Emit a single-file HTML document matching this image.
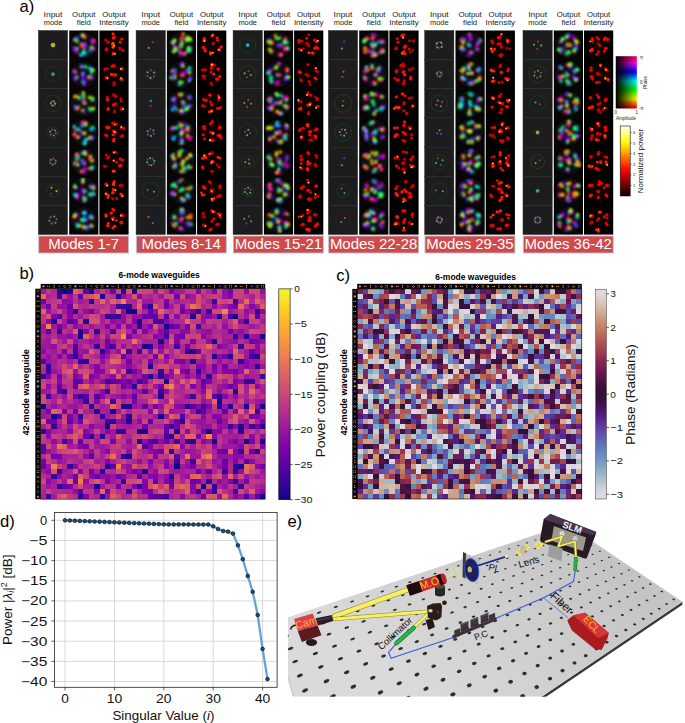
<!DOCTYPE html><html><head><meta charset="utf-8"><style>
html,body{margin:0;padding:0;background:#fff;}
body{width:685px;height:723px;overflow:hidden;position:relative;}
svg{position:absolute;left:0;top:0;}
text{font-family:'Liberation Sans',sans-serif;}
</style></head><body>
<svg width="685" height="723" viewBox="0 0 685 723">
<defs>
<filter id="bl1" x="-50%" y="-50%" width="200%" height="200%"><feGaussianBlur stdDeviation="0.9"/></filter>
<filter id="bl2" x="-50%" y="-50%" width="200%" height="200%"><feGaussianBlur stdDeviation="1.4"/></filter>
<filter id="bl07" x="-50%" y="-50%" width="200%" height="200%"><feGaussianBlur stdDeviation="0.85"/></filter>
<filter id="bl06" x="-50%" y="-50%" width="200%" height="200%"><feGaussianBlur stdDeviation="0.7"/></filter>
<filter id="bl05" x="-50%" y="-50%" width="200%" height="200%"><feGaussianBlur stdDeviation="0.5"/></filter>
</defs>
<rect width="685" height="723" fill="#fff"/>

<text x="19.6" y="11.7" font-size="16.6">a)</text>
<text x="53.0" y="17.4" font-size="7" text-anchor="middle" fill="#222" textLength="18.8" lengthAdjust="spacingAndGlyphs">Input</text>
<text x="53.0" y="25.3" font-size="7" text-anchor="middle" fill="#222" textLength="18.6" lengthAdjust="spacingAndGlyphs">mode</text>
<text x="83.8" y="17.4" font-size="7" text-anchor="middle" fill="#222" textLength="23.4" lengthAdjust="spacingAndGlyphs">Output</text>
<text x="83.8" y="25.3" font-size="7" text-anchor="middle" fill="#222" textLength="14.0" lengthAdjust="spacingAndGlyphs">field</text>
<text x="114.0" y="17.4" font-size="7" text-anchor="middle" fill="#222" textLength="23.4" lengthAdjust="spacingAndGlyphs">Output</text>
<text x="114.0" y="25.3" font-size="7" text-anchor="middle" fill="#222" textLength="29.6" lengthAdjust="spacingAndGlyphs">Intensity</text>
<rect x="69.2" y="30.5" width="29.2" height="204.1" fill="#060606"/>
<rect x="99.4" y="30.5" width="29.2" height="204.1" fill="#000"/>
<rect x="38.4" y="30.5" width="29.2" height="29.1" fill="#1d1d1d" stroke="#262626" stroke-width="0.5"/>
<g filter="url(#bl05)">
<circle cx="53.0" cy="45.1" r="8.5" fill="none" stroke="#2c1638" stroke-width="1"/>
<circle cx="53.0" cy="45.1" r="2.4" fill="#b0b22d"/>
</g>
<circle cx="83.8" cy="45.1" r="13" fill="#0c0a10" filter="url(#bl2)"/>
<g filter="url(#bl07)">
<circle cx="82.8" cy="47.1" r="1.62" fill="#ff2700"/>
<circle cx="81.8" cy="46.7" r="0.89" fill="#c4ff00"/>
<circle cx="85.8" cy="47.0" r="1.91" fill="#000eff"/>
<circle cx="85.0" cy="47.8" r="1.05" fill="#ff00f8"/>
<circle cx="84.8" cy="44.0" r="1.81" fill="#0075ff"/>
<circle cx="85.6" cy="44.8" r="1.00" fill="#9f00ff"/>
<circle cx="81.5" cy="44.8" r="2.16" fill="#ff008b"/>
<circle cx="81.6" cy="43.7" r="1.19" fill="#ff8800"/>
<circle cx="93.9" cy="48.9" r="1.85" fill="#b900d6"/>
<circle cx="93.8" cy="50.0" r="1.02" fill="#d6000c"/>
<circle cx="91.9" cy="48.0" r="1.91" fill="#0033e0"/>
<circle cx="92.9" cy="48.5" r="1.05" fill="#bf00e0"/>
<circle cx="91.4" cy="47.5" r="1.71" fill="#b0da00"/>
<circle cx="92.5" cy="47.4" r="0.94" fill="#00da3b"/>
<circle cx="90.0" cy="51.0" r="1.76" fill="#007ad9"/>
<circle cx="89.1" cy="50.4" r="0.97" fill="#7100d9"/>
<circle cx="81.2" cy="54.6" r="2.14" fill="#00e7ff"/>
<circle cx="80.8" cy="53.6" r="1.18" fill="#2c00ff"/>
<circle cx="83.7" cy="51.7" r="1.85" fill="#00ff8f"/>
<circle cx="84.8" cy="51.7" r="1.02" fill="#005cff"/>
<circle cx="84.6" cy="53.2" r="2.17" fill="#00ff94"/>
<circle cx="85.1" cy="54.2" r="1.19" fill="#0057ff"/>
<circle cx="75.9" cy="51.0" r="1.98" fill="#0d00dc"/>
<circle cx="74.8" cy="51.0" r="1.09" fill="#dc00bd"/>
<circle cx="77.4" cy="48.3" r="1.63" fill="#00d453"/>
<circle cx="77.6" cy="49.4" r="0.90" fill="#0071d4"/>
<circle cx="76.5" cy="51.1" r="1.96" fill="#d300ca"/>
<circle cx="75.5" cy="51.4" r="1.08" fill="#d31a00"/>
<circle cx="74.0" cy="48.8" r="2.18" fill="#0009d6"/>
<circle cx="73.8" cy="47.7" r="1.20" fill="#d600ce"/>
<circle cx="74.8" cy="39.6" r="1.85" fill="#bbd000"/>
<circle cx="75.5" cy="38.8" r="1.02" fill="#00d026"/>
<circle cx="76.4" cy="38.6" r="2.15" fill="#4f00d1"/>
<circle cx="77.5" cy="38.8" r="1.18" fill="#d10071"/>
<circle cx="77.0" cy="38.6" r="1.63" fill="#00bddc"/>
<circle cx="78.0" cy="39.0" r="0.90" fill="#3000dc"/>
<circle cx="77.0" cy="41.2" r="1.71" fill="#66d300"/>
<circle cx="76.8" cy="42.3" r="0.94" fill="#00d37e"/>
<circle cx="82.6" cy="36.1" r="2.01" fill="#006ded"/>
<circle cx="83.0" cy="35.1" r="1.10" fill="#9400ed"/>
<circle cx="84.8" cy="36.7" r="2.09" fill="#f8005c"/>
<circle cx="84.6" cy="37.8" r="1.15" fill="#f8b000"/>
<circle cx="82.3" cy="34.8" r="1.62" fill="#d4f900"/>
<circle cx="83.2" cy="34.2" r="0.89" fill="#00f939"/>
<circle cx="93.8" cy="40.5" r="1.79" fill="#f64b00"/>
<circle cx="94.1" cy="41.5" r="0.98" fill="#98f600"/>
<circle cx="93.0" cy="42.4" r="2.12" fill="#c100f5"/>
<circle cx="92.2" cy="43.2" r="1.16" fill="#f50021"/>
<circle cx="91.7" cy="40.1" r="1.72" fill="#9900ff"/>
<circle cx="92.8" cy="40.4" r="0.95" fill="#ff0051"/>
</g>
<circle cx="114.0" cy="45.1" r="11.5" fill="#0e0000" filter="url(#bl2)"/>
<g filter="url(#bl06)">
<circle cx="112.3" cy="44.2" r="1.26" fill="#ff3a00"/>
<circle cx="113.0" cy="43.5" r="1.68" fill="#ff4700"/>
<circle cx="113.1" cy="46.9" r="1.74" fill="#ff4900"/>
<circle cx="119.5" cy="47.8" r="1.35" fill="#d20000"/>
<circle cx="120.0" cy="49.3" r="1.43" fill="#ca0000"/>
<circle cx="123.0" cy="50.2" r="1.43" fill="#dd0000"/>
<circle cx="113.0" cy="53.4" r="1.40" fill="#ff0a00"/>
<circle cx="113.3" cy="53.9" r="1.55" fill="#ff2200"/>
<circle cx="106.7" cy="49.1" r="1.74" fill="#c50000"/>
<circle cx="106.0" cy="49.7" r="1.57" fill="#d50000"/>
<circle cx="106.7" cy="49.9" r="1.43" fill="#d70000"/>
<circle cx="108.0" cy="42.2" r="1.70" fill="#cf0000"/>
<circle cx="105.8" cy="39.9" r="1.51" fill="#c00000"/>
<circle cx="113.4" cy="38.1" r="1.74" fill="#ff1200"/>
<circle cx="114.2" cy="37.1" r="1.59" fill="#ff1500"/>
<circle cx="113.1" cy="33.9" r="1.71" fill="#ff1a00"/>
<circle cx="120.2" cy="42.2" r="1.66" fill="#ff0200"/>
<circle cx="121.7" cy="39.1" r="1.43" fill="#ff0d00"/>
</g>
<g filter="url(#bl05)">
<circle cx="114.3" cy="45.4" r="0.91" fill="#ff9d00"/>
<circle cx="114.3" cy="45.4" r="0.5" fill="#ffe890"/>
<circle cx="115.0" cy="53.8" r="1.06" fill="#ff7900"/>
<circle cx="115.0" cy="53.8" r="0.5" fill="#ffe890"/>
</g>
<rect x="38.4" y="59.6" width="29.2" height="29.1" fill="#1d1d1d" stroke="#262626" stroke-width="0.5"/>
<g filter="url(#bl05)">
<circle cx="53.0" cy="74.2" r="7.6" fill="none" stroke="#163820" stroke-width="1"/>
<circle cx="53.0" cy="74.2" r="1.9" fill="#2d8cb2"/>
</g>
<circle cx="83.8" cy="74.2" r="13" fill="#0c0a10" filter="url(#bl2)"/>
<g filter="url(#bl07)">
<circle cx="83.3" cy="76.6" r="2.17" fill="#3700ff"/>
<circle cx="82.2" cy="76.4" r="1.19" fill="#ff00b3"/>
<circle cx="82.3" cy="74.9" r="1.80" fill="#2700ff"/>
<circle cx="81.9" cy="73.9" r="0.99" fill="#ff00c4"/>
<circle cx="83.2" cy="73.2" r="1.64" fill="#00b0ff"/>
<circle cx="84.2" cy="72.6" r="0.90" fill="#6400ff"/>
<circle cx="91.2" cy="77.6" r="1.85" fill="#fd003f"/>
<circle cx="92.3" cy="77.4" r="1.01" fill="#fdd200"/>
<circle cx="91.0" cy="76.6" r="1.94" fill="#5d00f1"/>
<circle cx="92.1" cy="76.4" r="1.07" fill="#f10081"/>
<circle cx="88.8" cy="77.4" r="1.98" fill="#fd3c00"/>
<circle cx="89.2" cy="76.4" r="1.09" fill="#acfd00"/>
<circle cx="90.4" cy="78.1" r="1.72" fill="#006cf5"/>
<circle cx="90.8" cy="77.0" r="0.94" fill="#9d00f5"/>
<circle cx="84.5" cy="84.4" r="1.93" fill="#6c00d7"/>
<circle cx="83.5" cy="84.8" r="1.06" fill="#d7005a"/>
<circle cx="84.6" cy="81.2" r="2.01" fill="#003cd9"/>
<circle cx="85.6" cy="81.6" r="1.10" fill="#ae00d9"/>
<circle cx="82.9" cy="81.6" r="2.05" fill="#0089d3"/>
<circle cx="83.8" cy="80.9" r="1.13" fill="#5b00d3"/>
<circle cx="75.0" cy="79.6" r="1.80" fill="#7600dd"/>
<circle cx="74.3" cy="78.8" r="0.99" fill="#dd0056"/>
<circle cx="77.0" cy="77.1" r="1.87" fill="#e200d3"/>
<circle cx="78.0" cy="77.6" r="1.03" fill="#e22200"/>
<circle cx="76.1" cy="77.6" r="1.95" fill="#00e34d"/>
<circle cx="77.2" cy="77.4" r="1.07" fill="#0084e3"/>
<circle cx="74.3" cy="77.7" r="1.85" fill="#0f00df"/>
<circle cx="74.7" cy="76.7" r="1.02" fill="#df00be"/>
<circle cx="75.5" cy="72.2" r="1.81" fill="#00dd81"/>
<circle cx="74.4" cy="72.0" r="1.00" fill="#004add"/>
<circle cx="74.4" cy="71.4" r="2.13" fill="#0070dc"/>
<circle cx="74.0" cy="70.4" r="1.17" fill="#7d00dc"/>
<circle cx="74.9" cy="71.8" r="2.01" fill="#d60094"/>
<circle cx="74.1" cy="71.0" r="1.11" fill="#d65300"/>
<circle cx="85.9" cy="66.8" r="1.72" fill="#1dea00"/>
<circle cx="85.4" cy="67.7" r="0.95" fill="#00eae0"/>
<circle cx="81.5" cy="66.8" r="2.06" fill="#e100e9"/>
<circle cx="81.0" cy="65.8" r="1.13" fill="#e90b00"/>
<circle cx="82.1" cy="66.0" r="1.79" fill="#00a5e3"/>
<circle cx="81.9" cy="65.0" r="0.98" fill="#5100e3"/>
<circle cx="91.0" cy="68.5" r="1.87" fill="#6500ff"/>
<circle cx="92.2" cy="68.7" r="1.03" fill="#ff0085"/>
<circle cx="92.9" cy="70.2" r="1.83" fill="#85ff00"/>
<circle cx="92.5" cy="71.3" r="1.00" fill="#00ff8e"/>
<circle cx="90.1" cy="68.4" r="1.98" fill="#00ffdb"/>
<circle cx="90.9" cy="67.7" r="1.09" fill="#000fff"/>
<circle cx="91.7" cy="72.0" r="1.75" fill="#42fa00"/>
<circle cx="90.7" cy="72.3" r="0.96" fill="#00facc"/>
</g>
<circle cx="114.0" cy="74.2" r="11.5" fill="#0e0000" filter="url(#bl2)"/>
<g filter="url(#bl06)">
<circle cx="115.3" cy="74.8" r="1.63" fill="#ff1f00"/>
<circle cx="114.3" cy="75.0" r="1.66" fill="#ff0a00"/>
<circle cx="111.6" cy="74.4" r="1.57" fill="#ff1a00"/>
<circle cx="121.0" cy="79.2" r="1.49" fill="#ff1200"/>
<circle cx="122.4" cy="79.5" r="1.28" fill="#ff1d00"/>
<circle cx="114.7" cy="82.7" r="1.30" fill="#c00000"/>
<circle cx="113.6" cy="82.9" r="1.30" fill="#c50000"/>
<circle cx="113.9" cy="85.0" r="1.57" fill="#c00000"/>
<circle cx="106.9" cy="77.7" r="1.74" fill="#e20000"/>
<circle cx="106.2" cy="77.9" r="1.56" fill="#da0000"/>
<circle cx="106.7" cy="77.5" r="1.73" fill="#e20000"/>
<circle cx="107.2" cy="68.8" r="1.57" fill="#d20000"/>
<circle cx="105.1" cy="69.2" r="1.77" fill="#ca0000"/>
<circle cx="113.3" cy="65.6" r="1.62" fill="#f40000"/>
<circle cx="111.8" cy="66.7" r="1.40" fill="#f70000"/>
<circle cx="114.5" cy="66.0" r="1.38" fill="#e40000"/>
<circle cx="122.1" cy="69.0" r="1.61" fill="#ff2c00"/>
<circle cx="122.0" cy="68.3" r="1.67" fill="#ff0200"/>
</g>
<g filter="url(#bl05)">
<circle cx="121.1" cy="78.0" r="1.11" fill="#ff6b00"/>
<circle cx="121.1" cy="78.0" r="0.5" fill="#ffe890"/>
<circle cx="107.4" cy="78.3" r="0.98" fill="#ffa500"/>
<circle cx="107.4" cy="78.3" r="0.5" fill="#ffe890"/>
<circle cx="120.8" cy="68.9" r="0.98" fill="#ff9300"/>
<circle cx="120.8" cy="68.9" r="0.5" fill="#ffe890"/>
</g>
<rect x="38.4" y="88.8" width="29.2" height="29.1" fill="#1d1d1d" stroke="#262626" stroke-width="0.5"/>
<g filter="url(#bl05)">
<circle cx="53.0" cy="103.4" r="8.1" fill="none" stroke="#382e16" stroke-width="1"/>
<circle cx="52.6" cy="105.6" r="1.05" fill="#b2952d"/>
<circle cx="51.2" cy="104.7" r="1.05" fill="#2d4ab2"/>
<circle cx="50.8" cy="103.0" r="1.05" fill="#b2952d"/>
<circle cx="51.7" cy="101.5" r="1.05" fill="#2d4ab2"/>
<circle cx="53.4" cy="101.2" r="1.05" fill="#b2952d"/>
<circle cx="54.8" cy="102.0" r="1.05" fill="#2d4ab2"/>
<circle cx="55.2" cy="103.7" r="1.05" fill="#b2952d"/>
<circle cx="54.3" cy="105.2" r="1.05" fill="#2d4ab2"/>
</g>
<circle cx="83.8" cy="103.4" r="13" fill="#0c0a10" filter="url(#bl2)"/>
<g filter="url(#bl07)">
<circle cx="84.5" cy="102.9" r="1.88" fill="#01e300"/>
<circle cx="85.1" cy="103.8" r="1.03" fill="#00d2e3"/>
<circle cx="84.6" cy="102.9" r="1.91" fill="#e3e900"/>
<circle cx="85.2" cy="103.9" r="1.05" fill="#00e919"/>
<circle cx="83.8" cy="101.7" r="2.19" fill="#e6c300"/>
<circle cx="84.8" cy="101.7" r="1.20" fill="#11e600"/>
<circle cx="83.8" cy="102.3" r="2.07" fill="#c300e5"/>
<circle cx="84.9" cy="102.3" r="1.14" fill="#e50010"/>
<circle cx="93.1" cy="108.8" r="2.00" fill="#dad500"/>
<circle cx="93.0" cy="109.9" r="1.10" fill="#00da0c"/>
<circle cx="89.5" cy="108.6" r="1.63" fill="#d8b400"/>
<circle cx="89.5" cy="107.5" r="0.90" fill="#12d800"/>
<circle cx="90.8" cy="109.7" r="1.95" fill="#00d9ab"/>
<circle cx="89.7" cy="109.9" r="1.07" fill="#001cd9"/>
<circle cx="90.4" cy="109.5" r="1.75" fill="#03df00"/>
<circle cx="89.3" cy="109.3" r="0.96" fill="#00d0df"/>
<circle cx="83.1" cy="110.3" r="1.79" fill="#de0097"/>
<circle cx="84.2" cy="110.4" r="0.98" fill="#de5a00"/>
<circle cx="82.9" cy="110.6" r="1.96" fill="#d7b400"/>
<circle cx="84.0" cy="110.5" r="1.08" fill="#12d700"/>
<circle cx="84.0" cy="111.5" r="1.68" fill="#3b00d8"/>
<circle cx="84.5" cy="112.5" r="0.92" fill="#d8008c"/>
<circle cx="78.4" cy="107.1" r="1.66" fill="#ffc500"/>
<circle cx="78.6" cy="108.2" r="0.91" fill="#25ff00"/>
<circle cx="77.5" cy="108.3" r="2.15" fill="#ec0058"/>
<circle cx="76.9" cy="109.2" r="1.18" fill="#eca700"/>
<circle cx="75.5" cy="106.9" r="1.94" fill="#0092f9"/>
<circle cx="76.2" cy="106.0" r="1.07" fill="#7a00f9"/>
<circle cx="75.2" cy="96.4" r="1.85" fill="#f7e800"/>
<circle cx="76.2" cy="95.9" r="1.02" fill="#00f705"/>
<circle cx="77.0" cy="96.4" r="1.87" fill="#e9000b"/>
<circle cx="78.1" cy="96.6" r="1.03" fill="#e2e900"/>
<circle cx="79.0" cy="98.0" r="1.84" fill="#00fa3b"/>
<circle cx="79.4" cy="99.0" r="1.01" fill="#00abfa"/>
<circle cx="82.7" cy="96.4" r="1.83" fill="#00d8b3"/>
<circle cx="81.9" cy="95.7" r="1.01" fill="#0014d8"/>
<circle cx="83.4" cy="95.2" r="1.94" fill="#dd5100"/>
<circle cx="82.9" cy="94.2" r="1.07" fill="#7add00"/>
<circle cx="83.2" cy="92.7" r="1.77" fill="#84d500"/>
<circle cx="84.2" cy="92.2" r="0.97" fill="#00d562"/>
<circle cx="83.6" cy="97.0" r="1.98" fill="#00d735"/>
<circle cx="82.5" cy="96.6" r="1.09" fill="#0091d7"/>
<circle cx="92.8" cy="100.1" r="1.98" fill="#7700dc"/>
<circle cx="92.1" cy="101.0" r="1.09" fill="#dc0054"/>
<circle cx="92.6" cy="99.1" r="1.81" fill="#0075db"/>
<circle cx="92.4" cy="100.2" r="0.99" fill="#7800db"/>
<circle cx="89.5" cy="97.5" r="1.65" fill="#e3d200"/>
<circle cx="90.2" cy="96.7" r="0.91" fill="#00e301"/>
<circle cx="92.2" cy="98.5" r="2.19" fill="#69da00"/>
<circle cx="92.5" cy="99.6" r="1.21" fill="#00da83"/>
</g>
<circle cx="114.0" cy="103.4" r="11.5" fill="#0e0000" filter="url(#bl2)"/>
<g filter="url(#bl06)">
<circle cx="113.6" cy="105.1" r="1.77" fill="#ff0000"/>
<circle cx="115.5" cy="103.8" r="1.62" fill="#f20000"/>
<circle cx="121.4" cy="108.7" r="1.25" fill="#d20000"/>
<circle cx="121.2" cy="109.8" r="1.22" fill="#c80000"/>
<circle cx="122.1" cy="108.0" r="1.63" fill="#ca0000"/>
<circle cx="114.7" cy="110.8" r="1.39" fill="#c50000"/>
<circle cx="114.2" cy="112.1" r="1.28" fill="#c20000"/>
<circle cx="107.8" cy="109.5" r="1.40" fill="#ff0800"/>
<circle cx="108.3" cy="108.6" r="1.53" fill="#ff1500"/>
<circle cx="107.5" cy="99.5" r="1.77" fill="#fc0000"/>
<circle cx="107.4" cy="97.2" r="1.21" fill="#f90000"/>
<circle cx="115.9" cy="96.2" r="1.67" fill="#d50000"/>
<circle cx="113.7" cy="95.0" r="1.71" fill="#c50000"/>
<circle cx="121.3" cy="101.1" r="1.39" fill="#d70000"/>
<circle cx="120.7" cy="98.7" r="1.32" fill="#da0000"/>
</g>
<g filter="url(#bl05)">
<circle cx="123.0" cy="109.3" r="1.05" fill="#ffa000"/>
<circle cx="123.0" cy="109.3" r="0.5" fill="#ffe890"/>
</g>
<rect x="38.4" y="118.0" width="29.2" height="29.1" fill="#1d1d1d" stroke="#262626" stroke-width="0.5"/>
<g filter="url(#bl05)">
<circle cx="53.0" cy="132.5" r="5.6" fill="none" stroke="#213816" stroke-width="1"/>
<circle cx="55.9" cy="133.4" r="1.05" fill="#b22d80"/>
<circle cx="53.7" cy="135.5" r="1.05" fill="#2db25f"/>
<circle cx="50.8" cy="134.6" r="1.05" fill="#b22d80"/>
<circle cx="50.1" cy="131.6" r="1.05" fill="#2db25f"/>
<circle cx="52.3" cy="129.6" r="1.05" fill="#b22d80"/>
<circle cx="55.2" cy="130.5" r="1.05" fill="#2db25f"/>
</g>
<circle cx="83.8" cy="132.5" r="13" fill="#0c0a10" filter="url(#bl2)"/>
<g filter="url(#bl07)">
<circle cx="81.2" cy="132.4" r="1.68" fill="#0900ee"/>
<circle cx="81.3" cy="131.3" r="0.93" fill="#ee00d2"/>
<circle cx="84.7" cy="132.5" r="1.61" fill="#32ff00"/>
<circle cx="84.7" cy="133.6" r="0.88" fill="#00ffe2"/>
<circle cx="84.5" cy="133.6" r="1.96" fill="#f98100"/>
<circle cx="83.5" cy="134.2" r="1.08" fill="#64f900"/>
<circle cx="91.0" cy="137.4" r="1.94" fill="#c700e6"/>
<circle cx="90.0" cy="137.0" r="1.07" fill="#e6000c"/>
<circle cx="92.6" cy="137.9" r="2.12" fill="#0032df"/>
<circle cx="91.8" cy="138.7" r="1.17" fill="#bf00df"/>
<circle cx="90.0" cy="137.7" r="2.06" fill="#e19a00"/>
<circle cx="89.3" cy="136.8" r="1.13" fill="#35e100"/>
<circle cx="85.1" cy="143.8" r="1.85" fill="#5000fa"/>
<circle cx="84.0" cy="143.7" r="1.02" fill="#fa0096"/>
<circle cx="85.5" cy="139.9" r="1.91" fill="#0029ff"/>
<circle cx="86.5" cy="140.1" r="1.05" fill="#ea00ff"/>
<circle cx="86.5" cy="139.8" r="2.15" fill="#00f6c2"/>
<circle cx="87.3" cy="140.5" r="1.18" fill="#0020f6"/>
<circle cx="84.4" cy="143.0" r="2.17" fill="#00ff74"/>
<circle cx="83.4" cy="142.6" r="1.19" fill="#0076ff"/>
<circle cx="78.8" cy="136.8" r="1.90" fill="#0053e1"/>
<circle cx="78.6" cy="137.9" r="1.04" fill="#a000e1"/>
<circle cx="77.9" cy="136.9" r="1.78" fill="#cee800"/>
<circle cx="77.5" cy="137.9" r="0.98" fill="#00e82d"/>
<circle cx="74.1" cy="134.8" r="1.94" fill="#e70058"/>
<circle cx="74.8" cy="133.9" r="1.07" fill="#e7a200"/>
<circle cx="77.6" cy="136.3" r="2.12" fill="#e20035"/>
<circle cx="77.6" cy="137.4" r="1.17" fill="#e2bf00"/>
<circle cx="76.0" cy="130.1" r="1.65" fill="#43fe00"/>
<circle cx="74.9" cy="129.8" r="0.91" fill="#00fecf"/>
<circle cx="78.3" cy="129.4" r="1.91" fill="#00eaa3"/>
<circle cx="77.5" cy="130.2" r="1.05" fill="#0035ea"/>
<circle cx="76.0" cy="129.6" r="1.64" fill="#7500fd"/>
<circle cx="75.0" cy="129.3" r="0.90" fill="#fd0074"/>
<circle cx="74.3" cy="126.3" r="1.66" fill="#00fabe"/>
<circle cx="74.9" cy="125.4" r="0.91" fill="#0028fa"/>
<circle cx="85.3" cy="122.5" r="2.12" fill="#ea009d"/>
<circle cx="86.1" cy="123.3" r="1.17" fill="#ea6000"/>
<circle cx="86.0" cy="124.7" r="1.79" fill="#b7e000"/>
<circle cx="85.6" cy="125.7" r="0.99" fill="#00e03b"/>
<circle cx="82.2" cy="122.8" r="1.72" fill="#da005a"/>
<circle cx="82.8" cy="121.9" r="0.94" fill="#da9200"/>
<circle cx="82.3" cy="125.8" r="2.06" fill="#00a0e4"/>
<circle cx="81.5" cy="125.1" r="1.13" fill="#5700e4"/>
<circle cx="91.0" cy="129.2" r="1.96" fill="#00ebb6"/>
<circle cx="90.0" cy="128.9" r="1.08" fill="#0022eb"/>
<circle cx="92.9" cy="128.8" r="1.95" fill="#00e547"/>
<circle cx="92.5" cy="129.9" r="1.07" fill="#008ce5"/>
<circle cx="92.7" cy="127.8" r="2.13" fill="#00e667"/>
<circle cx="93.0" cy="128.9" r="1.17" fill="#006ce6"/>
</g>
<circle cx="114.0" cy="132.5" r="11.5" fill="#0e0000" filter="url(#bl2)"/>
<g filter="url(#bl06)">
<circle cx="113.6" cy="131.1" r="1.49" fill="#ff1a00"/>
<circle cx="115.1" cy="132.3" r="1.70" fill="#fc0000"/>
<circle cx="113.3" cy="134.7" r="1.51" fill="#ff1200"/>
<circle cx="122.4" cy="135.7" r="1.73" fill="#d20000"/>
<circle cx="120.9" cy="136.6" r="1.35" fill="#dd0000"/>
<circle cx="113.9" cy="139.1" r="1.30" fill="#ff1f00"/>
<circle cx="113.9" cy="141.2" r="1.25" fill="#ff2a00"/>
<circle cx="113.0" cy="140.8" r="1.36" fill="#ff0d00"/>
<circle cx="106.9" cy="136.0" r="1.25" fill="#e70000"/>
<circle cx="106.0" cy="135.2" r="1.74" fill="#ff0000"/>
<circle cx="107.2" cy="135.9" r="1.43" fill="#df0000"/>
<circle cx="106.9" cy="127.2" r="1.75" fill="#ff0800"/>
<circle cx="108.8" cy="127.4" r="1.71" fill="#ff1000"/>
<circle cx="114.0" cy="123.2" r="1.80" fill="#df0000"/>
<circle cx="112.6" cy="123.3" r="1.37" fill="#f20000"/>
<circle cx="116.5" cy="123.9" r="1.40" fill="#df0000"/>
<circle cx="123.8" cy="128.4" r="1.60" fill="#e40000"/>
<circle cx="121.4" cy="127.7" r="1.50" fill="#d70000"/>
</g>
<g filter="url(#bl05)">
<circle cx="114.6" cy="132.0" r="1.10" fill="#ff8b00"/>
<circle cx="114.6" cy="132.0" r="0.5" fill="#ffe890"/>
<circle cx="114.9" cy="124.8" r="0.91" fill="#ff6e00"/>
<circle cx="114.9" cy="124.8" r="0.5" fill="#ffe890"/>
<circle cx="121.4" cy="126.9" r="1.17" fill="#ff6400"/>
<circle cx="121.4" cy="126.9" r="0.5" fill="#ffe890"/>
</g>
<rect x="38.4" y="147.1" width="29.2" height="29.1" fill="#1d1d1d" stroke="#262626" stroke-width="0.5"/>
<g filter="url(#bl05)">
<circle cx="53.0" cy="161.7" r="4.3" fill="none" stroke="#381623" stroke-width="1"/>
<circle cx="52.6" cy="164.5" r="1.05" fill="#2d98b2"/>
<circle cx="50.3" cy="162.7" r="1.05" fill="#b2472d"/>
<circle cx="50.8" cy="159.9" r="1.05" fill="#2d98b2"/>
<circle cx="53.4" cy="158.8" r="1.05" fill="#b2472d"/>
<circle cx="55.7" cy="160.6" r="1.05" fill="#2d98b2"/>
<circle cx="55.2" cy="163.4" r="1.05" fill="#b2472d"/>
</g>
<circle cx="83.8" cy="161.7" r="13" fill="#0c0a10" filter="url(#bl2)"/>
<g filter="url(#bl07)">
<circle cx="82.5" cy="160.6" r="1.90" fill="#0092ea"/>
<circle cx="83.2" cy="159.7" r="1.04" fill="#6b00ea"/>
<circle cx="84.1" cy="163.2" r="2.14" fill="#fc7000"/>
<circle cx="83.0" cy="163.4" r="1.17" fill="#78fc00"/>
<circle cx="83.2" cy="162.5" r="2.13" fill="#0042ed"/>
<circle cx="82.3" cy="161.8" r="1.17" fill="#be00ed"/>
<circle cx="92.1" cy="167.4" r="1.79" fill="#00eae3"/>
<circle cx="91.3" cy="168.2" r="0.99" fill="#0b00ea"/>
<circle cx="90.7" cy="168.6" r="2.07" fill="#f10014"/>
<circle cx="89.6" cy="168.4" r="1.14" fill="#f1f000"/>
<circle cx="92.3" cy="167.9" r="2.09" fill="#00ef8e"/>
<circle cx="91.4" cy="168.6" r="1.15" fill="#004def"/>
<circle cx="83.9" cy="171.3" r="1.97" fill="#ea00ff"/>
<circle cx="83.1" cy="172.0" r="1.08" fill="#ff0001"/>
<circle cx="84.9" cy="168.2" r="1.73" fill="#7100ff"/>
<circle cx="85.7" cy="169.0" r="0.95" fill="#ff007a"/>
<circle cx="81.6" cy="171.7" r="1.84" fill="#fd0070"/>
<circle cx="80.8" cy="171.0" r="1.01" fill="#fda200"/>
<circle cx="78.1" cy="165.5" r="1.74" fill="#00d990"/>
<circle cx="78.0" cy="166.6" r="0.96" fill="#0038d9"/>
<circle cx="74.8" cy="163.4" r="1.84" fill="#00d1a4"/>
<circle cx="75.7" cy="162.8" r="1.01" fill="#001cd1"/>
<circle cx="75.9" cy="164.1" r="1.74" fill="#d57300"/>
<circle cx="77.0" cy="164.0" r="0.96" fill="#51d500"/>
<circle cx="76.7" cy="162.9" r="1.99" fill="#da0047"/>
<circle cx="77.8" cy="163.3" r="1.09" fill="#daa400"/>
<circle cx="77.8" cy="154.7" r="2.10" fill="#6d00e2"/>
<circle cx="78.8" cy="155.2" r="1.15" fill="#e20063"/>
<circle cx="76.2" cy="158.7" r="1.80" fill="#00c5db"/>
<circle cx="75.1" cy="158.4" r="0.99" fill="#2800db"/>
<circle cx="77.8" cy="158.2" r="2.11" fill="#00dd2f"/>
<circle cx="76.9" cy="158.8" r="1.16" fill="#009cdd"/>
<circle cx="75.9" cy="154.7" r="1.90" fill="#d90015"/>
<circle cx="76.9" cy="154.3" r="1.05" fill="#d9d600"/>
<circle cx="86.1" cy="154.0" r="2.05" fill="#f10048"/>
<circle cx="85.5" cy="154.9" r="1.13" fill="#f1bd00"/>
<circle cx="85.9" cy="151.8" r="1.81" fill="#c600fc"/>
<circle cx="86.8" cy="152.5" r="1.00" fill="#fc0022"/>
<circle cx="83.5" cy="153.1" r="2.19" fill="#26f800"/>
<circle cx="83.6" cy="152.0" r="1.21" fill="#00f8e6"/>
<circle cx="91.8" cy="160.4" r="2.11" fill="#f4cb00"/>
<circle cx="90.7" cy="160.6" r="1.16" fill="#16f400"/>
<circle cx="90.5" cy="156.4" r="1.66" fill="#b7e100"/>
<circle cx="91.3" cy="155.8" r="0.91" fill="#00e13b"/>
<circle cx="90.5" cy="159.1" r="2.19" fill="#ea006b"/>
<circle cx="89.6" cy="158.4" r="1.21" fill="#ea9200"/>
</g>
<circle cx="114.0" cy="161.7" r="11.5" fill="#0e0000" filter="url(#bl2)"/>
<g filter="url(#bl06)">
<circle cx="113.8" cy="160.9" r="1.30" fill="#ff0a00"/>
<circle cx="116.4" cy="162.3" r="1.31" fill="#ff0200"/>
<circle cx="121.0" cy="165.3" r="1.49" fill="#ff1000"/>
<circle cx="119.8" cy="166.0" r="1.79" fill="#ff0a00"/>
<circle cx="114.6" cy="170.9" r="1.26" fill="#ff1200"/>
<circle cx="113.5" cy="171.2" r="1.65" fill="#ff3700"/>
<circle cx="105.6" cy="166.4" r="1.38" fill="#c50000"/>
<circle cx="104.3" cy="166.2" r="1.37" fill="#c00000"/>
<circle cx="106.2" cy="155.0" r="1.26" fill="#df0000"/>
<circle cx="107.5" cy="157.7" r="1.65" fill="#d20000"/>
<circle cx="108.9" cy="156.6" r="1.38" fill="#cd0000"/>
<circle cx="113.9" cy="152.4" r="1.58" fill="#ff1000"/>
<circle cx="115.7" cy="152.2" r="1.20" fill="#ff0800"/>
<circle cx="120.2" cy="159.4" r="1.24" fill="#f20000"/>
<circle cx="120.2" cy="158.8" r="1.47" fill="#f40000"/>
<circle cx="122.6" cy="160.1" r="1.63" fill="#ec0000"/>
</g>
<g filter="url(#bl05)">
<circle cx="113.6" cy="160.4" r="0.92" fill="#ff6e00"/>
<circle cx="113.6" cy="160.4" r="0.5" fill="#ffe890"/>
<circle cx="114.2" cy="152.3" r="0.92" fill="#ff6900"/>
<circle cx="114.2" cy="152.3" r="0.5" fill="#ffe890"/>
</g>
<rect x="38.4" y="176.2" width="29.2" height="29.1" fill="#1d1d1d" stroke="#262626" stroke-width="0.5"/>
<g filter="url(#bl05)">
<circle cx="53.0" cy="190.8" r="6.1" fill="none" stroke="#193816" stroke-width="1"/>
<circle cx="56.5" cy="191.1" r="1.05" fill="#98b22d"/>
<circle cx="51.0" cy="193.7" r="1.05" fill="#482db2"/>
<circle cx="51.5" cy="187.7" r="1.05" fill="#98b22d"/>
</g>
<circle cx="83.8" cy="190.8" r="13" fill="#0c0a10" filter="url(#bl2)"/>
<g filter="url(#bl07)">
<circle cx="85.0" cy="191.1" r="1.70" fill="#62fa00"/>
<circle cx="84.7" cy="192.2" r="0.94" fill="#00faac"/>
<circle cx="82.4" cy="190.5" r="2.01" fill="#0011fc"/>
<circle cx="82.6" cy="189.4" r="1.11" fill="#fc00fa"/>
<circle cx="83.8" cy="193.0" r="1.64" fill="#6800ff"/>
<circle cx="82.8" cy="193.1" r="0.90" fill="#ff0083"/>
<circle cx="93.4" cy="193.9" r="1.91" fill="#5dfe00"/>
<circle cx="93.7" cy="195.0" r="1.05" fill="#00feb5"/>
<circle cx="90.2" cy="194.4" r="2.07" fill="#67fc00"/>
<circle cx="90.4" cy="193.3" r="1.14" fill="#00fca9"/>
<circle cx="90.7" cy="194.9" r="1.61" fill="#00f7b0"/>
<circle cx="90.3" cy="193.9" r="0.88" fill="#0033f7"/>
<circle cx="92.9" cy="194.4" r="1.63" fill="#00c3fc"/>
<circle cx="93.1" cy="195.5" r="0.90" fill="#4d00fc"/>
<circle cx="85.3" cy="198.9" r="1.70" fill="#00db6f"/>
<circle cx="85.8" cy="200.0" r="0.94" fill="#005adb"/>
<circle cx="83.0" cy="197.4" r="1.61" fill="#7d00e0"/>
<circle cx="84.0" cy="196.8" r="0.89" fill="#e00051"/>
<circle cx="84.5" cy="201.2" r="1.87" fill="#3000db"/>
<circle cx="83.4" cy="201.4" r="1.03" fill="#db009a"/>
<circle cx="84.7" cy="198.7" r="2.20" fill="#55da00"/>
<circle cx="85.7" cy="199.3" r="1.21" fill="#00da96"/>
<circle cx="76.7" cy="196.4" r="1.69" fill="#00ff7f"/>
<circle cx="75.6" cy="196.5" r="0.93" fill="#006bff"/>
<circle cx="77.2" cy="194.5" r="2.13" fill="#3700f4"/>
<circle cx="78.2" cy="195.1" r="1.17" fill="#f400a9"/>
<circle cx="77.3" cy="197.7" r="1.66" fill="#f700ef"/>
<circle cx="76.2" cy="198.0" r="0.91" fill="#f71c00"/>
<circle cx="75.0" cy="194.6" r="1.88" fill="#00ffdf"/>
<circle cx="75.6" cy="193.6" r="1.03" fill="#000bff"/>
<circle cx="74.6" cy="186.8" r="1.78" fill="#00e363"/>
<circle cx="74.5" cy="185.7" r="0.98" fill="#006ee3"/>
<circle cx="76.2" cy="187.9" r="1.72" fill="#9e00e2"/>
<circle cx="75.1" cy="187.8" r="0.95" fill="#e20032"/>
<circle cx="74.9" cy="186.4" r="1.90" fill="#82e800"/>
<circle cx="75.1" cy="185.3" r="1.05" fill="#00e879"/>
<circle cx="82.7" cy="179.8" r="1.87" fill="#ff00e1"/>
<circle cx="83.6" cy="179.3" r="1.03" fill="#ff3200"/>
<circle cx="82.8" cy="182.9" r="1.72" fill="#f40047"/>
<circle cx="82.2" cy="181.9" r="0.95" fill="#f4c100"/>
<circle cx="82.9" cy="180.5" r="1.85" fill="#54ff00"/>
<circle cx="83.8" cy="180.0" r="1.02" fill="#00ffc0"/>
<circle cx="93.6" cy="188.2" r="2.13" fill="#d78500"/>
<circle cx="93.0" cy="189.1" r="1.17" fill="#41d700"/>
<circle cx="93.9" cy="185.9" r="1.62" fill="#cd00d4"/>
<circle cx="94.2" cy="187.0" r="0.89" fill="#d40a00"/>
<circle cx="90.5" cy="187.1" r="1.80" fill="#d10031"/>
<circle cx="90.2" cy="186.0" r="0.99" fill="#d1b000"/>
<circle cx="91.6" cy="187.6" r="2.14" fill="#00d2d1"/>
<circle cx="90.6" cy="187.9" r="1.18" fill="#1000d2"/>
</g>
<circle cx="114.0" cy="190.8" r="11.5" fill="#0e0000" filter="url(#bl2)"/>
<g filter="url(#bl06)">
<circle cx="113.5" cy="189.6" r="1.68" fill="#ff1f00"/>
<circle cx="113.0" cy="192.8" r="1.57" fill="#ff2500"/>
<circle cx="112.6" cy="192.7" r="1.41" fill="#ff2500"/>
<circle cx="120.7" cy="194.1" r="1.41" fill="#ff2c00"/>
<circle cx="121.9" cy="195.1" r="1.79" fill="#ff1200"/>
<circle cx="122.0" cy="196.0" r="1.20" fill="#ff2f00"/>
<circle cx="116.5" cy="198.4" r="1.56" fill="#cd0000"/>
<circle cx="112.6" cy="198.7" r="1.43" fill="#d20000"/>
<circle cx="107.9" cy="197.6" r="1.42" fill="#ff2a00"/>
<circle cx="106.2" cy="194.1" r="1.41" fill="#ff0d00"/>
<circle cx="108.0" cy="195.2" r="1.77" fill="#ff1a00"/>
<circle cx="106.3" cy="184.4" r="1.79" fill="#fc0000"/>
<circle cx="105.9" cy="184.1" r="1.51" fill="#ea0000"/>
<circle cx="114.2" cy="181.7" r="1.35" fill="#ff3200"/>
<circle cx="113.5" cy="184.4" r="1.64" fill="#ff2f00"/>
<circle cx="113.4" cy="183.5" r="1.41" fill="#ff2c00"/>
<circle cx="121.9" cy="185.3" r="1.43" fill="#d50000"/>
<circle cx="121.6" cy="185.0" r="1.52" fill="#ca0000"/>
<circle cx="120.3" cy="185.8" r="1.79" fill="#c50000"/>
</g>
<g filter="url(#bl05)">
<circle cx="115.5" cy="190.2" r="0.91" fill="#ffa800"/>
<circle cx="115.5" cy="190.2" r="0.5" fill="#ffe890"/>
<circle cx="122.5" cy="196.2" r="1.06" fill="#ff6400"/>
<circle cx="122.5" cy="196.2" r="0.5" fill="#ffe890"/>
<circle cx="105.8" cy="193.6" r="1.15" fill="#ff7e00"/>
<circle cx="105.8" cy="193.6" r="0.5" fill="#ffe890"/>
<circle cx="107.2" cy="185.6" r="1.11" fill="#ff9d00"/>
<circle cx="107.2" cy="185.6" r="0.5" fill="#ffe890"/>
</g>
<rect x="38.4" y="205.4" width="29.2" height="29.1" fill="#1d1d1d" stroke="#262626" stroke-width="0.5"/>
<g filter="url(#bl05)">
<circle cx="53.0" cy="220.0" r="4.2" fill="none" stroke="#361638" stroke-width="1"/>
<circle cx="55.4" cy="222.7" r="1.05" fill="#2d94b2"/>
<circle cx="51.8" cy="223.4" r="1.05" fill="#b24b2d"/>
<circle cx="49.4" cy="220.7" r="1.05" fill="#2d94b2"/>
<circle cx="50.6" cy="217.2" r="1.05" fill="#b24b2d"/>
<circle cx="54.2" cy="216.5" r="1.05" fill="#2d94b2"/>
<circle cx="56.6" cy="219.2" r="1.05" fill="#b24b2d"/>
</g>
<circle cx="83.8" cy="220.0" r="13" fill="#0c0a10" filter="url(#bl2)"/>
<g filter="url(#bl07)">
<circle cx="83.1" cy="220.6" r="1.99" fill="#00f6cb"/>
<circle cx="82.4" cy="219.8" r="1.09" fill="#0018f6"/>
<circle cx="86.3" cy="219.6" r="1.87" fill="#0032fc"/>
<circle cx="86.5" cy="220.7" r="1.03" fill="#de00fc"/>
<circle cx="84.2" cy="218.7" r="1.96" fill="#00d5fe"/>
<circle cx="85.3" cy="219.0" r="1.08" fill="#3d00fe"/>
<circle cx="81.4" cy="219.9" r="1.61" fill="#1ffa00"/>
<circle cx="81.5" cy="218.8" r="0.89" fill="#00faee"/>
<circle cx="91.5" cy="225.0" r="1.61" fill="#74ff00"/>
<circle cx="90.5" cy="225.1" r="0.89" fill="#00ff9f"/>
<circle cx="90.9" cy="225.7" r="1.83" fill="#3800ff"/>
<circle cx="89.8" cy="225.4" r="1.01" fill="#ff00b3"/>
<circle cx="91.9" cy="226.3" r="1.74" fill="#f0b000"/>
<circle cx="90.8" cy="226.6" r="0.96" fill="#2df000"/>
<circle cx="86.8" cy="227.7" r="2.02" fill="#009dff"/>
<circle cx="87.2" cy="228.8" r="1.11" fill="#7600ff"/>
<circle cx="83.7" cy="227.5" r="2.07" fill="#fc8c00"/>
<circle cx="84.5" cy="226.7" r="1.14" fill="#5cfc00"/>
<circle cx="83.2" cy="226.7" r="1.83" fill="#ff4400"/>
<circle cx="84.0" cy="226.0" r="1.01" fill="#a7ff00"/>
<circle cx="86.5" cy="227.6" r="1.98" fill="#00b7ff"/>
<circle cx="87.0" cy="228.6" r="1.09" fill="#5d00ff"/>
<circle cx="76.3" cy="224.0" r="1.65" fill="#005cf7"/>
<circle cx="77.3" cy="223.5" r="0.90" fill="#af00f7"/>
<circle cx="78.0" cy="226.3" r="1.67" fill="#6cff00"/>
<circle cx="77.2" cy="227.0" r="0.92" fill="#00ffa7"/>
<circle cx="79.6" cy="225.2" r="1.73" fill="#1ffc00"/>
<circle cx="79.5" cy="226.3" r="0.95" fill="#00fcf1"/>
<circle cx="74.5" cy="216.8" r="2.19" fill="#ff3c00"/>
<circle cx="73.9" cy="215.9" r="1.21" fill="#afff00"/>
<circle cx="75.1" cy="214.9" r="1.79" fill="#92f500"/>
<circle cx="75.5" cy="213.9" r="0.99" fill="#00f577"/>
<circle cx="77.0" cy="214.8" r="1.61" fill="#b700ff"/>
<circle cx="77.8" cy="215.5" r="0.89" fill="#ff0034"/>
<circle cx="85.2" cy="212.4" r="2.12" fill="#0900f3"/>
<circle cx="84.7" cy="213.4" r="1.16" fill="#f300d6"/>
<circle cx="83.5" cy="213.0" r="1.65" fill="#fdae00"/>
<circle cx="82.5" cy="213.3" r="0.91" fill="#3afd00"/>
<circle cx="84.1" cy="213.5" r="2.04" fill="#00fdfd"/>
<circle cx="83.1" cy="214.0" r="1.12" fill="#1500fd"/>
<circle cx="92.0" cy="217.8" r="1.87" fill="#e5a000"/>
<circle cx="90.9" cy="218.2" r="1.03" fill="#33e500"/>
<circle cx="92.0" cy="216.4" r="1.82" fill="#0015f0"/>
<circle cx="91.3" cy="217.2" r="1.00" fill="#ef00f0"/>
<circle cx="90.3" cy="216.5" r="2.16" fill="#00ceed"/>
<circle cx="89.6" cy="215.6" r="1.19" fill="#3200ed"/>
</g>
<circle cx="114.0" cy="220.0" r="11.5" fill="#0e0000" filter="url(#bl2)"/>
<g filter="url(#bl06)">
<circle cx="116.3" cy="220.6" r="1.41" fill="#ff1000"/>
<circle cx="113.7" cy="217.8" r="1.37" fill="#ff0200"/>
<circle cx="112.3" cy="218.3" r="1.49" fill="#ec0000"/>
<circle cx="121.6" cy="221.9" r="1.52" fill="#ff0200"/>
<circle cx="121.2" cy="222.8" r="1.79" fill="#ff1500"/>
<circle cx="120.6" cy="222.7" r="1.27" fill="#ff0000"/>
<circle cx="114.8" cy="226.3" r="1.55" fill="#ff2a00"/>
<circle cx="112.9" cy="228.1" r="1.50" fill="#ff1d00"/>
<circle cx="107.1" cy="225.5" r="1.31" fill="#fc0000"/>
<circle cx="108.2" cy="223.4" r="1.47" fill="#ff1d00"/>
<circle cx="108.2" cy="225.8" r="1.51" fill="#ff1f00"/>
<circle cx="106.1" cy="216.0" r="1.49" fill="#ff1d00"/>
<circle cx="106.1" cy="216.3" r="1.39" fill="#ff2200"/>
<circle cx="105.8" cy="215.0" r="1.42" fill="#ff2500"/>
<circle cx="112.9" cy="209.4" r="1.70" fill="#ff0200"/>
<circle cx="111.4" cy="213.1" r="1.60" fill="#ff1d00"/>
<circle cx="114.1" cy="210.0" r="1.27" fill="#ff1500"/>
<circle cx="121.7" cy="214.9" r="1.54" fill="#e70000"/>
<circle cx="121.5" cy="214.9" r="1.41" fill="#ff0000"/>
<circle cx="123.5" cy="215.7" r="1.42" fill="#ef0000"/>
</g>
<g filter="url(#bl05)">
<circle cx="112.8" cy="219.7" r="1.13" fill="#ffa200"/>
<circle cx="112.8" cy="219.7" r="0.5" fill="#ffe890"/>
<circle cx="121.0" cy="215.8" r="1.01" fill="#ffa500"/>
<circle cx="121.0" cy="215.8" r="0.5" fill="#ffe890"/>
</g>
<rect x="38.7" y="236.0" width="89.9" height="17" fill="#d04a4c" stroke="#b9bfd6" stroke-width="0.9"/>
<text x="83.7" y="249.0" font-size="14" text-anchor="middle" fill="#fff" textLength="70.7" lengthAdjust="spacingAndGlyphs">Modes 1-7</text>
<text x="150.7" y="17.4" font-size="7" text-anchor="middle" fill="#222" textLength="18.8" lengthAdjust="spacingAndGlyphs">Input</text>
<text x="150.7" y="25.3" font-size="7" text-anchor="middle" fill="#222" textLength="18.6" lengthAdjust="spacingAndGlyphs">mode</text>
<text x="181.5" y="17.4" font-size="7" text-anchor="middle" fill="#222" textLength="23.4" lengthAdjust="spacingAndGlyphs">Output</text>
<text x="181.5" y="25.3" font-size="7" text-anchor="middle" fill="#222" textLength="14.0" lengthAdjust="spacingAndGlyphs">field</text>
<text x="211.7" y="17.4" font-size="7" text-anchor="middle" fill="#222" textLength="23.4" lengthAdjust="spacingAndGlyphs">Output</text>
<text x="211.7" y="25.3" font-size="7" text-anchor="middle" fill="#222" textLength="29.6" lengthAdjust="spacingAndGlyphs">Intensity</text>
<rect x="166.9" y="30.5" width="29.2" height="204.1" fill="#060606"/>
<rect x="197.1" y="30.5" width="29.2" height="204.1" fill="#000"/>
<rect x="136.1" y="30.5" width="29.2" height="29.1" fill="#1d1d1d" stroke="#262626" stroke-width="0.5"/>
<g filter="url(#bl05)">
<circle cx="150.7" cy="45.1" r="8.7" fill="none" stroke="#381627" stroke-width="1"/>
<circle cx="148.6" cy="47.9" r="1.05" fill="#4ab22d"/>
<circle cx="152.8" cy="42.2" r="1.05" fill="#952db2"/>
</g>
<circle cx="181.5" cy="45.1" r="13" fill="#0c0a10" filter="url(#bl2)"/>
<g filter="url(#bl07)">
<circle cx="181.3" cy="44.1" r="1.97" fill="#de7000"/>
<circle cx="182.4" cy="43.9" r="1.08" fill="#5cde00"/>
<circle cx="181.4" cy="45.9" r="2.05" fill="#00a9d4"/>
<circle cx="180.3" cy="45.8" r="1.13" fill="#3b00d4"/>
<circle cx="180.2" cy="47.1" r="1.66" fill="#da7d00"/>
<circle cx="179.3" cy="46.5" r="0.91" fill="#4bda00"/>
<circle cx="181.9" cy="43.2" r="2.01" fill="#85e100"/>
<circle cx="182.9" cy="43.4" r="1.11" fill="#00e16e"/>
<circle cx="187.9" cy="51.0" r="1.78" fill="#00ff47"/>
<circle cx="187.0" cy="50.4" r="0.98" fill="#00a3ff"/>
<circle cx="190.2" cy="48.7" r="1.85" fill="#6600fa"/>
<circle cx="190.3" cy="49.8" r="1.02" fill="#fa0080"/>
<circle cx="188.7" cy="48.1" r="2.04" fill="#a1f400"/>
<circle cx="189.5" cy="47.4" r="1.12" fill="#00f467"/>
<circle cx="189.6" cy="50.6" r="2.16" fill="#07f800"/>
<circle cx="188.5" cy="50.8" r="1.19" fill="#00ebf8"/>
<circle cx="180.7" cy="51.9" r="1.65" fill="#ec00ff"/>
<circle cx="181.6" cy="51.2" r="0.91" fill="#ff0200"/>
<circle cx="180.9" cy="53.9" r="1.98" fill="#ff1f00"/>
<circle cx="180.6" cy="52.8" r="1.09" fill="#cbff00"/>
<circle cx="181.1" cy="54.2" r="1.70" fill="#9100ff"/>
<circle cx="180.5" cy="53.3" r="0.94" fill="#ff005a"/>
<circle cx="184.7" cy="53.4" r="1.92" fill="#ff006f"/>
<circle cx="184.8" cy="54.5" r="1.06" fill="#ffa400"/>
<circle cx="173.6" cy="51.6" r="1.64" fill="#f7e100"/>
<circle cx="172.5" cy="51.3" r="0.90" fill="#03f700"/>
<circle cx="176.4" cy="49.8" r="2.07" fill="#00fa0e"/>
<circle cx="176.3" cy="50.9" r="1.14" fill="#00d8fa"/>
<circle cx="175.2" cy="47.9" r="2.16" fill="#f900e5"/>
<circle cx="176.2" cy="48.5" r="1.19" fill="#f92800"/>
<circle cx="174.9" cy="49.1" r="1.75" fill="#5ff100"/>
<circle cx="175.6" cy="50.0" r="0.96" fill="#00f1a5"/>
<circle cx="174.6" cy="40.2" r="1.73" fill="#e8ff00"/>
<circle cx="175.4" cy="41.0" r="0.95" fill="#00ff2c"/>
<circle cx="173.9" cy="43.5" r="1.68" fill="#9100fd"/>
<circle cx="172.8" cy="43.5" r="0.92" fill="#fd0057"/>
<circle cx="173.7" cy="43.5" r="2.02" fill="#b400f1"/>
<circle cx="172.6" cy="43.4" r="1.11" fill="#f1002a"/>
<circle cx="172.4" cy="42.4" r="1.61" fill="#37f300"/>
<circle cx="171.7" cy="41.6" r="0.89" fill="#00f3cf"/>
<circle cx="181.6" cy="38.9" r="2.05" fill="#d7008d"/>
<circle cx="180.5" cy="38.6" r="1.13" fill="#d75c00"/>
<circle cx="182.8" cy="37.9" r="1.87" fill="#db0085"/>
<circle cx="181.8" cy="38.3" r="1.03" fill="#db6800"/>
<circle cx="182.7" cy="33.9" r="1.99" fill="#d20004"/>
<circle cx="183.8" cy="34.1" r="1.10" fill="#c5d200"/>
<circle cx="186.8" cy="40.4" r="2.06" fill="#4dea00"/>
<circle cx="186.5" cy="39.3" r="1.13" fill="#00eab0"/>
<circle cx="187.6" cy="37.7" r="1.96" fill="#f1dd00"/>
<circle cx="188.7" cy="37.3" r="1.08" fill="#00f100"/>
<circle cx="190.1" cy="39.4" r="2.17" fill="#c7fb00"/>
<circle cx="190.5" cy="40.4" r="1.20" fill="#00fb48"/>
</g>
<circle cx="211.7" cy="45.1" r="11.5" fill="#0e0000" filter="url(#bl2)"/>
<g filter="url(#bl06)">
<circle cx="213.3" cy="43.3" r="1.36" fill="#cd0000"/>
<circle cx="213.2" cy="43.5" r="1.43" fill="#d70000"/>
<circle cx="221.1" cy="47.0" r="1.72" fill="#ff1500"/>
<circle cx="218.4" cy="49.8" r="1.33" fill="#ff1d00"/>
<circle cx="219.3" cy="49.9" r="1.51" fill="#ff1000"/>
<circle cx="210.4" cy="54.3" r="1.45" fill="#ff1700"/>
<circle cx="210.7" cy="53.0" r="1.67" fill="#ff4100"/>
<circle cx="205.2" cy="50.9" r="1.68" fill="#ff0a00"/>
<circle cx="204.7" cy="48.8" r="1.54" fill="#ff1000"/>
<circle cx="203.3" cy="47.6" r="1.75" fill="#ff0000"/>
<circle cx="204.7" cy="39.6" r="1.30" fill="#ff1700"/>
<circle cx="204.4" cy="38.4" r="1.65" fill="#ff0500"/>
<circle cx="204.0" cy="40.3" r="1.49" fill="#ff2a00"/>
<circle cx="211.6" cy="36.4" r="1.44" fill="#ca0000"/>
<circle cx="213.2" cy="34.7" r="1.35" fill="#ca0000"/>
<circle cx="217.2" cy="38.1" r="1.56" fill="#ff1200"/>
<circle cx="217.6" cy="40.6" r="1.33" fill="#ff0a00"/>
</g>
<g filter="url(#bl05)">
<circle cx="219.1" cy="49.6" r="1.05" fill="#ff5c00"/>
<circle cx="219.1" cy="49.6" r="0.5" fill="#ffe890"/>
<circle cx="213.0" cy="52.7" r="1.02" fill="#ff7100"/>
<circle cx="213.0" cy="52.7" r="0.5" fill="#ffe890"/>
<circle cx="204.5" cy="41.1" r="1.09" fill="#ff9b00"/>
<circle cx="204.5" cy="41.1" r="0.5" fill="#ffe890"/>
<circle cx="212.4" cy="35.3" r="1.08" fill="#ff9000"/>
<circle cx="212.4" cy="35.3" r="0.5" fill="#ffe890"/>
</g>
<rect x="136.1" y="59.6" width="29.2" height="29.1" fill="#1d1d1d" stroke="#262626" stroke-width="0.5"/>
<g filter="url(#bl05)">
<circle cx="150.7" cy="74.2" r="5.3" fill="none" stroke="#16381f" stroke-width="1"/>
<circle cx="153.8" cy="76.2" r="1.05" fill="#2d57b2"/>
<circle cx="150.5" cy="77.9" r="1.05" fill="#b2882d"/>
<circle cx="147.4" cy="75.9" r="1.05" fill="#2d57b2"/>
<circle cx="147.6" cy="72.2" r="1.05" fill="#b2882d"/>
<circle cx="150.9" cy="70.5" r="1.05" fill="#2d57b2"/>
<circle cx="154.0" cy="72.5" r="1.05" fill="#b2882d"/>
</g>
<circle cx="181.5" cy="74.2" r="13" fill="#0c0a10" filter="url(#bl2)"/>
<g filter="url(#bl07)">
<circle cx="183.4" cy="73.4" r="2.17" fill="#db00fe"/>
<circle cx="183.8" cy="74.4" r="1.19" fill="#fe000e"/>
<circle cx="182.9" cy="74.9" r="2.17" fill="#f5004a"/>
<circle cx="182.5" cy="75.9" r="1.19" fill="#f5bf00"/>
<circle cx="181.9" cy="75.1" r="1.90" fill="#f40099"/>
<circle cx="180.9" cy="75.5" r="1.05" fill="#f46e00"/>
<circle cx="190.1" cy="78.1" r="1.75" fill="#f6002f"/>
<circle cx="190.5" cy="79.1" r="0.96" fill="#f6db00"/>
<circle cx="189.1" cy="80.4" r="1.63" fill="#00ffcc"/>
<circle cx="188.0" cy="80.5" r="0.90" fill="#001eff"/>
<circle cx="190.0" cy="78.9" r="1.89" fill="#005dff"/>
<circle cx="189.7" cy="79.9" r="1.04" fill="#b600ff"/>
<circle cx="179.8" cy="82.1" r="1.80" fill="#77e300"/>
<circle cx="180.7" cy="81.4" r="0.99" fill="#00e37f"/>
<circle cx="182.0" cy="82.2" r="1.73" fill="#8cd300"/>
<circle cx="182.4" cy="83.2" r="0.95" fill="#00d358"/>
<circle cx="179.6" cy="84.3" r="1.88" fill="#00dc96"/>
<circle cx="178.6" cy="83.8" r="1.04" fill="#0034dc"/>
<circle cx="174.8" cy="77.6" r="2.04" fill="#d60031"/>
<circle cx="174.6" cy="78.7" r="1.12" fill="#d6b600"/>
<circle cx="171.3" cy="77.7" r="1.91" fill="#01dc00"/>
<circle cx="171.1" cy="76.6" r="1.05" fill="#00cbdc"/>
<circle cx="174.7" cy="76.6" r="2.13" fill="#d66e00"/>
<circle cx="175.3" cy="77.5" r="1.17" fill="#57d600"/>
<circle cx="173.1" cy="78.3" r="1.96" fill="#0060e4"/>
<circle cx="172.1" cy="77.9" r="1.08" fill="#9600e4"/>
<circle cx="172.6" cy="71.4" r="1.88" fill="#e71700"/>
<circle cx="171.9" cy="70.5" r="1.03" fill="#bde700"/>
<circle cx="175.4" cy="72.6" r="1.75" fill="#e40014"/>
<circle cx="174.6" cy="73.3" r="0.96" fill="#e4e200"/>
<circle cx="174.3" cy="72.4" r="2.18" fill="#0072e5"/>
<circle cx="173.3" cy="72.8" r="1.20" fill="#8500e5"/>
<circle cx="174.9" cy="69.9" r="1.91" fill="#0069d8"/>
<circle cx="175.5" cy="70.8" r="1.05" fill="#8000d8"/>
<circle cx="183.1" cy="66.1" r="1.79" fill="#f3b100"/>
<circle cx="182.7" cy="67.1" r="0.98" fill="#2ef300"/>
<circle cx="181.9" cy="64.7" r="2.00" fill="#fda900"/>
<circle cx="183.0" cy="64.4" r="1.10" fill="#40fd00"/>
<circle cx="181.7" cy="63.5" r="2.04" fill="#0006fa"/>
<circle cx="182.7" cy="63.2" r="1.12" fill="#fa00eb"/>
<circle cx="189.6" cy="72.4" r="1.76" fill="#c9ee00"/>
<circle cx="188.6" cy="72.7" r="0.97" fill="#00ee38"/>
<circle cx="186.8" cy="71.2" r="1.76" fill="#0009ec"/>
<circle cx="186.4" cy="70.2" r="0.97" fill="#ec00e1"/>
<circle cx="189.8" cy="68.2" r="2.02" fill="#00f69d"/>
<circle cx="190.8" cy="68.6" r="1.11" fill="#0045f6"/>
</g>
<circle cx="211.7" cy="74.2" r="11.5" fill="#0e0000" filter="url(#bl2)"/>
<g filter="url(#bl06)">
<circle cx="213.6" cy="74.0" r="1.53" fill="#ff1700"/>
<circle cx="211.1" cy="72.0" r="1.48" fill="#f40000"/>
<circle cx="219.6" cy="76.6" r="1.42" fill="#ff1f00"/>
<circle cx="216.7" cy="79.0" r="1.70" fill="#ff0800"/>
<circle cx="218.1" cy="79.2" r="1.33" fill="#ff0200"/>
<circle cx="211.7" cy="84.7" r="1.26" fill="#dd0000"/>
<circle cx="211.0" cy="82.9" r="1.24" fill="#dd0000"/>
<circle cx="204.0" cy="78.3" r="1.21" fill="#dd0000"/>
<circle cx="204.8" cy="76.1" r="1.33" fill="#d20000"/>
<circle cx="202.7" cy="75.9" r="1.40" fill="#d20000"/>
<circle cx="205.2" cy="69.8" r="1.58" fill="#e20000"/>
<circle cx="202.5" cy="70.1" r="1.49" fill="#df0000"/>
<circle cx="211.4" cy="67.8" r="1.71" fill="#ff0500"/>
<circle cx="214.0" cy="65.0" r="1.65" fill="#f70000"/>
<circle cx="211.8" cy="64.7" r="1.49" fill="#ff1a00"/>
<circle cx="217.6" cy="68.8" r="1.21" fill="#e70000"/>
<circle cx="218.3" cy="69.2" r="1.69" fill="#f20000"/>
</g>
<g filter="url(#bl05)">
<circle cx="212.0" cy="64.7" r="1.19" fill="#ff9800"/>
<circle cx="212.0" cy="64.7" r="0.5" fill="#ffe890"/>
</g>
<rect x="136.1" y="88.8" width="29.2" height="29.1" fill="#1d1d1d" stroke="#262626" stroke-width="0.5"/>
<g filter="url(#bl05)">
<circle cx="150.7" cy="103.4" r="4.8" fill="none" stroke="#162638" stroke-width="1"/>
<circle cx="150.6" cy="105.7" r="1.05" fill="#b22f2d"/>
<circle cx="150.8" cy="101.0" r="1.05" fill="#2db0b2"/>
</g>
<circle cx="181.5" cy="103.4" r="13" fill="#0c0a10" filter="url(#bl2)"/>
<g filter="url(#bl07)">
<circle cx="182.5" cy="101.8" r="1.83" fill="#ec4900"/>
<circle cx="183.4" cy="102.3" r="1.00" fill="#90ec00"/>
<circle cx="183.7" cy="103.3" r="2.06" fill="#00ea65"/>
<circle cx="183.7" cy="104.4" r="1.13" fill="#0073ea"/>
<circle cx="183.5" cy="104.8" r="2.03" fill="#0600ec"/>
<circle cx="182.9" cy="105.7" r="1.11" fill="#ec00d3"/>
<circle cx="187.9" cy="108.5" r="1.65" fill="#00e573"/>
<circle cx="187.3" cy="107.7" r="0.91" fill="#0060e5"/>
<circle cx="186.6" cy="108.8" r="2.19" fill="#bbf000"/>
<circle cx="186.1" cy="107.8" r="1.20" fill="#00f049"/>
<circle cx="190.0" cy="105.6" r="1.95" fill="#0c00f3"/>
<circle cx="191.0" cy="106.1" r="1.07" fill="#f300d3"/>
<circle cx="187.4" cy="106.9" r="1.64" fill="#00ea26"/>
<circle cx="188.1" cy="106.0" r="0.90" fill="#00b1ea"/>
<circle cx="181.4" cy="110.1" r="1.62" fill="#fffb00"/>
<circle cx="182.4" cy="110.2" r="0.89" fill="#00ff10"/>
<circle cx="183.0" cy="111.1" r="2.10" fill="#00a9ff"/>
<circle cx="183.5" cy="112.1" r="1.15" fill="#6a00ff"/>
<circle cx="181.9" cy="112.0" r="1.84" fill="#00e0ff"/>
<circle cx="181.9" cy="113.1" r="1.01" fill="#3300ff"/>
<circle cx="180.3" cy="111.8" r="1.66" fill="#ff001a"/>
<circle cx="180.5" cy="110.7" r="0.91" fill="#fff900"/>
<circle cx="173.8" cy="105.7" r="2.19" fill="#1a00d5"/>
<circle cx="174.9" cy="105.6" r="1.21" fill="#d500aa"/>
<circle cx="176.0" cy="109.4" r="1.82" fill="#00cfb2"/>
<circle cx="175.3" cy="110.2" r="1.00" fill="#000ccf"/>
<circle cx="172.3" cy="109.5" r="2.03" fill="#00afcd"/>
<circle cx="171.4" cy="108.8" r="1.12" fill="#2e00cd"/>
<circle cx="174.5" cy="98.1" r="1.60" fill="#f700c8"/>
<circle cx="175.5" cy="98.6" r="0.88" fill="#f74300"/>
<circle cx="173.1" cy="99.1" r="2.13" fill="#00bbe4"/>
<circle cx="172.9" cy="98.0" r="1.17" fill="#3a00e4"/>
<circle cx="175.0" cy="100.9" r="1.73" fill="#0012e9"/>
<circle cx="174.0" cy="101.3" r="0.95" fill="#e900e9"/>
<circle cx="181.6" cy="94.4" r="1.95" fill="#70eb00"/>
<circle cx="182.1" cy="95.3" r="1.07" fill="#00eb8e"/>
<circle cx="180.1" cy="95.5" r="2.02" fill="#008df5"/>
<circle cx="179.3" cy="94.8" r="1.11" fill="#7b00f5"/>
<circle cx="179.4" cy="94.9" r="1.98" fill="#f00f00"/>
<circle cx="179.3" cy="93.8" r="1.09" fill="#cef000"/>
<circle cx="189.3" cy="97.6" r="2.14" fill="#d200ed"/>
<circle cx="189.5" cy="98.6" r="1.18" fill="#ed0008"/>
<circle cx="189.2" cy="97.3" r="2.01" fill="#e6006c"/>
<circle cx="189.7" cy="98.3" r="1.10" fill="#e68d00"/>
<circle cx="190.0" cy="97.3" r="1.96" fill="#0070df"/>
<circle cx="190.3" cy="98.3" r="1.08" fill="#8100df"/>
</g>
<circle cx="211.7" cy="103.4" r="11.5" fill="#0e0000" filter="url(#bl2)"/>
<g filter="url(#bl06)">
<circle cx="211.8" cy="104.7" r="1.78" fill="#f20000"/>
<circle cx="210.4" cy="101.8" r="1.38" fill="#ea0000"/>
<circle cx="220.4" cy="107.5" r="1.51" fill="#f70000"/>
<circle cx="217.6" cy="108.4" r="1.62" fill="#f70000"/>
<circle cx="218.9" cy="108.7" r="1.25" fill="#f70000"/>
<circle cx="209.2" cy="112.0" r="1.44" fill="#ff1700"/>
<circle cx="211.6" cy="110.8" r="1.63" fill="#ff4100"/>
<circle cx="203.0" cy="105.3" r="1.53" fill="#c50000"/>
<circle cx="205.0" cy="106.4" r="1.36" fill="#ba0000"/>
<circle cx="202.1" cy="106.1" r="1.37" fill="#c50000"/>
<circle cx="203.5" cy="99.5" r="1.41" fill="#f70000"/>
<circle cx="205.9" cy="100.2" r="1.78" fill="#fc0000"/>
<circle cx="205.9" cy="100.8" r="1.35" fill="#ff0000"/>
<circle cx="210.7" cy="95.5" r="1.30" fill="#ff0500"/>
<circle cx="209.6" cy="94.9" r="1.54" fill="#ff0800"/>
<circle cx="219.5" cy="97.7" r="1.34" fill="#f20000"/>
<circle cx="218.4" cy="95.8" r="1.49" fill="#f70000"/>
<circle cx="218.6" cy="99.7" r="1.39" fill="#f90000"/>
</g>
<g filter="url(#bl05)">
<circle cx="211.3" cy="111.7" r="0.90" fill="#ff5e00"/>
<circle cx="211.3" cy="111.7" r="0.5" fill="#ffe890"/>
<circle cx="218.9" cy="97.5" r="0.93" fill="#ffa200"/>
<circle cx="218.9" cy="97.5" r="0.5" fill="#ffe890"/>
</g>
<rect x="136.1" y="118.0" width="29.2" height="29.1" fill="#1d1d1d" stroke="#262626" stroke-width="0.5"/>
<g filter="url(#bl05)">
<circle cx="150.7" cy="132.5" r="7.5" fill="none" stroke="#1e1638" stroke-width="1"/>
<circle cx="151.1" cy="135.9" r="1.05" fill="#2db255"/>
<circle cx="148.0" cy="134.6" r="1.05" fill="#b22d8a"/>
<circle cx="147.6" cy="131.2" r="1.05" fill="#2db255"/>
<circle cx="150.3" cy="129.2" r="1.05" fill="#b22d8a"/>
<circle cx="153.4" cy="130.5" r="1.05" fill="#2db255"/>
<circle cx="153.8" cy="133.8" r="1.05" fill="#b22d8a"/>
</g>
<circle cx="181.5" cy="132.5" r="13" fill="#0c0a10" filter="url(#bl2)"/>
<g filter="url(#bl07)">
<circle cx="182.1" cy="130.8" r="2.01" fill="#ff00d3"/>
<circle cx="183.1" cy="131.2" r="1.11" fill="#ff4000"/>
<circle cx="181.3" cy="133.8" r="2.08" fill="#a2ff00"/>
<circle cx="180.3" cy="133.7" r="1.14" fill="#00ff72"/>
<circle cx="183.5" cy="131.1" r="2.06" fill="#d200fe"/>
<circle cx="184.1" cy="132.0" r="1.13" fill="#fe0017"/>
<circle cx="190.2" cy="138.2" r="2.13" fill="#ff4100"/>
<circle cx="189.3" cy="138.8" r="1.17" fill="#a9ff00"/>
<circle cx="190.4" cy="138.4" r="1.94" fill="#da00e8"/>
<circle cx="189.4" cy="138.9" r="1.07" fill="#e80500"/>
<circle cx="187.4" cy="137.3" r="1.73" fill="#fa00ab"/>
<circle cx="186.9" cy="136.4" r="0.95" fill="#fa6400"/>
<circle cx="187.4" cy="135.7" r="1.82" fill="#ea1000"/>
<circle cx="187.8" cy="134.7" r="1.00" fill="#c7ea00"/>
<circle cx="181.3" cy="143.3" r="1.99" fill="#e20035"/>
<circle cx="180.2" cy="143.3" r="1.09" fill="#e2c000"/>
<circle cx="181.3" cy="139.0" r="2.12" fill="#000dd9"/>
<circle cx="182.4" cy="139.1" r="1.17" fill="#d900d5"/>
<circle cx="181.8" cy="142.1" r="2.05" fill="#00d7e5"/>
<circle cx="180.8" cy="142.7" r="1.13" fill="#2000e5"/>
<circle cx="173.3" cy="139.4" r="1.89" fill="#0036ea"/>
<circle cx="172.3" cy="139.1" r="1.04" fill="#c700ea"/>
<circle cx="174.8" cy="137.2" r="1.86" fill="#0024e2"/>
<circle cx="174.3" cy="138.2" r="1.03" fill="#d000e2"/>
<circle cx="173.5" cy="137.9" r="2.14" fill="#00debb"/>
<circle cx="172.6" cy="137.4" r="1.17" fill="#0011de"/>
<circle cx="176.6" cy="127.6" r="1.95" fill="#00e746"/>
<circle cx="176.8" cy="128.7" r="1.07" fill="#008fe7"/>
<circle cx="171.8" cy="128.6" r="2.14" fill="#d900dc"/>
<circle cx="171.5" cy="127.5" r="1.18" fill="#dc0e00"/>
<circle cx="174.9" cy="128.2" r="1.85" fill="#00dec8"/>
<circle cx="174.7" cy="129.3" r="1.02" fill="#0004de"/>
<circle cx="179.9" cy="124.2" r="1.81" fill="#e1007c"/>
<circle cx="179.8" cy="123.1" r="0.99" fill="#e17700"/>
<circle cx="181.1" cy="126.0" r="2.03" fill="#b0d900"/>
<circle cx="180.1" cy="125.7" r="1.12" fill="#00d93b"/>
<circle cx="184.0" cy="124.0" r="1.75" fill="#5700d9"/>
<circle cx="183.9" cy="125.1" r="0.96" fill="#d90070"/>
<circle cx="188.1" cy="130.2" r="2.08" fill="#006ae8"/>
<circle cx="187.0" cy="129.9" r="1.15" fill="#9100e8"/>
<circle cx="187.9" cy="127.2" r="2.17" fill="#00ed73"/>
<circle cx="188.6" cy="126.4" r="1.19" fill="#0067ed"/>
<circle cx="188.0" cy="129.4" r="2.10" fill="#eb0021"/>
<circle cx="187.0" cy="128.9" r="1.15" fill="#ebdd00"/>
</g>
<circle cx="211.7" cy="132.5" r="11.5" fill="#0e0000" filter="url(#bl2)"/>
<g filter="url(#bl06)">
<circle cx="212.8" cy="133.3" r="1.73" fill="#ff0a00"/>
<circle cx="210.8" cy="132.2" r="1.45" fill="#ff0500"/>
<circle cx="212.9" cy="133.4" r="1.39" fill="#ff2500"/>
<circle cx="221.1" cy="137.5" r="1.64" fill="#fc0000"/>
<circle cx="219.5" cy="135.6" r="1.77" fill="#ff0d00"/>
<circle cx="217.7" cy="135.6" r="1.30" fill="#f90000"/>
<circle cx="211.8" cy="140.3" r="1.41" fill="#d70000"/>
<circle cx="210.5" cy="140.2" r="1.67" fill="#ef0000"/>
<circle cx="212.9" cy="140.2" r="1.77" fill="#ea0000"/>
<circle cx="204.5" cy="138.9" r="1.59" fill="#dd0000"/>
<circle cx="203.2" cy="134.7" r="1.46" fill="#ec0000"/>
<circle cx="204.6" cy="128.7" r="1.74" fill="#e40000"/>
<circle cx="204.3" cy="126.5" r="1.64" fill="#e20000"/>
<circle cx="203.2" cy="127.5" r="1.42" fill="#ea0000"/>
<circle cx="212.4" cy="121.8" r="1.79" fill="#dd0000"/>
<circle cx="210.5" cy="123.9" r="1.78" fill="#d70000"/>
<circle cx="211.4" cy="123.5" r="1.48" fill="#c80000"/>
<circle cx="219.9" cy="127.0" r="1.51" fill="#f40000"/>
<circle cx="219.4" cy="128.2" r="1.50" fill="#f40000"/>
<circle cx="219.5" cy="127.2" r="1.36" fill="#ff0200"/>
</g>
<g filter="url(#bl05)">
<circle cx="213.1" cy="133.0" r="1.11" fill="#ff6600"/>
<circle cx="213.1" cy="133.0" r="0.5" fill="#ffe890"/>
<circle cx="210.1" cy="140.1" r="1.18" fill="#ffa800"/>
<circle cx="210.1" cy="140.1" r="0.5" fill="#ffe890"/>
</g>
<rect x="136.1" y="147.1" width="29.2" height="29.1" fill="#1d1d1d" stroke="#262626" stroke-width="0.5"/>
<g filter="url(#bl05)">
<circle cx="150.7" cy="161.7" r="4.0" fill="none" stroke="#161b38" stroke-width="1"/>
<circle cx="153.6" cy="163.8" r="1.05" fill="#b22d45"/>
<circle cx="151.2" cy="165.2" r="1.05" fill="#2db29a"/>
<circle cx="148.6" cy="164.6" r="1.05" fill="#b22d45"/>
<circle cx="147.1" cy="162.2" r="1.05" fill="#2db29a"/>
<circle cx="147.8" cy="159.5" r="1.05" fill="#b22d45"/>
<circle cx="150.2" cy="158.1" r="1.05" fill="#2db29a"/>
<circle cx="152.8" cy="158.8" r="1.05" fill="#b22d45"/>
<circle cx="154.3" cy="161.1" r="1.05" fill="#2db29a"/>
</g>
<circle cx="181.5" cy="161.7" r="13" fill="#0c0a10" filter="url(#bl2)"/>
<g filter="url(#bl07)">
<circle cx="183.2" cy="162.9" r="1.68" fill="#8efb00"/>
<circle cx="182.6" cy="163.8" r="0.93" fill="#00fb81"/>
<circle cx="182.5" cy="161.3" r="1.80" fill="#fa0083"/>
<circle cx="182.9" cy="162.3" r="0.99" fill="#fa8b00"/>
<circle cx="182.2" cy="164.4" r="1.78" fill="#ff8e00"/>
<circle cx="181.1" cy="164.6" r="0.98" fill="#5cff00"/>
<circle cx="183.7" cy="161.0" r="1.70" fill="#6aff00"/>
<circle cx="184.0" cy="162.1" r="0.93" fill="#00ffa9"/>
<circle cx="187.4" cy="167.7" r="1.76" fill="#1400e0"/>
<circle cx="186.8" cy="166.8" r="0.97" fill="#e000ba"/>
<circle cx="190.8" cy="167.4" r="1.62" fill="#dba400"/>
<circle cx="190.7" cy="168.5" r="0.89" fill="#25db00"/>
<circle cx="186.9" cy="168.3" r="1.75" fill="#00afdb"/>
<circle cx="186.2" cy="167.5" r="0.96" fill="#3e00db"/>
<circle cx="188.4" cy="165.9" r="1.76" fill="#02de00"/>
<circle cx="189.5" cy="166.1" r="0.97" fill="#00cede"/>
<circle cx="183.5" cy="171.0" r="2.10" fill="#00d771"/>
<circle cx="182.9" cy="171.9" r="1.16" fill="#0055d7"/>
<circle cx="181.2" cy="171.6" r="1.73" fill="#00e0b6"/>
<circle cx="180.4" cy="170.9" r="0.95" fill="#0018e0"/>
<circle cx="183.5" cy="167.9" r="2.07" fill="#56d600"/>
<circle cx="184.5" cy="168.4" r="1.14" fill="#00d690"/>
<circle cx="181.8" cy="171.4" r="2.16" fill="#dc6700"/>
<circle cx="180.7" cy="171.0" r="1.19" fill="#64dc00"/>
<circle cx="175.5" cy="164.7" r="2.00" fill="#00fc9f"/>
<circle cx="176.3" cy="165.5" r="1.10" fill="#0049fc"/>
<circle cx="176.2" cy="165.4" r="1.68" fill="#2c00f5"/>
<circle cx="176.5" cy="166.5" r="0.92" fill="#f500b5"/>
<circle cx="174.1" cy="167.0" r="1.96" fill="#fd0066"/>
<circle cx="173.0" cy="166.9" r="1.08" fill="#fdab00"/>
<circle cx="174.7" cy="166.9" r="1.72" fill="#00eea1"/>
<circle cx="173.8" cy="167.5" r="0.94" fill="#003aee"/>
<circle cx="172.9" cy="155.0" r="1.78" fill="#f45c00"/>
<circle cx="173.8" cy="154.3" r="0.98" fill="#84f400"/>
<circle cx="172.4" cy="156.3" r="1.83" fill="#00ff76"/>
<circle cx="172.7" cy="155.3" r="1.01" fill="#0075ff"/>
<circle cx="173.6" cy="159.1" r="1.70" fill="#ff00f2"/>
<circle cx="172.6" cy="158.7" r="0.94" fill="#ff2200"/>
<circle cx="174.9" cy="158.5" r="1.97" fill="#fd0031"/>
<circle cx="173.9" cy="158.9" r="1.09" fill="#fde000"/>
<circle cx="179.5" cy="155.6" r="2.00" fill="#c2d600"/>
<circle cx="178.5" cy="155.1" r="1.10" fill="#00d626"/>
<circle cx="181.7" cy="150.8" r="2.19" fill="#00d243"/>
<circle cx="182.7" cy="151.2" r="1.20" fill="#007ed2"/>
<circle cx="179.5" cy="152.7" r="2.11" fill="#d9b400"/>
<circle cx="179.8" cy="151.6" r="1.16" fill="#14d900"/>
<circle cx="187.3" cy="158.7" r="2.07" fill="#ff001e"/>
<circle cx="186.6" cy="157.9" r="1.14" fill="#fff500"/>
<circle cx="190.6" cy="155.8" r="2.02" fill="#00fbe7"/>
<circle cx="191.4" cy="156.6" r="1.11" fill="#0000fb"/>
<circle cx="190.2" cy="154.9" r="1.98" fill="#f9e300"/>
<circle cx="191.2" cy="155.5" r="1.09" fill="#02f900"/>
</g>
<circle cx="211.7" cy="161.7" r="11.5" fill="#0e0000" filter="url(#bl2)"/>
<g filter="url(#bl06)">
<circle cx="212.0" cy="161.1" r="1.36" fill="#ff2a00"/>
<circle cx="213.0" cy="161.7" r="1.67" fill="#ff0d00"/>
<circle cx="211.3" cy="163.0" r="1.40" fill="#ff1000"/>
<circle cx="217.1" cy="165.1" r="1.22" fill="#da0000"/>
<circle cx="219.2" cy="167.0" r="1.52" fill="#d50000"/>
<circle cx="211.7" cy="171.4" r="1.47" fill="#d50000"/>
<circle cx="212.2" cy="171.6" r="1.38" fill="#cf0000"/>
<circle cx="202.6" cy="167.1" r="1.59" fill="#ff0800"/>
<circle cx="202.9" cy="168.1" r="1.68" fill="#ec0000"/>
<circle cx="202.8" cy="158.2" r="1.78" fill="#ff1200"/>
<circle cx="205.1" cy="156.4" r="1.66" fill="#ff0d00"/>
<circle cx="206.0" cy="157.7" r="1.34" fill="#ff2200"/>
<circle cx="208.9" cy="154.0" r="1.55" fill="#c80000"/>
<circle cx="211.5" cy="153.5" r="1.41" fill="#cf0000"/>
<circle cx="212.1" cy="152.7" r="1.60" fill="#ca0000"/>
<circle cx="219.9" cy="158.1" r="1.39" fill="#ff1500"/>
<circle cx="218.0" cy="157.6" r="1.49" fill="#ff1d00"/>
</g>
<g filter="url(#bl05)">
<circle cx="211.8" cy="162.3" r="0.91" fill="#ffaa00"/>
<circle cx="211.8" cy="162.3" r="0.5" fill="#ffe890"/>
<circle cx="204.2" cy="155.4" r="1.03" fill="#ffa500"/>
<circle cx="204.2" cy="155.4" r="0.5" fill="#ffe890"/>
<circle cx="209.8" cy="153.8" r="0.90" fill="#ff5e00"/>
<circle cx="209.8" cy="153.8" r="0.5" fill="#ffe890"/>
</g>
<rect x="136.1" y="176.2" width="29.2" height="29.1" fill="#1d1d1d" stroke="#262626" stroke-width="0.5"/>
<g filter="url(#bl05)">
<circle cx="150.7" cy="190.8" r="8.6" fill="none" stroke="#163826" stroke-width="1"/>
<circle cx="153.9" cy="191.7" r="1.05" fill="#b27c2d"/>
<circle cx="147.5" cy="189.9" r="1.05" fill="#2d63b2"/>
</g>
<circle cx="181.5" cy="190.8" r="13" fill="#0c0a10" filter="url(#bl2)"/>
<g filter="url(#bl07)">
<circle cx="180.1" cy="190.8" r="1.81" fill="#00e681"/>
<circle cx="180.1" cy="189.7" r="0.99" fill="#0053e6"/>
<circle cx="182.1" cy="189.7" r="2.07" fill="#9ae400"/>
<circle cx="183.1" cy="190.2" r="1.14" fill="#00e45c"/>
<circle cx="182.6" cy="189.2" r="2.10" fill="#00ea26"/>
<circle cx="183.5" cy="189.9" r="1.15" fill="#00b1ea"/>
<circle cx="188.5" cy="198.1" r="1.69" fill="#3b00e5"/>
<circle cx="187.4" cy="198.1" r="0.93" fill="#e50097"/>
<circle cx="187.4" cy="195.2" r="2.18" fill="#00e830"/>
<circle cx="188.1" cy="194.3" r="1.20" fill="#00a5e8"/>
<circle cx="189.0" cy="196.7" r="1.63" fill="#00b8f0"/>
<circle cx="188.1" cy="197.4" r="0.90" fill="#4b00f0"/>
<circle cx="184.0" cy="199.7" r="1.82" fill="#ffb600"/>
<circle cx="183.8" cy="200.8" r="1.00" fill="#34ff00"/>
<circle cx="181.4" cy="198.3" r="1.76" fill="#f66f00"/>
<circle cx="182.3" cy="197.7" r="0.97" fill="#74f600"/>
<circle cx="182.7" cy="200.4" r="2.10" fill="#00bbff"/>
<circle cx="181.8" cy="201.0" r="1.15" fill="#5800ff"/>
<circle cx="171.6" cy="193.9" r="1.95" fill="#4200ff"/>
<circle cx="171.6" cy="192.8" r="1.07" fill="#ff00a8"/>
<circle cx="175.1" cy="194.2" r="1.64" fill="#ff3100"/>
<circle cx="174.9" cy="195.3" r="0.90" fill="#b9ff00"/>
<circle cx="172.4" cy="193.6" r="2.00" fill="#f500d5"/>
<circle cx="172.7" cy="192.5" r="1.10" fill="#f53400"/>
<circle cx="173.1" cy="192.5" r="1.76" fill="#0070fd"/>
<circle cx="174.1" cy="192.2" r="0.97" fill="#a100fd"/>
<circle cx="176.2" cy="186.7" r="1.65" fill="#eb6500"/>
<circle cx="176.1" cy="187.8" r="0.91" fill="#73eb00"/>
<circle cx="174.7" cy="184.7" r="2.08" fill="#00f5c5"/>
<circle cx="175.7" cy="185.1" r="1.15" fill="#001cf5"/>
<circle cx="172.8" cy="185.2" r="2.19" fill="#1df300"/>
<circle cx="173.5" cy="184.4" r="1.21" fill="#00f3e9"/>
<circle cx="179.3" cy="181.5" r="1.64" fill="#cf008a"/>
<circle cx="179.8" cy="180.5" r="0.90" fill="#cf5500"/>
<circle cx="181.6" cy="179.6" r="1.61" fill="#ce3f00"/>
<circle cx="182.6" cy="179.9" r="0.88" fill="#7fce00"/>
<circle cx="179.9" cy="181.8" r="1.61" fill="#0087d6"/>
<circle cx="180.4" cy="180.8" r="0.89" fill="#6000d6"/>
<circle cx="189.2" cy="189.0" r="1.84" fill="#00e01b"/>
<circle cx="188.1" cy="189.0" r="1.01" fill="#00b2e0"/>
<circle cx="190.9" cy="187.2" r="1.70" fill="#5ce000"/>
<circle cx="190.9" cy="188.3" r="0.93" fill="#00e096"/>
<circle cx="188.2" cy="189.0" r="2.12" fill="#dd0015"/>
<circle cx="187.2" cy="188.5" r="1.17" fill="#ddd900"/>
</g>
<circle cx="211.7" cy="190.8" r="11.5" fill="#0e0000" filter="url(#bl2)"/>
<g filter="url(#bl06)">
<circle cx="211.2" cy="190.3" r="1.73" fill="#da0000"/>
<circle cx="211.8" cy="191.5" r="1.62" fill="#ec0000"/>
<circle cx="212.9" cy="189.9" r="1.39" fill="#e20000"/>
<circle cx="217.7" cy="196.8" r="1.56" fill="#dd0000"/>
<circle cx="219.7" cy="195.8" r="1.74" fill="#ef0000"/>
<circle cx="214.1" cy="198.4" r="1.32" fill="#ff2200"/>
<circle cx="212.2" cy="200.1" r="1.69" fill="#ff2c00"/>
<circle cx="201.4" cy="192.7" r="1.26" fill="#ff2a00"/>
<circle cx="202.4" cy="195.1" r="1.42" fill="#ff3200"/>
<circle cx="204.1" cy="194.8" r="1.29" fill="#ff1200"/>
<circle cx="204.3" cy="188.1" r="1.77" fill="#ff1000"/>
<circle cx="205.2" cy="187.9" r="1.29" fill="#ff0800"/>
<circle cx="203.4" cy="186.3" r="1.39" fill="#f90000"/>
<circle cx="209.4" cy="181.8" r="1.76" fill="#c20000"/>
<circle cx="210.5" cy="183.3" r="1.49" fill="#ca0000"/>
<circle cx="219.9" cy="187.8" r="1.43" fill="#e70000"/>
<circle cx="220.1" cy="186.3" r="1.72" fill="#da0000"/>
</g>
<g filter="url(#bl05)">
<circle cx="211.6" cy="191.4" r="0.93" fill="#ff6b00"/>
<circle cx="211.6" cy="191.4" r="0.5" fill="#ffe890"/>
<circle cx="211.9" cy="198.8" r="1.13" fill="#ff7100"/>
<circle cx="211.9" cy="198.8" r="0.5" fill="#ffe890"/>
</g>
<rect x="136.1" y="205.4" width="29.2" height="29.1" fill="#1d1d1d" stroke="#262626" stroke-width="0.5"/>
<g filter="url(#bl05)">
<circle cx="150.7" cy="220.0" r="8.2" fill="none" stroke="#162238" stroke-width="1"/>
<circle cx="152.9" cy="223.0" r="1.05" fill="#2d86b2"/>
<circle cx="148.5" cy="216.9" r="1.05" fill="#b2592d"/>
</g>
<circle cx="181.5" cy="220.0" r="13" fill="#0c0a10" filter="url(#bl2)"/>
<g filter="url(#bl07)">
<circle cx="181.2" cy="221.1" r="1.78" fill="#ba00ea"/>
<circle cx="180.1" cy="220.8" r="0.98" fill="#ea001d"/>
<circle cx="181.5" cy="218.6" r="1.92" fill="#eb0045"/>
<circle cx="182.6" cy="218.6" r="1.05" fill="#ebb900"/>
<circle cx="179.8" cy="219.6" r="1.93" fill="#9600e8"/>
<circle cx="180.0" cy="218.5" r="1.06" fill="#e8003f"/>
<circle cx="189.2" cy="223.4" r="1.84" fill="#009fdd"/>
<circle cx="190.2" cy="223.7" r="1.01" fill="#4f00dd"/>
<circle cx="186.9" cy="223.8" r="1.99" fill="#3300e5"/>
<circle cx="187.2" cy="222.7" r="1.10" fill="#e500a0"/>
<circle cx="191.1" cy="224.3" r="1.64" fill="#53d800"/>
<circle cx="191.1" cy="225.4" r="0.90" fill="#00d896"/>
<circle cx="188.8" cy="225.3" r="1.97" fill="#1700e1"/>
<circle cx="187.7" cy="225.2" r="1.08" fill="#e100b8"/>
<circle cx="179.8" cy="228.9" r="1.79" fill="#e0006e"/>
<circle cx="179.5" cy="227.8" r="0.99" fill="#e08500"/>
<circle cx="180.0" cy="228.1" r="1.82" fill="#eb00ce"/>
<circle cx="180.5" cy="227.1" r="1.00" fill="#eb3000"/>
<circle cx="182.3" cy="229.1" r="1.63" fill="#006be7"/>
<circle cx="181.9" cy="230.1" r="0.89" fill="#8e00e7"/>
<circle cx="173.1" cy="224.1" r="2.03" fill="#d800c7"/>
<circle cx="173.6" cy="223.1" r="1.12" fill="#d82200"/>
<circle cx="176.2" cy="223.2" r="1.76" fill="#05d600"/>
<circle cx="176.9" cy="224.1" r="0.97" fill="#00cad6"/>
<circle cx="174.7" cy="225.9" r="1.73" fill="#d28c00"/>
<circle cx="173.7" cy="226.2" r="0.95" fill="#35d200"/>
<circle cx="174.1" cy="216.6" r="2.01" fill="#00ce6d"/>
<circle cx="172.9" cy="216.5" r="1.11" fill="#0050ce"/>
<circle cx="174.4" cy="217.6" r="2.12" fill="#c6d100"/>
<circle cx="173.3" cy="217.7" r="1.17" fill="#00d11d"/>
<circle cx="173.4" cy="217.4" r="1.61" fill="#00cd81"/>
<circle cx="172.4" cy="217.1" r="0.89" fill="#003bcd"/>
<circle cx="183.0" cy="210.2" r="2.10" fill="#1b00ea"/>
<circle cx="183.9" cy="210.8" r="1.16" fill="#ea00bc"/>
<circle cx="182.8" cy="213.1" r="1.62" fill="#00acf3"/>
<circle cx="181.7" cy="213.4" r="0.89" fill="#5a00f3"/>
<circle cx="181.0" cy="212.7" r="1.93" fill="#006ae4"/>
<circle cx="180.2" cy="212.0" r="1.06" fill="#8b00e4"/>
<circle cx="181.4" cy="209.3" r="1.78" fill="#99ea00"/>
<circle cx="182.4" cy="208.9" r="0.98" fill="#00ea64"/>
<circle cx="187.3" cy="217.8" r="1.62" fill="#f81400"/>
<circle cx="186.4" cy="217.1" r="0.89" fill="#d1f800"/>
<circle cx="190.1" cy="216.4" r="2.10" fill="#45f600"/>
<circle cx="189.6" cy="217.3" r="1.16" fill="#00f6c5"/>
<circle cx="190.5" cy="215.2" r="2.14" fill="#f11700"/>
<circle cx="190.9" cy="216.2" r="1.18" fill="#c7f100"/>
<circle cx="190.9" cy="217.3" r="1.90" fill="#f30300"/>
<circle cx="190.2" cy="218.2" r="1.04" fill="#ddf300"/>
</g>
<circle cx="211.7" cy="220.0" r="11.5" fill="#0e0000" filter="url(#bl2)"/>
<g filter="url(#bl06)">
<circle cx="213.7" cy="218.7" r="1.50" fill="#ef0000"/>
<circle cx="211.8" cy="221.4" r="1.42" fill="#ef0000"/>
<circle cx="216.8" cy="224.7" r="1.77" fill="#cd0000"/>
<circle cx="218.2" cy="224.3" r="1.48" fill="#e40000"/>
<circle cx="209.6" cy="230.2" r="1.33" fill="#e40000"/>
<circle cx="211.1" cy="229.2" r="1.49" fill="#ff0000"/>
<circle cx="203.5" cy="224.8" r="1.50" fill="#c80000"/>
<circle cx="204.2" cy="225.7" r="1.64" fill="#c50000"/>
<circle cx="204.2" cy="216.4" r="1.42" fill="#c00000"/>
<circle cx="203.3" cy="213.5" r="1.69" fill="#bd0000"/>
<circle cx="203.8" cy="216.9" r="1.74" fill="#ba0000"/>
<circle cx="214.3" cy="211.7" r="1.47" fill="#ea0000"/>
<circle cx="212.0" cy="210.6" r="1.70" fill="#f20000"/>
<circle cx="220.2" cy="217.0" r="1.59" fill="#f40000"/>
<circle cx="220.5" cy="214.2" r="1.49" fill="#ef0000"/>
<circle cx="218.2" cy="213.8" r="1.50" fill="#fc0000"/>
</g>
<g filter="url(#bl05)">
<circle cx="205.5" cy="226.0" r="1.02" fill="#ffa200"/>
<circle cx="205.5" cy="226.0" r="0.5" fill="#ffe890"/>
<circle cx="212.9" cy="211.9" r="0.96" fill="#ffa500"/>
<circle cx="212.9" cy="211.9" r="0.5" fill="#ffe890"/>
<circle cx="219.9" cy="215.5" r="0.97" fill="#ff6100"/>
<circle cx="219.9" cy="215.5" r="0.5" fill="#ffe890"/>
</g>
<rect x="136.4" y="236.0" width="89.9" height="17" fill="#d04a4c" stroke="#b9bfd6" stroke-width="0.9"/>
<text x="181.3" y="249.0" font-size="14" text-anchor="middle" fill="#fff" textLength="79.4" lengthAdjust="spacingAndGlyphs">Modes 8-14</text>
<text x="247.7" y="17.4" font-size="7" text-anchor="middle" fill="#222" textLength="18.8" lengthAdjust="spacingAndGlyphs">Input</text>
<text x="247.7" y="25.3" font-size="7" text-anchor="middle" fill="#222" textLength="18.6" lengthAdjust="spacingAndGlyphs">mode</text>
<text x="278.5" y="17.4" font-size="7" text-anchor="middle" fill="#222" textLength="23.4" lengthAdjust="spacingAndGlyphs">Output</text>
<text x="278.5" y="25.3" font-size="7" text-anchor="middle" fill="#222" textLength="14.0" lengthAdjust="spacingAndGlyphs">field</text>
<text x="308.7" y="17.4" font-size="7" text-anchor="middle" fill="#222" textLength="23.4" lengthAdjust="spacingAndGlyphs">Output</text>
<text x="308.7" y="25.3" font-size="7" text-anchor="middle" fill="#222" textLength="29.6" lengthAdjust="spacingAndGlyphs">Intensity</text>
<rect x="263.9" y="30.5" width="29.2" height="204.1" fill="#060606"/>
<rect x="294.1" y="30.5" width="29.2" height="204.1" fill="#000"/>
<rect x="233.1" y="30.5" width="29.2" height="29.1" fill="#1d1d1d" stroke="#262626" stroke-width="0.5"/>
<g filter="url(#bl05)">
<circle cx="247.7" cy="45.1" r="8.0" fill="none" stroke="#163824" stroke-width="1"/>
<circle cx="247.7" cy="45.1" r="1.9" fill="#2da8b2"/>
</g>
<circle cx="278.5" cy="45.1" r="13" fill="#0c0a10" filter="url(#bl2)"/>
<g filter="url(#bl07)">
<circle cx="279.4" cy="45.2" r="1.99" fill="#d42b00"/>
<circle cx="279.2" cy="46.3" r="1.09" fill="#98d400"/>
<circle cx="280.8" cy="46.3" r="2.01" fill="#ae00d6"/>
<circle cx="280.2" cy="47.3" r="1.11" fill="#d60016"/>
<circle cx="279.5" cy="44.8" r="1.79" fill="#008bd9"/>
<circle cx="279.8" cy="45.8" r="0.98" fill="#5f00d9"/>
<circle cx="278.3" cy="46.0" r="1.85" fill="#0019d5"/>
<circle cx="277.2" cy="45.8" r="1.02" fill="#cd00d5"/>
<circle cx="287.6" cy="48.1" r="1.95" fill="#1aff00"/>
<circle cx="288.1" cy="49.1" r="1.07" fill="#00fff9"/>
<circle cx="285.1" cy="48.2" r="1.93" fill="#0026f9"/>
<circle cx="285.6" cy="47.2" r="1.06" fill="#e600f9"/>
<circle cx="285.5" cy="49.3" r="2.17" fill="#ff00bb"/>
<circle cx="284.8" cy="48.5" r="1.20" fill="#ff5800"/>
<circle cx="280.4" cy="54.5" r="1.71" fill="#2afc00"/>
<circle cx="279.3" cy="54.2" r="0.94" fill="#00fce6"/>
<circle cx="280.5" cy="54.8" r="2.09" fill="#ff00d9"/>
<circle cx="279.4" cy="54.7" r="1.15" fill="#ff3a00"/>
<circle cx="281.7" cy="53.8" r="1.64" fill="#f30045"/>
<circle cx="281.4" cy="54.8" r="0.90" fill="#f3c100"/>
<circle cx="269.9" cy="49.6" r="1.97" fill="#bde300"/>
<circle cx="270.0" cy="48.5" r="1.08" fill="#00e338"/>
<circle cx="272.0" cy="51.5" r="1.64" fill="#00e7a9"/>
<circle cx="270.9" cy="51.9" r="0.90" fill="#002ce7"/>
<circle cx="271.5" cy="51.6" r="2.18" fill="#e72e00"/>
<circle cx="270.4" cy="51.8" r="1.20" fill="#a6e700"/>
<circle cx="270.7" cy="40.7" r="1.60" fill="#e90049"/>
<circle cx="271.8" cy="40.9" r="0.88" fill="#e9b300"/>
<circle cx="272.0" cy="42.7" r="1.98" fill="#fc3a00"/>
<circle cx="271.6" cy="43.7" r="1.09" fill="#aefc00"/>
<circle cx="268.6" cy="41.1" r="2.03" fill="#00f97f"/>
<circle cx="269.1" cy="40.1" r="1.12" fill="#0066f9"/>
<circle cx="269.2" cy="42.6" r="1.81" fill="#ebcc00"/>
<circle cx="268.8" cy="41.6" r="1.00" fill="#0deb00"/>
<circle cx="279.6" cy="37.9" r="1.64" fill="#6cef00"/>
<circle cx="279.0" cy="38.8" r="0.90" fill="#00ef96"/>
<circle cx="275.3" cy="35.9" r="1.70" fill="#fa7800"/>
<circle cx="275.6" cy="34.9" r="0.93" fill="#6efa00"/>
<circle cx="277.1" cy="38.8" r="1.74" fill="#00f805"/>
<circle cx="276.0" cy="38.7" r="0.96" fill="#00dff8"/>
<circle cx="285.3" cy="38.9" r="1.92" fill="#e4009f"/>
<circle cx="286.3" cy="38.5" r="1.06" fill="#e45700"/>
<circle cx="284.4" cy="42.4" r="2.03" fill="#99f000"/>
<circle cx="283.8" cy="41.5" r="1.12" fill="#00f06b"/>
<circle cx="286.9" cy="42.5" r="1.87" fill="#00f204"/>
<circle cx="285.9" cy="43.0" r="1.03" fill="#00dbf2"/>
</g>
<circle cx="308.7" cy="45.1" r="11.5" fill="#0e0000" filter="url(#bl2)"/>
<g filter="url(#bl06)">
<circle cx="306.9" cy="43.4" r="1.77" fill="#cd0000"/>
<circle cx="308.6" cy="45.6" r="1.62" fill="#c50000"/>
<circle cx="314.6" cy="48.4" r="1.55" fill="#ff0a00"/>
<circle cx="316.1" cy="47.5" r="1.71" fill="#ff1200"/>
<circle cx="317.6" cy="48.2" r="1.71" fill="#fc0000"/>
<circle cx="312.9" cy="53.0" r="1.71" fill="#ff1500"/>
<circle cx="308.9" cy="52.8" r="1.55" fill="#ff2f00"/>
<circle cx="312.1" cy="53.0" r="1.58" fill="#ff1700"/>
<circle cx="299.4" cy="49.3" r="1.54" fill="#e70000"/>
<circle cx="303.3" cy="48.6" r="1.21" fill="#e70000"/>
<circle cx="301.6" cy="41.0" r="1.35" fill="#ff0200"/>
<circle cx="299.0" cy="40.3" r="1.42" fill="#ff0800"/>
<circle cx="299.1" cy="42.2" r="1.49" fill="#f40000"/>
<circle cx="306.7" cy="38.4" r="1.42" fill="#ff0800"/>
<circle cx="308.7" cy="34.8" r="1.25" fill="#ff0500"/>
<circle cx="317.4" cy="41.1" r="1.25" fill="#ef0000"/>
<circle cx="314.8" cy="40.1" r="1.71" fill="#f40000"/>
<circle cx="316.2" cy="42.0" r="1.22" fill="#f70000"/>
</g>
<g filter="url(#bl05)">
<circle cx="301.4" cy="50.4" r="1.03" fill="#ff9d00"/>
<circle cx="301.4" cy="50.4" r="0.5" fill="#ffe890"/>
<circle cx="317.7" cy="40.9" r="1.10" fill="#ff9d00"/>
<circle cx="317.7" cy="40.9" r="0.5" fill="#ffe890"/>
</g>
<rect x="233.1" y="59.6" width="29.2" height="29.1" fill="#1d1d1d" stroke="#262626" stroke-width="0.5"/>
<g filter="url(#bl05)">
<circle cx="247.7" cy="74.2" r="8.4" fill="none" stroke="#223816" stroke-width="1"/>
<circle cx="246.9" cy="77.3" r="1.05" fill="#8d2db2"/>
<circle cx="244.6" cy="73.4" r="1.05" fill="#53b22d"/>
<circle cx="248.5" cy="71.1" r="1.05" fill="#8d2db2"/>
<circle cx="250.8" cy="75.0" r="1.05" fill="#53b22d"/>
</g>
<circle cx="278.5" cy="74.2" r="13" fill="#0c0a10" filter="url(#bl2)"/>
<g filter="url(#bl07)">
<circle cx="277.3" cy="75.0" r="1.65" fill="#00cc14"/>
<circle cx="276.7" cy="74.2" r="0.91" fill="#00a8cc"/>
<circle cx="279.9" cy="74.7" r="1.93" fill="#cd0013"/>
<circle cx="279.6" cy="75.7" r="1.06" fill="#cdca00"/>
<circle cx="278.7" cy="75.1" r="1.68" fill="#cd00c9"/>
<circle cx="277.7" cy="75.4" r="0.92" fill="#cd1500"/>
<circle cx="286.6" cy="77.2" r="1.72" fill="#cdfe00"/>
<circle cx="287.6" cy="77.6" r="0.94" fill="#00fe45"/>
<circle cx="286.7" cy="77.1" r="1.80" fill="#0090ed"/>
<circle cx="287.7" cy="77.7" r="0.99" fill="#7100ed"/>
<circle cx="288.4" cy="77.3" r="1.68" fill="#ecf800"/>
<circle cx="288.9" cy="78.3" r="0.93" fill="#00f820"/>
<circle cx="285.8" cy="79.2" r="2.05" fill="#001cf8"/>
<circle cx="284.7" cy="78.9" r="1.13" fill="#f000f8"/>
<circle cx="278.0" cy="83.5" r="2.16" fill="#d80600"/>
<circle cx="277.4" cy="82.7" r="1.19" fill="#c1d800"/>
<circle cx="277.0" cy="83.5" r="2.04" fill="#de006f"/>
<circle cx="276.7" cy="82.4" r="1.12" fill="#de8100"/>
<circle cx="277.9" cy="82.1" r="2.02" fill="#6a00d8"/>
<circle cx="278.5" cy="81.2" r="1.11" fill="#d8005c"/>
<circle cx="271.7" cy="81.5" r="2.13" fill="#e3df00"/>
<circle cx="270.6" cy="81.7" r="1.17" fill="#00e30f"/>
<circle cx="272.7" cy="80.9" r="1.75" fill="#001ee0"/>
<circle cx="271.8" cy="81.5" r="0.96" fill="#d400e0"/>
<circle cx="270.6" cy="80.0" r="2.04" fill="#00e092"/>
<circle cx="269.7" cy="79.4" r="1.12" fill="#003de0"/>
<circle cx="270.8" cy="77.4" r="2.18" fill="#00e204"/>
<circle cx="271.9" cy="77.1" r="1.20" fill="#00cce2"/>
<circle cx="269.2" cy="72.3" r="2.14" fill="#f00024"/>
<circle cx="268.6" cy="71.3" r="1.17" fill="#f0de00"/>
<circle cx="270.5" cy="70.1" r="1.98" fill="#1500fb"/>
<circle cx="271.6" cy="70.2" r="1.09" fill="#fb00d2"/>
<circle cx="268.0" cy="72.7" r="1.95" fill="#00ffbe"/>
<circle cx="267.5" cy="71.8" r="1.07" fill="#002cff"/>
<circle cx="276.0" cy="67.6" r="2.19" fill="#bde400"/>
<circle cx="275.2" cy="66.8" r="1.20" fill="#00e43a"/>
<circle cx="279.1" cy="64.0" r="1.86" fill="#003de4"/>
<circle cx="280.0" cy="64.7" r="1.02" fill="#ba00e4"/>
<circle cx="279.0" cy="63.5" r="1.99" fill="#dc00bb"/>
<circle cx="279.9" cy="64.0" r="1.10" fill="#dc3300"/>
<circle cx="287.2" cy="71.0" r="2.15" fill="#5a00da"/>
<circle cx="286.7" cy="71.9" r="1.18" fill="#da006f"/>
<circle cx="287.3" cy="71.0" r="1.73" fill="#db00d8"/>
<circle cx="286.7" cy="72.0" r="0.95" fill="#db1500"/>
<circle cx="286.5" cy="69.3" r="2.12" fill="#d90023"/>
<circle cx="287.6" cy="69.5" r="1.16" fill="#d9c800"/>
</g>
<circle cx="308.7" cy="74.2" r="11.5" fill="#0e0000" filter="url(#bl2)"/>
<g filter="url(#bl06)">
<circle cx="306.3" cy="74.5" r="1.76" fill="#bd0000"/>
<circle cx="308.2" cy="75.6" r="1.53" fill="#c20000"/>
<circle cx="316.2" cy="78.9" r="1.56" fill="#ff0800"/>
<circle cx="314.8" cy="77.8" r="1.38" fill="#ff1000"/>
<circle cx="310.1" cy="84.5" r="1.29" fill="#d70000"/>
<circle cx="309.3" cy="81.8" r="1.46" fill="#c50000"/>
<circle cx="308.8" cy="81.8" r="1.20" fill="#d70000"/>
<circle cx="300.7" cy="79.7" r="1.33" fill="#cd0000"/>
<circle cx="301.3" cy="80.7" r="1.63" fill="#d50000"/>
<circle cx="300.1" cy="72.2" r="1.74" fill="#ff0a00"/>
<circle cx="299.4" cy="71.9" r="1.73" fill="#ff0a00"/>
<circle cx="308.4" cy="64.7" r="1.24" fill="#dd0000"/>
<circle cx="307.5" cy="64.6" r="1.34" fill="#da0000"/>
<circle cx="315.3" cy="68.3" r="1.30" fill="#d20000"/>
<circle cx="317.8" cy="71.8" r="1.21" fill="#df0000"/>
<circle cx="316.0" cy="71.2" r="1.28" fill="#e20000"/>
</g>
<g filter="url(#bl05)">
<circle cx="316.1" cy="68.3" r="1.02" fill="#ff8300"/>
<circle cx="316.1" cy="68.3" r="0.5" fill="#ffe890"/>
</g>
<rect x="233.1" y="88.8" width="29.2" height="29.1" fill="#1d1d1d" stroke="#262626" stroke-width="0.5"/>
<g filter="url(#bl05)">
<circle cx="247.7" cy="103.4" r="7.8" fill="none" stroke="#382316" stroke-width="1"/>
<circle cx="247.2" cy="106.8" r="1.05" fill="#b22d7e"/>
<circle cx="244.3" cy="102.9" r="1.05" fill="#2db261"/>
<circle cx="248.2" cy="100.0" r="1.05" fill="#b22d7e"/>
<circle cx="251.1" cy="103.8" r="1.05" fill="#2db261"/>
</g>
<circle cx="278.5" cy="103.4" r="13" fill="#0c0a10" filter="url(#bl2)"/>
<g filter="url(#bl07)">
<circle cx="280.2" cy="103.1" r="1.93" fill="#fa00ad"/>
<circle cx="280.4" cy="104.2" r="1.06" fill="#fa6100"/>
<circle cx="280.5" cy="102.0" r="1.84" fill="#e78e00"/>
<circle cx="281.1" cy="102.8" r="1.01" fill="#46e700"/>
<circle cx="276.4" cy="102.9" r="2.08" fill="#0099fa"/>
<circle cx="276.7" cy="101.9" r="1.14" fill="#7400fa"/>
<circle cx="287.2" cy="108.4" r="1.61" fill="#e8009c"/>
<circle cx="286.6" cy="109.2" r="0.89" fill="#e85e00"/>
<circle cx="285.3" cy="106.7" r="1.65" fill="#00e7ec"/>
<circle cx="286.1" cy="106.0" r="0.90" fill="#1800ec"/>
<circle cx="286.8" cy="105.9" r="1.64" fill="#ea001e"/>
<circle cx="287.8" cy="106.4" r="0.90" fill="#eade00"/>
<circle cx="284.5" cy="105.5" r="1.75" fill="#4be700"/>
<circle cx="285.4" cy="104.8" r="0.96" fill="#00e7ae"/>
<circle cx="278.7" cy="113.1" r="1.85" fill="#eb0035"/>
<circle cx="277.7" cy="112.6" r="1.02" fill="#ebc900"/>
<circle cx="277.2" cy="112.1" r="2.12" fill="#f5002c"/>
<circle cx="277.1" cy="111.0" r="1.16" fill="#f5dd00"/>
<circle cx="280.8" cy="113.5" r="1.96" fill="#f3fc00"/>
<circle cx="280.0" cy="114.2" r="1.08" fill="#00fc1d"/>
<circle cx="281.0" cy="113.8" r="1.65" fill="#00cdf2"/>
<circle cx="280.1" cy="114.5" r="0.91" fill="#3800f2"/>
<circle cx="272.1" cy="105.8" r="2.01" fill="#ed00c0"/>
<circle cx="272.8" cy="106.7" r="1.10" fill="#ed3f00"/>
<circle cx="269.3" cy="108.1" r="2.15" fill="#0041ff"/>
<circle cx="268.5" cy="107.4" r="1.18" fill="#d300ff"/>
<circle cx="271.9" cy="109.0" r="1.78" fill="#eba500"/>
<circle cx="270.9" cy="109.6" r="0.98" fill="#33eb00"/>
<circle cx="270.6" cy="98.8" r="2.16" fill="#00e94d"/>
<circle cx="271.7" cy="98.9" r="1.19" fill="#008ae9"/>
<circle cx="269.0" cy="99.0" r="2.20" fill="#e000ba"/>
<circle cx="269.9" cy="98.3" r="1.21" fill="#e03800"/>
<circle cx="270.7" cy="101.5" r="1.80" fill="#d000dd"/>
<circle cx="269.8" cy="102.0" r="0.99" fill="#dd0400"/>
<circle cx="269.3" cy="100.6" r="1.65" fill="#00e17a"/>
<circle cx="269.4" cy="99.5" r="0.91" fill="#0055e1"/>
<circle cx="276.5" cy="93.8" r="1.85" fill="#f6ec00"/>
<circle cx="277.2" cy="92.9" r="1.02" fill="#00f609"/>
<circle cx="280.4" cy="95.2" r="1.77" fill="#00e568"/>
<circle cx="280.2" cy="96.3" r="0.98" fill="#006ae5"/>
<circle cx="277.9" cy="95.7" r="1.73" fill="#03e700"/>
<circle cx="276.8" cy="95.7" r="0.95" fill="#00d8e7"/>
<circle cx="286.5" cy="100.0" r="1.70" fill="#c6d500"/>
<circle cx="285.6" cy="100.6" r="0.93" fill="#00d520"/>
<circle cx="284.0" cy="97.8" r="2.07" fill="#d400d8"/>
<circle cx="284.6" cy="97.0" r="1.14" fill="#d80e00"/>
<circle cx="286.6" cy="97.3" r="2.05" fill="#af00d6"/>
<circle cx="287.7" cy="97.6" r="1.13" fill="#d60016"/>
<circle cx="283.8" cy="99.0" r="2.10" fill="#5b00d2"/>
<circle cx="284.0" cy="97.9" r="1.16" fill="#d20066"/>
</g>
<circle cx="308.7" cy="103.4" r="11.5" fill="#0e0000" filter="url(#bl2)"/>
<g filter="url(#bl06)">
<circle cx="310.1" cy="103.7" r="1.69" fill="#ff0000"/>
<circle cx="310.5" cy="104.0" r="1.22" fill="#f40000"/>
<circle cx="307.8" cy="105.0" r="1.71" fill="#ea0000"/>
<circle cx="318.5" cy="106.3" r="1.32" fill="#ec0000"/>
<circle cx="316.9" cy="106.4" r="1.61" fill="#da0000"/>
<circle cx="308.2" cy="113.7" r="1.26" fill="#fc0000"/>
<circle cx="308.7" cy="112.1" r="1.21" fill="#ec0000"/>
<circle cx="299.5" cy="109.0" r="1.62" fill="#ff1a00"/>
<circle cx="300.9" cy="108.9" r="1.52" fill="#ff1500"/>
<circle cx="300.9" cy="107.8" r="1.37" fill="#ff0800"/>
<circle cx="298.7" cy="101.1" r="1.57" fill="#ef0000"/>
<circle cx="301.2" cy="101.7" r="1.23" fill="#ef0000"/>
<circle cx="307.9" cy="92.8" r="1.24" fill="#f40000"/>
<circle cx="307.7" cy="94.3" r="1.28" fill="#ff0500"/>
<circle cx="310.7" cy="95.2" r="1.55" fill="#ec0000"/>
<circle cx="315.4" cy="97.2" r="1.20" fill="#c80000"/>
<circle cx="316.9" cy="99.5" r="1.52" fill="#d20000"/>
<circle cx="317.7" cy="98.2" r="1.32" fill="#cf0000"/>
</g>
<g filter="url(#bl05)">
<circle cx="309.8" cy="104.7" r="1.19" fill="#ffa800"/>
<circle cx="309.8" cy="104.7" r="0.5" fill="#ffe890"/>
<circle cx="316.2" cy="107.8" r="1.03" fill="#ff9b00"/>
<circle cx="316.2" cy="107.8" r="0.5" fill="#ffe890"/>
<circle cx="298.4" cy="100.1" r="1.12" fill="#ff7100"/>
<circle cx="298.4" cy="100.1" r="0.5" fill="#ffe890"/>
<circle cx="307.0" cy="95.0" r="0.96" fill="#ff9800"/>
<circle cx="307.0" cy="95.0" r="0.5" fill="#ffe890"/>
</g>
<rect x="233.1" y="118.0" width="29.2" height="29.1" fill="#1d1d1d" stroke="#262626" stroke-width="0.5"/>
<g filter="url(#bl05)">
<circle cx="247.7" cy="132.5" r="8.9" fill="none" stroke="#16381b" stroke-width="1"/>
<circle cx="250.3" cy="133.1" r="1.05" fill="#b22d4b"/>
<circle cx="247.1" cy="135.2" r="1.05" fill="#2db295"/>
<circle cx="245.1" cy="131.9" r="1.05" fill="#b22d4b"/>
<circle cx="248.3" cy="129.9" r="1.05" fill="#2db295"/>
</g>
<circle cx="278.5" cy="132.5" r="13" fill="#0c0a10" filter="url(#bl2)"/>
<g filter="url(#bl07)">
<circle cx="276.1" cy="132.4" r="1.64" fill="#00d8fe"/>
<circle cx="276.1" cy="131.3" r="0.90" fill="#3a00fe"/>
<circle cx="279.5" cy="132.5" r="2.18" fill="#00f195"/>
<circle cx="279.5" cy="133.6" r="1.20" fill="#0049f1"/>
<circle cx="279.6" cy="132.5" r="2.10" fill="#f500f4"/>
<circle cx="279.6" cy="133.6" r="1.16" fill="#f51500"/>
<circle cx="276.9" cy="134.2" r="1.80" fill="#f40700"/>
<circle cx="276.1" cy="133.5" r="0.99" fill="#daf400"/>
<circle cx="285.7" cy="138.6" r="1.91" fill="#00f980"/>
<circle cx="284.6" cy="138.6" r="1.05" fill="#0065f9"/>
<circle cx="285.5" cy="134.8" r="1.75" fill="#fe003b"/>
<circle cx="286.6" cy="134.7" r="0.96" fill="#fed800"/>
<circle cx="284.2" cy="136.4" r="1.74" fill="#90f400"/>
<circle cx="284.7" cy="135.5" r="0.96" fill="#00f478"/>
<circle cx="284.8" cy="137.0" r="1.60" fill="#00b7f6"/>
<circle cx="285.1" cy="135.9" r="0.88" fill="#5400f6"/>
<circle cx="281.5" cy="140.7" r="2.02" fill="#da5500"/>
<circle cx="281.7" cy="141.8" r="1.11" fill="#74da00"/>
<circle cx="280.6" cy="142.3" r="2.09" fill="#9cd900"/>
<circle cx="279.8" cy="143.0" r="1.15" fill="#00d94f"/>
<circle cx="279.6" cy="142.1" r="1.64" fill="#dbb600"/>
<circle cx="278.6" cy="142.2" r="0.90" fill="#13db00"/>
<circle cx="277.2" cy="140.7" r="1.61" fill="#8300db"/>
<circle cx="277.4" cy="139.6" r="0.88" fill="#db0046"/>
<circle cx="270.3" cy="138.0" r="1.68" fill="#00d8ed"/>
<circle cx="269.8" cy="137.0" r="0.92" fill="#2900ed"/>
<circle cx="273.9" cy="136.7" r="1.64" fill="#ff9500"/>
<circle cx="274.2" cy="137.8" r="0.90" fill="#55ff00"/>
<circle cx="270.0" cy="139.8" r="2.02" fill="#f60058"/>
<circle cx="269.1" cy="139.2" r="1.11" fill="#f6b200"/>
<circle cx="271.5" cy="127.8" r="1.98" fill="#ace200"/>
<circle cx="272.4" cy="128.4" r="1.09" fill="#00e248"/>
<circle cx="268.2" cy="128.0" r="2.17" fill="#f0d400"/>
<circle cx="268.6" cy="127.0" r="1.19" fill="#09f000"/>
<circle cx="270.7" cy="127.9" r="1.80" fill="#e1cf00"/>
<circle cx="271.8" cy="127.9" r="0.99" fill="#00e100"/>
<circle cx="277.5" cy="122.9" r="2.01" fill="#00f6ab"/>
<circle cx="278.6" cy="123.0" r="1.10" fill="#0038f6"/>
<circle cx="279.4" cy="125.4" r="2.02" fill="#0051fb"/>
<circle cx="278.8" cy="126.3" r="1.11" fill="#be00fb"/>
<circle cx="276.4" cy="125.5" r="1.85" fill="#00a8fe"/>
<circle cx="275.5" cy="124.8" r="1.02" fill="#6b00fe"/>
<circle cx="287.3" cy="125.9" r="1.68" fill="#0090f4"/>
<circle cx="288.2" cy="126.7" r="0.93" fill="#7700f4"/>
<circle cx="286.6" cy="127.7" r="1.83" fill="#f20093"/>
<circle cx="286.7" cy="128.8" r="1.01" fill="#f27300"/>
<circle cx="286.4" cy="125.2" r="1.60" fill="#efeb00"/>
<circle cx="287.4" cy="125.5" r="0.88" fill="#00ef0f"/>
<circle cx="285.2" cy="127.0" r="1.84" fill="#0100e1"/>
<circle cx="286.2" cy="126.5" r="1.01" fill="#e100cd"/>
</g>
<circle cx="308.7" cy="132.5" r="11.5" fill="#0e0000" filter="url(#bl2)"/>
<g filter="url(#bl06)">
<circle cx="309.5" cy="131.7" r="1.48" fill="#ff1700"/>
<circle cx="309.7" cy="134.8" r="1.56" fill="#f40000"/>
<circle cx="311.0" cy="131.7" r="1.33" fill="#ff0500"/>
<circle cx="315.4" cy="138.3" r="1.22" fill="#ff0000"/>
<circle cx="315.9" cy="136.7" r="1.42" fill="#ff1000"/>
<circle cx="314.9" cy="135.8" r="1.67" fill="#ff0a00"/>
<circle cx="311.2" cy="140.0" r="1.72" fill="#d70000"/>
<circle cx="309.5" cy="139.9" r="1.25" fill="#cd0000"/>
<circle cx="301.9" cy="136.9" r="1.59" fill="#f70000"/>
<circle cx="301.6" cy="136.8" r="1.39" fill="#f40000"/>
<circle cx="301.3" cy="138.0" r="1.32" fill="#f70000"/>
<circle cx="299.5" cy="130.4" r="1.56" fill="#f40000"/>
<circle cx="300.0" cy="129.1" r="1.31" fill="#df0000"/>
<circle cx="303.0" cy="128.2" r="1.57" fill="#ef0000"/>
<circle cx="307.8" cy="126.2" r="1.37" fill="#ff2c00"/>
<circle cx="307.5" cy="124.8" r="1.78" fill="#ff2700"/>
<circle cx="316.3" cy="128.5" r="1.30" fill="#ea0000"/>
<circle cx="317.2" cy="129.4" r="1.54" fill="#ec0000"/>
<circle cx="314.9" cy="130.2" r="1.28" fill="#f40000"/>
</g>
<g filter="url(#bl05)">
<circle cx="301.3" cy="137.1" r="0.99" fill="#ff7e00"/>
<circle cx="301.3" cy="137.1" r="0.5" fill="#ffe890"/>
</g>
<rect x="233.1" y="147.1" width="29.2" height="29.1" fill="#1d1d1d" stroke="#262626" stroke-width="0.5"/>
<g filter="url(#bl05)">
<circle cx="247.7" cy="161.7" r="6.4" fill="none" stroke="#1c3816" stroke-width="1"/>
<circle cx="245.3" cy="162.0" r="1.05" fill="#52b22d"/>
<circle cx="248.7" cy="159.4" r="1.05" fill="#8e2db2"/>
<circle cx="249.2" cy="163.6" r="1.05" fill="#52b22d"/>
</g>
<circle cx="278.5" cy="161.7" r="13" fill="#0c0a10" filter="url(#bl2)"/>
<g filter="url(#bl07)">
<circle cx="279.8" cy="163.4" r="2.20" fill="#00fe44"/>
<circle cx="278.9" cy="164.0" r="1.21" fill="#00a6fe"/>
<circle cx="277.9" cy="159.9" r="1.87" fill="#fc0003"/>
<circle cx="279.0" cy="159.6" r="1.03" fill="#ebfc00"/>
<circle cx="280.1" cy="159.5" r="1.84" fill="#4f00f8"/>
<circle cx="281.0" cy="160.1" r="1.01" fill="#f80096"/>
<circle cx="287.4" cy="165.7" r="2.11" fill="#8e00d7"/>
<circle cx="287.4" cy="166.8" r="1.16" fill="#d70038"/>
<circle cx="285.2" cy="163.9" r="2.00" fill="#b400d7"/>
<circle cx="286.2" cy="163.4" r="1.10" fill="#d70012"/>
<circle cx="284.6" cy="165.7" r="2.19" fill="#7b00d1"/>
<circle cx="284.6" cy="164.6" r="1.20" fill="#d10045"/>
<circle cx="278.9" cy="168.8" r="1.88" fill="#00f9ae"/>
<circle cx="279.9" cy="169.3" r="1.03" fill="#0037f9"/>
<circle cx="278.5" cy="172.6" r="2.11" fill="#fc00b4"/>
<circle cx="277.4" cy="172.8" r="1.16" fill="#fc5c00"/>
<circle cx="277.5" cy="172.7" r="2.18" fill="#ff0029"/>
<circle cx="276.4" cy="172.4" r="1.20" fill="#ffea00"/>
<circle cx="270.5" cy="163.4" r="1.68" fill="#00eec7"/>
<circle cx="271.6" cy="163.2" r="0.92" fill="#0013ee"/>
<circle cx="271.4" cy="164.5" r="2.05" fill="#1c00f1"/>
<circle cx="272.3" cy="165.0" r="1.13" fill="#f100c1"/>
<circle cx="272.8" cy="165.0" r="1.89" fill="#ff3c00"/>
<circle cx="273.1" cy="166.1" r="1.04" fill="#afff00"/>
<circle cx="271.6" cy="164.7" r="2.10" fill="#51ff00"/>
<circle cx="272.4" cy="165.5" r="1.16" fill="#00ffc3"/>
<circle cx="268.4" cy="158.2" r="1.65" fill="#ec005f"/>
<circle cx="268.6" cy="157.1" r="0.91" fill="#eca000"/>
<circle cx="271.0" cy="159.1" r="1.83" fill="#df9500"/>
<circle cx="270.1" cy="159.7" r="1.01" fill="#38df00"/>
<circle cx="268.7" cy="156.7" r="2.15" fill="#00e166"/>
<circle cx="269.4" cy="155.9" r="1.18" fill="#0069e1"/>
<circle cx="280.1" cy="151.7" r="1.98" fill="#ea2100"/>
<circle cx="280.6" cy="152.7" r="1.09" fill="#b7ea00"/>
<circle cx="276.6" cy="152.9" r="1.62" fill="#e9006f"/>
<circle cx="276.8" cy="151.8" r="0.89" fill="#e98d00"/>
<circle cx="276.4" cy="155.0" r="1.73" fill="#bbee00"/>
<circle cx="275.5" cy="154.3" r="0.95" fill="#00ee47"/>
<circle cx="276.4" cy="153.7" r="1.80" fill="#f1b800"/>
<circle cx="276.0" cy="152.7" r="0.99" fill="#25f100"/>
<circle cx="286.9" cy="156.3" r="1.74" fill="#d60700"/>
<circle cx="287.6" cy="157.1" r="0.96" fill="#bed600"/>
<circle cx="286.6" cy="156.3" r="1.76" fill="#4400cf"/>
<circle cx="287.4" cy="157.1" r="0.97" fill="#cf007b"/>
<circle cx="286.6" cy="159.5" r="1.65" fill="#0057d8"/>
<circle cx="285.6" cy="159.9" r="0.91" fill="#9100d8"/>
</g>
<circle cx="308.7" cy="161.7" r="11.5" fill="#0e0000" filter="url(#bl2)"/>
<g filter="url(#bl06)">
<circle cx="307.9" cy="163.9" r="1.65" fill="#ff1700"/>
<circle cx="307.8" cy="161.7" r="1.36" fill="#ff2500"/>
<circle cx="309.6" cy="163.3" r="1.66" fill="#ff0000"/>
<circle cx="314.8" cy="165.4" r="1.25" fill="#c20000"/>
<circle cx="316.1" cy="166.0" r="1.42" fill="#c50000"/>
<circle cx="315.2" cy="164.5" r="1.66" fill="#c50000"/>
<circle cx="307.3" cy="168.6" r="1.70" fill="#ff0500"/>
<circle cx="307.6" cy="169.8" r="1.58" fill="#ff1a00"/>
<circle cx="301.2" cy="163.5" r="1.24" fill="#ff1200"/>
<circle cx="301.3" cy="168.1" r="1.58" fill="#ff0a00"/>
<circle cx="300.9" cy="155.9" r="1.39" fill="#ea0000"/>
<circle cx="301.4" cy="159.4" r="1.78" fill="#ea0000"/>
<circle cx="307.8" cy="152.6" r="1.52" fill="#e20000"/>
<circle cx="308.7" cy="153.4" r="1.60" fill="#f40000"/>
<circle cx="308.4" cy="153.7" r="1.48" fill="#f70000"/>
<circle cx="315.6" cy="155.3" r="1.26" fill="#d20000"/>
<circle cx="316.2" cy="155.7" r="1.50" fill="#c20000"/>
<circle cx="316.8" cy="157.2" r="1.62" fill="#c00000"/>
</g>
<g filter="url(#bl05)">
<circle cx="300.3" cy="167.5" r="0.97" fill="#ff7300"/>
<circle cx="300.3" cy="167.5" r="0.5" fill="#ffe890"/>
</g>
<rect x="233.1" y="176.2" width="29.2" height="29.1" fill="#1d1d1d" stroke="#262626" stroke-width="0.5"/>
<g filter="url(#bl05)">
<circle cx="247.7" cy="190.8" r="5.9" fill="none" stroke="#16381a" stroke-width="1"/>
<circle cx="247.3" cy="193.9" r="1.05" fill="#822db2"/>
<circle cx="244.9" cy="192.0" r="1.05" fill="#5db22d"/>
<circle cx="245.2" cy="189.0" r="1.05" fill="#822db2"/>
<circle cx="248.1" cy="187.8" r="1.05" fill="#5db22d"/>
<circle cx="250.5" cy="189.6" r="1.05" fill="#822db2"/>
<circle cx="250.2" cy="192.7" r="1.05" fill="#5db22d"/>
</g>
<circle cx="278.5" cy="190.8" r="13" fill="#0c0a10" filter="url(#bl2)"/>
<g filter="url(#bl07)">
<circle cx="280.6" cy="190.6" r="2.15" fill="#ea9800"/>
<circle cx="280.7" cy="191.7" r="1.18" fill="#3fea00"/>
<circle cx="279.1" cy="191.5" r="1.70" fill="#e04400"/>
<circle cx="278.3" cy="192.2" r="0.93" fill="#8ae000"/>
<circle cx="278.8" cy="188.8" r="1.81" fill="#5c00eb"/>
<circle cx="279.9" cy="189.0" r="1.00" fill="#eb007c"/>
<circle cx="278.8" cy="189.7" r="2.01" fill="#00e825"/>
<circle cx="279.8" cy="190.0" r="1.10" fill="#00b0e8"/>
<circle cx="285.8" cy="193.6" r="1.96" fill="#004cd7"/>
<circle cx="286.9" cy="193.7" r="1.08" fill="#9d00d7"/>
<circle cx="286.6" cy="194.2" r="1.91" fill="#7000db"/>
<circle cx="287.5" cy="194.8" r="1.05" fill="#db005a"/>
<circle cx="284.8" cy="194.9" r="1.92" fill="#97d600"/>
<circle cx="285.5" cy="194.0" r="1.06" fill="#00d64f"/>
<circle cx="284.6" cy="193.6" r="1.69" fill="#a2d800"/>
<circle cx="285.6" cy="193.1" r="0.93" fill="#00d847"/>
<circle cx="277.8" cy="200.1" r="1.89" fill="#a4fc00"/>
<circle cx="277.3" cy="199.1" r="1.04" fill="#00fc6c"/>
<circle cx="280.4" cy="199.3" r="2.15" fill="#aef600"/>
<circle cx="280.5" cy="200.4" r="1.18" fill="#00f65c"/>
<circle cx="280.3" cy="201.6" r="2.17" fill="#0077fb"/>
<circle cx="279.4" cy="202.1" r="1.19" fill="#9800fb"/>
<circle cx="268.8" cy="196.6" r="1.87" fill="#cfe200"/>
<circle cx="268.3" cy="195.6" r="1.03" fill="#00e225"/>
<circle cx="271.3" cy="197.2" r="1.89" fill="#7100dc"/>
<circle cx="270.2" cy="197.2" r="1.04" fill="#dc0059"/>
<circle cx="270.0" cy="195.2" r="1.94" fill="#0021de"/>
<circle cx="270.2" cy="194.1" r="1.07" fill="#cf00de"/>
<circle cx="269.1" cy="194.4" r="1.90" fill="#eb005c"/>
<circle cx="269.6" cy="193.4" r="1.05" fill="#eba200"/>
<circle cx="271.0" cy="189.1" r="2.10" fill="#8700f0"/>
<circle cx="269.9" cy="189.2" r="1.16" fill="#f00056"/>
<circle cx="268.5" cy="185.7" r="2.10" fill="#000dec"/>
<circle cx="269.0" cy="184.7" r="1.16" fill="#ec00e7"/>
<circle cx="269.6" cy="184.8" r="2.05" fill="#e70061"/>
<circle cx="270.5" cy="184.2" r="1.13" fill="#e79800"/>
<circle cx="270.4" cy="188.4" r="2.17" fill="#f400b9"/>
<circle cx="269.3" cy="188.1" r="1.19" fill="#f44e00"/>
<circle cx="278.2" cy="179.7" r="1.75" fill="#e5009e"/>
<circle cx="279.3" cy="179.8" r="0.96" fill="#e55800"/>
<circle cx="280.4" cy="182.5" r="1.95" fill="#8200e7"/>
<circle cx="280.3" cy="183.6" r="1.07" fill="#e70053"/>
<circle cx="276.9" cy="180.4" r="1.73" fill="#00bae5"/>
<circle cx="277.8" cy="179.8" r="0.95" fill="#3e00e5"/>
<circle cx="284.7" cy="185.3" r="1.99" fill="#6bea00"/>
<circle cx="285.5" cy="184.6" r="1.10" fill="#00ea92"/>
<circle cx="287.9" cy="188.3" r="1.81" fill="#e4fb00"/>
<circle cx="287.2" cy="189.1" r="1.00" fill="#00fb2b"/>
<circle cx="287.1" cy="186.0" r="2.06" fill="#f9eb00"/>
<circle cx="287.7" cy="186.9" r="1.14" fill="#00f906"/>
<circle cx="285.0" cy="188.2" r="1.83" fill="#0007ef"/>
<circle cx="284.1" cy="187.5" r="1.01" fill="#ef00e2"/>
</g>
<circle cx="308.7" cy="190.8" r="11.5" fill="#0e0000" filter="url(#bl2)"/>
<g filter="url(#bl06)">
<circle cx="307.7" cy="190.4" r="1.75" fill="#e20000"/>
<circle cx="310.6" cy="192.6" r="1.47" fill="#f90000"/>
<circle cx="309.1" cy="190.3" r="1.41" fill="#ef0000"/>
<circle cx="318.1" cy="196.1" r="1.61" fill="#c80000"/>
<circle cx="315.5" cy="197.1" r="1.68" fill="#dd0000"/>
<circle cx="309.1" cy="198.9" r="1.71" fill="#ff0a00"/>
<circle cx="310.1" cy="199.2" r="1.70" fill="#ef0000"/>
<circle cx="308.2" cy="199.3" r="1.33" fill="#ea0000"/>
<circle cx="299.9" cy="197.3" r="1.51" fill="#e20000"/>
<circle cx="300.3" cy="196.2" r="1.69" fill="#dd0000"/>
<circle cx="301.3" cy="188.2" r="1.58" fill="#fc0000"/>
<circle cx="302.2" cy="187.6" r="1.21" fill="#ec0000"/>
<circle cx="303.5" cy="186.2" r="1.53" fill="#df0000"/>
<circle cx="308.2" cy="182.8" r="1.42" fill="#e40000"/>
<circle cx="307.6" cy="180.1" r="1.41" fill="#e20000"/>
<circle cx="316.4" cy="186.0" r="1.73" fill="#ef0000"/>
<circle cx="315.7" cy="186.3" r="1.23" fill="#ff0a00"/>
</g>
<g filter="url(#bl05)">
<circle cx="315.5" cy="194.3" r="1.07" fill="#ff9300"/>
<circle cx="315.5" cy="194.3" r="0.5" fill="#ffe890"/>
<circle cx="308.6" cy="182.4" r="0.93" fill="#ffa200"/>
<circle cx="308.6" cy="182.4" r="0.5" fill="#ffe890"/>
</g>
<rect x="233.1" y="205.4" width="29.2" height="29.1" fill="#1d1d1d" stroke="#262626" stroke-width="0.5"/>
<g filter="url(#bl05)">
<circle cx="247.7" cy="220.0" r="8.9" fill="none" stroke="#2a1638" stroke-width="1"/>
<circle cx="246.4" cy="223.5" r="1.05" fill="#b22d5d"/>
<circle cx="244.2" cy="218.7" r="1.05" fill="#2db283"/>
<circle cx="249.0" cy="216.4" r="1.05" fill="#b22d5d"/>
<circle cx="251.2" cy="221.3" r="1.05" fill="#2db283"/>
</g>
<circle cx="278.5" cy="220.0" r="13" fill="#0c0a10" filter="url(#bl2)"/>
<g filter="url(#bl07)">
<circle cx="279.8" cy="220.3" r="1.73" fill="#eb00c0"/>
<circle cx="279.5" cy="221.4" r="0.95" fill="#eb3d00"/>
<circle cx="278.2" cy="222.4" r="1.67" fill="#ffb100"/>
<circle cx="277.1" cy="222.3" r="0.92" fill="#39ff00"/>
<circle cx="276.4" cy="219.0" r="1.86" fill="#00a0f7"/>
<circle cx="276.8" cy="218.0" r="1.02" fill="#6b00f7"/>
<circle cx="286.0" cy="226.8" r="1.95" fill="#00f969"/>
<circle cx="284.9" cy="226.8" r="1.07" fill="#007cf9"/>
<circle cx="287.3" cy="223.7" r="1.91" fill="#ffed00"/>
<circle cx="287.6" cy="224.8" r="1.05" fill="#00ff03"/>
<circle cx="284.8" cy="222.4" r="2.02" fill="#b000fe"/>
<circle cx="285.6" cy="221.8" r="1.11" fill="#fe0039"/>
<circle cx="288.6" cy="224.1" r="1.60" fill="#ff4100"/>
<circle cx="288.5" cy="225.2" r="0.88" fill="#a9ff00"/>
<circle cx="278.2" cy="227.9" r="1.67" fill="#8500ff"/>
<circle cx="279.0" cy="227.2" r="0.92" fill="#ff0065"/>
<circle cx="280.1" cy="227.2" r="1.72" fill="#00ffc6"/>
<circle cx="280.9" cy="228.0" r="0.95" fill="#0025ff"/>
<circle cx="279.9" cy="230.9" r="1.73" fill="#fff500"/>
<circle cx="278.9" cy="231.4" r="0.95" fill="#00ff0b"/>
<circle cx="271.5" cy="222.4" r="1.84" fill="#0044e7"/>
<circle cx="272.5" cy="222.8" r="1.01" fill="#b500e7"/>
<circle cx="268.8" cy="223.7" r="2.09" fill="#edc200"/>
<circle cx="268.9" cy="222.6" r="1.15" fill="#18ed00"/>
<circle cx="271.2" cy="225.1" r="1.91" fill="#00ea56"/>
<circle cx="270.1" cy="225.4" r="1.05" fill="#0081ea"/>
<circle cx="269.9" cy="226.1" r="2.05" fill="#c1e900"/>
<circle cx="268.9" cy="225.6" r="1.13" fill="#00e93b"/>
<circle cx="269.0" cy="215.3" r="1.88" fill="#df0026"/>
<circle cx="269.5" cy="214.3" r="1.03" fill="#dfca00"/>
<circle cx="271.8" cy="215.7" r="1.81" fill="#e0008a"/>
<circle cx="272.2" cy="216.8" r="0.99" fill="#e06800"/>
<circle cx="272.4" cy="216.1" r="2.02" fill="#72dd00"/>
<circle cx="272.4" cy="217.2" r="1.11" fill="#00dd7d"/>
<circle cx="277.4" cy="210.4" r="2.10" fill="#00d8d2"/>
<circle cx="278.2" cy="209.7" r="1.16" fill="#0b00d8"/>
<circle cx="277.0" cy="213.0" r="2.17" fill="#d80070"/>
<circle cx="276.1" cy="212.3" r="1.19" fill="#d87900"/>
<circle cx="276.2" cy="211.6" r="2.03" fill="#52df00"/>
<circle cx="276.1" cy="210.5" r="1.12" fill="#00df9f"/>
<circle cx="286.8" cy="213.8" r="1.94" fill="#db1400"/>
<circle cx="287.6" cy="214.6" r="1.07" fill="#b6db00"/>
<circle cx="284.1" cy="213.8" r="1.65" fill="#d33400"/>
<circle cx="284.9" cy="213.0" r="0.91" fill="#8ed300"/>
<circle cx="284.1" cy="213.1" r="1.80" fill="#0008da"/>
<circle cx="285.0" cy="212.5" r="0.99" fill="#da00d0"/>
</g>
<circle cx="308.7" cy="220.0" r="11.5" fill="#0e0000" filter="url(#bl2)"/>
<g filter="url(#bl06)">
<circle cx="310.0" cy="220.2" r="1.38" fill="#f90000"/>
<circle cx="308.8" cy="220.8" r="1.56" fill="#ff1000"/>
<circle cx="309.8" cy="217.7" r="1.76" fill="#fc0000"/>
<circle cx="317.8" cy="223.8" r="1.27" fill="#ef0000"/>
<circle cx="315.5" cy="225.8" r="1.61" fill="#ff0800"/>
<circle cx="317.3" cy="224.2" r="1.59" fill="#ff0500"/>
<circle cx="309.2" cy="229.7" r="1.63" fill="#ff2200"/>
<circle cx="309.0" cy="231.1" r="1.34" fill="#ff0000"/>
<circle cx="306.9" cy="229.4" r="1.61" fill="#ff1a00"/>
<circle cx="301.6" cy="225.1" r="1.28" fill="#e70000"/>
<circle cx="303.0" cy="224.4" r="1.76" fill="#f40000"/>
<circle cx="298.9" cy="216.8" r="1.41" fill="#ef0000"/>
<circle cx="302.9" cy="215.6" r="1.47" fill="#d70000"/>
<circle cx="307.6" cy="213.0" r="1.51" fill="#d70000"/>
<circle cx="307.3" cy="210.4" r="1.48" fill="#d70000"/>
<circle cx="309.1" cy="211.0" r="1.65" fill="#dd0000"/>
<circle cx="314.2" cy="215.1" r="1.49" fill="#cd0000"/>
<circle cx="315.2" cy="214.4" r="1.60" fill="#c00000"/>
<circle cx="316.5" cy="215.1" r="1.43" fill="#cf0000"/>
</g>
<g filter="url(#bl05)">
<circle cx="301.2" cy="216.6" r="0.98" fill="#ff9300"/>
<circle cx="301.2" cy="216.6" r="0.5" fill="#ffe890"/>
<circle cx="307.7" cy="209.8" r="1.03" fill="#ff9b00"/>
<circle cx="307.7" cy="209.8" r="0.5" fill="#ffe890"/>
</g>
<rect x="233.4" y="236.0" width="89.9" height="17" fill="#d04a4c" stroke="#b9bfd6" stroke-width="0.9"/>
<text x="278.4" y="249.0" font-size="14" text-anchor="middle" fill="#fff" textLength="87.4" lengthAdjust="spacingAndGlyphs">Modes 15-21</text>
<text x="343.0" y="17.4" font-size="7" text-anchor="middle" fill="#222" textLength="18.8" lengthAdjust="spacingAndGlyphs">Input</text>
<text x="343.0" y="25.3" font-size="7" text-anchor="middle" fill="#222" textLength="18.6" lengthAdjust="spacingAndGlyphs">mode</text>
<text x="373.8" y="17.4" font-size="7" text-anchor="middle" fill="#222" textLength="23.4" lengthAdjust="spacingAndGlyphs">Output</text>
<text x="373.8" y="25.3" font-size="7" text-anchor="middle" fill="#222" textLength="14.0" lengthAdjust="spacingAndGlyphs">field</text>
<text x="404.0" y="17.4" font-size="7" text-anchor="middle" fill="#222" textLength="23.4" lengthAdjust="spacingAndGlyphs">Output</text>
<text x="404.0" y="25.3" font-size="7" text-anchor="middle" fill="#222" textLength="29.6" lengthAdjust="spacingAndGlyphs">Intensity</text>
<rect x="359.2" y="30.5" width="29.2" height="204.1" fill="#060606"/>
<rect x="389.4" y="30.5" width="29.2" height="204.1" fill="#000"/>
<rect x="328.4" y="30.5" width="29.2" height="29.1" fill="#1d1d1d" stroke="#262626" stroke-width="0.5"/>
<g filter="url(#bl05)">
<circle cx="343.0" cy="45.1" r="5.7" fill="none" stroke="#161f38" stroke-width="1"/>
<circle cx="341.8" cy="48.6" r="1.05" fill="#5ab22d"/>
<circle cx="344.2" cy="41.5" r="1.05" fill="#852db2"/>
</g>
<circle cx="373.8" cy="45.1" r="13" fill="#0c0a10" filter="url(#bl2)"/>
<g filter="url(#bl07)">
<circle cx="372.0" cy="44.5" r="2.11" fill="#00d2fe"/>
<circle cx="372.3" cy="43.4" r="1.16" fill="#4000fe"/>
<circle cx="373.6" cy="47.0" r="2.02" fill="#ed002c"/>
<circle cx="372.5" cy="46.9" r="1.11" fill="#edd300"/>
<circle cx="372.5" cy="43.4" r="1.83" fill="#00a5f9"/>
<circle cx="373.4" cy="42.7" r="1.00" fill="#6800f9"/>
<circle cx="375.6" cy="44.3" r="2.01" fill="#00f607"/>
<circle cx="376.0" cy="45.3" r="1.11" fill="#00dcf6"/>
<circle cx="382.2" cy="49.6" r="1.86" fill="#00c1e0"/>
<circle cx="382.7" cy="50.6" r="1.02" fill="#3000e0"/>
<circle cx="379.9" cy="52.6" r="1.72" fill="#e400be"/>
<circle cx="378.8" cy="52.4" r="0.95" fill="#e43800"/>
<circle cx="382.9" cy="51.2" r="2.17" fill="#35e600"/>
<circle cx="382.6" cy="52.3" r="1.19" fill="#00e6c4"/>
<circle cx="382.1" cy="49.9" r="2.16" fill="#e10075"/>
<circle cx="382.5" cy="51.0" r="1.19" fill="#e17e00"/>
<circle cx="375.7" cy="54.9" r="1.63" fill="#fff600"/>
<circle cx="375.2" cy="55.8" r="0.90" fill="#00ff0b"/>
<circle cx="373.6" cy="52.6" r="2.13" fill="#00c2ff"/>
<circle cx="374.7" cy="52.6" r="1.17" fill="#5200ff"/>
<circle cx="373.2" cy="55.9" r="2.03" fill="#f80059"/>
<circle cx="372.2" cy="55.7" r="1.12" fill="#f8b300"/>
<circle cx="368.8" cy="51.2" r="2.13" fill="#d200b4"/>
<circle cx="368.2" cy="52.2" r="1.17" fill="#d22f00"/>
<circle cx="365.4" cy="50.6" r="1.73" fill="#d5002c"/>
<circle cx="365.0" cy="49.5" r="0.95" fill="#d5ba00"/>
<circle cx="365.5" cy="52.3" r="1.90" fill="#d60014"/>
<circle cx="364.6" cy="51.8" r="1.04" fill="#d6d300"/>
<circle cx="364.7" cy="48.6" r="2.18" fill="#db0c00"/>
<circle cx="365.4" cy="47.7" r="1.20" fill="#bedb00"/>
<circle cx="364.1" cy="41.4" r="2.12" fill="#00f56c"/>
<circle cx="363.7" cy="40.4" r="1.16" fill="#0075f5"/>
<circle cx="364.6" cy="40.7" r="1.82" fill="#47fd00"/>
<circle cx="364.4" cy="39.6" r="1.00" fill="#00fdca"/>
<circle cx="367.0" cy="38.6" r="2.11" fill="#fa0079"/>
<circle cx="368.1" cy="38.8" r="1.16" fill="#fa9500"/>
<circle cx="364.6" cy="41.1" r="2.00" fill="#64fb00"/>
<circle cx="364.2" cy="40.1" r="1.10" fill="#00fbab"/>
<circle cx="372.9" cy="38.4" r="1.89" fill="#f50073"/>
<circle cx="371.9" cy="38.8" r="1.04" fill="#f59600"/>
<circle cx="373.1" cy="35.2" r="1.88" fill="#ff2e00"/>
<circle cx="374.0" cy="35.8" r="1.03" fill="#bdff00"/>
<circle cx="374.1" cy="35.7" r="2.14" fill="#a500fb"/>
<circle cx="374.6" cy="36.7" r="1.18" fill="#fb0042"/>
<circle cx="382.8" cy="41.5" r="2.18" fill="#d8007c"/>
<circle cx="382.2" cy="42.4" r="1.20" fill="#d86d00"/>
<circle cx="380.8" cy="42.3" r="2.07" fill="#00a9d3"/>
<circle cx="379.7" cy="42.2" r="1.14" fill="#3b00d3"/>
<circle cx="379.1" cy="41.2" r="1.66" fill="#9600d9"/>
<circle cx="378.6" cy="40.2" r="0.91" fill="#d90031"/>
</g>
<circle cx="404.0" cy="45.1" r="11.5" fill="#0e0000" filter="url(#bl2)"/>
<g filter="url(#bl06)">
<circle cx="406.1" cy="45.8" r="1.29" fill="#ff0500"/>
<circle cx="405.1" cy="46.2" r="1.76" fill="#f20000"/>
<circle cx="404.4" cy="47.5" r="1.53" fill="#ff0800"/>
<circle cx="410.2" cy="52.1" r="1.23" fill="#d50000"/>
<circle cx="412.7" cy="49.9" r="1.26" fill="#e70000"/>
<circle cx="409.1" cy="49.2" r="1.43" fill="#df0000"/>
<circle cx="405.3" cy="53.8" r="1.47" fill="#ff1a00"/>
<circle cx="402.5" cy="53.2" r="1.73" fill="#ff3a00"/>
<circle cx="403.9" cy="51.5" r="1.36" fill="#ff2700"/>
<circle cx="395.4" cy="49.0" r="1.32" fill="#c20000"/>
<circle cx="395.9" cy="48.0" r="1.52" fill="#c80000"/>
<circle cx="396.5" cy="48.4" r="1.58" fill="#ca0000"/>
<circle cx="397.3" cy="38.8" r="1.32" fill="#ff1200"/>
<circle cx="398.0" cy="42.2" r="1.46" fill="#fc0000"/>
<circle cx="402.0" cy="35.7" r="1.69" fill="#ff1d00"/>
<circle cx="403.4" cy="34.7" r="1.53" fill="#ff1700"/>
<circle cx="413.5" cy="41.1" r="1.63" fill="#c20000"/>
<circle cx="409.5" cy="40.9" r="1.38" fill="#cd0000"/>
</g>
<g filter="url(#bl05)">
<circle cx="403.2" cy="37.7" r="1.13" fill="#ff8800"/>
<circle cx="403.2" cy="37.7" r="0.5" fill="#ffe890"/>
</g>
<rect x="328.4" y="59.6" width="29.2" height="29.1" fill="#1d1d1d" stroke="#262626" stroke-width="0.5"/>
<g filter="url(#bl05)">
<circle cx="343.0" cy="74.2" r="5.9" fill="none" stroke="#38161d" stroke-width="1"/>
<circle cx="342.5" cy="76.8" r="1.05" fill="#2d77b2"/>
<circle cx="343.5" cy="71.7" r="1.05" fill="#b2682d"/>
</g>
<circle cx="373.8" cy="74.2" r="13" fill="#0c0a10" filter="url(#bl2)"/>
<g filter="url(#bl07)">
<circle cx="375.1" cy="74.6" r="2.13" fill="#002af6"/>
<circle cx="374.9" cy="75.6" r="1.17" fill="#e000f6"/>
<circle cx="375.8" cy="74.1" r="1.91" fill="#f74800"/>
<circle cx="375.9" cy="75.2" r="1.05" fill="#9cf700"/>
<circle cx="376.3" cy="73.1" r="1.66" fill="#6b00ff"/>
<circle cx="376.8" cy="74.1" r="0.91" fill="#ff007f"/>
<circle cx="379.3" cy="78.7" r="1.94" fill="#aef800"/>
<circle cx="379.4" cy="77.6" r="1.07" fill="#00f85e"/>
<circle cx="382.0" cy="78.6" r="1.73" fill="#31ed00"/>
<circle cx="382.2" cy="79.7" r="0.95" fill="#00edcf"/>
<circle cx="380.4" cy="80.2" r="1.89" fill="#f1003e"/>
<circle cx="379.4" cy="79.7" r="1.04" fill="#f1c700"/>
<circle cx="374.4" cy="84.0" r="1.77" fill="#007fd8"/>
<circle cx="373.3" cy="84.2" r="0.97" fill="#6b00d8"/>
<circle cx="373.3" cy="82.7" r="1.85" fill="#d400ae"/>
<circle cx="373.5" cy="81.6" r="1.02" fill="#d43700"/>
<circle cx="375.3" cy="82.7" r="1.98" fill="#db3b00"/>
<circle cx="375.4" cy="83.8" r="1.09" fill="#8fdb00"/>
<circle cx="365.8" cy="79.9" r="1.81" fill="#2400f6"/>
<circle cx="365.1" cy="79.1" r="0.99" fill="#f600be"/>
<circle cx="364.9" cy="77.5" r="1.97" fill="#00dbf1"/>
<circle cx="365.6" cy="76.6" r="1.08" fill="#2800f1"/>
<circle cx="365.7" cy="79.1" r="2.05" fill="#ea0088"/>
<circle cx="365.8" cy="78.0" r="1.13" fill="#ea7500"/>
<circle cx="366.7" cy="68.2" r="1.75" fill="#ce00df"/>
<circle cx="367.8" cy="68.4" r="0.96" fill="#df0100"/>
<circle cx="366.6" cy="67.5" r="2.02" fill="#00e3e7"/>
<circle cx="367.7" cy="67.7" r="1.11" fill="#1600e7"/>
<circle cx="367.4" cy="69.5" r="2.17" fill="#e4004d"/>
<circle cx="367.9" cy="70.5" r="1.19" fill="#e4a900"/>
<circle cx="365.2" cy="71.5" r="1.77" fill="#e20090"/>
<circle cx="364.3" cy="70.9" r="0.98" fill="#e26500"/>
<circle cx="372.2" cy="68.3" r="1.76" fill="#0600da"/>
<circle cx="371.2" cy="68.0" r="0.97" fill="#da00c3"/>
<circle cx="371.8" cy="65.3" r="1.65" fill="#00e6b7"/>
<circle cx="372.2" cy="64.2" r="0.91" fill="#001de6"/>
<circle cx="372.8" cy="68.2" r="2.09" fill="#dc3600"/>
<circle cx="371.7" cy="68.2" r="1.15" fill="#94dc00"/>
<circle cx="378.3" cy="69.7" r="2.09" fill="#98cb00"/>
<circle cx="378.1" cy="68.6" r="1.15" fill="#00cb43"/>
<circle cx="379.8" cy="68.1" r="1.79" fill="#006bcc"/>
<circle cx="380.7" cy="67.4" r="0.98" fill="#7100cc"/>
<circle cx="378.5" cy="68.2" r="1.65" fill="#14cb00"/>
<circle cx="379.0" cy="67.2" r="0.91" fill="#00cbc7"/>
<circle cx="380.1" cy="71.1" r="2.12" fill="#3100d2"/>
<circle cx="379.0" cy="70.8" r="1.17" fill="#d20091"/>
</g>
<circle cx="404.0" cy="74.2" r="11.5" fill="#0e0000" filter="url(#bl2)"/>
<g filter="url(#bl06)">
<circle cx="403.2" cy="72.5" r="1.60" fill="#ff1f00"/>
<circle cx="403.7" cy="71.7" r="1.59" fill="#ff0d00"/>
<circle cx="404.7" cy="74.9" r="1.44" fill="#ff2f00"/>
<circle cx="410.7" cy="78.8" r="1.77" fill="#ff0a00"/>
<circle cx="410.6" cy="77.0" r="1.39" fill="#ff0800"/>
<circle cx="403.4" cy="83.6" r="1.78" fill="#d50000"/>
<circle cx="404.2" cy="80.9" r="1.68" fill="#ca0000"/>
<circle cx="394.9" cy="78.3" r="1.26" fill="#ef0000"/>
<circle cx="396.7" cy="80.0" r="1.27" fill="#ff0800"/>
<circle cx="398.3" cy="80.0" r="1.68" fill="#ef0000"/>
<circle cx="395.9" cy="71.7" r="1.37" fill="#e70000"/>
<circle cx="396.7" cy="71.2" r="1.76" fill="#e20000"/>
<circle cx="396.8" cy="70.5" r="1.39" fill="#d50000"/>
<circle cx="403.1" cy="64.3" r="1.77" fill="#df0000"/>
<circle cx="403.6" cy="65.8" r="1.69" fill="#d20000"/>
<circle cx="401.1" cy="65.5" r="1.69" fill="#e40000"/>
<circle cx="410.6" cy="69.9" r="1.32" fill="#bd0000"/>
<circle cx="412.9" cy="68.3" r="1.51" fill="#ba0000"/>
<circle cx="409.2" cy="69.5" r="1.37" fill="#c50000"/>
</g>
<g filter="url(#bl05)">
</g>
<rect x="328.4" y="88.8" width="29.2" height="29.1" fill="#1d1d1d" stroke="#262626" stroke-width="0.5"/>
<g filter="url(#bl05)">
<circle cx="343.0" cy="103.4" r="8.8" fill="none" stroke="#2e3816" stroke-width="1"/>
<circle cx="342.7" cy="105.7" r="1.05" fill="#2dafb2"/>
<circle cx="343.3" cy="101.0" r="1.05" fill="#b2302d"/>
</g>
<circle cx="373.8" cy="103.4" r="13" fill="#0c0a10" filter="url(#bl2)"/>
<g filter="url(#bl07)">
<circle cx="374.1" cy="105.0" r="1.64" fill="#d1003d"/>
<circle cx="373.1" cy="105.2" r="0.90" fill="#d1a500"/>
<circle cx="373.2" cy="102.6" r="1.62" fill="#008bd2"/>
<circle cx="374.1" cy="101.9" r="0.89" fill="#5800d2"/>
<circle cx="372.6" cy="101.4" r="2.19" fill="#18d100"/>
<circle cx="373.5" cy="100.8" r="1.20" fill="#00d1c9"/>
<circle cx="373.8" cy="104.7" r="1.75" fill="#00d229"/>
<circle cx="372.7" cy="104.7" r="0.96" fill="#0098d2"/>
<circle cx="382.5" cy="106.5" r="1.62" fill="#e900e7"/>
<circle cx="383.0" cy="107.5" r="0.89" fill="#e91400"/>
<circle cx="382.8" cy="108.7" r="1.77" fill="#0091e3"/>
<circle cx="381.9" cy="109.3" r="0.98" fill="#6400e3"/>
<circle cx="383.6" cy="106.0" r="1.74" fill="#0007f1"/>
<circle cx="384.1" cy="107.0" r="0.96" fill="#f100e5"/>
<circle cx="380.4" cy="109.2" r="2.09" fill="#00e794"/>
<circle cx="379.4" cy="108.6" r="1.15" fill="#0040e7"/>
<circle cx="376.4" cy="110.4" r="1.74" fill="#00dc95"/>
<circle cx="377.2" cy="111.2" r="0.95" fill="#0035dc"/>
<circle cx="374.6" cy="113.1" r="2.05" fill="#1400e0"/>
<circle cx="373.5" cy="113.1" r="1.13" fill="#e000ba"/>
<circle cx="374.4" cy="114.0" r="1.89" fill="#00de17"/>
<circle cx="373.4" cy="113.9" r="1.04" fill="#00b5de"/>
<circle cx="374.7" cy="113.3" r="1.80" fill="#d76e00"/>
<circle cx="373.6" cy="113.3" r="0.99" fill="#58d700"/>
<circle cx="364.4" cy="108.4" r="1.94" fill="#ff006d"/>
<circle cx="364.1" cy="107.4" r="1.07" fill="#ffa600"/>
<circle cx="365.7" cy="108.8" r="1.63" fill="#0071f9"/>
<circle cx="364.9" cy="108.0" r="0.90" fill="#9c00f9"/>
<circle cx="365.8" cy="107.0" r="1.91" fill="#ff00e8"/>
<circle cx="366.6" cy="106.3" r="1.05" fill="#ff2c00"/>
<circle cx="367.4" cy="107.5" r="2.18" fill="#24ff00"/>
<circle cx="367.9" cy="108.5" r="1.20" fill="#00fff0"/>
<circle cx="365.1" cy="96.2" r="2.01" fill="#fad900"/>
<circle cx="365.8" cy="95.3" r="1.11" fill="#0dfa00"/>
<circle cx="366.1" cy="99.2" r="1.87" fill="#f4005f"/>
<circle cx="365.2" cy="98.5" r="1.03" fill="#f4a900"/>
<circle cx="366.5" cy="97.5" r="2.19" fill="#c700e8"/>
<circle cx="366.9" cy="96.4" r="1.20" fill="#e8000f"/>
<circle cx="375.8" cy="94.3" r="1.78" fill="#ff00a0"/>
<circle cx="376.0" cy="95.4" r="0.98" fill="#ff7300"/>
<circle cx="371.6" cy="93.5" r="1.78" fill="#ffd900"/>
<circle cx="372.3" cy="92.6" r="0.98" fill="#12ff00"/>
<circle cx="372.0" cy="94.7" r="2.06" fill="#4eff00"/>
<circle cx="372.1" cy="93.6" r="1.13" fill="#00ffc5"/>
<circle cx="381.1" cy="95.7" r="1.76" fill="#2f00d4"/>
<circle cx="382.2" cy="95.9" r="0.97" fill="#d40094"/>
<circle cx="380.3" cy="96.9" r="1.79" fill="#d40062"/>
<circle cx="381.3" cy="96.5" r="0.99" fill="#d48300"/>
<circle cx="382.5" cy="96.8" r="1.61" fill="#a4cf00"/>
<circle cx="383.3" cy="97.6" r="0.88" fill="#00cf3b"/>
</g>
<circle cx="404.0" cy="103.4" r="11.5" fill="#0e0000" filter="url(#bl2)"/>
<g filter="url(#bl06)">
<circle cx="404.1" cy="102.7" r="1.64" fill="#c20000"/>
<circle cx="403.6" cy="104.4" r="1.23" fill="#c00000"/>
<circle cx="412.3" cy="106.9" r="1.31" fill="#e40000"/>
<circle cx="413.5" cy="105.8" r="1.23" fill="#df0000"/>
<circle cx="403.8" cy="110.8" r="1.56" fill="#cd0000"/>
<circle cx="406.6" cy="113.3" r="1.61" fill="#d50000"/>
<circle cx="399.1" cy="107.6" r="1.67" fill="#ff3700"/>
<circle cx="394.4" cy="108.5" r="1.46" fill="#ff3400"/>
<circle cx="396.4" cy="107.3" r="1.71" fill="#ff2500"/>
<circle cx="395.9" cy="97.2" r="1.32" fill="#ff1500"/>
<circle cx="396.9" cy="96.5" r="1.23" fill="#f70000"/>
<circle cx="402.4" cy="94.1" r="1.73" fill="#ff1a00"/>
<circle cx="405.0" cy="95.7" r="1.29" fill="#ff1a00"/>
<circle cx="411.6" cy="97.7" r="1.36" fill="#c50000"/>
<circle cx="409.3" cy="98.1" r="1.68" fill="#ba0000"/>
</g>
<g filter="url(#bl05)">
<circle cx="412.6" cy="105.8" r="0.96" fill="#ff6b00"/>
<circle cx="412.6" cy="105.8" r="0.5" fill="#ffe890"/>
</g>
<rect x="328.4" y="118.0" width="29.2" height="29.1" fill="#1d1d1d" stroke="#262626" stroke-width="0.5"/>
<g filter="url(#bl05)">
<circle cx="343.0" cy="132.5" r="8.7" fill="none" stroke="#163832" stroke-width="1"/>
<circle cx="346.3" cy="133.1" r="1.05" fill="#b22d39"/>
<circle cx="344.2" cy="135.7" r="1.05" fill="#2db2a7"/>
<circle cx="340.9" cy="135.1" r="1.05" fill="#b22d39"/>
<circle cx="339.7" cy="132.0" r="1.05" fill="#2db2a7"/>
<circle cx="341.8" cy="129.4" r="1.05" fill="#b22d39"/>
<circle cx="345.1" cy="129.9" r="1.05" fill="#2db2a7"/>
</g>
<circle cx="373.8" cy="132.5" r="13" fill="#0c0a10" filter="url(#bl2)"/>
<g filter="url(#bl07)">
<circle cx="375.5" cy="131.8" r="1.65" fill="#4000f8"/>
<circle cx="375.9" cy="132.8" r="0.91" fill="#f800a4"/>
<circle cx="374.8" cy="133.0" r="2.20" fill="#00f9f4"/>
<circle cx="374.3" cy="134.0" r="1.21" fill="#0f00f9"/>
<circle cx="375.6" cy="131.2" r="2.02" fill="#00f148"/>
<circle cx="376.3" cy="132.1" r="1.11" fill="#0095f1"/>
<circle cx="372.5" cy="134.4" r="2.08" fill="#5700eb"/>
<circle cx="371.6" cy="133.8" r="1.15" fill="#eb0081"/>
<circle cx="382.7" cy="137.2" r="2.11" fill="#de0021"/>
<circle cx="382.1" cy="138.1" r="1.16" fill="#decf00"/>
<circle cx="382.7" cy="135.8" r="1.64" fill="#a900da"/>
<circle cx="383.1" cy="136.8" r="0.90" fill="#da0020"/>
<circle cx="382.3" cy="137.1" r="2.11" fill="#002fde"/>
<circle cx="381.6" cy="137.9" r="1.16" fill="#c100de"/>
<circle cx="374.0" cy="139.8" r="1.84" fill="#1ced00"/>
<circle cx="375.1" cy="139.9" r="1.01" fill="#00ede4"/>
<circle cx="375.3" cy="141.1" r="2.12" fill="#8bf200"/>
<circle cx="375.3" cy="142.2" r="1.17" fill="#00f27a"/>
<circle cx="374.6" cy="142.4" r="1.82" fill="#00d2e0"/>
<circle cx="373.7" cy="143.0" r="1.00" fill="#2000e0"/>
<circle cx="374.2" cy="138.8" r="1.76" fill="#e5cd00"/>
<circle cx="375.3" cy="138.9" r="0.97" fill="#06e500"/>
<circle cx="366.1" cy="136.1" r="1.92" fill="#f30015"/>
<circle cx="367.1" cy="135.7" r="1.05" fill="#f3f200"/>
<circle cx="365.7" cy="134.5" r="1.92" fill="#0050ff"/>
<circle cx="366.8" cy="134.2" r="1.06" fill="#c300ff"/>
<circle cx="366.8" cy="138.7" r="2.07" fill="#005bff"/>
<circle cx="365.7" cy="138.9" r="1.14" fill="#b800ff"/>
<circle cx="364.6" cy="130.2" r="1.80" fill="#00d2ee"/>
<circle cx="363.9" cy="129.4" r="0.99" fill="#2f00ee"/>
<circle cx="364.0" cy="128.0" r="1.90" fill="#00ff90"/>
<circle cx="364.5" cy="127.0" r="1.05" fill="#005aff"/>
<circle cx="365.1" cy="129.9" r="2.04" fill="#c800ff"/>
<circle cx="364.3" cy="129.2" r="1.12" fill="#ff0022"/>
<circle cx="366.4" cy="131.2" r="1.60" fill="#00f7ff"/>
<circle cx="365.3" cy="131.3" r="0.88" fill="#1c00ff"/>
<circle cx="373.2" cy="122.2" r="1.60" fill="#f100d1"/>
<circle cx="374.3" cy="122.4" r="0.88" fill="#f13400"/>
<circle cx="372.3" cy="122.2" r="1.84" fill="#81e500"/>
<circle cx="373.4" cy="121.8" r="1.01" fill="#00e576"/>
<circle cx="371.4" cy="123.3" r="2.01" fill="#e61800"/>
<circle cx="371.8" cy="122.3" r="1.10" fill="#bce600"/>
<circle cx="370.8" cy="123.3" r="2.08" fill="#00e971"/>
<circle cx="371.1" cy="122.3" r="1.14" fill="#0065e9"/>
<circle cx="382.7" cy="128.8" r="2.17" fill="#00e3a0"/>
<circle cx="382.3" cy="129.8" r="1.20" fill="#0030e3"/>
<circle cx="381.4" cy="129.2" r="1.77" fill="#0007e1"/>
<circle cx="380.3" cy="129.4" r="0.97" fill="#e100d6"/>
<circle cx="380.1" cy="128.9" r="1.99" fill="#0011e1"/>
<circle cx="379.5" cy="128.0" r="1.09" fill="#e100e0"/>
<circle cx="382.7" cy="129.5" r="2.17" fill="#ef001e"/>
<circle cx="382.0" cy="130.3" r="1.19" fill="#efe400"/>
</g>
<circle cx="404.0" cy="132.5" r="11.5" fill="#0e0000" filter="url(#bl2)"/>
<g filter="url(#bl06)">
<circle cx="403.2" cy="132.3" r="1.67" fill="#ff0000"/>
<circle cx="405.3" cy="133.9" r="1.75" fill="#fc0000"/>
<circle cx="411.4" cy="138.0" r="1.52" fill="#df0000"/>
<circle cx="411.6" cy="134.8" r="1.55" fill="#ca0000"/>
<circle cx="403.1" cy="140.5" r="1.40" fill="#e70000"/>
<circle cx="404.9" cy="141.3" r="1.51" fill="#e70000"/>
<circle cx="394.7" cy="136.9" r="1.23" fill="#ff1500"/>
<circle cx="395.9" cy="135.3" r="1.71" fill="#ff1f00"/>
<circle cx="397.1" cy="134.9" r="1.80" fill="#ff0200"/>
<circle cx="394.7" cy="128.0" r="1.38" fill="#ff0800"/>
<circle cx="397.4" cy="127.8" r="1.33" fill="#ff2700"/>
<circle cx="394.6" cy="128.1" r="1.58" fill="#fc0000"/>
<circle cx="403.9" cy="125.6" r="1.74" fill="#fc0000"/>
<circle cx="404.6" cy="121.8" r="1.62" fill="#ff0a00"/>
<circle cx="410.8" cy="128.0" r="1.38" fill="#ef0000"/>
<circle cx="409.4" cy="127.7" r="1.73" fill="#df0000"/>
</g>
<g filter="url(#bl05)">
<circle cx="410.3" cy="129.0" r="0.91" fill="#ff8000"/>
<circle cx="410.3" cy="129.0" r="0.5" fill="#ffe890"/>
</g>
<rect x="328.4" y="147.1" width="29.2" height="29.1" fill="#1d1d1d" stroke="#262626" stroke-width="0.5"/>
<g filter="url(#bl05)">
<circle cx="343.0" cy="161.7" r="4.4" fill="none" stroke="#361638" stroke-width="1"/>
<circle cx="341.8" cy="165.2" r="1.05" fill="#66b22d"/>
<circle cx="344.2" cy="158.2" r="1.05" fill="#792db2"/>
</g>
<circle cx="373.8" cy="161.7" r="13" fill="#0c0a10" filter="url(#bl2)"/>
<g filter="url(#bl07)">
<circle cx="375.4" cy="162.4" r="2.19" fill="#cd00d9"/>
<circle cx="375.0" cy="163.4" r="1.20" fill="#d90500"/>
<circle cx="371.4" cy="160.7" r="1.91" fill="#dc2b00"/>
<circle cx="371.8" cy="159.7" r="1.05" fill="#9fdc00"/>
<circle cx="372.2" cy="163.7" r="1.78" fill="#da7800"/>
<circle cx="371.3" cy="163.0" r="0.98" fill="#50da00"/>
<circle cx="376.1" cy="161.1" r="1.61" fill="#a9d400"/>
<circle cx="376.4" cy="162.2" r="0.89" fill="#00d43c"/>
<circle cx="381.8" cy="169.3" r="1.84" fill="#ff00c3"/>
<circle cx="380.8" cy="169.7" r="1.01" fill="#ff5100"/>
<circle cx="378.7" cy="167.1" r="1.71" fill="#cf00f0"/>
<circle cx="378.6" cy="166.0" r="0.94" fill="#f0000e"/>
<circle cx="379.7" cy="166.3" r="2.18" fill="#f2005a"/>
<circle cx="380.3" cy="165.4" r="1.20" fill="#f2ab00"/>
<circle cx="373.7" cy="171.8" r="1.89" fill="#0025d8"/>
<circle cx="372.7" cy="172.2" r="1.04" fill="#c400d8"/>
<circle cx="375.2" cy="168.7" r="1.88" fill="#d10013"/>
<circle cx="375.9" cy="169.6" r="1.04" fill="#d1ce00"/>
<circle cx="374.7" cy="170.5" r="2.10" fill="#00ce19"/>
<circle cx="374.6" cy="171.6" r="1.15" fill="#00a4ce"/>
<circle cx="366.6" cy="167.8" r="2.05" fill="#e19c00"/>
<circle cx="365.6" cy="167.6" r="1.13" fill="#33e100"/>
<circle cx="365.0" cy="166.3" r="1.83" fill="#00f777"/>
<circle cx="365.2" cy="165.3" r="1.00" fill="#006cf7"/>
<circle cx="364.7" cy="167.1" r="2.13" fill="#f40068"/>
<circle cx="364.5" cy="166.0" r="1.17" fill="#f4a000"/>
<circle cx="368.9" cy="156.1" r="2.17" fill="#05e200"/>
<circle cx="369.3" cy="157.1" r="1.19" fill="#00d5e2"/>
<circle cx="366.5" cy="154.7" r="2.07" fill="#e300dc"/>
<circle cx="367.6" cy="154.6" r="1.14" fill="#e31900"/>
<circle cx="367.7" cy="157.5" r="1.64" fill="#dca000"/>
<circle cx="367.2" cy="158.5" r="0.90" fill="#2bdc00"/>
<circle cx="364.1" cy="156.1" r="2.01" fill="#d50018"/>
<circle cx="364.4" cy="155.1" r="1.11" fill="#d5cf00"/>
<circle cx="375.5" cy="155.1" r="1.79" fill="#d02700"/>
<circle cx="374.6" cy="155.7" r="0.99" fill="#98d000"/>
<circle cx="376.1" cy="153.2" r="2.17" fill="#a5d800"/>
<circle cx="376.0" cy="154.2" r="1.19" fill="#00d844"/>
<circle cx="372.2" cy="153.4" r="2.13" fill="#d30004"/>
<circle cx="372.0" cy="152.3" r="1.17" fill="#c6d300"/>
<circle cx="382.5" cy="157.2" r="2.11" fill="#4900e0"/>
<circle cx="382.4" cy="158.3" r="1.16" fill="#e00085"/>
<circle cx="383.1" cy="155.9" r="2.09" fill="#cd00ec"/>
<circle cx="383.7" cy="156.9" r="1.15" fill="#ec000d"/>
<circle cx="379.5" cy="157.5" r="1.79" fill="#3300e9"/>
<circle cx="379.3" cy="156.4" r="0.98" fill="#e900a4"/>
</g>
<circle cx="404.0" cy="161.7" r="11.5" fill="#0e0000" filter="url(#bl2)"/>
<g filter="url(#bl06)">
<circle cx="403.9" cy="163.1" r="1.65" fill="#cd0000"/>
<circle cx="404.5" cy="159.6" r="1.42" fill="#d70000"/>
<circle cx="402.5" cy="163.3" r="1.62" fill="#ca0000"/>
<circle cx="410.2" cy="165.1" r="1.21" fill="#ff0d00"/>
<circle cx="413.1" cy="166.2" r="1.60" fill="#ff1a00"/>
<circle cx="403.1" cy="169.3" r="1.78" fill="#ba0000"/>
<circle cx="403.9" cy="169.5" r="1.69" fill="#c80000"/>
<circle cx="404.3" cy="172.2" r="1.40" fill="#c00000"/>
<circle cx="398.8" cy="168.0" r="1.36" fill="#ec0000"/>
<circle cx="396.5" cy="166.0" r="1.59" fill="#ff0200"/>
<circle cx="396.1" cy="158.1" r="1.35" fill="#cf0000"/>
<circle cx="395.0" cy="158.0" r="1.70" fill="#d50000"/>
<circle cx="397.7" cy="157.7" r="1.75" fill="#ca0000"/>
<circle cx="406.7" cy="152.8" r="1.28" fill="#c20000"/>
<circle cx="403.2" cy="151.8" r="1.57" fill="#ca0000"/>
<circle cx="406.2" cy="152.5" r="1.65" fill="#c20000"/>
<circle cx="412.8" cy="156.9" r="1.75" fill="#df0000"/>
<circle cx="410.9" cy="159.3" r="1.65" fill="#f20000"/>
</g>
<g filter="url(#bl05)">
<circle cx="411.6" cy="167.2" r="1.17" fill="#ff9d00"/>
<circle cx="411.6" cy="167.2" r="0.5" fill="#ffe890"/>
<circle cx="404.6" cy="172.7" r="1.09" fill="#ff7600"/>
<circle cx="404.6" cy="172.7" r="0.5" fill="#ffe890"/>
<circle cx="397.3" cy="156.6" r="1.05" fill="#ff7100"/>
<circle cx="397.3" cy="156.6" r="0.5" fill="#ffe890"/>
</g>
<rect x="328.4" y="176.2" width="29.2" height="29.1" fill="#1d1d1d" stroke="#262626" stroke-width="0.5"/>
<g filter="url(#bl05)">
<circle cx="343.0" cy="190.8" r="6.3" fill="none" stroke="#163829" stroke-width="1"/>
<circle cx="344.5" cy="193.1" r="1.05" fill="#2db22f"/>
<circle cx="341.5" cy="188.6" r="1.05" fill="#b22db0"/>
</g>
<circle cx="373.8" cy="190.8" r="13" fill="#0c0a10" filter="url(#bl2)"/>
<g filter="url(#bl07)">
<circle cx="371.8" cy="189.7" r="2.12" fill="#ffa100"/>
<circle cx="372.4" cy="188.8" r="1.17" fill="#49ff00"/>
<circle cx="376.0" cy="190.8" r="1.68" fill="#005bff"/>
<circle cx="376.1" cy="191.8" r="0.92" fill="#b800ff"/>
<circle cx="374.4" cy="188.7" r="1.65" fill="#5a00fb"/>
<circle cx="375.5" cy="189.0" r="0.91" fill="#fb008d"/>
<circle cx="375.2" cy="192.5" r="1.67" fill="#21ff00"/>
<circle cx="374.3" cy="193.2" r="0.92" fill="#00fff3"/>
<circle cx="381.8" cy="193.8" r="1.81" fill="#39f200"/>
<circle cx="382.8" cy="194.2" r="1.00" fill="#00f2cd"/>
<circle cx="380.2" cy="196.3" r="1.85" fill="#afff00"/>
<circle cx="379.4" cy="195.6" r="1.02" fill="#00ff64"/>
<circle cx="379.5" cy="193.9" r="1.78" fill="#02ff00"/>
<circle cx="380.2" cy="193.1" r="0.98" fill="#00edff"/>
<circle cx="381.4" cy="196.3" r="1.98" fill="#64ed00"/>
<circle cx="380.4" cy="196.7" r="1.09" fill="#00ed9c"/>
<circle cx="375.5" cy="199.8" r="2.17" fill="#5f00ff"/>
<circle cx="375.4" cy="200.8" r="1.19" fill="#ff008c"/>
<circle cx="371.7" cy="199.2" r="1.64" fill="#ad00ff"/>
<circle cx="371.9" cy="198.1" r="0.90" fill="#ff003e"/>
<circle cx="371.6" cy="199.3" r="2.08" fill="#f4008c"/>
<circle cx="371.6" cy="198.2" r="1.15" fill="#f47b00"/>
<circle cx="366.6" cy="196.6" r="1.63" fill="#2700ff"/>
<circle cx="365.6" cy="196.9" r="0.90" fill="#ff00c4"/>
<circle cx="365.0" cy="194.7" r="1.69" fill="#f1b700"/>
<circle cx="364.9" cy="193.6" r="0.93" fill="#27f100"/>
<circle cx="367.8" cy="193.8" r="1.63" fill="#78fa00"/>
<circle cx="368.3" cy="194.9" r="0.90" fill="#00fa97"/>
<circle cx="366.5" cy="196.6" r="2.19" fill="#2b00fe"/>
<circle cx="365.4" cy="196.9" r="1.20" fill="#fe00bf"/>
<circle cx="366.8" cy="185.8" r="2.12" fill="#7700db"/>
<circle cx="367.8" cy="186.3" r="1.17" fill="#db0053"/>
<circle cx="366.1" cy="190.1" r="1.90" fill="#e51300"/>
<circle cx="365.0" cy="190.1" r="1.05" fill="#c0e500"/>
<circle cx="366.7" cy="185.6" r="1.98" fill="#e400e4"/>
<circle cx="367.7" cy="186.1" r="1.09" fill="#e41200"/>
<circle cx="375.4" cy="181.9" r="2.02" fill="#d7005f"/>
<circle cx="375.7" cy="183.0" r="1.11" fill="#d78900"/>
<circle cx="373.6" cy="180.9" r="1.89" fill="#00bade"/>
<circle cx="374.6" cy="180.3" r="1.04" fill="#3500de"/>
<circle cx="375.1" cy="181.8" r="1.84" fill="#0079da"/>
<circle cx="375.6" cy="182.8" r="1.01" fill="#7200da"/>
<circle cx="376.5" cy="183.4" r="1.66" fill="#6e00d5"/>
<circle cx="375.9" cy="184.4" r="0.91" fill="#d50056"/>
<circle cx="381.9" cy="184.5" r="1.97" fill="#c100d3"/>
<circle cx="383.0" cy="184.7" r="1.09" fill="#d30001"/>
<circle cx="379.9" cy="187.3" r="2.20" fill="#00d964"/>
<circle cx="379.7" cy="186.2" r="1.21" fill="#0063d9"/>
<circle cx="380.0" cy="187.2" r="1.84" fill="#0032d8"/>
<circle cx="379.8" cy="186.1" r="1.01" fill="#b700d8"/>
<circle cx="380.2" cy="185.2" r="1.99" fill="#6500d2"/>
<circle cx="381.1" cy="184.6" r="1.10" fill="#d2005c"/>
</g>
<circle cx="404.0" cy="190.8" r="11.5" fill="#0e0000" filter="url(#bl2)"/>
<g filter="url(#bl06)">
<circle cx="402.0" cy="192.0" r="1.69" fill="#ff1f00"/>
<circle cx="404.4" cy="189.9" r="1.66" fill="#ff0500"/>
<circle cx="406.3" cy="191.7" r="1.45" fill="#ff2200"/>
<circle cx="409.7" cy="193.6" r="1.76" fill="#f70000"/>
<circle cx="410.8" cy="196.7" r="1.68" fill="#ff1f00"/>
<circle cx="409.4" cy="197.1" r="1.60" fill="#f70000"/>
<circle cx="403.5" cy="199.0" r="1.49" fill="#ff1200"/>
<circle cx="404.7" cy="200.2" r="1.74" fill="#ff2c00"/>
<circle cx="396.0" cy="193.6" r="1.56" fill="#ff2200"/>
<circle cx="396.8" cy="194.2" r="1.45" fill="#ff1500"/>
<circle cx="397.3" cy="195.5" r="1.55" fill="#ff1a00"/>
<circle cx="395.9" cy="188.8" r="1.75" fill="#da0000"/>
<circle cx="397.2" cy="186.3" r="1.38" fill="#dd0000"/>
<circle cx="405.9" cy="181.9" r="1.38" fill="#c00000"/>
<circle cx="405.7" cy="181.9" r="1.78" fill="#c80000"/>
<circle cx="411.1" cy="187.6" r="1.42" fill="#c80000"/>
<circle cx="413.0" cy="185.9" r="1.79" fill="#d20000"/>
</g>
<g filter="url(#bl05)">
<circle cx="403.1" cy="201.7" r="1.02" fill="#ff7900"/>
<circle cx="403.1" cy="201.7" r="0.5" fill="#ffe890"/>
</g>
<rect x="328.4" y="205.4" width="29.2" height="29.1" fill="#1d1d1d" stroke="#262626" stroke-width="0.5"/>
<g filter="url(#bl05)">
<circle cx="343.0" cy="220.0" r="7.4" fill="none" stroke="#381635" stroke-width="1"/>
<circle cx="341.2" cy="222.0" r="1.05" fill="#2d8cb2"/>
<circle cx="344.8" cy="218.0" r="1.05" fill="#b2532d"/>
</g>
<circle cx="373.8" cy="220.0" r="13" fill="#0c0a10" filter="url(#bl2)"/>
<g filter="url(#bl07)">
<circle cx="373.5" cy="221.0" r="2.18" fill="#0dff00"/>
<circle cx="372.5" cy="220.8" r="1.20" fill="#00f8ff"/>
<circle cx="376.3" cy="220.2" r="1.70" fill="#6000ee"/>
<circle cx="376.2" cy="221.3" r="0.93" fill="#ee007b"/>
<circle cx="374.6" cy="219.1" r="2.19" fill="#fc008b"/>
<circle cx="375.4" cy="219.8" r="1.20" fill="#fc8500"/>
<circle cx="380.2" cy="224.2" r="1.64" fill="#004ed7"/>
<circle cx="380.2" cy="223.1" r="0.90" fill="#9a00d7"/>
<circle cx="382.3" cy="221.9" r="1.95" fill="#da002f"/>
<circle cx="383.3" cy="222.4" r="1.07" fill="#dabc00"/>
<circle cx="382.2" cy="226.8" r="2.02" fill="#5900da"/>
<circle cx="381.1" cy="227.2" r="1.11" fill="#da006f"/>
<circle cx="373.4" cy="229.4" r="1.76" fill="#e7000c"/>
<circle cx="372.5" cy="228.8" r="0.97" fill="#e1e700"/>
<circle cx="373.1" cy="228.6" r="1.98" fill="#23fd00"/>
<circle cx="373.0" cy="227.5" r="1.09" fill="#00fdee"/>
<circle cx="373.2" cy="228.2" r="1.83" fill="#00e983"/>
<circle cx="373.8" cy="227.2" r="1.01" fill="#0053e9"/>
<circle cx="365.0" cy="225.2" r="1.88" fill="#1bff00"/>
<circle cx="364.3" cy="224.4" r="1.03" fill="#00fff9"/>
<circle cx="367.5" cy="223.3" r="2.12" fill="#fcd900"/>
<circle cx="368.1" cy="224.3" r="1.17" fill="#0ffc00"/>
<circle cx="364.8" cy="226.1" r="1.71" fill="#2700f9"/>
<circle cx="363.9" cy="225.4" r="0.94" fill="#f900bd"/>
<circle cx="367.6" cy="225.3" r="2.17" fill="#2a00fa"/>
<circle cx="366.9" cy="226.1" r="1.19" fill="#fa00bc"/>
<circle cx="367.0" cy="214.0" r="2.15" fill="#f70003"/>
<circle cx="368.0" cy="214.2" r="1.18" fill="#e6f700"/>
<circle cx="365.6" cy="215.9" r="1.83" fill="#fb3e00"/>
<circle cx="365.0" cy="215.0" r="1.01" fill="#aafb00"/>
<circle cx="369.2" cy="214.0" r="1.62" fill="#ff7a00"/>
<circle cx="369.7" cy="215.0" r="0.89" fill="#71ff00"/>
<circle cx="368.3" cy="216.3" r="2.14" fill="#00d6ff"/>
<circle cx="367.7" cy="217.2" r="1.18" fill="#3d00ff"/>
<circle cx="374.1" cy="213.2" r="1.94" fill="#d600ff"/>
<circle cx="373.2" cy="213.7" r="1.07" fill="#ff0015"/>
<circle cx="371.1" cy="211.3" r="2.13" fill="#00fb78"/>
<circle cx="371.2" cy="210.2" r="1.17" fill="#006ffb"/>
<circle cx="372.1" cy="212.8" r="1.75" fill="#00ffa0"/>
<circle cx="371.2" cy="212.2" r="0.96" fill="#004aff"/>
<circle cx="381.4" cy="214.3" r="1.66" fill="#e700c9"/>
<circle cx="382.5" cy="214.3" r="0.91" fill="#e73100"/>
<circle cx="380.6" cy="216.7" r="1.80" fill="#00e491"/>
<circle cx="379.8" cy="215.9" r="0.99" fill="#0041e4"/>
<circle cx="382.6" cy="213.6" r="2.14" fill="#7e00ec"/>
<circle cx="383.6" cy="214.1" r="1.17" fill="#ec005b"/>
</g>
<circle cx="404.0" cy="220.0" r="11.5" fill="#0e0000" filter="url(#bl2)"/>
<g filter="url(#bl06)">
<circle cx="404.8" cy="219.6" r="1.30" fill="#ff2200"/>
<circle cx="403.7" cy="222.1" r="1.78" fill="#ff0000"/>
<circle cx="409.9" cy="222.4" r="1.52" fill="#cd0000"/>
<circle cx="410.0" cy="223.4" r="1.61" fill="#cd0000"/>
<circle cx="412.1" cy="224.1" r="1.20" fill="#c80000"/>
<circle cx="403.5" cy="230.2" r="1.79" fill="#f90000"/>
<circle cx="404.6" cy="229.8" r="1.33" fill="#fc0000"/>
<circle cx="397.4" cy="223.4" r="1.57" fill="#ff0200"/>
<circle cx="394.6" cy="224.4" r="1.28" fill="#ff1200"/>
<circle cx="395.6" cy="223.1" r="1.40" fill="#ff2c00"/>
<circle cx="397.0" cy="216.7" r="1.78" fill="#ff1d00"/>
<circle cx="397.6" cy="217.5" r="1.49" fill="#ff1a00"/>
<circle cx="404.8" cy="210.9" r="1.61" fill="#ff0500"/>
<circle cx="403.0" cy="210.9" r="1.77" fill="#f90000"/>
<circle cx="411.9" cy="215.1" r="1.38" fill="#f70000"/>
<circle cx="412.4" cy="216.8" r="1.23" fill="#e40000"/>
<circle cx="412.9" cy="213.9" r="1.53" fill="#df0000"/>
</g>
<g filter="url(#bl05)">
<circle cx="412.4" cy="224.0" r="1.01" fill="#ff8300"/>
<circle cx="412.4" cy="224.0" r="0.5" fill="#ffe890"/>
<circle cx="403.9" cy="227.8" r="0.97" fill="#ff8000"/>
<circle cx="403.9" cy="227.8" r="0.5" fill="#ffe890"/>
<circle cx="395.9" cy="224.3" r="0.99" fill="#ff9d00"/>
<circle cx="395.9" cy="224.3" r="0.5" fill="#ffe890"/>
</g>
<rect x="328.7" y="236.0" width="89.9" height="17" fill="#d04a4c" stroke="#b9bfd6" stroke-width="0.9"/>
<text x="373.6" y="249.0" font-size="14" text-anchor="middle" fill="#fff" textLength="87.4" lengthAdjust="spacingAndGlyphs">Modes 22-28</text>
<text x="439.3" y="17.4" font-size="7" text-anchor="middle" fill="#222" textLength="18.8" lengthAdjust="spacingAndGlyphs">Input</text>
<text x="439.3" y="25.3" font-size="7" text-anchor="middle" fill="#222" textLength="18.6" lengthAdjust="spacingAndGlyphs">mode</text>
<text x="470.1" y="17.4" font-size="7" text-anchor="middle" fill="#222" textLength="23.4" lengthAdjust="spacingAndGlyphs">Output</text>
<text x="470.1" y="25.3" font-size="7" text-anchor="middle" fill="#222" textLength="14.0" lengthAdjust="spacingAndGlyphs">field</text>
<text x="500.3" y="17.4" font-size="7" text-anchor="middle" fill="#222" textLength="23.4" lengthAdjust="spacingAndGlyphs">Output</text>
<text x="500.3" y="25.3" font-size="7" text-anchor="middle" fill="#222" textLength="29.6" lengthAdjust="spacingAndGlyphs">Intensity</text>
<rect x="455.5" y="30.5" width="29.2" height="204.1" fill="#060606"/>
<rect x="485.7" y="30.5" width="29.2" height="204.1" fill="#000"/>
<rect x="424.7" y="30.5" width="29.2" height="29.1" fill="#1d1d1d" stroke="#262626" stroke-width="0.5"/>
<g filter="url(#bl05)">
<circle cx="439.3" cy="45.1" r="4.2" fill="none" stroke="#38162a" stroke-width="1"/>
<circle cx="437.4" cy="47.5" r="1.05" fill="#b2ac2d"/>
<circle cx="436.2" cy="45.5" r="1.05" fill="#2d33b2"/>
<circle cx="436.9" cy="43.2" r="1.05" fill="#b2ac2d"/>
<circle cx="438.9" cy="42.0" r="1.05" fill="#2d33b2"/>
<circle cx="441.2" cy="42.6" r="1.05" fill="#b2ac2d"/>
<circle cx="442.4" cy="44.7" r="1.05" fill="#2d33b2"/>
<circle cx="441.7" cy="47.0" r="1.05" fill="#b2ac2d"/>
<circle cx="439.7" cy="48.1" r="1.05" fill="#2d33b2"/>
</g>
<circle cx="470.1" cy="45.1" r="13" fill="#0c0a10" filter="url(#bl2)"/>
<g filter="url(#bl07)">
<circle cx="469.5" cy="45.6" r="1.76" fill="#00bddb"/>
<circle cx="468.7" cy="44.8" r="0.97" fill="#3000db"/>
<circle cx="469.9" cy="45.9" r="1.98" fill="#5600df"/>
<circle cx="468.8" cy="45.6" r="1.09" fill="#df0078"/>
<circle cx="468.7" cy="44.4" r="2.15" fill="#00dea7"/>
<circle cx="469.1" cy="43.4" r="1.18" fill="#0025de"/>
<circle cx="477.4" cy="49.3" r="1.94" fill="#d36a00"/>
<circle cx="476.5" cy="48.6" r="1.07" fill="#58d300"/>
<circle cx="476.1" cy="47.2" r="1.83" fill="#0009cf"/>
<circle cx="476.6" cy="46.3" r="1.01" fill="#cf00c8"/>
<circle cx="477.3" cy="49.1" r="1.63" fill="#0065d8"/>
<circle cx="476.5" cy="48.4" r="0.89" fill="#8400d8"/>
<circle cx="477.0" cy="48.2" r="1.64" fill="#8c00d5"/>
<circle cx="477.2" cy="47.1" r="0.90" fill="#d50038"/>
<circle cx="469.7" cy="54.9" r="2.16" fill="#0100d8"/>
<circle cx="468.6" cy="54.9" r="1.19" fill="#d800c6"/>
<circle cx="471.8" cy="52.4" r="1.64" fill="#00e067"/>
<circle cx="472.4" cy="53.4" r="0.90" fill="#0066e0"/>
<circle cx="469.9" cy="52.2" r="1.95" fill="#d200aa"/>
<circle cx="471.0" cy="52.3" r="1.07" fill="#d23a00"/>
<circle cx="463.6" cy="49.4" r="2.02" fill="#0095f3"/>
<circle cx="463.1" cy="50.4" r="1.11" fill="#7200f3"/>
<circle cx="461.1" cy="48.7" r="1.62" fill="#00c3fd"/>
<circle cx="461.2" cy="47.6" r="0.89" fill="#4e00fd"/>
<circle cx="461.8" cy="46.7" r="1.82" fill="#ff0089"/>
<circle cx="462.9" cy="46.4" r="1.00" fill="#ff8a00"/>
<circle cx="461.1" cy="47.2" r="1.76" fill="#ff5000"/>
<circle cx="462.0" cy="46.5" r="0.97" fill="#9aff00"/>
<circle cx="461.5" cy="39.3" r="1.66" fill="#49e400"/>
<circle cx="462.2" cy="38.5" r="0.91" fill="#00e4ad"/>
<circle cx="461.8" cy="39.9" r="2.03" fill="#e50067"/>
<circle cx="462.5" cy="39.0" r="1.12" fill="#e59000"/>
<circle cx="464.5" cy="39.0" r="2.15" fill="#0011e2"/>
<circle cx="465.2" cy="39.8" r="1.18" fill="#e200e1"/>
<circle cx="463.2" cy="42.8" r="1.80" fill="#ccdd00"/>
<circle cx="462.2" cy="43.0" r="0.99" fill="#00dd23"/>
<circle cx="469.0" cy="34.9" r="1.64" fill="#fb0093"/>
<circle cx="469.9" cy="34.2" r="0.90" fill="#fb7c00"/>
<circle cx="470.8" cy="37.3" r="2.19" fill="#3f00ee"/>
<circle cx="469.9" cy="37.8" r="1.20" fill="#ee009d"/>
<circle cx="471.0" cy="39.1" r="1.96" fill="#8600f9"/>
<circle cx="469.9" cy="39.4" r="1.08" fill="#f9005f"/>
<circle cx="477.9" cy="43.5" r="2.00" fill="#f800b1"/>
<circle cx="476.8" cy="43.6" r="1.10" fill="#f85b00"/>
<circle cx="477.9" cy="42.8" r="1.63" fill="#0073f0"/>
<circle cx="476.8" cy="42.9" r="0.89" fill="#9000f0"/>
<circle cx="480.0" cy="40.2" r="1.95" fill="#00f62f"/>
<circle cx="480.3" cy="41.3" r="1.08" fill="#00b3f6"/>
<circle cx="479.5" cy="40.5" r="1.66" fill="#5600fd"/>
<circle cx="479.8" cy="41.5" r="0.91" fill="#fd0093"/>
</g>
<circle cx="500.3" cy="45.1" r="11.5" fill="#0e0000" filter="url(#bl2)"/>
<g filter="url(#bl06)">
<circle cx="498.2" cy="43.9" r="1.75" fill="#e20000"/>
<circle cx="501.4" cy="46.9" r="1.73" fill="#d20000"/>
<circle cx="500.6" cy="43.8" r="1.48" fill="#da0000"/>
<circle cx="509.7" cy="49.1" r="1.28" fill="#bd0000"/>
<circle cx="506.8" cy="48.4" r="1.40" fill="#bd0000"/>
<circle cx="499.5" cy="55.1" r="1.22" fill="#c50000"/>
<circle cx="500.1" cy="55.7" r="1.65" fill="#da0000"/>
<circle cx="501.8" cy="54.7" r="1.71" fill="#d70000"/>
<circle cx="491.1" cy="48.9" r="1.52" fill="#ff0000"/>
<circle cx="492.3" cy="51.3" r="1.69" fill="#ff1f00"/>
<circle cx="494.5" cy="49.2" r="1.48" fill="#ff2500"/>
<circle cx="491.9" cy="41.0" r="1.74" fill="#dd0000"/>
<circle cx="492.7" cy="42.9" r="1.61" fill="#cd0000"/>
<circle cx="500.2" cy="37.0" r="1.79" fill="#f20000"/>
<circle cx="498.5" cy="37.7" r="1.74" fill="#ff0000"/>
<circle cx="498.2" cy="37.4" r="1.36" fill="#fc0000"/>
<circle cx="507.3" cy="39.8" r="1.32" fill="#ff1500"/>
<circle cx="508.7" cy="40.6" r="1.40" fill="#f90000"/>
<circle cx="507.8" cy="42.4" r="1.24" fill="#ff1000"/>
</g>
<g filter="url(#bl05)">
<circle cx="491.2" cy="48.5" r="0.94" fill="#ff8300"/>
<circle cx="491.2" cy="48.5" r="0.5" fill="#ffe890"/>
<circle cx="501.5" cy="34.2" r="1.16" fill="#ff7300"/>
<circle cx="501.5" cy="34.2" r="0.5" fill="#ffe890"/>
<circle cx="507.3" cy="41.3" r="0.93" fill="#ff7100"/>
<circle cx="507.3" cy="41.3" r="0.5" fill="#ffe890"/>
</g>
<rect x="424.7" y="59.6" width="29.2" height="29.1" fill="#1d1d1d" stroke="#262626" stroke-width="0.5"/>
<g filter="url(#bl05)">
<circle cx="439.3" cy="74.2" r="4.5" fill="none" stroke="#381632" stroke-width="1"/>
<circle cx="437.4" cy="75.8" r="1.05" fill="#b22d5d"/>
<circle cx="437.0" cy="73.4" r="1.05" fill="#2db282"/>
<circle cx="438.8" cy="71.8" r="1.05" fill="#b22d5d"/>
<circle cx="441.2" cy="72.6" r="1.05" fill="#2db282"/>
<circle cx="441.6" cy="75.0" r="1.05" fill="#b22d5d"/>
<circle cx="439.8" cy="76.6" r="1.05" fill="#2db282"/>
</g>
<circle cx="470.1" cy="74.2" r="13" fill="#0c0a10" filter="url(#bl2)"/>
<g filter="url(#bl07)">
<circle cx="469.9" cy="71.9" r="1.95" fill="#ff8d00"/>
<circle cx="471.0" cy="71.8" r="1.07" fill="#5eff00"/>
<circle cx="468.0" cy="73.7" r="1.67" fill="#d3f200"/>
<circle cx="468.3" cy="72.6" r="0.92" fill="#00f231"/>
<circle cx="471.7" cy="73.3" r="1.95" fill="#ffca00"/>
<circle cx="472.2" cy="74.3" r="1.07" fill="#20ff00"/>
<circle cx="470.2" cy="71.8" r="1.77" fill="#2a00f1"/>
<circle cx="471.3" cy="71.9" r="0.97" fill="#f100b3"/>
<circle cx="479.4" cy="79.3" r="2.13" fill="#f09f00"/>
<circle cx="479.1" cy="80.4" r="1.17" fill="#3ef000"/>
<circle cx="479.5" cy="77.3" r="1.68" fill="#d6ff00"/>
<circle cx="480.1" cy="78.2" r="0.93" fill="#00ff3d"/>
<circle cx="479.5" cy="77.5" r="1.92" fill="#ff002d"/>
<circle cx="480.0" cy="78.5" r="1.05" fill="#ffe700"/>
<circle cx="476.5" cy="81.1" r="1.94" fill="#1cef00"/>
<circle cx="475.4" cy="80.7" r="1.07" fill="#00efe6"/>
<circle cx="469.9" cy="83.1" r="2.15" fill="#00eba9"/>
<circle cx="469.6" cy="82.0" r="1.18" fill="#002feb"/>
<circle cx="473.1" cy="82.2" r="2.14" fill="#6c00e2"/>
<circle cx="473.4" cy="83.3" r="1.18" fill="#e20064"/>
<circle cx="471.6" cy="83.6" r="1.64" fill="#e2a000"/>
<circle cx="470.8" cy="84.4" r="0.90" fill="#2fe200"/>
<circle cx="470.6" cy="81.7" r="2.02" fill="#1f00e5"/>
<circle cx="471.6" cy="81.4" r="1.11" fill="#e500b3"/>
<circle cx="462.4" cy="76.9" r="1.75" fill="#00ffdf"/>
<circle cx="463.4" cy="76.6" r="0.96" fill="#000cff"/>
<circle cx="462.1" cy="79.2" r="1.64" fill="#ff0045"/>
<circle cx="462.1" cy="78.1" r="0.90" fill="#ffce00"/>
<circle cx="464.7" cy="79.3" r="1.80" fill="#00d6ff"/>
<circle cx="464.6" cy="80.4" r="0.99" fill="#3d00ff"/>
<circle cx="461.2" cy="71.0" r="1.65" fill="#ff3100"/>
<circle cx="460.6" cy="70.1" r="0.91" fill="#b9ff00"/>
<circle cx="463.7" cy="68.7" r="2.13" fill="#00ff20"/>
<circle cx="464.5" cy="69.4" r="1.17" fill="#00caff"/>
<circle cx="463.4" cy="71.5" r="1.83" fill="#ff0028"/>
<circle cx="462.4" cy="72.0" r="1.01" fill="#ffeb00"/>
<circle cx="468.6" cy="67.5" r="1.94" fill="#d66c00"/>
<circle cx="467.7" cy="66.8" r="1.07" fill="#59d600"/>
<circle cx="468.4" cy="64.8" r="1.84" fill="#8600e2"/>
<circle cx="468.8" cy="63.8" r="1.01" fill="#e2004a"/>
<circle cx="469.0" cy="67.8" r="2.02" fill="#78e200"/>
<circle cx="468.0" cy="67.3" r="1.11" fill="#00e27c"/>
<circle cx="471.3" cy="63.9" r="1.90" fill="#e08e00"/>
<circle cx="472.2" cy="64.5" r="1.04" fill="#3fe000"/>
<circle cx="478.1" cy="70.0" r="2.11" fill="#e7ae00"/>
<circle cx="477.5" cy="70.9" r="1.16" fill="#27e700"/>
<circle cx="479.7" cy="68.3" r="1.64" fill="#009cf2"/>
<circle cx="480.1" cy="69.4" r="0.90" fill="#6a00f2"/>
<circle cx="478.8" cy="70.8" r="2.05" fill="#008bf2"/>
<circle cx="478.1" cy="71.6" r="1.13" fill="#7a00f2"/>
</g>
<circle cx="500.3" cy="74.2" r="11.5" fill="#0e0000" filter="url(#bl2)"/>
<g filter="url(#bl06)">
<circle cx="501.1" cy="72.4" r="1.53" fill="#ea0000"/>
<circle cx="501.4" cy="72.3" r="1.51" fill="#ff1000"/>
<circle cx="506.0" cy="78.5" r="1.73" fill="#ff1200"/>
<circle cx="508.4" cy="79.0" r="1.67" fill="#fc0000"/>
<circle cx="502.0" cy="81.9" r="1.24" fill="#df0000"/>
<circle cx="499.0" cy="82.5" r="1.51" fill="#e20000"/>
<circle cx="492.3" cy="81.5" r="1.38" fill="#ff2700"/>
<circle cx="493.8" cy="81.1" r="1.56" fill="#ff1d00"/>
<circle cx="491.8" cy="70.6" r="1.78" fill="#ff3a00"/>
<circle cx="493.9" cy="71.2" r="1.37" fill="#ff1d00"/>
<circle cx="490.9" cy="69.9" r="1.38" fill="#ff1a00"/>
<circle cx="500.1" cy="66.4" r="1.76" fill="#d20000"/>
<circle cx="500.8" cy="64.8" r="1.20" fill="#d70000"/>
<circle cx="508.2" cy="68.9" r="1.38" fill="#f40000"/>
<circle cx="508.0" cy="71.0" r="1.20" fill="#f40000"/>
<circle cx="507.6" cy="71.1" r="1.21" fill="#ff0200"/>
</g>
<g filter="url(#bl05)">
<circle cx="507.4" cy="80.2" r="1.09" fill="#ff8e00"/>
<circle cx="507.4" cy="80.2" r="0.5" fill="#ffe890"/>
<circle cx="493.2" cy="77.8" r="1.10" fill="#ff9800"/>
<circle cx="493.2" cy="77.8" r="0.5" fill="#ffe890"/>
</g>
<rect x="424.7" y="88.8" width="29.2" height="29.1" fill="#1d1d1d" stroke="#262626" stroke-width="0.5"/>
<g filter="url(#bl05)">
<circle cx="439.3" cy="103.4" r="8.3" fill="none" stroke="#16382c" stroke-width="1"/>
<circle cx="440.8" cy="106.2" r="1.05" fill="#2db22e"/>
<circle cx="436.4" cy="104.9" r="1.05" fill="#b22db1"/>
<circle cx="437.8" cy="100.5" r="1.05" fill="#2db22e"/>
<circle cx="442.1" cy="101.8" r="1.05" fill="#b22db1"/>
</g>
<circle cx="470.1" cy="103.4" r="13" fill="#0c0a10" filter="url(#bl2)"/>
<g filter="url(#bl07)">
<circle cx="470.8" cy="105.2" r="1.84" fill="#00baef"/>
<circle cx="469.8" cy="105.6" r="1.01" fill="#4800ef"/>
<circle cx="470.1" cy="104.8" r="2.02" fill="#00dff0"/>
<circle cx="469.0" cy="104.8" r="1.11" fill="#2500f0"/>
<circle cx="469.8" cy="101.7" r="1.87" fill="#00ef5b"/>
<circle cx="470.9" cy="101.5" r="1.03" fill="#0081ef"/>
<circle cx="479.2" cy="109.4" r="1.97" fill="#bdef00"/>
<circle cx="478.4" cy="110.2" r="1.08" fill="#00ef46"/>
<circle cx="477.9" cy="107.0" r="1.98" fill="#0014e9"/>
<circle cx="478.9" cy="107.6" r="1.09" fill="#e700e9"/>
<circle cx="476.1" cy="106.6" r="2.17" fill="#00f388"/>
<circle cx="476.7" cy="105.8" r="1.20" fill="#0058f3"/>
<circle cx="476.5" cy="109.2" r="1.63" fill="#efd400"/>
<circle cx="475.6" cy="108.5" r="0.90" fill="#09ef00"/>
<circle cx="469.2" cy="114.2" r="1.96" fill="#dbb200"/>
<circle cx="468.3" cy="113.5" r="1.08" fill="#18db00"/>
<circle cx="469.4" cy="109.9" r="1.62" fill="#dd6300"/>
<circle cx="470.4" cy="109.3" r="0.89" fill="#68dd00"/>
<circle cx="469.9" cy="114.3" r="2.12" fill="#0081df"/>
<circle cx="468.9" cy="114.0" r="1.16" fill="#7000df"/>
<circle cx="469.5" cy="112.6" r="2.03" fill="#a3d200"/>
<circle cx="469.0" cy="111.6" r="1.12" fill="#00d240"/>
<circle cx="462.2" cy="105.0" r="1.98" fill="#00fff2"/>
<circle cx="463.2" cy="105.4" r="1.09" fill="#0800ff"/>
<circle cx="459.5" cy="107.2" r="1.90" fill="#00f282"/>
<circle cx="459.0" cy="106.2" r="1.04" fill="#005df2"/>
<circle cx="460.9" cy="107.1" r="1.96" fill="#00ece8"/>
<circle cx="460.1" cy="106.5" r="1.08" fill="#0f00ec"/>
<circle cx="459.9" cy="104.7" r="2.02" fill="#7feb00"/>
<circle cx="460.5" cy="103.8" r="1.11" fill="#00eb7e"/>
<circle cx="461.2" cy="98.9" r="1.90" fill="#00e815"/>
<circle cx="461.9" cy="98.0" r="1.04" fill="#00c0e8"/>
<circle cx="461.6" cy="98.7" r="2.02" fill="#18ec00"/>
<circle cx="462.4" cy="98.0" r="1.11" fill="#00ece7"/>
<circle cx="461.7" cy="100.4" r="2.20" fill="#00d1ec"/>
<circle cx="460.9" cy="99.6" r="1.21" fill="#2e00ec"/>
<circle cx="461.5" cy="99.3" r="1.82" fill="#001fe3"/>
<circle cx="462.1" cy="98.3" r="1.00" fill="#d600e3"/>
<circle cx="471.4" cy="95.2" r="1.72" fill="#d9e200"/>
<circle cx="471.1" cy="96.3" r="0.94" fill="#00e21a"/>
<circle cx="472.0" cy="94.3" r="1.83" fill="#00c3da"/>
<circle cx="472.2" cy="95.4" r="1.01" fill="#2900da"/>
<circle cx="469.4" cy="93.6" r="1.86" fill="#00d41b"/>
<circle cx="470.5" cy="93.6" r="1.02" fill="#00a8d4"/>
<circle cx="479.3" cy="98.8" r="1.71" fill="#a4f700"/>
<circle cx="479.9" cy="99.8" r="0.94" fill="#00f767"/>
<circle cx="478.6" cy="100.1" r="2.10" fill="#4800f2"/>
<circle cx="478.0" cy="101.0" r="1.16" fill="#f20096"/>
<circle cx="480.4" cy="99.1" r="1.96" fill="#f0ff00"/>
<circle cx="480.6" cy="100.2" r="1.08" fill="#00ff24"/>
<circle cx="479.1" cy="99.2" r="1.71" fill="#005eff"/>
<circle cx="479.5" cy="100.2" r="0.94" fill="#b500ff"/>
</g>
<circle cx="500.3" cy="103.4" r="11.5" fill="#0e0000" filter="url(#bl2)"/>
<g filter="url(#bl06)">
<circle cx="498.7" cy="102.2" r="1.71" fill="#f20000"/>
<circle cx="502.4" cy="103.7" r="1.66" fill="#e20000"/>
<circle cx="506.1" cy="106.3" r="1.37" fill="#ea0000"/>
<circle cx="507.6" cy="106.8" r="1.39" fill="#ff0d00"/>
<circle cx="507.4" cy="107.2" r="1.27" fill="#ff1000"/>
<circle cx="500.0" cy="112.7" r="1.51" fill="#cf0000"/>
<circle cx="501.6" cy="109.5" r="1.63" fill="#d50000"/>
<circle cx="501.2" cy="112.8" r="1.26" fill="#c50000"/>
<circle cx="491.9" cy="107.1" r="1.40" fill="#f90000"/>
<circle cx="492.0" cy="107.2" r="1.22" fill="#f90000"/>
<circle cx="492.4" cy="97.6" r="1.76" fill="#ec0000"/>
<circle cx="493.2" cy="98.5" r="1.68" fill="#ec0000"/>
<circle cx="500.9" cy="94.2" r="1.41" fill="#c80000"/>
<circle cx="499.4" cy="96.5" r="1.79" fill="#d70000"/>
<circle cx="507.6" cy="100.2" r="1.50" fill="#ff2500"/>
<circle cx="508.2" cy="101.2" r="1.69" fill="#ff1500"/>
<circle cx="508.2" cy="101.2" r="1.26" fill="#ff1200"/>
</g>
<g filter="url(#bl05)">
<circle cx="500.3" cy="103.0" r="1.07" fill="#ff9500"/>
<circle cx="500.3" cy="103.0" r="0.5" fill="#ffe890"/>
<circle cx="493.4" cy="98.5" r="1.17" fill="#ff6100"/>
<circle cx="493.4" cy="98.5" r="0.5" fill="#ffe890"/>
<circle cx="509.4" cy="100.1" r="1.19" fill="#ff7b00"/>
<circle cx="509.4" cy="100.1" r="0.5" fill="#ffe890"/>
</g>
<rect x="424.7" y="118.0" width="29.2" height="29.1" fill="#1d1d1d" stroke="#262626" stroke-width="0.5"/>
<g filter="url(#bl05)">
<circle cx="439.3" cy="132.5" r="5.7" fill="none" stroke="#231638" stroke-width="1"/>
<circle cx="437.2" cy="133.4" r="1.05" fill="#882db2"/>
<circle cx="439.6" cy="130.3" r="1.05" fill="#57b22d"/>
<circle cx="441.1" cy="133.9" r="1.05" fill="#882db2"/>
</g>
<circle cx="470.1" cy="132.5" r="13" fill="#0c0a10" filter="url(#bl2)"/>
<g filter="url(#bl07)">
<circle cx="470.8" cy="130.7" r="1.99" fill="#ee00b7"/>
<circle cx="471.9" cy="131.0" r="1.09" fill="#ee4a00"/>
<circle cx="468.2" cy="131.1" r="1.76" fill="#afff00"/>
<circle cx="468.9" cy="130.2" r="0.97" fill="#00ff64"/>
<circle cx="470.1" cy="131.6" r="2.04" fill="#fff100"/>
<circle cx="471.2" cy="131.6" r="1.12" fill="#00ff07"/>
<circle cx="477.4" cy="138.4" r="1.68" fill="#00d580"/>
<circle cx="476.3" cy="138.4" r="0.93" fill="#0043d5"/>
<circle cx="478.7" cy="136.8" r="2.04" fill="#6b00dc"/>
<circle cx="478.9" cy="137.8" r="1.12" fill="#dc005f"/>
<circle cx="477.1" cy="138.2" r="1.83" fill="#0043e0"/>
<circle cx="476.0" cy="137.8" r="1.01" fill="#ae00e0"/>
<circle cx="477.8" cy="138.8" r="2.04" fill="#b8d600"/>
<circle cx="476.7" cy="139.0" r="1.12" fill="#00d62f"/>
<circle cx="468.7" cy="141.8" r="2.18" fill="#dad000"/>
<circle cx="468.3" cy="140.7" r="1.20" fill="#00da08"/>
<circle cx="472.4" cy="139.2" r="1.67" fill="#007fe1"/>
<circle cx="473.2" cy="139.9" r="0.92" fill="#7300e1"/>
<circle cx="470.7" cy="142.1" r="1.70" fill="#00b4df"/>
<circle cx="469.6" cy="142.2" r="0.94" fill="#3d00df"/>
<circle cx="472.2" cy="142.2" r="1.74" fill="#d8b700"/>
<circle cx="471.6" cy="143.1" r="0.95" fill="#10d800"/>
<circle cx="463.1" cy="134.4" r="1.88" fill="#00b8cd"/>
<circle cx="464.2" cy="134.8" r="1.03" fill="#2600cd"/>
<circle cx="463.9" cy="136.5" r="1.95" fill="#00ccb3"/>
<circle cx="463.8" cy="137.6" r="1.07" fill="#0009cc"/>
<circle cx="461.6" cy="136.8" r="2.14" fill="#d0b800"/>
<circle cx="461.2" cy="135.7" r="1.18" fill="#08d000"/>
<circle cx="461.8" cy="127.1" r="1.98" fill="#00f551"/>
<circle cx="462.2" cy="126.1" r="1.09" fill="#0090f5"/>
<circle cx="462.7" cy="129.3" r="1.86" fill="#f3001b"/>
<circle cx="461.6" cy="129.1" r="1.02" fill="#f3ec00"/>
<circle cx="461.3" cy="127.3" r="1.74" fill="#f6de00"/>
<circle cx="461.6" cy="126.2" r="0.96" fill="#04f600"/>
<circle cx="463.2" cy="128.6" r="1.98" fill="#f40055"/>
<circle cx="462.1" cy="128.8" r="1.09" fill="#f4b300"/>
<circle cx="468.8" cy="123.6" r="1.93" fill="#00f136"/>
<circle cx="469.0" cy="122.5" r="1.06" fill="#00a8f1"/>
<circle cx="472.1" cy="122.2" r="2.07" fill="#1100ec"/>
<circle cx="472.9" cy="122.9" r="1.14" fill="#ec00c8"/>
<circle cx="471.6" cy="122.0" r="1.72" fill="#11e300"/>
<circle cx="472.6" cy="122.4" r="0.94" fill="#00e2e3"/>
<circle cx="476.0" cy="127.2" r="2.15" fill="#005be1"/>
<circle cx="475.9" cy="126.1" r="1.18" fill="#9800e1"/>
<circle cx="479.2" cy="126.2" r="2.03" fill="#cedc00"/>
<circle cx="479.6" cy="127.2" r="1.11" fill="#00dc1f"/>
<circle cx="475.9" cy="126.0" r="2.07" fill="#e23200"/>
<circle cx="476.7" cy="125.3" r="1.14" fill="#9de200"/>
</g>
<circle cx="500.3" cy="132.5" r="11.5" fill="#0e0000" filter="url(#bl2)"/>
<g filter="url(#bl06)">
<circle cx="501.2" cy="131.6" r="1.71" fill="#ff0800"/>
<circle cx="499.2" cy="131.0" r="1.26" fill="#fc0000"/>
<circle cx="500.6" cy="130.2" r="1.72" fill="#ff0d00"/>
<circle cx="508.1" cy="138.2" r="1.55" fill="#cd0000"/>
<circle cx="508.1" cy="138.7" r="1.79" fill="#c80000"/>
<circle cx="507.7" cy="137.7" r="1.54" fill="#c80000"/>
<circle cx="500.5" cy="140.5" r="1.53" fill="#da0000"/>
<circle cx="503.2" cy="140.7" r="1.38" fill="#df0000"/>
<circle cx="502.2" cy="142.3" r="1.48" fill="#df0000"/>
<circle cx="492.8" cy="135.3" r="1.75" fill="#ba0000"/>
<circle cx="490.4" cy="135.2" r="1.75" fill="#b80000"/>
<circle cx="494.6" cy="137.2" r="1.27" fill="#c00000"/>
<circle cx="491.6" cy="127.8" r="1.22" fill="#ef0000"/>
<circle cx="494.5" cy="127.6" r="1.76" fill="#f70000"/>
<circle cx="502.1" cy="123.0" r="1.35" fill="#ef0000"/>
<circle cx="502.0" cy="125.3" r="1.45" fill="#f70000"/>
<circle cx="502.8" cy="123.4" r="1.76" fill="#dd0000"/>
<circle cx="507.7" cy="126.9" r="1.23" fill="#cf0000"/>
<circle cx="508.2" cy="127.9" r="1.51" fill="#d50000"/>
</g>
<g filter="url(#bl05)">
<circle cx="499.5" cy="131.8" r="1.18" fill="#ff7600"/>
<circle cx="499.5" cy="131.8" r="0.5" fill="#ffe890"/>
<circle cx="502.1" cy="124.6" r="1.09" fill="#ff8000"/>
<circle cx="502.1" cy="124.6" r="0.5" fill="#ffe890"/>
<circle cx="506.1" cy="128.5" r="1.13" fill="#ff8b00"/>
<circle cx="506.1" cy="128.5" r="0.5" fill="#ffe890"/>
</g>
<rect x="424.7" y="147.1" width="29.2" height="29.1" fill="#1d1d1d" stroke="#262626" stroke-width="0.5"/>
<g filter="url(#bl05)">
<circle cx="439.3" cy="161.7" r="7.2" fill="none" stroke="#163818" stroke-width="1"/>
<circle cx="440.7" cy="164.9" r="1.05" fill="#b22d33"/>
<circle cx="436.0" cy="163.1" r="1.05" fill="#2db2ac"/>
<circle cx="437.9" cy="158.4" r="1.05" fill="#b22d33"/>
<circle cx="442.6" cy="160.2" r="1.05" fill="#2db2ac"/>
</g>
<circle cx="470.1" cy="161.7" r="13" fill="#0c0a10" filter="url(#bl2)"/>
<g filter="url(#bl07)">
<circle cx="469.1" cy="164.0" r="2.07" fill="#0fd800"/>
<circle cx="468.1" cy="163.5" r="1.14" fill="#00d5d8"/>
<circle cx="468.1" cy="163.6" r="1.67" fill="#0089e2"/>
<circle cx="467.3" cy="162.8" r="0.92" fill="#6b00e2"/>
<circle cx="470.9" cy="161.9" r="2.04" fill="#db00a3"/>
<circle cx="470.6" cy="163.0" r="1.12" fill="#db4900"/>
<circle cx="475.2" cy="164.8" r="1.71" fill="#db00ff"/>
<circle cx="475.4" cy="163.7" r="0.94" fill="#ff000f"/>
<circle cx="476.7" cy="166.3" r="2.10" fill="#00ff29"/>
<circle cx="476.0" cy="165.5" r="1.16" fill="#00c2ff"/>
<circle cx="478.5" cy="164.2" r="2.04" fill="#fcff00"/>
<circle cx="479.5" cy="164.7" r="1.12" fill="#00ff17"/>
<circle cx="478.5" cy="162.7" r="1.82" fill="#00f504"/>
<circle cx="479.6" cy="162.9" r="1.00" fill="#00ddf5"/>
<circle cx="471.5" cy="171.7" r="2.12" fill="#00deee"/>
<circle cx="470.8" cy="172.5" r="1.17" fill="#2300ee"/>
<circle cx="467.5" cy="169.1" r="1.97" fill="#d100ec"/>
<circle cx="468.0" cy="168.1" r="1.08" fill="#ec0008"/>
<circle cx="468.3" cy="170.6" r="1.82" fill="#5c00ee"/>
<circle cx="468.1" cy="169.5" r="1.00" fill="#ee007f"/>
<circle cx="468.8" cy="168.7" r="1.90" fill="#f1a100"/>
<circle cx="469.6" cy="168.1" r="1.04" fill="#3df100"/>
<circle cx="464.6" cy="164.0" r="2.02" fill="#f3a600"/>
<circle cx="465.1" cy="165.0" r="1.11" fill="#3af300"/>
<circle cx="463.0" cy="167.5" r="1.81" fill="#0b00ff"/>
<circle cx="461.9" cy="167.8" r="1.00" fill="#ff00e0"/>
<circle cx="461.5" cy="163.3" r="1.81" fill="#1700ff"/>
<circle cx="462.5" cy="162.9" r="1.00" fill="#ff00d4"/>
<circle cx="463.2" cy="156.1" r="2.11" fill="#0098dc"/>
<circle cx="464.2" cy="156.5" r="1.16" fill="#5500dc"/>
<circle cx="462.5" cy="156.4" r="1.77" fill="#d6001a"/>
<circle cx="463.5" cy="156.0" r="0.98" fill="#d6cd00"/>
<circle cx="463.8" cy="157.6" r="1.83" fill="#d73b00"/>
<circle cx="463.3" cy="158.6" r="1.01" fill="#8bd700"/>
<circle cx="469.7" cy="155.4" r="2.08" fill="#fd7900"/>
<circle cx="468.7" cy="155.1" r="1.15" fill="#6ffd00"/>
<circle cx="471.5" cy="151.1" r="1.84" fill="#00d1f4"/>
<circle cx="472.4" cy="151.7" r="1.01" fill="#3700f4"/>
<circle cx="470.1" cy="150.7" r="1.94" fill="#0056ff"/>
<circle cx="471.2" cy="150.6" r="1.07" fill="#bd00ff"/>
<circle cx="478.7" cy="157.1" r="1.78" fill="#ebcd00"/>
<circle cx="479.3" cy="158.0" r="0.98" fill="#0beb00"/>
<circle cx="476.2" cy="158.3" r="1.89" fill="#d800c5"/>
<circle cx="475.8" cy="157.2" r="1.04" fill="#d82500"/>
<circle cx="476.8" cy="158.0" r="1.63" fill="#00e89d"/>
<circle cx="476.5" cy="156.9" r="0.90" fill="#0038e8"/>
</g>
<circle cx="500.3" cy="161.7" r="11.5" fill="#0e0000" filter="url(#bl2)"/>
<g filter="url(#bl06)">
<circle cx="500.3" cy="163.4" r="1.66" fill="#d20000"/>
<circle cx="499.9" cy="162.3" r="1.70" fill="#cf0000"/>
<circle cx="499.1" cy="162.2" r="1.55" fill="#da0000"/>
<circle cx="508.2" cy="164.1" r="1.30" fill="#ff2c00"/>
<circle cx="506.8" cy="163.3" r="1.77" fill="#ff0a00"/>
<circle cx="508.5" cy="165.6" r="1.51" fill="#ff2f00"/>
<circle cx="502.6" cy="170.2" r="1.51" fill="#ff0000"/>
<circle cx="500.9" cy="168.4" r="1.65" fill="#ea0000"/>
<circle cx="493.1" cy="165.5" r="1.70" fill="#ff0d00"/>
<circle cx="492.7" cy="164.4" r="1.38" fill="#ff1000"/>
<circle cx="492.8" cy="166.4" r="1.76" fill="#ff1500"/>
<circle cx="491.7" cy="157.2" r="1.21" fill="#cf0000"/>
<circle cx="494.0" cy="156.8" r="1.70" fill="#cf0000"/>
<circle cx="500.2" cy="152.6" r="1.58" fill="#ff1500"/>
<circle cx="500.3" cy="155.0" r="1.60" fill="#ff1a00"/>
<circle cx="507.0" cy="159.3" r="1.68" fill="#d20000"/>
<circle cx="508.7" cy="155.9" r="1.54" fill="#e40000"/>
<circle cx="507.0" cy="159.7" r="1.55" fill="#d50000"/>
</g>
<g filter="url(#bl05)">
<circle cx="500.3" cy="161.3" r="1.09" fill="#ff6900"/>
<circle cx="500.3" cy="161.3" r="0.5" fill="#ffe890"/>
<circle cx="507.9" cy="165.3" r="1.02" fill="#ff9000"/>
<circle cx="507.9" cy="165.3" r="0.5" fill="#ffe890"/>
<circle cx="492.8" cy="163.2" r="1.03" fill="#ff9500"/>
<circle cx="492.8" cy="163.2" r="0.5" fill="#ffe890"/>
<circle cx="505.8" cy="157.7" r="0.93" fill="#ff7900"/>
<circle cx="505.8" cy="157.7" r="0.5" fill="#ffe890"/>
</g>
<rect x="424.7" y="176.2" width="29.2" height="29.1" fill="#1d1d1d" stroke="#262626" stroke-width="0.5"/>
<g filter="url(#bl05)">
<circle cx="439.3" cy="190.8" r="7.7" fill="none" stroke="#163823" stroke-width="1"/>
<circle cx="442.7" cy="191.2" r="1.05" fill="#b2832d"/>
<circle cx="435.9" cy="190.4" r="1.05" fill="#2d5cb2"/>
</g>
<circle cx="470.1" cy="190.8" r="13" fill="#0c0a10" filter="url(#bl2)"/>
<g filter="url(#bl07)">
<circle cx="470.0" cy="192.2" r="2.00" fill="#fc001b"/>
<circle cx="468.9" cy="192.1" r="1.10" fill="#fcf400"/>
<circle cx="470.7" cy="188.8" r="1.75" fill="#25f300"/>
<circle cx="471.7" cy="189.1" r="0.96" fill="#00f3e2"/>
<circle cx="471.3" cy="191.7" r="1.63" fill="#c600e8"/>
<circle cx="470.7" cy="192.6" r="0.90" fill="#e80010"/>
<circle cx="477.1" cy="198.4" r="2.18" fill="#de009c"/>
<circle cx="476.0" cy="198.6" r="1.20" fill="#de5300"/>
<circle cx="474.7" cy="196.4" r="2.10" fill="#0200e1"/>
<circle cx="474.6" cy="195.3" r="1.16" fill="#e100cd"/>
<circle cx="478.3" cy="195.1" r="2.02" fill="#2eea00"/>
<circle cx="478.9" cy="195.9" r="1.11" fill="#00eacf"/>
<circle cx="476.2" cy="196.9" r="2.09" fill="#00e153"/>
<circle cx="475.3" cy="196.2" r="1.15" fill="#007ce1"/>
<circle cx="467.9" cy="199.2" r="1.64" fill="#007dff"/>
<circle cx="468.0" cy="198.2" r="0.90" fill="#9600ff"/>
<circle cx="472.7" cy="200.6" r="1.67" fill="#6400f4"/>
<circle cx="472.2" cy="201.6" r="0.92" fill="#f4007c"/>
<circle cx="471.8" cy="200.0" r="1.75" fill="#f200a6"/>
<circle cx="471.3" cy="201.0" r="0.96" fill="#f25f00"/>
<circle cx="471.1" cy="198.4" r="2.11" fill="#90ff00"/>
<circle cx="472.0" cy="198.9" r="1.16" fill="#00ff83"/>
<circle cx="463.4" cy="194.7" r="1.80" fill="#05e500"/>
<circle cx="463.8" cy="195.7" r="0.99" fill="#00d8e5"/>
<circle cx="462.5" cy="193.8" r="1.69" fill="#0052dd"/>
<circle cx="463.6" cy="193.7" r="0.93" fill="#9c00dd"/>
<circle cx="463.2" cy="193.0" r="2.00" fill="#0086e1"/>
<circle cx="464.2" cy="193.4" r="1.10" fill="#6d00e1"/>
<circle cx="464.1" cy="194.5" r="2.07" fill="#df3f00"/>
<circle cx="464.4" cy="195.6" r="1.14" fill="#8ddf00"/>
<circle cx="463.1" cy="184.6" r="1.92" fill="#005cda"/>
<circle cx="464.2" cy="184.6" r="1.06" fill="#9000da"/>
<circle cx="461.7" cy="187.2" r="1.86" fill="#6100e0"/>
<circle cx="460.9" cy="186.4" r="1.02" fill="#e0006d"/>
<circle cx="465.5" cy="186.4" r="2.07" fill="#db8c00"/>
<circle cx="465.2" cy="187.4" r="1.14" fill="#3ddb00"/>
<circle cx="471.1" cy="182.0" r="1.63" fill="#ffae00"/>
<circle cx="471.3" cy="183.1" r="0.90" fill="#3cff00"/>
<circle cx="471.1" cy="182.8" r="2.13" fill="#fd007b"/>
<circle cx="470.8" cy="183.9" r="1.17" fill="#fd9600"/>
<circle cx="468.3" cy="181.5" r="1.90" fill="#0049ff"/>
<circle cx="469.2" cy="180.9" r="1.04" fill="#cb00ff"/>
<circle cx="476.3" cy="186.3" r="1.72" fill="#ec00c3"/>
<circle cx="476.1" cy="185.2" r="0.95" fill="#ec3c00"/>
<circle cx="478.3" cy="187.2" r="1.70" fill="#00ec61"/>
<circle cx="477.5" cy="187.9" r="0.93" fill="#0078ec"/>
<circle cx="476.5" cy="186.3" r="1.68" fill="#00eade"/>
<circle cx="476.2" cy="185.3" r="0.92" fill="#0700ea"/>
</g>
<circle cx="500.3" cy="190.8" r="11.5" fill="#0e0000" filter="url(#bl2)"/>
<g filter="url(#bl06)">
<circle cx="502.0" cy="192.4" r="1.79" fill="#ff0a00"/>
<circle cx="500.8" cy="189.4" r="1.55" fill="#f90000"/>
<circle cx="498.5" cy="188.9" r="1.74" fill="#f70000"/>
<circle cx="505.8" cy="194.8" r="1.45" fill="#ec0000"/>
<circle cx="507.2" cy="195.4" r="1.50" fill="#d70000"/>
<circle cx="507.0" cy="195.2" r="1.54" fill="#e70000"/>
<circle cx="501.8" cy="197.1" r="1.34" fill="#ff1a00"/>
<circle cx="501.4" cy="198.9" r="1.60" fill="#ff0a00"/>
<circle cx="500.1" cy="200.4" r="1.74" fill="#ff0d00"/>
<circle cx="491.7" cy="196.4" r="1.77" fill="#e20000"/>
<circle cx="490.6" cy="194.9" r="1.48" fill="#ea0000"/>
<circle cx="492.6" cy="186.0" r="1.27" fill="#ca0000"/>
<circle cx="493.8" cy="186.3" r="1.29" fill="#d20000"/>
<circle cx="501.0" cy="182.4" r="1.77" fill="#ff1500"/>
<circle cx="499.1" cy="183.5" r="1.58" fill="#ff1500"/>
<circle cx="497.3" cy="180.6" r="1.21" fill="#ff2200"/>
<circle cx="508.0" cy="185.9" r="1.66" fill="#fc0000"/>
<circle cx="509.0" cy="186.9" r="1.52" fill="#ff1500"/>
</g>
<g filter="url(#bl05)">
<circle cx="506.8" cy="195.9" r="0.90" fill="#ff9000"/>
<circle cx="506.8" cy="195.9" r="0.5" fill="#ffe890"/>
<circle cx="506.3" cy="185.7" r="0.98" fill="#ff7600"/>
<circle cx="506.3" cy="185.7" r="0.5" fill="#ffe890"/>
</g>
<rect x="424.7" y="205.4" width="29.2" height="29.1" fill="#1d1d1d" stroke="#262626" stroke-width="0.5"/>
<g filter="url(#bl05)">
<circle cx="439.3" cy="220.0" r="7.7" fill="none" stroke="#311638" stroke-width="1"/>
<circle cx="438.2" cy="222.5" r="1.05" fill="#8b2db2"/>
<circle cx="436.7" cy="220.9" r="1.05" fill="#55b22d"/>
<circle cx="436.8" cy="218.8" r="1.05" fill="#8b2db2"/>
<circle cx="438.3" cy="217.4" r="1.05" fill="#55b22d"/>
<circle cx="440.4" cy="217.5" r="1.05" fill="#8b2db2"/>
<circle cx="441.9" cy="219.0" r="1.05" fill="#55b22d"/>
<circle cx="441.8" cy="221.1" r="1.05" fill="#8b2db2"/>
<circle cx="440.3" cy="222.6" r="1.05" fill="#55b22d"/>
</g>
<circle cx="470.1" cy="220.0" r="13" fill="#0c0a10" filter="url(#bl2)"/>
<g filter="url(#bl07)">
<circle cx="469.6" cy="220.6" r="1.87" fill="#5ad400"/>
<circle cx="468.7" cy="220.0" r="1.03" fill="#00d48b"/>
<circle cx="468.6" cy="220.4" r="1.71" fill="#d70075"/>
<circle cx="468.3" cy="219.4" r="0.94" fill="#d77400"/>
<circle cx="472.1" cy="219.3" r="1.96" fill="#d8003f"/>
<circle cx="472.4" cy="220.3" r="1.08" fill="#d8ab00"/>
<circle cx="468.8" cy="222.4" r="1.80" fill="#4de000"/>
<circle cx="467.8" cy="221.8" r="0.99" fill="#00e0a5"/>
<circle cx="477.8" cy="222.2" r="2.20" fill="#9e00ec"/>
<circle cx="478.9" cy="222.3" r="1.21" fill="#ec003c"/>
<circle cx="476.6" cy="224.3" r="1.99" fill="#1600e9"/>
<circle cx="476.6" cy="223.2" r="1.09" fill="#e900c0"/>
<circle cx="477.3" cy="223.1" r="1.99" fill="#eaa300"/>
<circle cx="478.4" cy="222.8" r="1.10" fill="#35ea00"/>
<circle cx="477.5" cy="221.6" r="1.98" fill="#0ce900"/>
<circle cx="478.6" cy="221.6" r="1.09" fill="#00e2e9"/>
<circle cx="469.5" cy="226.8" r="2.11" fill="#61f900"/>
<circle cx="470.6" cy="226.6" r="1.16" fill="#00f9ac"/>
<circle cx="470.1" cy="230.8" r="1.83" fill="#a000ff"/>
<circle cx="469.1" cy="231.0" r="1.00" fill="#ff004b"/>
<circle cx="469.0" cy="229.1" r="1.76" fill="#f9ef00"/>
<circle cx="468.4" cy="228.3" r="0.97" fill="#00f90a"/>
<circle cx="470.9" cy="227.8" r="2.05" fill="#ba00ef"/>
<circle cx="471.5" cy="228.7" r="1.13" fill="#ef0022"/>
<circle cx="461.6" cy="224.8" r="1.67" fill="#b4eb00"/>
<circle cx="461.2" cy="223.8" r="0.92" fill="#00eb4a"/>
<circle cx="464.5" cy="222.4" r="2.13" fill="#b100e4"/>
<circle cx="465.3" cy="223.2" r="1.17" fill="#e40020"/>
<circle cx="463.4" cy="222.0" r="1.78" fill="#0032e9"/>
<circle cx="464.5" cy="222.3" r="0.98" fill="#ca00e9"/>
<circle cx="461.8" cy="225.1" r="1.83" fill="#fc2a00"/>
<circle cx="461.1" cy="224.3" r="1.01" fill="#bdfc00"/>
<circle cx="464.6" cy="217.3" r="1.72" fill="#7c00f4"/>
<circle cx="463.9" cy="218.2" r="0.95" fill="#f40064"/>
<circle cx="462.6" cy="214.8" r="1.69" fill="#f72300"/>
<circle cx="463.7" cy="214.8" r="0.93" fill="#c0f700"/>
<circle cx="462.9" cy="213.4" r="2.07" fill="#0090fd"/>
<circle cx="464.0" cy="213.6" r="1.14" fill="#8100fd"/>
<circle cx="462.0" cy="215.1" r="1.94" fill="#ddff00"/>
<circle cx="462.8" cy="214.3" r="1.07" fill="#00ff36"/>
<circle cx="468.0" cy="212.5" r="1.68" fill="#8aff00"/>
<circle cx="467.4" cy="211.7" r="0.93" fill="#00ff89"/>
<circle cx="471.9" cy="211.2" r="2.01" fill="#00fffb"/>
<circle cx="472.0" cy="212.3" r="1.10" fill="#1000ff"/>
<circle cx="467.6" cy="210.4" r="2.07" fill="#3600ff"/>
<circle cx="468.2" cy="209.4" r="1.14" fill="#ff00b5"/>
<circle cx="469.6" cy="212.3" r="1.95" fill="#ff007a"/>
<circle cx="468.5" cy="212.4" r="1.07" fill="#ff9900"/>
<circle cx="478.5" cy="215.6" r="2.20" fill="#f0df00"/>
<circle cx="478.9" cy="216.7" r="1.21" fill="#00f003"/>
<circle cx="477.0" cy="214.0" r="1.61" fill="#00ec0d"/>
<circle cx="478.0" cy="213.6" r="0.89" fill="#00cbec"/>
<circle cx="478.4" cy="216.8" r="2.19" fill="#00e1f1"/>
<circle cx="477.5" cy="217.5" r="1.20" fill="#2300f1"/>
</g>
<circle cx="500.3" cy="220.0" r="11.5" fill="#0e0000" filter="url(#bl2)"/>
<g filter="url(#bl06)">
<circle cx="501.8" cy="219.2" r="1.39" fill="#c80000"/>
<circle cx="502.2" cy="220.3" r="1.76" fill="#cd0000"/>
<circle cx="506.3" cy="225.4" r="1.69" fill="#fc0000"/>
<circle cx="507.9" cy="225.1" r="1.43" fill="#ef0000"/>
<circle cx="497.7" cy="229.1" r="1.52" fill="#ff0500"/>
<circle cx="499.3" cy="228.6" r="1.31" fill="#ff0500"/>
<circle cx="500.6" cy="228.9" r="1.57" fill="#f20000"/>
<circle cx="490.8" cy="225.7" r="1.38" fill="#f20000"/>
<circle cx="492.9" cy="225.5" r="1.70" fill="#f20000"/>
<circle cx="491.0" cy="217.2" r="1.49" fill="#ff0d00"/>
<circle cx="493.1" cy="215.1" r="1.44" fill="#ff3a00"/>
<circle cx="500.5" cy="210.9" r="1.64" fill="#ff2700"/>
<circle cx="497.3" cy="212.0" r="1.79" fill="#ff1700"/>
<circle cx="506.4" cy="214.6" r="1.47" fill="#f90000"/>
<circle cx="508.3" cy="218.1" r="1.29" fill="#fc0000"/>
<circle cx="508.8" cy="215.1" r="1.47" fill="#ff1700"/>
</g>
<g filter="url(#bl05)">
</g>
<rect x="425.0" y="236.0" width="89.9" height="17" fill="#d04a4c" stroke="#b9bfd6" stroke-width="0.9"/>
<text x="469.9" y="249.0" font-size="14" text-anchor="middle" fill="#fff" textLength="87.4" lengthAdjust="spacingAndGlyphs">Modes 29-35</text>
<text x="537.6" y="17.4" font-size="7" text-anchor="middle" fill="#222" textLength="18.8" lengthAdjust="spacingAndGlyphs">Input</text>
<text x="537.6" y="25.3" font-size="7" text-anchor="middle" fill="#222" textLength="18.6" lengthAdjust="spacingAndGlyphs">mode</text>
<text x="568.4" y="17.4" font-size="7" text-anchor="middle" fill="#222" textLength="23.4" lengthAdjust="spacingAndGlyphs">Output</text>
<text x="568.4" y="25.3" font-size="7" text-anchor="middle" fill="#222" textLength="14.0" lengthAdjust="spacingAndGlyphs">field</text>
<text x="598.6" y="17.4" font-size="7" text-anchor="middle" fill="#222" textLength="23.4" lengthAdjust="spacingAndGlyphs">Output</text>
<text x="598.6" y="25.3" font-size="7" text-anchor="middle" fill="#222" textLength="29.6" lengthAdjust="spacingAndGlyphs">Intensity</text>
<rect x="553.8" y="30.5" width="29.2" height="204.1" fill="#060606"/>
<rect x="584.0" y="30.5" width="29.2" height="204.1" fill="#000"/>
<rect x="523.0" y="30.5" width="29.2" height="29.1" fill="#1d1d1d" stroke="#262626" stroke-width="0.5"/>
<g filter="url(#bl05)">
<circle cx="537.6" cy="45.1" r="6.6" fill="none" stroke="#381622" stroke-width="1"/>
<circle cx="537.2" cy="48.7" r="1.05" fill="#8c2db2"/>
<circle cx="534.0" cy="44.7" r="1.05" fill="#53b22d"/>
<circle cx="538.0" cy="41.5" r="1.05" fill="#8c2db2"/>
<circle cx="541.2" cy="45.4" r="1.05" fill="#53b22d"/>
</g>
<circle cx="568.4" cy="45.1" r="13" fill="#0c0a10" filter="url(#bl2)"/>
<g filter="url(#bl07)">
<circle cx="567.5" cy="45.3" r="1.92" fill="#00bcd5"/>
<circle cx="567.2" cy="44.2" r="1.05" fill="#2900d5"/>
<circle cx="567.5" cy="44.4" r="2.03" fill="#da6300"/>
<circle cx="568.1" cy="43.5" r="1.12" fill="#66da00"/>
<circle cx="570.2" cy="44.9" r="2.18" fill="#d15500"/>
<circle cx="570.3" cy="46.0" r="1.20" fill="#6cd100"/>
<circle cx="575.7" cy="48.3" r="2.07" fill="#00ec7f"/>
<circle cx="576.8" cy="48.2" r="1.14" fill="#005aec"/>
<circle cx="575.5" cy="46.8" r="2.15" fill="#000df1"/>
<circle cx="576.6" cy="46.6" r="1.18" fill="#f100eb"/>
<circle cx="574.1" cy="50.9" r="1.96" fill="#a2ee00"/>
<circle cx="573.4" cy="50.1" r="1.08" fill="#00ee5e"/>
<circle cx="569.1" cy="52.2" r="1.95" fill="#e30061"/>
<circle cx="569.9" cy="53.0" r="1.07" fill="#e39400"/>
<circle cx="566.7" cy="53.6" r="2.01" fill="#00e818"/>
<circle cx="566.8" cy="52.5" r="1.10" fill="#00bee8"/>
<circle cx="568.1" cy="52.0" r="1.85" fill="#b5e600"/>
<circle cx="569.2" cy="52.2" r="1.02" fill="#00e644"/>
<circle cx="568.1" cy="52.7" r="2.16" fill="#00e41a"/>
<circle cx="569.1" cy="52.9" r="1.19" fill="#00b8e4"/>
<circle cx="561.9" cy="52.1" r="1.61" fill="#0c00f2"/>
<circle cx="560.8" cy="52.5" r="0.88" fill="#f200d2"/>
<circle cx="563.0" cy="48.6" r="1.65" fill="#5300f8"/>
<circle cx="563.4" cy="49.6" r="0.91" fill="#f80091"/>
<circle cx="559.0" cy="49.8" r="2.06" fill="#56ff00"/>
<circle cx="558.8" cy="48.7" r="1.14" fill="#00ffbe"/>
<circle cx="560.7" cy="42.5" r="1.71" fill="#7b00ff"/>
<circle cx="559.7" cy="42.2" r="0.94" fill="#ff006f"/>
<circle cx="563.0" cy="38.6" r="1.75" fill="#00ff6d"/>
<circle cx="563.7" cy="39.4" r="0.96" fill="#007eff"/>
<circle cx="562.2" cy="39.5" r="1.85" fill="#64ff00"/>
<circle cx="562.9" cy="40.3" r="1.02" fill="#00ffaf"/>
<circle cx="569.8" cy="34.8" r="1.86" fill="#1300ed"/>
<circle cx="570.5" cy="35.7" r="1.02" fill="#ed00c6"/>
<circle cx="567.2" cy="37.7" r="2.02" fill="#ea1100"/>
<circle cx="566.3" cy="37.2" r="1.11" fill="#c6ea00"/>
<circle cx="566.5" cy="36.1" r="1.65" fill="#0ae800"/>
<circle cx="566.8" cy="35.0" r="0.91" fill="#00e0e8"/>
<circle cx="573.4" cy="38.1" r="1.94" fill="#1e00f4"/>
<circle cx="574.1" cy="37.3" r="1.07" fill="#f400c3"/>
<circle cx="576.0" cy="40.7" r="1.95" fill="#fa5e00"/>
<circle cx="575.1" cy="41.4" r="1.07" fill="#88fa00"/>
<circle cx="576.8" cy="42.2" r="1.99" fill="#f8d200"/>
<circle cx="575.9" cy="42.8" r="1.09" fill="#13f800"/>
</g>
<circle cx="598.6" cy="45.1" r="11.5" fill="#0e0000" filter="url(#bl2)"/>
<g filter="url(#bl06)">
<circle cx="599.6" cy="45.3" r="1.61" fill="#cd0000"/>
<circle cx="597.8" cy="43.4" r="1.23" fill="#c20000"/>
<circle cx="604.5" cy="51.1" r="1.71" fill="#ef0000"/>
<circle cx="605.3" cy="48.3" r="1.51" fill="#f70000"/>
<circle cx="606.4" cy="48.6" r="1.50" fill="#f70000"/>
<circle cx="596.9" cy="54.3" r="1.52" fill="#ea0000"/>
<circle cx="598.5" cy="51.8" r="1.46" fill="#df0000"/>
<circle cx="591.9" cy="50.3" r="1.69" fill="#ff0200"/>
<circle cx="590.6" cy="50.8" r="1.77" fill="#ff1000"/>
<circle cx="592.1" cy="49.5" r="1.47" fill="#ff1f00"/>
<circle cx="592.3" cy="39.8" r="1.74" fill="#f70000"/>
<circle cx="592.3" cy="38.6" r="1.67" fill="#ff0200"/>
<circle cx="592.4" cy="41.2" r="1.44" fill="#fc0000"/>
<circle cx="597.0" cy="37.6" r="1.37" fill="#ec0000"/>
<circle cx="598.5" cy="39.0" r="1.59" fill="#ec0000"/>
<circle cx="607.4" cy="39.2" r="1.75" fill="#fc0000"/>
<circle cx="603.9" cy="39.8" r="1.21" fill="#ff1a00"/>
<circle cx="605.1" cy="37.9" r="1.32" fill="#ff1200"/>
</g>
<g filter="url(#bl05)">
<circle cx="590.2" cy="41.4" r="0.97" fill="#ff7300"/>
<circle cx="590.2" cy="41.4" r="0.5" fill="#ffe890"/>
</g>
<rect x="523.0" y="59.6" width="29.2" height="29.1" fill="#1d1d1d" stroke="#262626" stroke-width="0.5"/>
<g filter="url(#bl05)">
<circle cx="537.6" cy="74.2" r="8.6" fill="none" stroke="#253816" stroke-width="1"/>
<circle cx="537.2" cy="77.8" r="1.05" fill="#b22db1"/>
<circle cx="534.3" cy="75.6" r="1.05" fill="#2db22e"/>
<circle cx="534.8" cy="72.1" r="1.05" fill="#b22db1"/>
<circle cx="538.0" cy="70.7" r="1.05" fill="#2db22e"/>
<circle cx="540.9" cy="72.8" r="1.05" fill="#b22db1"/>
<circle cx="540.5" cy="76.4" r="1.05" fill="#2db22e"/>
</g>
<circle cx="568.4" cy="74.2" r="13" fill="#0c0a10" filter="url(#bl2)"/>
<g filter="url(#bl07)">
<circle cx="567.7" cy="75.1" r="1.91" fill="#87d400"/>
<circle cx="566.8" cy="74.4" r="1.05" fill="#00d45f"/>
<circle cx="566.2" cy="75.7" r="1.96" fill="#00d054"/>
<circle cx="565.6" cy="74.8" r="1.08" fill="#006bd0"/>
<circle cx="566.3" cy="73.1" r="1.89" fill="#0084ce"/>
<circle cx="566.9" cy="72.1" r="1.04" fill="#5a00ce"/>
<circle cx="576.6" cy="79.2" r="2.12" fill="#9e00ff"/>
<circle cx="575.6" cy="79.7" r="1.17" fill="#ff004c"/>
<circle cx="576.2" cy="79.7" r="1.63" fill="#ff00d5"/>
<circle cx="575.1" cy="79.8" r="0.90" fill="#ff3e00"/>
<circle cx="575.7" cy="80.0" r="1.73" fill="#c5ef00"/>
<circle cx="574.7" cy="79.8" r="0.95" fill="#00ef3d"/>
<circle cx="573.9" cy="77.5" r="1.96" fill="#6e00ff"/>
<circle cx="574.2" cy="76.4" r="1.08" fill="#ff007d"/>
<circle cx="568.2" cy="80.8" r="1.67" fill="#1600e4"/>
<circle cx="569.3" cy="81.1" r="0.92" fill="#e400bc"/>
<circle cx="569.5" cy="83.2" r="1.79" fill="#00e59b"/>
<circle cx="569.2" cy="84.3" r="0.98" fill="#0037e5"/>
<circle cx="566.7" cy="80.8" r="1.85" fill="#79d500"/>
<circle cx="567.7" cy="80.3" r="1.02" fill="#00d56d"/>
<circle cx="568.0" cy="83.9" r="1.94" fill="#00d8a5"/>
<circle cx="567.0" cy="84.2" r="1.06" fill="#0022d8"/>
<circle cx="559.6" cy="77.3" r="1.95" fill="#008be3"/>
<circle cx="560.4" cy="76.5" r="1.07" fill="#6a00e3"/>
<circle cx="562.4" cy="76.5" r="2.03" fill="#e69800"/>
<circle cx="563.3" cy="77.2" r="1.12" fill="#3ce600"/>
<circle cx="559.6" cy="77.6" r="1.94" fill="#f300f3"/>
<circle cx="560.2" cy="76.7" r="1.07" fill="#f31300"/>
<circle cx="560.9" cy="81.2" r="1.68" fill="#00e6cb"/>
<circle cx="559.8" cy="81.2" r="0.92" fill="#0009e6"/>
<circle cx="561.4" cy="68.0" r="1.65" fill="#d0e400"/>
<circle cx="562.4" cy="67.6" r="0.90" fill="#00e427"/>
<circle cx="560.8" cy="67.1" r="1.80" fill="#00e0e0"/>
<circle cx="561.8" cy="66.6" r="0.99" fill="#1200e0"/>
<circle cx="559.9" cy="67.0" r="1.97" fill="#007ddd"/>
<circle cx="560.7" cy="66.2" r="1.08" fill="#7200dd"/>
<circle cx="570.1" cy="67.1" r="1.67" fill="#4800f1"/>
<circle cx="569.1" cy="67.5" r="0.92" fill="#f10096"/>
<circle cx="570.7" cy="64.5" r="2.15" fill="#77e600"/>
<circle cx="571.5" cy="65.2" r="1.19" fill="#00e681"/>
<circle cx="569.4" cy="64.3" r="1.69" fill="#d1f800"/>
<circle cx="570.5" cy="64.2" r="0.93" fill="#00f83a"/>
<circle cx="567.5" cy="65.4" r="1.66" fill="#f4005b"/>
<circle cx="567.6" cy="64.3" r="0.92" fill="#f4ad00"/>
<circle cx="577.2" cy="69.7" r="2.10" fill="#e97b00"/>
<circle cx="577.8" cy="70.6" r="1.16" fill="#5be900"/>
<circle cx="577.7" cy="69.7" r="1.71" fill="#27f200"/>
<circle cx="578.1" cy="70.7" r="0.94" fill="#00f2de"/>
<circle cx="574.5" cy="71.0" r="2.18" fill="#00bbea"/>
<circle cx="574.0" cy="70.0" r="1.20" fill="#4200ea"/>
</g>
<circle cx="598.6" cy="74.2" r="11.5" fill="#0e0000" filter="url(#bl2)"/>
<g filter="url(#bl06)">
<circle cx="597.4" cy="73.0" r="1.23" fill="#ca0000"/>
<circle cx="597.5" cy="73.6" r="1.76" fill="#c80000"/>
<circle cx="599.4" cy="74.6" r="1.52" fill="#c20000"/>
<circle cx="605.4" cy="77.8" r="1.46" fill="#ff1500"/>
<circle cx="608.1" cy="79.6" r="1.57" fill="#ff2500"/>
<circle cx="597.5" cy="82.3" r="1.54" fill="#da0000"/>
<circle cx="599.4" cy="82.0" r="1.33" fill="#df0000"/>
<circle cx="596.7" cy="82.4" r="1.77" fill="#e40000"/>
<circle cx="592.6" cy="79.2" r="1.28" fill="#ff0000"/>
<circle cx="590.9" cy="76.9" r="1.45" fill="#ff0000"/>
<circle cx="591.9" cy="76.9" r="1.71" fill="#f70000"/>
<circle cx="590.9" cy="70.2" r="1.69" fill="#dd0000"/>
<circle cx="590.9" cy="67.8" r="1.27" fill="#cd0000"/>
<circle cx="591.1" cy="67.8" r="1.51" fill="#da0000"/>
<circle cx="600.4" cy="64.8" r="1.26" fill="#fc0000"/>
<circle cx="600.6" cy="65.5" r="1.69" fill="#f70000"/>
<circle cx="607.0" cy="70.2" r="1.53" fill="#f70000"/>
<circle cx="605.6" cy="68.8" r="1.49" fill="#f40000"/>
</g>
<g filter="url(#bl05)">
<circle cx="605.4" cy="78.6" r="1.19" fill="#ff7b00"/>
<circle cx="605.4" cy="78.6" r="0.5" fill="#ffe890"/>
<circle cx="600.3" cy="65.4" r="0.92" fill="#ff5c00"/>
<circle cx="600.3" cy="65.4" r="0.5" fill="#ffe890"/>
<circle cx="605.9" cy="70.0" r="1.00" fill="#ff7100"/>
<circle cx="605.9" cy="70.0" r="0.5" fill="#ffe890"/>
</g>
<rect x="523.0" y="88.8" width="29.2" height="29.1" fill="#1d1d1d" stroke="#262626" stroke-width="0.5"/>
<g filter="url(#bl05)">
<circle cx="537.6" cy="103.4" r="7.9" fill="none" stroke="#16381d" stroke-width="1"/>
<circle cx="539.7" cy="104.2" r="1.05" fill="#b22d54"/>
<circle cx="535.5" cy="102.5" r="1.05" fill="#2db28b"/>
</g>
<circle cx="568.4" cy="103.4" r="13" fill="#0c0a10" filter="url(#bl2)"/>
<g filter="url(#bl07)">
<circle cx="566.6" cy="103.1" r="1.63" fill="#1f00e7"/>
<circle cx="566.8" cy="102.0" r="0.90" fill="#e700b6"/>
<circle cx="566.8" cy="101.9" r="2.03" fill="#00dec3"/>
<circle cx="567.5" cy="101.1" r="1.11" fill="#0009de"/>
<circle cx="566.8" cy="103.0" r="1.65" fill="#000fe1"/>
<circle cx="567.1" cy="101.9" r="0.91" fill="#e100de"/>
<circle cx="566.8" cy="105.4" r="1.98" fill="#e0d500"/>
<circle cx="565.9" cy="104.7" r="1.09" fill="#00e008"/>
<circle cx="576.0" cy="109.6" r="1.68" fill="#0dd300"/>
<circle cx="575.2" cy="110.4" r="0.92" fill="#00cfd3"/>
<circle cx="575.3" cy="106.6" r="1.92" fill="#a900cf"/>
<circle cx="576.4" cy="106.8" r="1.06" fill="#cf0015"/>
<circle cx="576.1" cy="107.5" r="2.04" fill="#0079d1"/>
<circle cx="577.0" cy="108.2" r="1.12" fill="#6900d1"/>
<circle cx="568.2" cy="109.2" r="1.75" fill="#8d00d2"/>
<circle cx="569.3" cy="109.2" r="0.96" fill="#d20034"/>
<circle cx="565.5" cy="111.8" r="2.00" fill="#cd0012"/>
<circle cx="565.5" cy="110.7" r="1.10" fill="#cdcb00"/>
<circle cx="569.1" cy="112.1" r="1.99" fill="#00cc2f"/>
<circle cx="569.0" cy="113.2" r="1.09" fill="#008dcc"/>
<circle cx="566.6" cy="112.0" r="1.75" fill="#cf00b9"/>
<circle cx="566.5" cy="110.9" r="0.96" fill="#cf2700"/>
<circle cx="560.6" cy="108.2" r="1.85" fill="#5500ff"/>
<circle cx="559.5" cy="108.0" r="1.02" fill="#ff0095"/>
<circle cx="561.4" cy="106.1" r="1.71" fill="#aef400"/>
<circle cx="562.4" cy="106.5" r="0.94" fill="#00f459"/>
<circle cx="559.4" cy="107.9" r="1.62" fill="#00f5a3"/>
<circle cx="559.1" cy="106.8" r="0.89" fill="#003ef5"/>
<circle cx="560.1" cy="106.0" r="1.82" fill="#b600ff"/>
<circle cx="561.1" cy="105.5" r="1.00" fill="#ff0034"/>
<circle cx="561.0" cy="98.1" r="1.75" fill="#bf00e5"/>
<circle cx="562.1" cy="98.2" r="0.96" fill="#e50014"/>
<circle cx="558.8" cy="99.6" r="1.62" fill="#ef00e8"/>
<circle cx="558.6" cy="98.5" r="0.89" fill="#ef1a00"/>
<circle cx="561.7" cy="100.4" r="1.87" fill="#e75300"/>
<circle cx="560.7" cy="101.0" r="1.03" fill="#81e700"/>
<circle cx="566.6" cy="94.6" r="1.63" fill="#8df800"/>
<circle cx="566.8" cy="93.5" r="0.90" fill="#00f880"/>
<circle cx="570.3" cy="95.3" r="1.75" fill="#caec00"/>
<circle cx="570.0" cy="96.4" r="0.96" fill="#00ec35"/>
<circle cx="566.9" cy="94.2" r="1.84" fill="#0005fa"/>
<circle cx="567.4" cy="93.2" r="1.01" fill="#fa00eb"/>
<circle cx="576.7" cy="99.8" r="2.03" fill="#90e700"/>
<circle cx="577.8" cy="99.8" r="1.11" fill="#00e769"/>
<circle cx="577.2" cy="102.5" r="2.05" fill="#fa8b00"/>
<circle cx="576.2" cy="102.9" r="1.13" fill="#5bfa00"/>
<circle cx="575.5" cy="99.0" r="1.61" fill="#00e928"/>
<circle cx="576.5" cy="98.4" r="0.89" fill="#00aee9"/>
<circle cx="574.4" cy="102.3" r="1.92" fill="#e92600"/>
<circle cx="573.8" cy="101.4" r="1.05" fill="#b0e900"/>
</g>
<circle cx="598.6" cy="103.4" r="11.5" fill="#0e0000" filter="url(#bl2)"/>
<g filter="url(#bl06)">
<circle cx="599.6" cy="103.9" r="1.33" fill="#e20000"/>
<circle cx="598.2" cy="104.4" r="1.68" fill="#d20000"/>
<circle cx="600.2" cy="102.8" r="1.35" fill="#d50000"/>
<circle cx="605.6" cy="108.1" r="1.40" fill="#bd0000"/>
<circle cx="603.3" cy="109.7" r="1.38" fill="#ba0000"/>
<circle cx="598.8" cy="110.9" r="1.73" fill="#c00000"/>
<circle cx="600.5" cy="112.2" r="1.46" fill="#c50000"/>
<circle cx="598.6" cy="109.9" r="1.78" fill="#ba0000"/>
<circle cx="592.6" cy="106.9" r="1.66" fill="#ff2200"/>
<circle cx="591.9" cy="106.9" r="1.70" fill="#ff0d00"/>
<circle cx="589.5" cy="108.0" r="1.73" fill="#ff1f00"/>
<circle cx="590.5" cy="97.2" r="1.54" fill="#da0000"/>
<circle cx="590.5" cy="98.7" r="1.24" fill="#df0000"/>
<circle cx="598.4" cy="97.1" r="1.41" fill="#f40000"/>
<circle cx="598.6" cy="97.3" r="1.71" fill="#f70000"/>
<circle cx="597.2" cy="94.7" r="1.28" fill="#ff0200"/>
<circle cx="606.1" cy="99.7" r="1.66" fill="#ff0800"/>
<circle cx="605.9" cy="99.0" r="1.29" fill="#f70000"/>
<circle cx="605.4" cy="100.6" r="1.62" fill="#ec0000"/>
</g>
<g filter="url(#bl05)">
<circle cx="604.5" cy="108.0" r="1.10" fill="#ff6900"/>
<circle cx="604.5" cy="108.0" r="0.5" fill="#ffe890"/>
</g>
<rect x="523.0" y="118.0" width="29.2" height="29.1" fill="#1d1d1d" stroke="#262626" stroke-width="0.5"/>
<g filter="url(#bl05)">
<circle cx="537.6" cy="132.5" r="4.5" fill="none" stroke="#381629" stroke-width="1"/>
<circle cx="537.6" cy="132.5" r="1.9" fill="#7db22d"/>
</g>
<circle cx="568.4" cy="132.5" r="13" fill="#0c0a10" filter="url(#bl2)"/>
<g filter="url(#bl07)">
<circle cx="568.4" cy="134.5" r="1.79" fill="#8f00d9"/>
<circle cx="567.3" cy="134.5" r="0.99" fill="#d90039"/>
<circle cx="567.0" cy="130.8" r="1.71" fill="#d5b100"/>
<circle cx="567.9" cy="130.1" r="0.94" fill="#13d500"/>
<circle cx="570.4" cy="132.8" r="2.16" fill="#d50001"/>
<circle cx="570.3" cy="133.9" r="1.19" fill="#c5d500"/>
<circle cx="573.7" cy="138.9" r="2.11" fill="#fe9000"/>
<circle cx="573.0" cy="138.0" r="1.16" fill="#5afe00"/>
<circle cx="577.7" cy="135.8" r="2.19" fill="#1800fe"/>
<circle cx="578.3" cy="136.7" r="1.21" fill="#fe00d2"/>
<circle cx="573.5" cy="136.0" r="1.97" fill="#00ff64"/>
<circle cx="574.0" cy="135.1" r="1.09" fill="#0087ff"/>
<circle cx="575.4" cy="136.1" r="1.81" fill="#00f777"/>
<circle cx="576.5" cy="135.8" r="1.00" fill="#006bf7"/>
<circle cx="567.5" cy="141.9" r="1.83" fill="#00ff95"/>
<circle cx="566.5" cy="141.6" r="1.01" fill="#0055ff"/>
<circle cx="568.0" cy="139.5" r="1.65" fill="#00aff9"/>
<circle cx="569.1" cy="139.7" r="0.91" fill="#5e00f9"/>
<circle cx="568.1" cy="139.3" r="2.07" fill="#c300ff"/>
<circle cx="569.2" cy="139.5" r="1.14" fill="#ff0027"/>
<circle cx="559.9" cy="137.6" r="1.96" fill="#8cd800"/>
<circle cx="559.1" cy="136.8" r="1.08" fill="#00d85e"/>
<circle cx="562.7" cy="134.6" r="1.77" fill="#5200da"/>
<circle cx="563.5" cy="135.3" r="0.98" fill="#da0076"/>
<circle cx="559.7" cy="136.0" r="1.85" fill="#d500a6"/>
<circle cx="560.2" cy="135.1" r="1.02" fill="#d54000"/>
<circle cx="561.1" cy="137.9" r="1.79" fill="#7d00d4"/>
<circle cx="560.0" cy="138.1" r="0.99" fill="#d40047"/>
<circle cx="563.1" cy="126.9" r="1.74" fill="#00e73b"/>
<circle cx="563.7" cy="127.8" r="0.96" fill="#009ae7"/>
<circle cx="560.9" cy="130.2" r="2.18" fill="#a1e700"/>
<circle cx="559.8" cy="130.2" r="1.20" fill="#00e758"/>
<circle cx="562.1" cy="129.5" r="2.19" fill="#00e97f"/>
<circle cx="561.4" cy="130.3" r="1.21" fill="#0057e9"/>
<circle cx="563.4" cy="129.3" r="1.86" fill="#001bdf"/>
<circle cx="563.0" cy="130.3" r="1.02" fill="#d600df"/>
<circle cx="568.8" cy="123.1" r="1.84" fill="#00da55"/>
<circle cx="569.6" cy="123.8" r="1.01" fill="#0074da"/>
<circle cx="568.9" cy="121.6" r="2.02" fill="#ddbc00"/>
<circle cx="569.9" cy="121.9" r="1.11" fill="#10dd00"/>
<circle cx="568.5" cy="124.7" r="2.13" fill="#d900ac"/>
<circle cx="567.5" cy="125.2" r="1.17" fill="#d93e00"/>
<circle cx="574.6" cy="128.8" r="1.95" fill="#00f457"/>
<circle cx="573.9" cy="127.9" r="1.07" fill="#008af4"/>
<circle cx="576.9" cy="129.4" r="1.70" fill="#1ff500"/>
<circle cx="576.0" cy="130.1" r="0.93" fill="#00f5e9"/>
<circle cx="574.8" cy="128.0" r="1.97" fill="#64f000"/>
<circle cx="574.8" cy="126.9" r="1.08" fill="#00f09f"/>
<circle cx="576.6" cy="127.4" r="2.02" fill="#00e2b3"/>
<circle cx="577.2" cy="128.3" r="1.11" fill="#001ee2"/>
</g>
<circle cx="598.6" cy="132.5" r="11.5" fill="#0e0000" filter="url(#bl2)"/>
<g filter="url(#bl06)">
<circle cx="600.5" cy="134.0" r="1.52" fill="#cd0000"/>
<circle cx="597.7" cy="133.5" r="1.66" fill="#d50000"/>
<circle cx="596.9" cy="134.0" r="1.25" fill="#ca0000"/>
<circle cx="605.1" cy="137.4" r="1.34" fill="#ff2c00"/>
<circle cx="604.9" cy="135.8" r="1.74" fill="#ff2a00"/>
<circle cx="596.5" cy="139.8" r="1.80" fill="#ff1700"/>
<circle cx="598.3" cy="140.3" r="1.46" fill="#ff0800"/>
<circle cx="591.3" cy="139.3" r="1.53" fill="#d50000"/>
<circle cx="591.4" cy="137.2" r="1.31" fill="#ca0000"/>
<circle cx="592.3" cy="135.6" r="1.57" fill="#cf0000"/>
<circle cx="591.3" cy="130.3" r="1.75" fill="#e20000"/>
<circle cx="590.3" cy="128.3" r="1.21" fill="#e70000"/>
<circle cx="597.4" cy="123.3" r="1.64" fill="#d20000"/>
<circle cx="597.8" cy="123.3" r="1.77" fill="#e70000"/>
<circle cx="599.0" cy="125.6" r="1.57" fill="#dd0000"/>
<circle cx="605.2" cy="127.2" r="1.78" fill="#e70000"/>
<circle cx="605.7" cy="130.4" r="1.53" fill="#fc0000"/>
<circle cx="605.4" cy="127.7" r="1.61" fill="#f90000"/>
</g>
<g filter="url(#bl05)">
<circle cx="592.1" cy="129.2" r="1.14" fill="#ff8000"/>
<circle cx="592.1" cy="129.2" r="0.5" fill="#ffe890"/>
<circle cx="598.0" cy="123.7" r="1.01" fill="#ff9500"/>
<circle cx="598.0" cy="123.7" r="0.5" fill="#ffe890"/>
</g>
<rect x="523.0" y="147.1" width="29.2" height="29.1" fill="#1d1d1d" stroke="#262626" stroke-width="0.5"/>
<g filter="url(#bl05)">
<circle cx="537.6" cy="161.7" r="7.0" fill="none" stroke="#383516" stroke-width="1"/>
<circle cx="535.6" cy="163.1" r="1.05" fill="#2db2ae"/>
<circle cx="539.6" cy="160.2" r="1.05" fill="#b22d31"/>
</g>
<circle cx="568.4" cy="161.7" r="13" fill="#0c0a10" filter="url(#bl2)"/>
<g filter="url(#bl07)">
<circle cx="568.3" cy="160.7" r="2.17" fill="#ffa000"/>
<circle cx="569.4" cy="160.5" r="1.20" fill="#4bff00"/>
<circle cx="569.4" cy="159.8" r="1.88" fill="#00ff60"/>
<circle cx="570.4" cy="160.3" r="1.04" fill="#008aff"/>
<circle cx="569.7" cy="163.2" r="1.90" fill="#ff8e00"/>
<circle cx="568.9" cy="163.9" r="1.05" fill="#5cff00"/>
<circle cx="568.2" cy="159.2" r="2.07" fill="#bb00ff"/>
<circle cx="569.3" cy="159.1" r="1.14" fill="#ff0030"/>
<circle cx="575.9" cy="164.9" r="1.79" fill="#7aff00"/>
<circle cx="575.2" cy="164.1" r="0.98" fill="#00ff9a"/>
<circle cx="578.0" cy="164.2" r="1.87" fill="#3c00f0"/>
<circle cx="578.1" cy="165.3" r="1.03" fill="#f000a1"/>
<circle cx="577.4" cy="161.8" r="2.18" fill="#ff6e00"/>
<circle cx="578.5" cy="162.2" r="1.20" fill="#7cff00"/>
<circle cx="579.0" cy="164.7" r="2.19" fill="#ff4200"/>
<circle cx="578.8" cy="165.8" r="1.21" fill="#a9ff00"/>
<circle cx="567.5" cy="169.2" r="1.93" fill="#0073e8"/>
<circle cx="568.6" cy="169.2" r="1.06" fill="#8700e8"/>
<circle cx="567.6" cy="169.1" r="1.84" fill="#2ee300"/>
<circle cx="568.7" cy="169.1" r="1.01" fill="#00e3c7"/>
<circle cx="568.3" cy="170.7" r="1.62" fill="#6000f0"/>
<circle cx="567.8" cy="171.6" r="0.89" fill="#f0007d"/>
<circle cx="559.9" cy="164.5" r="1.74" fill="#00ff10"/>
<circle cx="560.8" cy="163.9" r="0.96" fill="#00daff"/>
<circle cx="560.3" cy="165.6" r="1.91" fill="#00b5ff"/>
<circle cx="560.9" cy="164.7" r="1.05" fill="#5e00ff"/>
<circle cx="561.2" cy="165.0" r="1.80" fill="#1fff00"/>
<circle cx="562.3" cy="165.1" r="0.99" fill="#00fff4"/>
<circle cx="562.7" cy="159.2" r="1.89" fill="#d10048"/>
<circle cx="561.9" cy="159.9" r="1.04" fill="#d19a00"/>
<circle cx="560.2" cy="158.4" r="2.08" fill="#acd700"/>
<circle cx="559.3" cy="157.8" r="1.14" fill="#00d73c"/>
<circle cx="561.3" cy="159.5" r="2.13" fill="#6a00d8"/>
<circle cx="560.2" cy="159.6" r="1.17" fill="#d8005d"/>
<circle cx="565.7" cy="151.7" r="1.95" fill="#dc003b"/>
<circle cx="566.3" cy="150.8" r="1.07" fill="#dcb300"/>
<circle cx="567.1" cy="155.1" r="1.84" fill="#4700da"/>
<circle cx="566.0" cy="154.8" r="1.01" fill="#da0082"/>
<circle cx="567.6" cy="151.7" r="2.15" fill="#deaa00"/>
<circle cx="568.7" cy="151.7" r="1.18" fill="#22de00"/>
<circle cx="565.9" cy="154.0" r="1.81" fill="#de1500"/>
<circle cx="565.4" cy="153.0" r="1.00" fill="#b7de00"/>
<circle cx="576.2" cy="157.6" r="2.19" fill="#0072ee"/>
<circle cx="575.4" cy="158.4" r="1.20" fill="#8f00ee"/>
<circle cx="574.9" cy="154.9" r="1.82" fill="#0055e5"/>
<circle cx="575.9" cy="154.6" r="1.00" fill="#a200e5"/>
<circle cx="574.8" cy="156.1" r="1.62" fill="#2ae200"/>
<circle cx="575.5" cy="155.3" r="0.89" fill="#00e2ca"/>
</g>
<circle cx="598.6" cy="161.7" r="11.5" fill="#0e0000" filter="url(#bl2)"/>
<g filter="url(#bl06)">
<circle cx="597.4" cy="162.1" r="1.44" fill="#ff1d00"/>
<circle cx="600.7" cy="162.7" r="1.21" fill="#ff0200"/>
<circle cx="600.7" cy="162.0" r="1.77" fill="#ff1200"/>
<circle cx="606.0" cy="162.0" r="1.43" fill="#ff2500"/>
<circle cx="606.5" cy="163.8" r="1.59" fill="#ff1500"/>
<circle cx="597.9" cy="169.6" r="1.77" fill="#f20000"/>
<circle cx="596.1" cy="168.4" r="1.66" fill="#ff0200"/>
<circle cx="589.2" cy="166.1" r="1.72" fill="#ff3400"/>
<circle cx="591.9" cy="166.3" r="1.63" fill="#ff2500"/>
<circle cx="590.2" cy="166.9" r="1.56" fill="#ff0d00"/>
<circle cx="590.5" cy="156.5" r="1.42" fill="#cd0000"/>
<circle cx="590.9" cy="157.6" r="1.20" fill="#cd0000"/>
<circle cx="591.5" cy="156.7" r="1.41" fill="#cf0000"/>
<circle cx="598.2" cy="154.0" r="1.75" fill="#cf0000"/>
<circle cx="598.5" cy="153.9" r="1.61" fill="#d50000"/>
<circle cx="598.9" cy="152.5" r="1.63" fill="#d20000"/>
<circle cx="604.6" cy="157.0" r="1.29" fill="#ea0000"/>
<circle cx="606.8" cy="157.4" r="1.40" fill="#f90000"/>
</g>
<g filter="url(#bl05)">
<circle cx="607.1" cy="165.0" r="1.15" fill="#ff6400"/>
<circle cx="607.1" cy="165.0" r="0.5" fill="#ffe890"/>
</g>
<rect x="523.0" y="176.2" width="29.2" height="29.1" fill="#1d1d1d" stroke="#262626" stroke-width="0.5"/>
<g filter="url(#bl05)">
<circle cx="537.6" cy="190.8" r="5.8" fill="none" stroke="#201638" stroke-width="1"/>
<circle cx="537.6" cy="190.8" r="1.9" fill="#2db24a"/>
</g>
<circle cx="568.4" cy="190.8" r="13" fill="#0c0a10" filter="url(#bl2)"/>
<g filter="url(#bl07)">
<circle cx="567.8" cy="189.6" r="2.10" fill="#db0016"/>
<circle cx="568.8" cy="189.2" r="1.16" fill="#dbd600"/>
<circle cx="567.7" cy="189.2" r="2.08" fill="#00d934"/>
<circle cx="568.7" cy="188.8" r="1.14" fill="#0093d9"/>
<circle cx="568.8" cy="193.3" r="1.77" fill="#db0093"/>
<circle cx="567.7" cy="193.5" r="0.98" fill="#db5900"/>
<circle cx="575.1" cy="193.1" r="2.09" fill="#ff4a00"/>
<circle cx="576.2" cy="192.9" r="1.15" fill="#a0ff00"/>
<circle cx="573.8" cy="193.6" r="2.17" fill="#f00023"/>
<circle cx="574.6" cy="192.8" r="1.19" fill="#f0e000"/>
<circle cx="577.0" cy="193.9" r="2.05" fill="#ffa900"/>
<circle cx="577.8" cy="194.6" r="1.13" fill="#42ff00"/>
<circle cx="574.7" cy="196.4" r="2.09" fill="#f00047"/>
<circle cx="573.9" cy="195.7" r="1.15" fill="#f0bd00"/>
<circle cx="567.6" cy="197.1" r="1.67" fill="#dd8400"/>
<circle cx="568.6" cy="196.8" r="0.92" fill="#47dd00"/>
<circle cx="567.5" cy="200.1" r="1.95" fill="#e70075"/>
<circle cx="566.9" cy="199.2" r="1.07" fill="#e78400"/>
<circle cx="568.9" cy="200.6" r="2.16" fill="#0068e9"/>
<circle cx="567.8" cy="201.0" r="1.19" fill="#9300e9"/>
<circle cx="569.7" cy="198.8" r="1.93" fill="#2a00e2"/>
<circle cx="570.2" cy="199.8" r="1.06" fill="#e200a6"/>
<circle cx="560.7" cy="194.4" r="1.74" fill="#64fd00"/>
<circle cx="561.7" cy="193.9" r="0.96" fill="#00fdad"/>
<circle cx="562.3" cy="194.5" r="2.19" fill="#ff3b00"/>
<circle cx="563.1" cy="195.2" r="1.21" fill="#b0ff00"/>
<circle cx="560.0" cy="195.2" r="1.97" fill="#ff0096"/>
<circle cx="560.3" cy="194.2" r="1.08" fill="#ff7e00"/>
<circle cx="561.3" cy="184.3" r="2.07" fill="#00abed"/>
<circle cx="562.4" cy="184.4" r="1.14" fill="#5500ed"/>
<circle cx="561.9" cy="185.9" r="2.12" fill="#e72400"/>
<circle cx="562.5" cy="186.8" r="1.17" fill="#b0e700"/>
<circle cx="559.9" cy="185.3" r="1.85" fill="#fd0025"/>
<circle cx="560.6" cy="184.5" r="1.02" fill="#fdeb00"/>
<circle cx="567.4" cy="183.6" r="2.13" fill="#006cf2"/>
<circle cx="566.6" cy="182.8" r="1.17" fill="#9a00f2"/>
<circle cx="568.1" cy="184.7" r="1.85" fill="#e46a00"/>
<circle cx="567.0" cy="184.4" r="1.02" fill="#68e400"/>
<circle cx="570.0" cy="182.9" r="2.01" fill="#f12700"/>
<circle cx="569.5" cy="183.9" r="1.10" fill="#b7f100"/>
<circle cx="574.5" cy="186.6" r="1.74" fill="#d500e8"/>
<circle cx="574.6" cy="185.5" r="0.96" fill="#e80001"/>
<circle cx="576.4" cy="184.6" r="1.62" fill="#3200e3"/>
<circle cx="577.5" cy="184.7" r="0.89" fill="#e3009e"/>
<circle cx="578.5" cy="185.7" r="1.88" fill="#b7ed00"/>
<circle cx="579.0" cy="186.7" r="1.03" fill="#00ed49"/>
</g>
<circle cx="598.6" cy="190.8" r="11.5" fill="#0e0000" filter="url(#bl2)"/>
<g filter="url(#bl06)">
<circle cx="598.5" cy="191.5" r="1.78" fill="#d50000"/>
<circle cx="597.7" cy="191.2" r="1.59" fill="#cf0000"/>
<circle cx="605.9" cy="194.8" r="1.58" fill="#f90000"/>
<circle cx="607.1" cy="196.2" r="1.22" fill="#ff0a00"/>
<circle cx="598.5" cy="197.3" r="1.37" fill="#e20000"/>
<circle cx="598.0" cy="197.8" r="1.65" fill="#e20000"/>
<circle cx="590.4" cy="195.9" r="1.78" fill="#ff1a00"/>
<circle cx="591.3" cy="195.0" r="1.60" fill="#ff0d00"/>
<circle cx="589.6" cy="186.0" r="1.29" fill="#ea0000"/>
<circle cx="591.6" cy="185.4" r="1.61" fill="#ff0000"/>
<circle cx="589.5" cy="185.2" r="1.39" fill="#ff0200"/>
<circle cx="601.1" cy="183.3" r="1.79" fill="#f40000"/>
<circle cx="599.2" cy="181.8" r="1.71" fill="#e20000"/>
<circle cx="598.9" cy="184.6" r="1.66" fill="#ff0000"/>
<circle cx="604.0" cy="187.7" r="1.26" fill="#f90000"/>
<circle cx="606.0" cy="185.7" r="1.42" fill="#e70000"/>
<circle cx="607.5" cy="185.2" r="1.69" fill="#ef0000"/>
</g>
<g filter="url(#bl05)">
</g>
<rect x="523.0" y="205.4" width="29.2" height="29.1" fill="#1d1d1d" stroke="#262626" stroke-width="0.5"/>
<g filter="url(#bl05)">
<circle cx="537.6" cy="220.0" r="4.5" fill="none" stroke="#191638" stroke-width="1"/>
<circle cx="539.8" cy="222.0" r="1.05" fill="#2db231"/>
<circle cx="537.7" cy="223.0" r="1.05" fill="#b22dae"/>
<circle cx="535.5" cy="222.2" r="1.05" fill="#2db231"/>
<circle cx="534.6" cy="220.1" r="1.05" fill="#b22dae"/>
<circle cx="535.4" cy="217.9" r="1.05" fill="#2db231"/>
<circle cx="537.5" cy="217.0" r="1.05" fill="#b22dae"/>
<circle cx="539.7" cy="217.8" r="1.05" fill="#2db231"/>
<circle cx="540.6" cy="219.9" r="1.05" fill="#b22dae"/>
</g>
<circle cx="568.4" cy="220.0" r="13" fill="#0c0a10" filter="url(#bl2)"/>
<g filter="url(#bl07)">
<circle cx="567.4" cy="218.1" r="1.86" fill="#8300d9"/>
<circle cx="568.4" cy="217.6" r="1.02" fill="#d90045"/>
<circle cx="568.4" cy="221.8" r="1.93" fill="#00b2d6"/>
<circle cx="567.3" cy="221.7" r="1.06" fill="#3500d6"/>
<circle cx="569.2" cy="221.4" r="2.07" fill="#0bda00"/>
<circle cx="568.2" cy="221.9" r="1.14" fill="#00d4da"/>
<circle cx="570.0" cy="220.3" r="2.04" fill="#d88200"/>
<circle cx="569.8" cy="221.4" r="1.12" fill="#44d800"/>
<circle cx="574.3" cy="222.7" r="1.82" fill="#ce00e9"/>
<circle cx="575.2" cy="221.9" r="1.00" fill="#e90008"/>
<circle cx="576.4" cy="225.7" r="2.03" fill="#0046f1"/>
<circle cx="575.4" cy="226.1" r="1.11" fill="#be00f1"/>
<circle cx="574.9" cy="224.1" r="2.12" fill="#001ff5"/>
<circle cx="575.2" cy="223.1" r="1.17" fill="#e900f5"/>
<circle cx="566.8" cy="229.8" r="1.62" fill="#0041ff"/>
<circle cx="566.0" cy="229.0" r="0.89" fill="#d200ff"/>
<circle cx="569.4" cy="227.6" r="1.84" fill="#ff0034"/>
<circle cx="570.1" cy="228.5" r="1.01" fill="#ffe000"/>
<circle cx="569.7" cy="228.0" r="1.92" fill="#f29d00"/>
<circle cx="570.0" cy="229.1" r="1.06" fill="#41f200"/>
<circle cx="568.1" cy="227.2" r="2.19" fill="#f4005b"/>
<circle cx="569.2" cy="227.2" r="1.20" fill="#f4ac00"/>
<circle cx="559.7" cy="222.6" r="1.81" fill="#00da46"/>
<circle cx="560.6" cy="222.0" r="1.00" fill="#0083da"/>
<circle cx="558.6" cy="224.4" r="1.85" fill="#8700df"/>
<circle cx="558.6" cy="223.3" r="1.02" fill="#df0046"/>
<circle cx="560.5" cy="226.4" r="1.74" fill="#dd003f"/>
<circle cx="559.4" cy="226.1" r="0.96" fill="#ddaf00"/>
<circle cx="562.7" cy="214.2" r="1.94" fill="#5800f8"/>
<circle cx="563.4" cy="215.0" r="1.07" fill="#f8008d"/>
<circle cx="559.2" cy="217.1" r="2.14" fill="#00eb7c"/>
<circle cx="558.5" cy="216.2" r="1.18" fill="#005ceb"/>
<circle cx="561.9" cy="215.2" r="1.80" fill="#cc00f7"/>
<circle cx="562.4" cy="216.1" r="0.99" fill="#f70017"/>
<circle cx="569.5" cy="212.5" r="2.00" fill="#00f5a6"/>
<circle cx="568.5" cy="212.0" r="1.10" fill="#003cf5"/>
<circle cx="571.4" cy="211.1" r="1.67" fill="#73ff00"/>
<circle cx="571.7" cy="212.1" r="0.92" fill="#00ffa1"/>
<circle cx="570.8" cy="212.4" r="2.07" fill="#f800ff"/>
<circle cx="569.9" cy="213.1" r="1.14" fill="#ff0d00"/>
<circle cx="570.7" cy="210.3" r="2.04" fill="#e4f100"/>
<circle cx="571.7" cy="210.9" r="1.12" fill="#00f120"/>
<circle cx="577.5" cy="214.8" r="1.84" fill="#dce000"/>
<circle cx="578.4" cy="215.5" r="1.01" fill="#00e016"/>
<circle cx="577.1" cy="217.2" r="1.85" fill="#3500e4"/>
<circle cx="576.3" cy="218.1" r="1.02" fill="#e4009c"/>
<circle cx="577.2" cy="217.4" r="1.85" fill="#00e592"/>
<circle cx="576.4" cy="218.2" r="1.02" fill="#0041e5"/>
</g>
<circle cx="598.6" cy="220.0" r="11.5" fill="#0e0000" filter="url(#bl2)"/>
<g filter="url(#bl06)">
<circle cx="598.6" cy="218.7" r="1.65" fill="#d20000"/>
<circle cx="597.3" cy="220.7" r="1.27" fill="#c50000"/>
<circle cx="598.3" cy="219.3" r="1.49" fill="#ca0000"/>
<circle cx="606.2" cy="223.1" r="1.44" fill="#e70000"/>
<circle cx="607.0" cy="224.8" r="1.57" fill="#fc0000"/>
<circle cx="597.7" cy="229.8" r="1.35" fill="#ff1a00"/>
<circle cx="598.4" cy="231.1" r="1.73" fill="#ff0800"/>
<circle cx="596.3" cy="229.9" r="1.38" fill="#ff1d00"/>
<circle cx="591.0" cy="223.1" r="1.72" fill="#ca0000"/>
<circle cx="591.9" cy="222.4" r="1.79" fill="#cd0000"/>
<circle cx="590.8" cy="216.4" r="1.62" fill="#ff0d00"/>
<circle cx="591.8" cy="215.4" r="1.73" fill="#ef0000"/>
<circle cx="600.4" cy="212.1" r="1.28" fill="#ff2c00"/>
<circle cx="599.6" cy="212.2" r="1.67" fill="#ff2500"/>
<circle cx="604.4" cy="216.8" r="1.70" fill="#e40000"/>
<circle cx="607.3" cy="217.8" r="1.38" fill="#e20000"/>
<circle cx="606.9" cy="214.7" r="1.65" fill="#e40000"/>
</g>
<g filter="url(#bl05)">
<circle cx="598.4" cy="229.2" r="0.93" fill="#ff6e00"/>
<circle cx="598.4" cy="229.2" r="0.5" fill="#ffe890"/>
<circle cx="590.6" cy="215.7" r="1.05" fill="#ffa800"/>
<circle cx="590.6" cy="215.7" r="0.5" fill="#ffe890"/>
</g>
<rect x="523.3" y="236.0" width="89.9" height="17" fill="#d04a4c" stroke="#b9bfd6" stroke-width="0.9"/>
<text x="568.2" y="249.0" font-size="14" text-anchor="middle" fill="#fff" textLength="87.4" lengthAdjust="spacingAndGlyphs">Modes 36-42</text>
<linearGradient id="g2d0" x1="0" x2="1" y1="0" y2="0"><stop offset="0" stop-color="#000"/><stop offset="1" stop-color="#ff004d"/></linearGradient>
<rect x="615.8" y="56.2" width="21" height="2.71" fill="url(#g2d0)"/>
<linearGradient id="g2d1" x1="0" x2="1" y1="0" y2="0"><stop offset="0" stop-color="#000"/><stop offset="1" stop-color="#ff0087"/></linearGradient>
<rect x="615.8" y="58.2" width="21" height="2.71" fill="url(#g2d1)"/>
<linearGradient id="g2d2" x1="0" x2="1" y1="0" y2="0"><stop offset="0" stop-color="#000"/><stop offset="1" stop-color="#ff00c1"/></linearGradient>
<rect x="615.8" y="60.2" width="21" height="2.71" fill="url(#g2d2)"/>
<linearGradient id="g2d3" x1="0" x2="1" y1="0" y2="0"><stop offset="0" stop-color="#000"/><stop offset="1" stop-color="#ff00fb"/></linearGradient>
<rect x="615.8" y="62.2" width="21" height="2.71" fill="url(#g2d3)"/>
<linearGradient id="g2d4" x1="0" x2="1" y1="0" y2="0"><stop offset="0" stop-color="#000"/><stop offset="1" stop-color="#c900ff"/></linearGradient>
<rect x="615.8" y="64.2" width="21" height="2.71" fill="url(#g2d4)"/>
<linearGradient id="g2d5" x1="0" x2="1" y1="0" y2="0"><stop offset="0" stop-color="#000"/><stop offset="1" stop-color="#8f00ff"/></linearGradient>
<rect x="615.8" y="66.3" width="21" height="2.71" fill="url(#g2d5)"/>
<linearGradient id="g2d6" x1="0" x2="1" y1="0" y2="0"><stop offset="0" stop-color="#000"/><stop offset="1" stop-color="#5500ff"/></linearGradient>
<rect x="615.8" y="68.3" width="21" height="2.71" fill="url(#g2d6)"/>
<linearGradient id="g2d7" x1="0" x2="1" y1="0" y2="0"><stop offset="0" stop-color="#000"/><stop offset="1" stop-color="#1b00ff"/></linearGradient>
<rect x="615.8" y="70.3" width="21" height="2.71" fill="url(#g2d7)"/>
<linearGradient id="g2d8" x1="0" x2="1" y1="0" y2="0"><stop offset="0" stop-color="#000"/><stop offset="1" stop-color="#0020ff"/></linearGradient>
<rect x="615.8" y="72.3" width="21" height="2.71" fill="url(#g2d8)"/>
<linearGradient id="g2d9" x1="0" x2="1" y1="0" y2="0"><stop offset="0" stop-color="#000"/><stop offset="1" stop-color="#005aff"/></linearGradient>
<rect x="615.8" y="74.3" width="21" height="2.71" fill="url(#g2d9)"/>
<linearGradient id="g2d10" x1="0" x2="1" y1="0" y2="0"><stop offset="0" stop-color="#000"/><stop offset="1" stop-color="#0094ff"/></linearGradient>
<rect x="615.8" y="76.3" width="21" height="2.71" fill="url(#g2d10)"/>
<linearGradient id="g2d11" x1="0" x2="1" y1="0" y2="0"><stop offset="0" stop-color="#000"/><stop offset="1" stop-color="#00ceff"/></linearGradient>
<rect x="615.8" y="78.3" width="21" height="2.71" fill="url(#g2d11)"/>
<linearGradient id="g2d12" x1="0" x2="1" y1="0" y2="0"><stop offset="0" stop-color="#000"/><stop offset="1" stop-color="#00fff6"/></linearGradient>
<rect x="615.8" y="80.3" width="21" height="2.71" fill="url(#g2d12)"/>
<linearGradient id="g2d13" x1="0" x2="1" y1="0" y2="0"><stop offset="0" stop-color="#000"/><stop offset="1" stop-color="#00ffbc"/></linearGradient>
<rect x="615.8" y="82.3" width="21" height="2.71" fill="url(#g2d13)"/>
<linearGradient id="g2d14" x1="0" x2="1" y1="0" y2="0"><stop offset="0" stop-color="#000"/><stop offset="1" stop-color="#00ff82"/></linearGradient>
<rect x="615.8" y="84.4" width="21" height="2.71" fill="url(#g2d14)"/>
<linearGradient id="g2d15" x1="0" x2="1" y1="0" y2="0"><stop offset="0" stop-color="#000"/><stop offset="1" stop-color="#00ff47"/></linearGradient>
<rect x="615.8" y="86.4" width="21" height="2.71" fill="url(#g2d15)"/>
<linearGradient id="g2d16" x1="0" x2="1" y1="0" y2="0"><stop offset="0" stop-color="#000"/><stop offset="1" stop-color="#00ff0d"/></linearGradient>
<rect x="615.8" y="88.4" width="21" height="2.71" fill="url(#g2d16)"/>
<linearGradient id="g2d17" x1="0" x2="1" y1="0" y2="0"><stop offset="0" stop-color="#000"/><stop offset="1" stop-color="#2dff00"/></linearGradient>
<rect x="615.8" y="90.4" width="21" height="2.71" fill="url(#g2d17)"/>
<linearGradient id="g2d18" x1="0" x2="1" y1="0" y2="0"><stop offset="0" stop-color="#000"/><stop offset="1" stop-color="#67ff00"/></linearGradient>
<rect x="615.8" y="92.4" width="21" height="2.71" fill="url(#g2d18)"/>
<linearGradient id="g2d19" x1="0" x2="1" y1="0" y2="0"><stop offset="0" stop-color="#000"/><stop offset="1" stop-color="#a1ff00"/></linearGradient>
<rect x="615.8" y="94.4" width="21" height="2.71" fill="url(#g2d19)"/>
<linearGradient id="g2d20" x1="0" x2="1" y1="0" y2="0"><stop offset="0" stop-color="#000"/><stop offset="1" stop-color="#dbff00"/></linearGradient>
<rect x="615.8" y="96.4" width="21" height="2.71" fill="url(#g2d20)"/>
<linearGradient id="g2d21" x1="0" x2="1" y1="0" y2="0"><stop offset="0" stop-color="#000"/><stop offset="1" stop-color="#ffe900"/></linearGradient>
<rect x="615.8" y="98.4" width="21" height="2.71" fill="url(#g2d21)"/>
<linearGradient id="g2d22" x1="0" x2="1" y1="0" y2="0"><stop offset="0" stop-color="#000"/><stop offset="1" stop-color="#ffae00"/></linearGradient>
<rect x="615.8" y="100.5" width="21" height="2.71" fill="url(#g2d22)"/>
<linearGradient id="g2d23" x1="0" x2="1" y1="0" y2="0"><stop offset="0" stop-color="#000"/><stop offset="1" stop-color="#ff7400"/></linearGradient>
<rect x="615.8" y="102.5" width="21" height="2.71" fill="url(#g2d23)"/>
<linearGradient id="g2d24" x1="0" x2="1" y1="0" y2="0"><stop offset="0" stop-color="#000"/><stop offset="1" stop-color="#ff3a00"/></linearGradient>
<rect x="615.8" y="104.5" width="21" height="2.71" fill="url(#g2d24)"/>
<linearGradient id="g2d25" x1="0" x2="1" y1="0" y2="0"><stop offset="0" stop-color="#000"/><stop offset="1" stop-color="#ff0000"/></linearGradient>
<rect x="615.8" y="106.5" width="21" height="2.01" fill="url(#g2d25)"/>
<text x="640" y="58.5" font-size="4.5" fill="#222">π</text>
<text x="640" y="84" font-size="4.5" fill="#222">0</text>
<text x="639" y="110" font-size="4.5" fill="#222">-π</text>
<text transform="translate(647.0,82.4) rotate(-90)" font-size="4.5" text-anchor="middle" fill="#222">Phase</text>
<text x="614.5" y="114" font-size="4.5" fill="#222">0</text><text x="635.5" y="114" font-size="4.5" fill="#222">1</text>
<text x="626" y="119.5" font-size="4.5" text-anchor="middle" fill="#222">Amplitude</text>
<linearGradient id="ghot" x1="0" x2="0" y1="1" y2="0">
<stop offset="0.0" stop-color="#0b0000"/>
<stop offset="0.1" stop-color="#4c0000"/>
<stop offset="0.2" stop-color="#8e0000"/>
<stop offset="0.3" stop-color="#cf0000"/>
<stop offset="0.4" stop-color="#ff1200"/>
<stop offset="0.5" stop-color="#ff5400"/>
<stop offset="0.6" stop-color="#ff9500"/>
<stop offset="0.7" stop-color="#ffd700"/>
<stop offset="0.8" stop-color="#ffff26"/>
<stop offset="0.9" stop-color="#ffff89"/>
<stop offset="1.0" stop-color="#ffffeb"/>
</linearGradient>
<rect x="620.2" y="126" width="10" height="70" fill="url(#ghot)" stroke="#111" stroke-width="0.6"/>
<line x1="630.2" x2="632" y1="185.4" y2="185.4" stroke="#222" stroke-width="0.4"/>
<text x="633" y="186.9" font-size="4.2" fill="#222">1</text>
<line x1="630.2" x2="632" y1="174.8" y2="174.8" stroke="#222" stroke-width="0.4"/>
<text x="633" y="176.3" font-size="4.2" fill="#222">2</text>
<line x1="630.2" x2="632" y1="164.2" y2="164.2" stroke="#222" stroke-width="0.4"/>
<text x="633" y="165.7" font-size="4.2" fill="#222">3</text>
<line x1="630.2" x2="632" y1="153.6" y2="153.6" stroke="#222" stroke-width="0.4"/>
<text x="633" y="155.1" font-size="4.2" fill="#222">4</text>
<line x1="630.2" x2="632" y1="143.0" y2="143.0" stroke="#222" stroke-width="0.4"/>
<text x="633" y="144.5" font-size="4.2" fill="#222">5</text>
<line x1="630.2" x2="632" y1="132.4" y2="132.4" stroke="#222" stroke-width="0.4"/>
<text x="633" y="133.9" font-size="4.2" fill="#222">6</text>
<text transform="translate(643.2,161) rotate(-90)" font-size="8" text-anchor="middle" fill="#111">Normalized power</text>
<text x="19.4" y="278.7" font-size="16.6">b)</text>
<text x="159.2" y="278.4" font-size="8.3" font-weight="bold" text-anchor="middle" textLength="81.3" lengthAdjust="spacingAndGlyphs">6-mode waveguides</text>
<text transform="translate(28.7,392.3) rotate(-90)" font-size="8.3" font-weight="bold" text-anchor="middle" textLength="86.5" lengthAdjust="spacingAndGlyphs">42-mode waveguide</text>
<path d="M40.70 288.7h5.35v5.01h-5.35zM174.33 288.7h5.35v5.01h-5.35zM158.30 293.7h5.35v5.01h-5.35zM78.12 298.7h5.35v5.01h-5.35zM142.26 298.7h5.35v5.01h-5.35zM147.60 298.7h5.35v5.01h-5.35zM227.78 308.8h5.35v5.01h-5.35zM78.12 313.8h5.35v5.01h-5.35zM211.75 313.8h5.35v5.01h-5.35zM243.82 313.8h5.35v5.01h-5.35zM115.53 318.8h5.35v5.01h-5.35zM40.70 323.8h5.35v5.01h-5.35zM51.39 323.8h5.35v5.01h-5.35zM78.12 323.8h5.35v5.01h-5.35zM88.81 323.8h5.35v5.01h-5.35zM142.26 323.8h5.35v5.01h-5.35zM249.16 323.8h5.35v5.01h-5.35zM233.13 328.8h5.35v5.01h-5.35zM62.08 333.8h5.35v5.01h-5.35zM94.15 333.8h5.35v5.01h-5.35zM238.47 333.8h5.35v5.01h-5.35zM249.16 333.8h5.35v5.01h-5.35zM46.05 338.8h5.35v5.01h-5.35zM62.08 338.8h5.35v5.01h-5.35zM94.15 338.8h5.35v5.01h-5.35zM110.19 338.8h5.35v5.01h-5.35zM40.70 343.8h5.35v5.01h-5.35zM46.05 343.8h5.35v5.01h-5.35zM78.12 348.8h5.35v5.01h-5.35zM104.84 353.9h5.35v5.01h-5.35zM126.22 353.9h5.35v5.01h-5.35zM243.82 353.9h5.35v5.01h-5.35zM163.64 358.9h5.35v5.01h-5.35zM185.02 358.9h5.35v5.01h-5.35zM249.16 358.9h5.35v5.01h-5.35zM254.51 358.9h5.35v5.01h-5.35zM179.68 363.9h5.35v5.01h-5.35zM259.85 363.9h5.35v5.01h-5.35zM131.57 373.9h5.35v5.01h-5.35zM152.95 373.9h5.35v5.01h-5.35zM233.13 373.9h5.35v5.01h-5.35zM243.82 373.9h5.35v5.01h-5.35zM152.95 383.9h5.35v5.01h-5.35zM217.09 383.9h5.35v5.01h-5.35zM40.70 388.9h5.35v5.01h-5.35zM131.57 388.9h5.35v5.01h-5.35zM136.91 388.9h5.35v5.01h-5.35zM115.53 393.9h5.35v5.01h-5.35zM126.22 393.9h5.35v5.01h-5.35zM243.82 399.0h5.35v5.01h-5.35zM254.51 399.0h5.35v5.01h-5.35zM67.43 404.0h5.35v5.01h-5.35zM40.70 409.0h5.35v5.01h-5.35zM190.37 409.0h5.35v5.01h-5.35zM206.40 409.0h5.35v5.01h-5.35zM40.70 414.0h5.35v5.01h-5.35zM120.88 414.0h5.35v5.01h-5.35zM152.95 414.0h5.35v5.01h-5.35zM163.64 414.0h5.35v5.01h-5.35zM259.85 414.0h5.35v5.01h-5.35zM195.71 419.0h5.35v5.01h-5.35zM56.74 424.0h5.35v5.01h-5.35zM110.19 429.0h5.35v5.01h-5.35zM168.99 439.1h5.35v5.01h-5.35zM206.40 439.1h5.35v5.01h-5.35zM238.47 439.1h5.35v5.01h-5.35zM99.50 444.1h5.35v5.01h-5.35zM222.44 444.1h5.35v5.01h-5.35zM233.13 444.1h5.35v5.01h-5.35zM99.50 449.1h5.35v5.01h-5.35zM190.37 449.1h5.35v5.01h-5.35zM190.37 454.1h5.35v5.01h-5.35zM195.71 454.1h5.35v5.01h-5.35zM227.78 454.1h5.35v5.01h-5.35zM185.02 459.1h5.35v5.01h-5.35zM46.05 464.1h5.35v5.01h-5.35zM62.08 469.1h5.35v5.01h-5.35zM174.33 469.1h5.35v5.01h-5.35zM201.06 469.1h5.35v5.01h-5.35zM259.85 469.1h5.35v5.01h-5.35zM67.43 474.1h5.35v5.01h-5.35zM254.51 474.1h5.35v5.01h-5.35zM62.08 479.1h5.35v5.01h-5.35zM46.05 484.2h5.35v5.01h-5.35zM99.50 484.2h5.35v5.01h-5.35zM104.84 494.2h5.35v5.01h-5.35zM238.47 494.2h5.35v5.01h-5.35z" fill="#9c179e" shape-rendering="crispEdges"/>
<path d="M46.05 288.7h5.35v5.01h-5.35zM99.50 288.7h5.35v5.01h-5.35zM190.37 288.7h5.35v5.01h-5.35zM62.08 293.7h5.35v5.01h-5.35zM104.84 293.7h5.35v5.01h-5.35zM206.40 293.7h5.35v5.01h-5.35zM217.09 293.7h5.35v5.01h-5.35zM104.84 303.7h5.35v5.01h-5.35zM185.02 303.7h5.35v5.01h-5.35zM238.47 308.8h5.35v5.01h-5.35zM158.30 313.8h5.35v5.01h-5.35zM179.68 313.8h5.35v5.01h-5.35zM222.44 313.8h5.35v5.01h-5.35zM126.22 318.8h5.35v5.01h-5.35zM190.37 318.8h5.35v5.01h-5.35zM195.71 318.8h5.35v5.01h-5.35zM211.75 318.8h5.35v5.01h-5.35zM217.09 318.8h5.35v5.01h-5.35zM227.78 318.8h5.35v5.01h-5.35zM259.85 323.8h5.35v5.01h-5.35zM88.81 328.8h5.35v5.01h-5.35zM115.53 328.8h5.35v5.01h-5.35zM190.37 328.8h5.35v5.01h-5.35zM259.85 328.8h5.35v5.01h-5.35zM147.60 333.8h5.35v5.01h-5.35zM136.91 338.8h5.35v5.01h-5.35zM217.09 338.8h5.35v5.01h-5.35zM249.16 343.8h5.35v5.01h-5.35zM147.60 353.9h5.35v5.01h-5.35zM206.40 353.9h5.35v5.01h-5.35zM83.46 363.9h5.35v5.01h-5.35zM174.33 363.9h5.35v5.01h-5.35zM163.64 368.9h5.35v5.01h-5.35zM62.08 378.9h5.35v5.01h-5.35zM185.02 378.9h5.35v5.01h-5.35zM67.43 388.9h5.35v5.01h-5.35zM88.81 388.9h5.35v5.01h-5.35zM190.37 388.9h5.35v5.01h-5.35zM254.51 388.9h5.35v5.01h-5.35zM195.71 393.9h5.35v5.01h-5.35zM88.81 399.0h5.35v5.01h-5.35zM99.50 399.0h5.35v5.01h-5.35zM195.71 399.0h5.35v5.01h-5.35zM83.46 404.0h5.35v5.01h-5.35zM233.13 404.0h5.35v5.01h-5.35zM136.91 409.0h5.35v5.01h-5.35zM88.81 419.0h5.35v5.01h-5.35zM46.05 424.0h5.35v5.01h-5.35zM147.60 429.0h5.35v5.01h-5.35zM56.74 434.1h5.35v5.01h-5.35zM147.60 434.1h5.35v5.01h-5.35zM88.81 439.1h5.35v5.01h-5.35zM131.57 439.1h5.35v5.01h-5.35zM217.09 439.1h5.35v5.01h-5.35zM110.19 444.1h5.35v5.01h-5.35zM185.02 444.1h5.35v5.01h-5.35zM94.15 449.1h5.35v5.01h-5.35zM110.19 449.1h5.35v5.01h-5.35zM174.33 449.1h5.35v5.01h-5.35zM206.40 449.1h5.35v5.01h-5.35zM158.30 454.1h5.35v5.01h-5.35zM179.68 459.1h5.35v5.01h-5.35zM136.91 464.1h5.35v5.01h-5.35zM120.88 469.1h5.35v5.01h-5.35zM217.09 469.1h5.35v5.01h-5.35zM174.33 474.1h5.35v5.01h-5.35zM249.16 479.1h5.35v5.01h-5.35zM104.84 484.2h5.35v5.01h-5.35zM158.30 484.2h5.35v5.01h-5.35zM179.68 489.2h5.35v5.01h-5.35zM67.43 494.2h5.35v5.01h-5.35z" fill="#c13b82" shape-rendering="crispEdges"/>
<path d="M51.39 288.7h5.35v5.01h-5.35zM201.06 293.7h5.35v5.01h-5.35zM126.22 298.7h5.35v5.01h-5.35zM179.68 298.7h5.35v5.01h-5.35zM249.16 298.7h5.35v5.01h-5.35zM83.46 303.7h5.35v5.01h-5.35zM131.57 303.7h5.35v5.01h-5.35zM201.06 303.7h5.35v5.01h-5.35zM78.12 308.8h5.35v5.01h-5.35zM233.13 308.8h5.35v5.01h-5.35zM62.08 313.8h5.35v5.01h-5.35zM142.26 318.8h5.35v5.01h-5.35zM174.33 318.8h5.35v5.01h-5.35zM94.15 323.8h5.35v5.01h-5.35zM110.19 323.8h5.35v5.01h-5.35zM201.06 323.8h5.35v5.01h-5.35zM243.82 323.8h5.35v5.01h-5.35zM51.39 328.8h5.35v5.01h-5.35zM126.22 328.8h5.35v5.01h-5.35zM211.75 328.8h5.35v5.01h-5.35zM217.09 328.8h5.35v5.01h-5.35zM40.70 333.8h5.35v5.01h-5.35zM99.50 338.8h5.35v5.01h-5.35zM99.50 343.8h5.35v5.01h-5.35zM179.68 343.8h5.35v5.01h-5.35zM168.99 348.8h5.35v5.01h-5.35zM222.44 348.8h5.35v5.01h-5.35zM131.57 353.9h5.35v5.01h-5.35zM62.08 358.9h5.35v5.01h-5.35zM120.88 358.9h5.35v5.01h-5.35zM131.57 358.9h5.35v5.01h-5.35zM222.44 358.9h5.35v5.01h-5.35zM99.50 363.9h5.35v5.01h-5.35zM115.53 363.9h5.35v5.01h-5.35zM206.40 363.9h5.35v5.01h-5.35zM227.78 363.9h5.35v5.01h-5.35zM40.70 368.9h5.35v5.01h-5.35zM190.37 368.9h5.35v5.01h-5.35zM254.51 368.9h5.35v5.01h-5.35zM179.68 373.9h5.35v5.01h-5.35zM211.75 373.9h5.35v5.01h-5.35zM211.75 378.9h5.35v5.01h-5.35zM254.51 378.9h5.35v5.01h-5.35zM142.26 383.9h5.35v5.01h-5.35zM78.12 388.9h5.35v5.01h-5.35zM94.15 388.9h5.35v5.01h-5.35zM174.33 388.9h5.35v5.01h-5.35zM179.68 388.9h5.35v5.01h-5.35zM211.75 388.9h5.35v5.01h-5.35zM254.51 393.9h5.35v5.01h-5.35zM142.26 399.0h5.35v5.01h-5.35zM185.02 399.0h5.35v5.01h-5.35zM249.16 399.0h5.35v5.01h-5.35zM62.08 404.0h5.35v5.01h-5.35zM238.47 404.0h5.35v5.01h-5.35zM110.19 414.0h5.35v5.01h-5.35zM147.60 424.0h5.35v5.01h-5.35zM152.95 424.0h5.35v5.01h-5.35zM56.74 429.0h5.35v5.01h-5.35zM62.08 434.1h5.35v5.01h-5.35zM158.30 434.1h5.35v5.01h-5.35zM56.74 439.1h5.35v5.01h-5.35zM131.57 444.1h5.35v5.01h-5.35zM158.30 444.1h5.35v5.01h-5.35zM83.46 449.1h5.35v5.01h-5.35zM115.53 454.1h5.35v5.01h-5.35zM211.75 454.1h5.35v5.01h-5.35zM249.16 454.1h5.35v5.01h-5.35zM259.85 454.1h5.35v5.01h-5.35zM72.77 459.1h5.35v5.01h-5.35zM152.95 459.1h5.35v5.01h-5.35zM238.47 459.1h5.35v5.01h-5.35zM254.51 459.1h5.35v5.01h-5.35zM62.08 464.1h5.35v5.01h-5.35zM99.50 464.1h5.35v5.01h-5.35zM227.78 464.1h5.35v5.01h-5.35zM110.19 469.1h5.35v5.01h-5.35zM227.78 469.1h5.35v5.01h-5.35zM126.22 474.1h5.35v5.01h-5.35zM249.16 474.1h5.35v5.01h-5.35zM115.53 479.1h5.35v5.01h-5.35zM158.30 479.1h5.35v5.01h-5.35zM211.75 479.1h5.35v5.01h-5.35zM51.39 489.2h5.35v5.01h-5.35zM243.82 489.2h5.35v5.01h-5.35zM94.15 494.2h5.35v5.01h-5.35zM120.88 494.2h5.35v5.01h-5.35zM227.78 494.2h5.35v5.01h-5.35z" fill="#b02991" shape-rendering="crispEdges"/>
<path d="M56.74 288.7h5.35v5.01h-5.35zM120.88 288.7h5.35v5.01h-5.35zM147.60 303.7h5.35v5.01h-5.35zM254.51 308.8h5.35v5.01h-5.35zM104.84 313.8h5.35v5.01h-5.35zM51.39 318.8h5.35v5.01h-5.35zM136.91 323.8h5.35v5.01h-5.35zM56.74 328.8h5.35v5.01h-5.35zM94.15 328.8h5.35v5.01h-5.35zM233.13 333.8h5.35v5.01h-5.35zM147.60 343.8h5.35v5.01h-5.35zM99.50 348.8h5.35v5.01h-5.35zM185.02 348.8h5.35v5.01h-5.35zM190.37 348.8h5.35v5.01h-5.35zM227.78 353.9h5.35v5.01h-5.35zM254.51 353.9h5.35v5.01h-5.35zM238.47 358.9h5.35v5.01h-5.35zM46.05 363.9h5.35v5.01h-5.35zM254.51 363.9h5.35v5.01h-5.35zM195.71 368.9h5.35v5.01h-5.35zM131.57 383.9h5.35v5.01h-5.35zM104.84 388.9h5.35v5.01h-5.35zM158.30 393.9h5.35v5.01h-5.35zM217.09 393.9h5.35v5.01h-5.35zM83.46 399.0h5.35v5.01h-5.35zM88.81 404.0h5.35v5.01h-5.35zM217.09 404.0h5.35v5.01h-5.35zM126.22 414.0h5.35v5.01h-5.35zM126.22 419.0h5.35v5.01h-5.35zM179.68 419.0h5.35v5.01h-5.35zM238.47 424.0h5.35v5.01h-5.35zM259.85 424.0h5.35v5.01h-5.35zM88.81 434.1h5.35v5.01h-5.35zM168.99 434.1h5.35v5.01h-5.35zM190.37 439.1h5.35v5.01h-5.35zM233.13 469.1h5.35v5.01h-5.35zM168.99 474.1h5.35v5.01h-5.35zM206.40 479.1h5.35v5.01h-5.35zM233.13 479.1h5.35v5.01h-5.35zM56.74 484.2h5.35v5.01h-5.35zM211.75 484.2h5.35v5.01h-5.35zM78.12 494.2h5.35v5.01h-5.35z" fill="#2a0593" shape-rendering="crispEdges"/>
<path d="M62.08 288.7h5.35v5.01h-5.35zM126.22 308.8h5.35v5.01h-5.35zM131.57 308.8h5.35v5.01h-5.35zM233.13 313.8h5.35v5.01h-5.35zM40.70 404.0h5.35v5.01h-5.35zM158.30 414.0h5.35v5.01h-5.35zM104.84 424.0h5.35v5.01h-5.35zM206.40 429.0h5.35v5.01h-5.35zM211.75 439.1h5.35v5.01h-5.35zM243.82 439.1h5.35v5.01h-5.35zM174.33 464.1h5.35v5.01h-5.35zM201.06 484.2h5.35v5.01h-5.35z" fill="#0d0887" shape-rendering="crispEdges"/>
<path d="M67.43 288.7h5.35v5.01h-5.35zM99.50 293.7h5.35v5.01h-5.35zM115.53 293.7h5.35v5.01h-5.35zM88.81 298.7h5.35v5.01h-5.35zM72.77 308.8h5.35v5.01h-5.35zM190.37 313.8h5.35v5.01h-5.35zM136.91 318.8h5.35v5.01h-5.35zM243.82 333.8h5.35v5.01h-5.35zM259.85 333.8h5.35v5.01h-5.35zM72.77 353.9h5.35v5.01h-5.35zM211.75 353.9h5.35v5.01h-5.35zM83.46 358.9h5.35v5.01h-5.35zM190.37 358.9h5.35v5.01h-5.35zM147.60 363.9h5.35v5.01h-5.35zM62.08 388.9h5.35v5.01h-5.35zM126.22 404.0h5.35v5.01h-5.35zM227.78 404.0h5.35v5.01h-5.35zM243.82 404.0h5.35v5.01h-5.35zM94.15 409.0h5.35v5.01h-5.35zM40.70 429.0h5.35v5.01h-5.35zM238.47 429.0h5.35v5.01h-5.35zM254.51 449.1h5.35v5.01h-5.35zM126.22 454.1h5.35v5.01h-5.35z" fill="#220690" shape-rendering="crispEdges"/>
<path d="M72.77 288.7h5.35v5.01h-5.35zM110.19 298.7h5.35v5.01h-5.35zM254.51 298.7h5.35v5.01h-5.35zM136.91 303.7h5.35v5.01h-5.35zM40.70 308.8h5.35v5.01h-5.35zM83.46 333.8h5.35v5.01h-5.35zM115.53 358.9h5.35v5.01h-5.35zM67.43 368.9h5.35v5.01h-5.35zM179.68 378.9h5.35v5.01h-5.35zM206.40 388.9h5.35v5.01h-5.35zM104.84 399.0h5.35v5.01h-5.35zM163.64 409.0h5.35v5.01h-5.35zM168.99 414.0h5.35v5.01h-5.35zM40.70 419.0h5.35v5.01h-5.35zM190.37 434.1h5.35v5.01h-5.35zM62.08 444.1h5.35v5.01h-5.35zM78.12 474.1h5.35v5.01h-5.35zM190.37 474.1h5.35v5.01h-5.35zM185.02 489.2h5.35v5.01h-5.35zM62.08 494.2h5.35v5.01h-5.35z" fill="#de6164" shape-rendering="crispEdges"/>
<path d="M78.12 288.7h5.35v5.01h-5.35zM126.22 288.7h5.35v5.01h-5.35zM83.46 293.7h5.35v5.01h-5.35zM179.68 293.7h5.35v5.01h-5.35zM195.71 293.7h5.35v5.01h-5.35zM115.53 298.7h5.35v5.01h-5.35zM195.71 298.7h5.35v5.01h-5.35zM217.09 298.7h5.35v5.01h-5.35zM88.81 313.8h5.35v5.01h-5.35zM195.71 313.8h5.35v5.01h-5.35zM249.16 313.8h5.35v5.01h-5.35zM190.37 323.8h5.35v5.01h-5.35zM233.13 323.8h5.35v5.01h-5.35zM67.43 338.8h5.35v5.01h-5.35zM115.53 353.9h5.35v5.01h-5.35zM195.71 353.9h5.35v5.01h-5.35zM238.47 353.9h5.35v5.01h-5.35zM163.64 363.9h5.35v5.01h-5.35zM83.46 368.9h5.35v5.01h-5.35zM185.02 383.9h5.35v5.01h-5.35zM238.47 383.9h5.35v5.01h-5.35zM249.16 383.9h5.35v5.01h-5.35zM227.78 388.9h5.35v5.01h-5.35zM40.70 393.9h5.35v5.01h-5.35zM40.70 399.0h5.35v5.01h-5.35zM56.74 399.0h5.35v5.01h-5.35zM185.02 409.0h5.35v5.01h-5.35zM115.53 414.0h5.35v5.01h-5.35zM62.08 419.0h5.35v5.01h-5.35zM163.64 419.0h5.35v5.01h-5.35zM185.02 419.0h5.35v5.01h-5.35zM72.77 424.0h5.35v5.01h-5.35zM142.26 434.1h5.35v5.01h-5.35zM72.77 439.1h5.35v5.01h-5.35zM163.64 444.1h5.35v5.01h-5.35zM243.82 444.1h5.35v5.01h-5.35zM67.43 449.1h5.35v5.01h-5.35zM131.57 449.1h5.35v5.01h-5.35zM243.82 449.1h5.35v5.01h-5.35zM206.40 464.1h5.35v5.01h-5.35zM115.53 469.1h5.35v5.01h-5.35zM131.57 479.1h5.35v5.01h-5.35zM78.12 484.2h5.35v5.01h-5.35zM56.74 494.2h5.35v5.01h-5.35z" fill="#d14e72" shape-rendering="crispEdges"/>
<path d="M83.46 288.7h5.35v5.01h-5.35zM67.43 303.7h5.35v5.01h-5.35zM147.60 308.8h5.35v5.01h-5.35zM147.60 313.8h5.35v5.01h-5.35zM152.95 313.8h5.35v5.01h-5.35zM56.74 383.9h5.35v5.01h-5.35zM131.57 393.9h5.35v5.01h-5.35zM142.26 404.0h5.35v5.01h-5.35zM72.77 409.0h5.35v5.01h-5.35zM67.43 419.0h5.35v5.01h-5.35zM163.64 439.1h5.35v5.01h-5.35zM40.70 464.1h5.35v5.01h-5.35zM195.71 469.1h5.35v5.01h-5.35zM190.37 479.1h5.35v5.01h-5.35zM62.08 484.2h5.35v5.01h-5.35zM147.60 494.2h5.35v5.01h-5.35zM254.51 494.2h5.35v5.01h-5.35z" fill="#6600a7" shape-rendering="crispEdges"/>
<path d="M88.81 288.7h5.35v5.01h-5.35zM131.57 288.7h5.35v5.01h-5.35zM217.09 313.8h5.35v5.01h-5.35zM83.46 318.8h5.35v5.01h-5.35zM163.64 323.8h5.35v5.01h-5.35zM78.12 328.8h5.35v5.01h-5.35zM78.12 333.8h5.35v5.01h-5.35zM158.30 338.8h5.35v5.01h-5.35zM211.75 338.8h5.35v5.01h-5.35zM142.26 343.8h5.35v5.01h-5.35zM147.60 373.9h5.35v5.01h-5.35zM163.64 378.9h5.35v5.01h-5.35zM233.13 388.9h5.35v5.01h-5.35zM217.09 399.0h5.35v5.01h-5.35zM120.88 404.0h5.35v5.01h-5.35zM185.02 404.0h5.35v5.01h-5.35zM259.85 404.0h5.35v5.01h-5.35zM110.19 409.0h5.35v5.01h-5.35zM51.39 414.0h5.35v5.01h-5.35zM136.91 429.0h5.35v5.01h-5.35zM142.26 429.0h5.35v5.01h-5.35zM174.33 429.0h5.35v5.01h-5.35zM136.91 439.1h5.35v5.01h-5.35zM259.85 439.1h5.35v5.01h-5.35zM104.84 464.1h5.35v5.01h-5.35zM238.47 464.1h5.35v5.01h-5.35zM142.26 469.1h5.35v5.01h-5.35zM94.15 484.2h5.35v5.01h-5.35zM259.85 494.2h5.35v5.01h-5.35z" fill="#19068c" shape-rendering="crispEdges"/>
<path d="M94.15 288.7h5.35v5.01h-5.35zM104.84 288.7h5.35v5.01h-5.35zM206.40 288.7h5.35v5.01h-5.35zM46.05 293.7h5.35v5.01h-5.35zM126.22 293.7h5.35v5.01h-5.35zM147.60 293.7h5.35v5.01h-5.35zM259.85 293.7h5.35v5.01h-5.35zM83.46 298.7h5.35v5.01h-5.35zM131.57 298.7h5.35v5.01h-5.35zM142.26 308.8h5.35v5.01h-5.35zM99.50 323.8h5.35v5.01h-5.35zM254.51 323.8h5.35v5.01h-5.35zM67.43 328.8h5.35v5.01h-5.35zM104.84 328.8h5.35v5.01h-5.35zM174.33 328.8h5.35v5.01h-5.35zM243.82 328.8h5.35v5.01h-5.35zM227.78 333.8h5.35v5.01h-5.35zM78.12 338.8h5.35v5.01h-5.35zM152.95 338.8h5.35v5.01h-5.35zM243.82 338.8h5.35v5.01h-5.35zM67.43 343.8h5.35v5.01h-5.35zM152.95 343.8h5.35v5.01h-5.35zM163.64 343.8h5.35v5.01h-5.35zM227.78 343.8h5.35v5.01h-5.35zM46.05 348.8h5.35v5.01h-5.35zM110.19 348.8h5.35v5.01h-5.35zM131.57 348.8h5.35v5.01h-5.35zM179.68 348.8h5.35v5.01h-5.35zM211.75 348.8h5.35v5.01h-5.35zM259.85 348.8h5.35v5.01h-5.35zM51.39 353.9h5.35v5.01h-5.35zM62.08 353.9h5.35v5.01h-5.35zM94.15 353.9h5.35v5.01h-5.35zM142.26 353.9h5.35v5.01h-5.35zM168.99 353.9h5.35v5.01h-5.35zM78.12 363.9h5.35v5.01h-5.35zM217.09 363.9h5.35v5.01h-5.35zM233.13 363.9h5.35v5.01h-5.35zM206.40 368.9h5.35v5.01h-5.35zM249.16 368.9h5.35v5.01h-5.35zM201.06 373.9h5.35v5.01h-5.35zM83.46 378.9h5.35v5.01h-5.35zM94.15 378.9h5.35v5.01h-5.35zM174.33 378.9h5.35v5.01h-5.35zM62.08 383.9h5.35v5.01h-5.35zM259.85 383.9h5.35v5.01h-5.35zM72.77 388.9h5.35v5.01h-5.35zM120.88 388.9h5.35v5.01h-5.35zM195.71 388.9h5.35v5.01h-5.35zM152.95 393.9h5.35v5.01h-5.35zM179.68 393.9h5.35v5.01h-5.35zM227.78 393.9h5.35v5.01h-5.35zM243.82 393.9h5.35v5.01h-5.35zM120.88 399.0h5.35v5.01h-5.35zM136.91 399.0h5.35v5.01h-5.35zM179.68 399.0h5.35v5.01h-5.35zM46.05 404.0h5.35v5.01h-5.35zM56.74 404.0h5.35v5.01h-5.35zM104.84 404.0h5.35v5.01h-5.35zM147.60 404.0h5.35v5.01h-5.35zM83.46 409.0h5.35v5.01h-5.35zM99.50 409.0h5.35v5.01h-5.35zM126.22 409.0h5.35v5.01h-5.35zM217.09 409.0h5.35v5.01h-5.35zM56.74 419.0h5.35v5.01h-5.35zM99.50 419.0h5.35v5.01h-5.35zM131.57 419.0h5.35v5.01h-5.35zM206.40 419.0h5.35v5.01h-5.35zM115.53 424.0h5.35v5.01h-5.35zM131.57 424.0h5.35v5.01h-5.35zM158.30 424.0h5.35v5.01h-5.35zM62.08 429.0h5.35v5.01h-5.35zM254.51 429.0h5.35v5.01h-5.35zM126.22 434.1h5.35v5.01h-5.35zM152.95 434.1h5.35v5.01h-5.35zM238.47 434.1h5.35v5.01h-5.35zM222.44 439.1h5.35v5.01h-5.35zM51.39 444.1h5.35v5.01h-5.35zM120.88 444.1h5.35v5.01h-5.35zM195.71 449.1h5.35v5.01h-5.35zM211.75 449.1h5.35v5.01h-5.35zM67.43 454.1h5.35v5.01h-5.35zM72.77 454.1h5.35v5.01h-5.35zM179.68 454.1h5.35v5.01h-5.35zM99.50 459.1h5.35v5.01h-5.35zM131.57 459.1h5.35v5.01h-5.35zM158.30 459.1h5.35v5.01h-5.35zM211.75 464.1h5.35v5.01h-5.35zM67.43 469.1h5.35v5.01h-5.35zM185.02 469.1h5.35v5.01h-5.35zM190.37 469.1h5.35v5.01h-5.35zM211.75 469.1h5.35v5.01h-5.35zM62.08 474.1h5.35v5.01h-5.35zM142.26 474.1h5.35v5.01h-5.35zM259.85 474.1h5.35v5.01h-5.35zM179.68 479.1h5.35v5.01h-5.35zM217.09 484.2h5.35v5.01h-5.35zM254.51 484.2h5.35v5.01h-5.35zM40.70 489.2h5.35v5.01h-5.35zM62.08 489.2h5.35v5.01h-5.35zM67.43 489.2h5.35v5.01h-5.35zM136.91 489.2h5.35v5.01h-5.35zM168.99 489.2h5.35v5.01h-5.35zM168.99 494.2h5.35v5.01h-5.35zM195.71 494.2h5.35v5.01h-5.35z" fill="#ab2494" shape-rendering="crispEdges"/>
<path d="M110.19 288.7h5.35v5.01h-5.35zM174.33 293.7h5.35v5.01h-5.35zM40.70 298.7h5.35v5.01h-5.35zM163.64 298.7h5.35v5.01h-5.35zM46.05 303.7h5.35v5.01h-5.35zM142.26 303.7h5.35v5.01h-5.35zM72.77 318.8h5.35v5.01h-5.35zM185.02 323.8h5.35v5.01h-5.35zM131.57 328.8h5.35v5.01h-5.35zM227.78 328.8h5.35v5.01h-5.35zM249.16 338.8h5.35v5.01h-5.35zM185.02 343.8h5.35v5.01h-5.35zM222.44 353.9h5.35v5.01h-5.35zM211.75 363.9h5.35v5.01h-5.35zM142.26 373.9h5.35v5.01h-5.35zM115.53 378.9h5.35v5.01h-5.35zM126.22 378.9h5.35v5.01h-5.35zM142.26 378.9h5.35v5.01h-5.35zM201.06 383.9h5.35v5.01h-5.35zM72.77 393.9h5.35v5.01h-5.35zM46.05 409.0h5.35v5.01h-5.35zM46.05 419.0h5.35v5.01h-5.35zM78.12 419.0h5.35v5.01h-5.35zM254.51 424.0h5.35v5.01h-5.35zM83.46 444.1h5.35v5.01h-5.35zM158.30 449.1h5.35v5.01h-5.35zM217.09 449.1h5.35v5.01h-5.35zM51.39 454.1h5.35v5.01h-5.35zM222.44 464.1h5.35v5.01h-5.35zM259.85 464.1h5.35v5.01h-5.35zM88.81 469.1h5.35v5.01h-5.35zM131.57 469.1h5.35v5.01h-5.35zM72.77 474.1h5.35v5.01h-5.35zM104.84 479.1h5.35v5.01h-5.35zM115.53 484.2h5.35v5.01h-5.35zM168.99 484.2h5.35v5.01h-5.35z" fill="#7201a8" shape-rendering="crispEdges"/>
<path d="M115.53 288.7h5.35v5.01h-5.35zM142.26 288.7h5.35v5.01h-5.35zM147.60 288.7h5.35v5.01h-5.35zM217.09 288.7h5.35v5.01h-5.35zM238.47 288.7h5.35v5.01h-5.35zM163.64 293.7h5.35v5.01h-5.35zM254.51 293.7h5.35v5.01h-5.35zM222.44 298.7h5.35v5.01h-5.35zM259.85 298.7h5.35v5.01h-5.35zM136.91 308.8h5.35v5.01h-5.35zM174.33 308.8h5.35v5.01h-5.35zM94.15 313.8h5.35v5.01h-5.35zM56.74 318.8h5.35v5.01h-5.35zM120.88 323.8h5.35v5.01h-5.35zM254.51 328.8h5.35v5.01h-5.35zM110.19 333.8h5.35v5.01h-5.35zM168.99 333.8h5.35v5.01h-5.35zM62.08 343.8h5.35v5.01h-5.35zM201.06 343.8h5.35v5.01h-5.35zM233.13 343.8h5.35v5.01h-5.35zM142.26 348.8h5.35v5.01h-5.35zM201.06 348.8h5.35v5.01h-5.35zM142.26 363.9h5.35v5.01h-5.35zM147.60 368.9h5.35v5.01h-5.35zM222.44 373.9h5.35v5.01h-5.35zM40.70 378.9h5.35v5.01h-5.35zM227.78 378.9h5.35v5.01h-5.35zM94.15 383.9h5.35v5.01h-5.35zM147.60 383.9h5.35v5.01h-5.35zM110.19 388.9h5.35v5.01h-5.35zM152.95 388.9h5.35v5.01h-5.35zM168.99 388.9h5.35v5.01h-5.35zM67.43 393.9h5.35v5.01h-5.35zM168.99 393.9h5.35v5.01h-5.35zM249.16 393.9h5.35v5.01h-5.35zM115.53 399.0h5.35v5.01h-5.35zM115.53 404.0h5.35v5.01h-5.35zM168.99 404.0h5.35v5.01h-5.35zM120.88 409.0h5.35v5.01h-5.35zM142.26 419.0h5.35v5.01h-5.35zM110.19 424.0h5.35v5.01h-5.35zM190.37 424.0h5.35v5.01h-5.35zM72.77 429.0h5.35v5.01h-5.35zM94.15 429.0h5.35v5.01h-5.35zM158.30 429.0h5.35v5.01h-5.35zM168.99 429.0h5.35v5.01h-5.35zM179.68 429.0h5.35v5.01h-5.35zM190.37 429.0h5.35v5.01h-5.35zM259.85 429.0h5.35v5.01h-5.35zM104.84 439.1h5.35v5.01h-5.35zM115.53 444.1h5.35v5.01h-5.35zM195.71 444.1h5.35v5.01h-5.35zM206.40 444.1h5.35v5.01h-5.35zM120.88 449.1h5.35v5.01h-5.35zM201.06 449.1h5.35v5.01h-5.35zM259.85 449.1h5.35v5.01h-5.35zM46.05 454.1h5.35v5.01h-5.35zM131.57 454.1h5.35v5.01h-5.35zM147.60 454.1h5.35v5.01h-5.35zM120.88 459.1h5.35v5.01h-5.35zM94.15 464.1h5.35v5.01h-5.35zM142.26 464.1h5.35v5.01h-5.35zM163.64 469.1h5.35v5.01h-5.35zM249.16 469.1h5.35v5.01h-5.35zM88.81 479.1h5.35v5.01h-5.35zM174.33 479.1h5.35v5.01h-5.35zM131.57 489.2h5.35v5.01h-5.35zM163.64 489.2h5.35v5.01h-5.35z" fill="#c9447a" shape-rendering="crispEdges"/>
<path d="M136.91 288.7h5.35v5.01h-5.35zM158.30 288.7h5.35v5.01h-5.35zM249.16 288.7h5.35v5.01h-5.35zM254.51 288.7h5.35v5.01h-5.35zM168.99 293.7h5.35v5.01h-5.35zM56.74 308.8h5.35v5.01h-5.35zM99.50 308.8h5.35v5.01h-5.35zM211.75 308.8h5.35v5.01h-5.35zM217.09 308.8h5.35v5.01h-5.35zM78.12 318.8h5.35v5.01h-5.35zM249.16 328.8h5.35v5.01h-5.35zM185.02 333.8h5.35v5.01h-5.35zM195.71 333.8h5.35v5.01h-5.35zM163.64 348.8h5.35v5.01h-5.35zM174.33 348.8h5.35v5.01h-5.35zM179.68 353.9h5.35v5.01h-5.35zM259.85 353.9h5.35v5.01h-5.35zM168.99 358.9h5.35v5.01h-5.35zM62.08 363.9h5.35v5.01h-5.35zM158.30 363.9h5.35v5.01h-5.35zM78.12 368.9h5.35v5.01h-5.35zM67.43 373.9h5.35v5.01h-5.35zM158.30 378.9h5.35v5.01h-5.35zM168.99 378.9h5.35v5.01h-5.35zM40.70 383.9h5.35v5.01h-5.35zM110.19 383.9h5.35v5.01h-5.35zM136.91 383.9h5.35v5.01h-5.35zM238.47 399.0h5.35v5.01h-5.35zM78.12 409.0h5.35v5.01h-5.35zM62.08 414.0h5.35v5.01h-5.35zM174.33 414.0h5.35v5.01h-5.35zM190.37 414.0h5.35v5.01h-5.35zM243.82 414.0h5.35v5.01h-5.35zM227.78 419.0h5.35v5.01h-5.35zM152.95 429.0h5.35v5.01h-5.35zM67.43 434.1h5.35v5.01h-5.35zM174.33 434.1h5.35v5.01h-5.35zM99.50 439.1h5.35v5.01h-5.35zM46.05 444.1h5.35v5.01h-5.35zM254.51 444.1h5.35v5.01h-5.35zM62.08 449.1h5.35v5.01h-5.35zM88.81 459.1h5.35v5.01h-5.35zM158.30 469.1h5.35v5.01h-5.35zM211.75 474.1h5.35v5.01h-5.35zM238.47 474.1h5.35v5.01h-5.35zM40.70 479.1h5.35v5.01h-5.35zM126.22 479.1h5.35v5.01h-5.35zM147.60 479.1h5.35v5.01h-5.35zM185.02 479.1h5.35v5.01h-5.35zM195.71 484.2h5.35v5.01h-5.35zM206.40 484.2h5.35v5.01h-5.35zM110.19 489.2h5.35v5.01h-5.35zM238.47 489.2h5.35v5.01h-5.35zM115.53 494.2h5.35v5.01h-5.35z" fill="#cd4a76" shape-rendering="crispEdges"/>
<path d="M152.95 288.7h5.35v5.01h-5.35zM259.85 288.7h5.35v5.01h-5.35zM67.43 293.7h5.35v5.01h-5.35zM222.44 293.7h5.35v5.01h-5.35zM56.74 303.7h5.35v5.01h-5.35zM62.08 303.7h5.35v5.01h-5.35zM46.05 308.8h5.35v5.01h-5.35zM131.57 313.8h5.35v5.01h-5.35zM136.91 313.8h5.35v5.01h-5.35zM201.06 318.8h5.35v5.01h-5.35zM62.08 323.8h5.35v5.01h-5.35zM201.06 328.8h5.35v5.01h-5.35zM56.74 333.8h5.35v5.01h-5.35zM104.84 333.8h5.35v5.01h-5.35zM254.51 333.8h5.35v5.01h-5.35zM72.77 338.8h5.35v5.01h-5.35zM88.81 338.8h5.35v5.01h-5.35zM227.78 338.8h5.35v5.01h-5.35zM120.88 343.8h5.35v5.01h-5.35zM222.44 343.8h5.35v5.01h-5.35zM83.46 348.8h5.35v5.01h-5.35zM158.30 348.8h5.35v5.01h-5.35zM227.78 348.8h5.35v5.01h-5.35zM46.05 353.9h5.35v5.01h-5.35zM46.05 358.9h5.35v5.01h-5.35zM201.06 358.9h5.35v5.01h-5.35zM217.09 358.9h5.35v5.01h-5.35zM238.47 363.9h5.35v5.01h-5.35zM249.16 363.9h5.35v5.01h-5.35zM51.39 368.9h5.35v5.01h-5.35zM72.77 368.9h5.35v5.01h-5.35zM136.91 368.9h5.35v5.01h-5.35zM201.06 368.9h5.35v5.01h-5.35zM238.47 368.9h5.35v5.01h-5.35zM78.12 373.9h5.35v5.01h-5.35zM120.88 373.9h5.35v5.01h-5.35zM168.99 373.9h5.35v5.01h-5.35zM131.57 378.9h5.35v5.01h-5.35zM62.08 393.9h5.35v5.01h-5.35zM201.06 399.0h5.35v5.01h-5.35zM259.85 399.0h5.35v5.01h-5.35zM51.39 404.0h5.35v5.01h-5.35zM72.77 404.0h5.35v5.01h-5.35zM131.57 404.0h5.35v5.01h-5.35zM158.30 404.0h5.35v5.01h-5.35zM222.44 404.0h5.35v5.01h-5.35zM168.99 409.0h5.35v5.01h-5.35zM115.53 419.0h5.35v5.01h-5.35zM201.06 419.0h5.35v5.01h-5.35zM222.44 419.0h5.35v5.01h-5.35zM243.82 419.0h5.35v5.01h-5.35zM201.06 424.0h5.35v5.01h-5.35zM206.40 424.0h5.35v5.01h-5.35zM222.44 424.0h5.35v5.01h-5.35zM243.82 424.0h5.35v5.01h-5.35zM227.78 429.0h5.35v5.01h-5.35zM94.15 439.1h5.35v5.01h-5.35zM46.05 449.1h5.35v5.01h-5.35zM185.02 449.1h5.35v5.01h-5.35zM222.44 454.1h5.35v5.01h-5.35zM56.74 459.1h5.35v5.01h-5.35zM211.75 459.1h5.35v5.01h-5.35zM147.60 464.1h5.35v5.01h-5.35zM126.22 469.1h5.35v5.01h-5.35zM110.19 474.1h5.35v5.01h-5.35zM222.44 474.1h5.35v5.01h-5.35zM243.82 474.1h5.35v5.01h-5.35zM222.44 484.2h5.35v5.01h-5.35zM217.09 494.2h5.35v5.01h-5.35z" fill="#9613a1" shape-rendering="crispEdges"/>
<path d="M163.64 288.7h5.35v5.01h-5.35zM51.39 293.7h5.35v5.01h-5.35zM142.26 293.7h5.35v5.01h-5.35zM185.02 298.7h5.35v5.01h-5.35zM238.47 298.7h5.35v5.01h-5.35zM78.12 303.7h5.35v5.01h-5.35zM99.50 303.7h5.35v5.01h-5.35zM217.09 303.7h5.35v5.01h-5.35zM243.82 303.7h5.35v5.01h-5.35zM51.39 308.8h5.35v5.01h-5.35zM168.99 308.8h5.35v5.01h-5.35zM72.77 313.8h5.35v5.01h-5.35zM126.22 313.8h5.35v5.01h-5.35zM185.02 313.8h5.35v5.01h-5.35zM259.85 313.8h5.35v5.01h-5.35zM179.68 318.8h5.35v5.01h-5.35zM83.46 323.8h5.35v5.01h-5.35zM206.40 323.8h5.35v5.01h-5.35zM238.47 323.8h5.35v5.01h-5.35zM99.50 328.8h5.35v5.01h-5.35zM51.39 333.8h5.35v5.01h-5.35zM142.26 333.8h5.35v5.01h-5.35zM211.75 333.8h5.35v5.01h-5.35zM56.74 338.8h5.35v5.01h-5.35zM115.53 338.8h5.35v5.01h-5.35zM120.88 338.8h5.35v5.01h-5.35zM126.22 338.8h5.35v5.01h-5.35zM238.47 338.8h5.35v5.01h-5.35zM190.37 343.8h5.35v5.01h-5.35zM56.74 348.8h5.35v5.01h-5.35zM238.47 348.8h5.35v5.01h-5.35zM136.91 353.9h5.35v5.01h-5.35zM56.74 358.9h5.35v5.01h-5.35zM72.77 358.9h5.35v5.01h-5.35zM158.30 358.9h5.35v5.01h-5.35zM211.75 358.9h5.35v5.01h-5.35zM56.74 363.9h5.35v5.01h-5.35zM67.43 363.9h5.35v5.01h-5.35zM110.19 363.9h5.35v5.01h-5.35zM62.08 373.9h5.35v5.01h-5.35zM99.50 373.9h5.35v5.01h-5.35zM126.22 373.9h5.35v5.01h-5.35zM51.39 383.9h5.35v5.01h-5.35zM211.75 383.9h5.35v5.01h-5.35zM126.22 388.9h5.35v5.01h-5.35zM222.44 388.9h5.35v5.01h-5.35zM56.74 393.9h5.35v5.01h-5.35zM104.84 393.9h5.35v5.01h-5.35zM158.30 399.0h5.35v5.01h-5.35zM227.78 399.0h5.35v5.01h-5.35zM94.15 404.0h5.35v5.01h-5.35zM211.75 409.0h5.35v5.01h-5.35zM94.15 414.0h5.35v5.01h-5.35zM142.26 414.0h5.35v5.01h-5.35zM147.60 414.0h5.35v5.01h-5.35zM185.02 414.0h5.35v5.01h-5.35zM206.40 414.0h5.35v5.01h-5.35zM227.78 414.0h5.35v5.01h-5.35zM94.15 419.0h5.35v5.01h-5.35zM78.12 424.0h5.35v5.01h-5.35zM83.46 424.0h5.35v5.01h-5.35zM136.91 424.0h5.35v5.01h-5.35zM126.22 429.0h5.35v5.01h-5.35zM243.82 429.0h5.35v5.01h-5.35zM120.88 434.1h5.35v5.01h-5.35zM201.06 444.1h5.35v5.01h-5.35zM217.09 444.1h5.35v5.01h-5.35zM115.53 449.1h5.35v5.01h-5.35zM40.70 454.1h5.35v5.01h-5.35zM142.26 454.1h5.35v5.01h-5.35zM243.82 454.1h5.35v5.01h-5.35zM51.39 459.1h5.35v5.01h-5.35zM126.22 459.1h5.35v5.01h-5.35zM142.26 459.1h5.35v5.01h-5.35zM201.06 459.1h5.35v5.01h-5.35zM83.46 464.1h5.35v5.01h-5.35zM152.95 464.1h5.35v5.01h-5.35zM201.06 464.1h5.35v5.01h-5.35zM259.85 479.1h5.35v5.01h-5.35zM40.70 484.2h5.35v5.01h-5.35zM72.77 484.2h5.35v5.01h-5.35zM126.22 484.2h5.35v5.01h-5.35zM56.74 489.2h5.35v5.01h-5.35zM115.53 489.2h5.35v5.01h-5.35zM152.95 489.2h5.35v5.01h-5.35zM201.06 489.2h5.35v5.01h-5.35zM72.77 494.2h5.35v5.01h-5.35zM126.22 494.2h5.35v5.01h-5.35zM142.26 494.2h5.35v5.01h-5.35z" fill="#b42e8d" shape-rendering="crispEdges"/>
<path d="M168.99 288.7h5.35v5.01h-5.35zM227.78 288.7h5.35v5.01h-5.35zM233.13 303.7h5.35v5.01h-5.35zM88.81 308.8h5.35v5.01h-5.35zM190.37 308.8h5.35v5.01h-5.35zM131.57 318.8h5.35v5.01h-5.35zM56.74 323.8h5.35v5.01h-5.35zM115.53 323.8h5.35v5.01h-5.35zM147.60 323.8h5.35v5.01h-5.35zM174.33 323.8h5.35v5.01h-5.35zM62.08 348.8h5.35v5.01h-5.35zM126.22 358.9h5.35v5.01h-5.35zM147.60 358.9h5.35v5.01h-5.35zM179.68 358.9h5.35v5.01h-5.35zM131.57 368.9h5.35v5.01h-5.35zM56.74 373.9h5.35v5.01h-5.35zM195.71 373.9h5.35v5.01h-5.35zM158.30 383.9h5.35v5.01h-5.35zM152.95 404.0h5.35v5.01h-5.35zM62.08 409.0h5.35v5.01h-5.35zM249.16 414.0h5.35v5.01h-5.35zM142.26 424.0h5.35v5.01h-5.35zM174.33 424.0h5.35v5.01h-5.35zM195.71 434.1h5.35v5.01h-5.35zM110.19 439.1h5.35v5.01h-5.35zM233.13 439.1h5.35v5.01h-5.35zM249.16 439.1h5.35v5.01h-5.35zM56.74 454.1h5.35v5.01h-5.35zM40.70 459.1h5.35v5.01h-5.35zM190.37 464.1h5.35v5.01h-5.35zM195.71 479.1h5.35v5.01h-5.35zM243.82 479.1h5.35v5.01h-5.35zM67.43 484.2h5.35v5.01h-5.35zM142.26 484.2h5.35v5.01h-5.35zM104.84 489.2h5.35v5.01h-5.35zM147.60 489.2h5.35v5.01h-5.35z" fill="#7801a8" shape-rendering="crispEdges"/>
<path d="M179.68 288.7h5.35v5.01h-5.35zM190.37 293.7h5.35v5.01h-5.35zM174.33 298.7h5.35v5.01h-5.35zM40.70 303.7h5.35v5.01h-5.35zM168.99 303.7h5.35v5.01h-5.35zM222.44 303.7h5.35v5.01h-5.35zM254.51 303.7h5.35v5.01h-5.35zM62.08 308.8h5.35v5.01h-5.35zM201.06 308.8h5.35v5.01h-5.35zM99.50 313.8h5.35v5.01h-5.35zM62.08 318.8h5.35v5.01h-5.35zM168.99 318.8h5.35v5.01h-5.35zM259.85 318.8h5.35v5.01h-5.35zM131.57 323.8h5.35v5.01h-5.35zM40.70 328.8h5.35v5.01h-5.35zM46.05 333.8h5.35v5.01h-5.35zM206.40 333.8h5.35v5.01h-5.35zM40.70 338.8h5.35v5.01h-5.35zM163.64 338.8h5.35v5.01h-5.35zM222.44 338.8h5.35v5.01h-5.35zM131.57 343.8h5.35v5.01h-5.35zM51.39 348.8h5.35v5.01h-5.35zM243.82 348.8h5.35v5.01h-5.35zM51.39 358.9h5.35v5.01h-5.35zM67.43 358.9h5.35v5.01h-5.35zM136.91 358.9h5.35v5.01h-5.35zM195.71 358.9h5.35v5.01h-5.35zM227.78 358.9h5.35v5.01h-5.35zM88.81 363.9h5.35v5.01h-5.35zM120.88 363.9h5.35v5.01h-5.35zM131.57 363.9h5.35v5.01h-5.35zM104.84 373.9h5.35v5.01h-5.35zM136.91 373.9h5.35v5.01h-5.35zM243.82 383.9h5.35v5.01h-5.35zM46.05 388.9h5.35v5.01h-5.35zM51.39 393.9h5.35v5.01h-5.35zM110.19 393.9h5.35v5.01h-5.35zM72.77 399.0h5.35v5.01h-5.35zM163.64 399.0h5.35v5.01h-5.35zM99.50 404.0h5.35v5.01h-5.35zM136.91 404.0h5.35v5.01h-5.35zM88.81 409.0h5.35v5.01h-5.35zM104.84 409.0h5.35v5.01h-5.35zM115.53 409.0h5.35v5.01h-5.35zM174.33 409.0h5.35v5.01h-5.35zM179.68 409.0h5.35v5.01h-5.35zM72.77 414.0h5.35v5.01h-5.35zM104.84 414.0h5.35v5.01h-5.35zM72.77 419.0h5.35v5.01h-5.35zM168.99 419.0h5.35v5.01h-5.35zM190.37 419.0h5.35v5.01h-5.35zM67.43 424.0h5.35v5.01h-5.35zM94.15 424.0h5.35v5.01h-5.35zM99.50 424.0h5.35v5.01h-5.35zM126.22 424.0h5.35v5.01h-5.35zM195.71 424.0h5.35v5.01h-5.35zM88.81 429.0h5.35v5.01h-5.35zM110.19 434.1h5.35v5.01h-5.35zM179.68 434.1h5.35v5.01h-5.35zM233.13 434.1h5.35v5.01h-5.35zM179.68 439.1h5.35v5.01h-5.35zM67.43 444.1h5.35v5.01h-5.35zM94.15 444.1h5.35v5.01h-5.35zM227.78 444.1h5.35v5.01h-5.35zM62.08 459.1h5.35v5.01h-5.35zM94.15 459.1h5.35v5.01h-5.35zM217.09 459.1h5.35v5.01h-5.35zM120.88 464.1h5.35v5.01h-5.35zM179.68 464.1h5.35v5.01h-5.35zM40.70 469.1h5.35v5.01h-5.35zM168.99 469.1h5.35v5.01h-5.35zM179.68 469.1h5.35v5.01h-5.35zM158.30 474.1h5.35v5.01h-5.35zM179.68 474.1h5.35v5.01h-5.35zM51.39 479.1h5.35v5.01h-5.35zM110.19 479.1h5.35v5.01h-5.35zM222.44 479.1h5.35v5.01h-5.35zM238.47 479.1h5.35v5.01h-5.35zM88.81 484.2h5.35v5.01h-5.35zM259.85 484.2h5.35v5.01h-5.35zM254.51 489.2h5.35v5.01h-5.35zM51.39 494.2h5.35v5.01h-5.35zM249.16 494.2h5.35v5.01h-5.35z" fill="#a11b9b" shape-rendering="crispEdges"/>
<path d="M185.02 288.7h5.35v5.01h-5.35zM72.77 293.7h5.35v5.01h-5.35zM51.39 298.7h5.35v5.01h-5.35zM94.15 298.7h5.35v5.01h-5.35zM158.30 298.7h5.35v5.01h-5.35zM201.06 298.7h5.35v5.01h-5.35zM88.81 303.7h5.35v5.01h-5.35zM158.30 303.7h5.35v5.01h-5.35zM40.70 313.8h5.35v5.01h-5.35zM40.70 318.8h5.35v5.01h-5.35zM104.84 318.8h5.35v5.01h-5.35zM147.60 318.8h5.35v5.01h-5.35zM67.43 323.8h5.35v5.01h-5.35zM88.81 333.8h5.35v5.01h-5.35zM179.68 338.8h5.35v5.01h-5.35zM185.02 338.8h5.35v5.01h-5.35zM195.71 338.8h5.35v5.01h-5.35zM201.06 338.8h5.35v5.01h-5.35zM56.74 343.8h5.35v5.01h-5.35zM83.46 343.8h5.35v5.01h-5.35zM115.53 343.8h5.35v5.01h-5.35zM211.75 343.8h5.35v5.01h-5.35zM259.85 343.8h5.35v5.01h-5.35zM67.43 348.8h5.35v5.01h-5.35zM94.15 348.8h5.35v5.01h-5.35zM206.40 348.8h5.35v5.01h-5.35zM174.33 353.9h5.35v5.01h-5.35zM233.13 358.9h5.35v5.01h-5.35zM104.84 363.9h5.35v5.01h-5.35zM152.95 363.9h5.35v5.01h-5.35zM190.37 363.9h5.35v5.01h-5.35zM88.81 368.9h5.35v5.01h-5.35zM104.84 368.9h5.35v5.01h-5.35zM152.95 368.9h5.35v5.01h-5.35zM51.39 373.9h5.35v5.01h-5.35zM238.47 373.9h5.35v5.01h-5.35zM67.43 378.9h5.35v5.01h-5.35zM217.09 378.9h5.35v5.01h-5.35zM88.81 383.9h5.35v5.01h-5.35zM206.40 383.9h5.35v5.01h-5.35zM185.02 388.9h5.35v5.01h-5.35zM88.81 393.9h5.35v5.01h-5.35zM163.64 393.9h5.35v5.01h-5.35zM259.85 393.9h5.35v5.01h-5.35zM46.05 399.0h5.35v5.01h-5.35zM190.37 399.0h5.35v5.01h-5.35zM67.43 409.0h5.35v5.01h-5.35zM227.78 409.0h5.35v5.01h-5.35zM259.85 409.0h5.35v5.01h-5.35zM83.46 414.0h5.35v5.01h-5.35zM152.95 419.0h5.35v5.01h-5.35zM158.30 419.0h5.35v5.01h-5.35zM62.08 424.0h5.35v5.01h-5.35zM254.51 434.1h5.35v5.01h-5.35zM40.70 439.1h5.35v5.01h-5.35zM83.46 439.1h5.35v5.01h-5.35zM115.53 439.1h5.35v5.01h-5.35zM120.88 439.1h5.35v5.01h-5.35zM195.71 439.1h5.35v5.01h-5.35zM152.95 444.1h5.35v5.01h-5.35zM78.12 454.1h5.35v5.01h-5.35zM163.64 454.1h5.35v5.01h-5.35zM254.51 454.1h5.35v5.01h-5.35zM115.53 459.1h5.35v5.01h-5.35zM78.12 464.1h5.35v5.01h-5.35zM88.81 464.1h5.35v5.01h-5.35zM83.46 469.1h5.35v5.01h-5.35zM254.51 469.1h5.35v5.01h-5.35zM56.74 479.1h5.35v5.01h-5.35zM99.50 479.1h5.35v5.01h-5.35zM254.51 479.1h5.35v5.01h-5.35zM227.78 484.2h5.35v5.01h-5.35zM83.46 489.2h5.35v5.01h-5.35zM88.81 489.2h5.35v5.01h-5.35zM185.02 494.2h5.35v5.01h-5.35zM190.37 494.2h5.35v5.01h-5.35z" fill="#bd3786" shape-rendering="crispEdges"/>
<path d="M195.71 288.7h5.35v5.01h-5.35zM211.75 288.7h5.35v5.01h-5.35zM179.68 303.7h5.35v5.01h-5.35zM67.43 308.8h5.35v5.01h-5.35zM51.39 313.8h5.35v5.01h-5.35zM104.84 323.8h5.35v5.01h-5.35zM142.26 328.8h5.35v5.01h-5.35zM126.22 333.8h5.35v5.01h-5.35zM174.33 333.8h5.35v5.01h-5.35zM174.33 338.8h5.35v5.01h-5.35zM190.37 338.8h5.35v5.01h-5.35zM254.51 338.8h5.35v5.01h-5.35zM158.30 343.8h5.35v5.01h-5.35zM56.74 353.9h5.35v5.01h-5.35zM99.50 353.9h5.35v5.01h-5.35zM163.64 353.9h5.35v5.01h-5.35zM174.33 358.9h5.35v5.01h-5.35zM195.71 363.9h5.35v5.01h-5.35zM179.68 368.9h5.35v5.01h-5.35zM72.77 373.9h5.35v5.01h-5.35zM88.81 373.9h5.35v5.01h-5.35zM163.64 373.9h5.35v5.01h-5.35zM206.40 378.9h5.35v5.01h-5.35zM233.13 378.9h5.35v5.01h-5.35zM190.37 383.9h5.35v5.01h-5.35zM94.15 399.0h5.35v5.01h-5.35zM131.57 399.0h5.35v5.01h-5.35zM67.43 414.0h5.35v5.01h-5.35zM211.75 414.0h5.35v5.01h-5.35zM254.51 414.0h5.35v5.01h-5.35zM259.85 419.0h5.35v5.01h-5.35zM201.06 429.0h5.35v5.01h-5.35zM147.60 444.1h5.35v5.01h-5.35zM152.95 449.1h5.35v5.01h-5.35zM152.95 454.1h5.35v5.01h-5.35zM104.84 459.1h5.35v5.01h-5.35zM147.60 459.1h5.35v5.01h-5.35zM233.13 459.1h5.35v5.01h-5.35zM163.64 464.1h5.35v5.01h-5.35zM152.95 474.1h5.35v5.01h-5.35zM163.64 479.1h5.35v5.01h-5.35zM227.78 479.1h5.35v5.01h-5.35zM131.57 484.2h5.35v5.01h-5.35zM142.26 489.2h5.35v5.01h-5.35z" fill="#8004a8" shape-rendering="crispEdges"/>
<path d="M201.06 288.7h5.35v5.01h-5.35zM233.13 288.7h5.35v5.01h-5.35zM211.75 293.7h5.35v5.01h-5.35zM233.13 293.7h5.35v5.01h-5.35zM238.47 293.7h5.35v5.01h-5.35zM56.74 298.7h5.35v5.01h-5.35zM51.39 303.7h5.35v5.01h-5.35zM174.33 303.7h5.35v5.01h-5.35zM104.84 308.8h5.35v5.01h-5.35zM163.64 308.8h5.35v5.01h-5.35zM168.99 313.8h5.35v5.01h-5.35zM206.40 318.8h5.35v5.01h-5.35zM249.16 318.8h5.35v5.01h-5.35zM254.51 318.8h5.35v5.01h-5.35zM217.09 323.8h5.35v5.01h-5.35zM136.91 328.8h5.35v5.01h-5.35zM99.50 333.8h5.35v5.01h-5.35zM115.53 333.8h5.35v5.01h-5.35zM190.37 333.8h5.35v5.01h-5.35zM195.71 343.8h5.35v5.01h-5.35zM243.82 343.8h5.35v5.01h-5.35zM83.46 353.9h5.35v5.01h-5.35zM110.19 353.9h5.35v5.01h-5.35zM185.02 353.9h5.35v5.01h-5.35zM190.37 353.9h5.35v5.01h-5.35zM88.81 358.9h5.35v5.01h-5.35zM94.15 358.9h5.35v5.01h-5.35zM142.26 358.9h5.35v5.01h-5.35zM206.40 358.9h5.35v5.01h-5.35zM227.78 373.9h5.35v5.01h-5.35zM51.39 378.9h5.35v5.01h-5.35zM51.39 388.9h5.35v5.01h-5.35zM142.26 393.9h5.35v5.01h-5.35zM147.60 393.9h5.35v5.01h-5.35zM211.75 404.0h5.35v5.01h-5.35zM131.57 409.0h5.35v5.01h-5.35zM142.26 409.0h5.35v5.01h-5.35zM88.81 414.0h5.35v5.01h-5.35zM131.57 414.0h5.35v5.01h-5.35zM195.71 414.0h5.35v5.01h-5.35zM249.16 429.0h5.35v5.01h-5.35zM40.70 434.1h5.35v5.01h-5.35zM51.39 434.1h5.35v5.01h-5.35zM78.12 434.1h5.35v5.01h-5.35zM131.57 434.1h5.35v5.01h-5.35zM136.91 434.1h5.35v5.01h-5.35zM243.82 434.1h5.35v5.01h-5.35zM88.81 444.1h5.35v5.01h-5.35zM56.74 449.1h5.35v5.01h-5.35zM78.12 449.1h5.35v5.01h-5.35zM104.84 454.1h5.35v5.01h-5.35zM46.05 459.1h5.35v5.01h-5.35zM83.46 459.1h5.35v5.01h-5.35zM206.40 459.1h5.35v5.01h-5.35zM56.74 464.1h5.35v5.01h-5.35zM158.30 464.1h5.35v5.01h-5.35zM83.46 474.1h5.35v5.01h-5.35zM243.82 484.2h5.35v5.01h-5.35zM46.05 489.2h5.35v5.01h-5.35z" fill="#c5407e" shape-rendering="crispEdges"/>
<path d="M222.44 288.7h5.35v5.01h-5.35zM243.82 288.7h5.35v5.01h-5.35zM120.88 293.7h5.35v5.01h-5.35zM185.02 293.7h5.35v5.01h-5.35zM67.43 298.7h5.35v5.01h-5.35zM83.46 308.8h5.35v5.01h-5.35zM120.88 308.8h5.35v5.01h-5.35zM152.95 308.8h5.35v5.01h-5.35zM185.02 308.8h5.35v5.01h-5.35zM243.82 308.8h5.35v5.01h-5.35zM120.88 313.8h5.35v5.01h-5.35zM201.06 313.8h5.35v5.01h-5.35zM120.88 318.8h5.35v5.01h-5.35zM72.77 323.8h5.35v5.01h-5.35zM222.44 323.8h5.35v5.01h-5.35zM206.40 328.8h5.35v5.01h-5.35zM238.47 328.8h5.35v5.01h-5.35zM158.30 333.8h5.35v5.01h-5.35zM206.40 338.8h5.35v5.01h-5.35zM233.13 338.8h5.35v5.01h-5.35zM259.85 338.8h5.35v5.01h-5.35zM51.39 343.8h5.35v5.01h-5.35zM115.53 348.8h5.35v5.01h-5.35zM254.51 348.8h5.35v5.01h-5.35zM78.12 353.9h5.35v5.01h-5.35zM99.50 358.9h5.35v5.01h-5.35zM168.99 368.9h5.35v5.01h-5.35zM94.15 373.9h5.35v5.01h-5.35zM185.02 373.9h5.35v5.01h-5.35zM88.81 378.9h5.35v5.01h-5.35zM99.50 378.9h5.35v5.01h-5.35zM238.47 378.9h5.35v5.01h-5.35zM222.44 383.9h5.35v5.01h-5.35zM217.09 388.9h5.35v5.01h-5.35zM185.02 393.9h5.35v5.01h-5.35zM78.12 399.0h5.35v5.01h-5.35zM254.51 404.0h5.35v5.01h-5.35zM217.09 424.0h5.35v5.01h-5.35zM259.85 434.1h5.35v5.01h-5.35zM51.39 439.1h5.35v5.01h-5.35zM126.22 439.1h5.35v5.01h-5.35zM142.26 439.1h5.35v5.01h-5.35zM158.30 439.1h5.35v5.01h-5.35zM227.78 439.1h5.35v5.01h-5.35zM211.75 444.1h5.35v5.01h-5.35zM88.81 449.1h5.35v5.01h-5.35zM126.22 449.1h5.35v5.01h-5.35zM147.60 449.1h5.35v5.01h-5.35zM83.46 454.1h5.35v5.01h-5.35zM217.09 454.1h5.35v5.01h-5.35zM136.91 459.1h5.35v5.01h-5.35zM126.22 464.1h5.35v5.01h-5.35zM185.02 464.1h5.35v5.01h-5.35zM217.09 464.1h5.35v5.01h-5.35zM152.95 469.1h5.35v5.01h-5.35zM238.47 469.1h5.35v5.01h-5.35zM99.50 474.1h5.35v5.01h-5.35zM163.64 474.1h5.35v5.01h-5.35zM185.02 474.1h5.35v5.01h-5.35zM83.46 479.1h5.35v5.01h-5.35zM217.09 479.1h5.35v5.01h-5.35zM72.77 489.2h5.35v5.01h-5.35z" fill="#910ea3" shape-rendering="crispEdges"/>
<path d="M40.70 293.7h5.35v5.01h-5.35zM94.15 293.7h5.35v5.01h-5.35zM238.47 303.7h5.35v5.01h-5.35zM115.53 308.8h5.35v5.01h-5.35zM185.02 318.8h5.35v5.01h-5.35zM206.40 343.8h5.35v5.01h-5.35zM110.19 358.9h5.35v5.01h-5.35zM83.46 383.9h5.35v5.01h-5.35zM163.64 383.9h5.35v5.01h-5.35zM249.16 388.9h5.35v5.01h-5.35zM206.40 393.9h5.35v5.01h-5.35zM174.33 444.1h5.35v5.01h-5.35zM243.82 469.1h5.35v5.01h-5.35zM67.43 479.1h5.35v5.01h-5.35zM179.68 484.2h5.35v5.01h-5.35zM99.50 489.2h5.35v5.01h-5.35zM222.44 494.2h5.35v5.01h-5.35z" fill="#e56a5d" shape-rendering="crispEdges"/>
<path d="M56.74 293.7h5.35v5.01h-5.35zM115.53 303.7h5.35v5.01h-5.35zM206.40 308.8h5.35v5.01h-5.35zM110.19 313.8h5.35v5.01h-5.35zM227.78 313.8h5.35v5.01h-5.35zM158.30 318.8h5.35v5.01h-5.35zM195.71 323.8h5.35v5.01h-5.35zM110.19 343.8h5.35v5.01h-5.35zM174.33 343.8h5.35v5.01h-5.35zM136.91 348.8h5.35v5.01h-5.35zM249.16 353.9h5.35v5.01h-5.35zM136.91 378.9h5.35v5.01h-5.35zM110.19 399.0h5.35v5.01h-5.35zM201.06 404.0h5.35v5.01h-5.35zM168.99 424.0h5.35v5.01h-5.35zM227.78 424.0h5.35v5.01h-5.35zM249.16 424.0h5.35v5.01h-5.35zM152.95 439.1h5.35v5.01h-5.35zM233.13 489.2h5.35v5.01h-5.35zM46.05 494.2h5.35v5.01h-5.35z" fill="#3f049c" shape-rendering="crispEdges"/>
<path d="M78.12 293.7h5.35v5.01h-5.35zM168.99 323.8h5.35v5.01h-5.35zM46.05 328.8h5.35v5.01h-5.35zM163.64 328.8h5.35v5.01h-5.35zM185.02 368.9h5.35v5.01h-5.35zM78.12 378.9h5.35v5.01h-5.35zM72.77 383.9h5.35v5.01h-5.35zM190.37 404.0h5.35v5.01h-5.35zM222.44 409.0h5.35v5.01h-5.35zM78.12 439.1h5.35v5.01h-5.35zM222.44 449.1h5.35v5.01h-5.35zM174.33 454.1h5.35v5.01h-5.35zM110.19 464.1h5.35v5.01h-5.35zM152.95 479.1h5.35v5.01h-5.35zM168.99 479.1h5.35v5.01h-5.35zM152.95 494.2h5.35v5.01h-5.35z" fill="#6001a6" shape-rendering="crispEdges"/>
<path d="M88.81 293.7h5.35v5.01h-5.35zM131.57 293.7h5.35v5.01h-5.35zM195.71 303.7h5.35v5.01h-5.35zM152.95 323.8h5.35v5.01h-5.35zM168.99 338.8h5.35v5.01h-5.35zM88.81 348.8h5.35v5.01h-5.35zM152.95 348.8h5.35v5.01h-5.35zM158.30 353.9h5.35v5.01h-5.35zM120.88 368.9h5.35v5.01h-5.35zM142.26 368.9h5.35v5.01h-5.35zM78.12 383.9h5.35v5.01h-5.35zM99.50 383.9h5.35v5.01h-5.35zM163.64 404.0h5.35v5.01h-5.35zM56.74 409.0h5.35v5.01h-5.35zM83.46 419.0h5.35v5.01h-5.35zM233.13 419.0h5.35v5.01h-5.35zM78.12 429.0h5.35v5.01h-5.35zM163.64 449.1h5.35v5.01h-5.35zM131.57 464.1h5.35v5.01h-5.35zM51.39 469.1h5.35v5.01h-5.35zM217.09 474.1h5.35v5.01h-5.35zM136.91 479.1h5.35v5.01h-5.35zM174.33 484.2h5.35v5.01h-5.35zM206.40 494.2h5.35v5.01h-5.35zM211.75 494.2h5.35v5.01h-5.35z" fill="#d8576b" shape-rendering="crispEdges"/>
<path d="M110.19 293.7h5.35v5.01h-5.35zM152.95 293.7h5.35v5.01h-5.35zM243.82 293.7h5.35v5.01h-5.35zM46.05 298.7h5.35v5.01h-5.35zM72.77 298.7h5.35v5.01h-5.35zM104.84 298.7h5.35v5.01h-5.35zM152.95 298.7h5.35v5.01h-5.35zM168.99 298.7h5.35v5.01h-5.35zM94.15 303.7h5.35v5.01h-5.35zM206.40 303.7h5.35v5.01h-5.35zM83.46 313.8h5.35v5.01h-5.35zM238.47 313.8h5.35v5.01h-5.35zM227.78 323.8h5.35v5.01h-5.35zM62.08 328.8h5.35v5.01h-5.35zM152.95 328.8h5.35v5.01h-5.35zM217.09 333.8h5.35v5.01h-5.35zM126.22 343.8h5.35v5.01h-5.35zM168.99 343.8h5.35v5.01h-5.35zM217.09 348.8h5.35v5.01h-5.35zM88.81 353.9h5.35v5.01h-5.35zM104.84 358.9h5.35v5.01h-5.35zM259.85 358.9h5.35v5.01h-5.35zM40.70 363.9h5.35v5.01h-5.35zM136.91 363.9h5.35v5.01h-5.35zM168.99 363.9h5.35v5.01h-5.35zM174.33 373.9h5.35v5.01h-5.35zM46.05 378.9h5.35v5.01h-5.35zM147.60 378.9h5.35v5.01h-5.35zM67.43 383.9h5.35v5.01h-5.35zM115.53 383.9h5.35v5.01h-5.35zM174.33 383.9h5.35v5.01h-5.35zM115.53 388.9h5.35v5.01h-5.35zM136.91 393.9h5.35v5.01h-5.35zM174.33 393.9h5.35v5.01h-5.35zM238.47 393.9h5.35v5.01h-5.35zM67.43 399.0h5.35v5.01h-5.35zM126.22 399.0h5.35v5.01h-5.35zM222.44 399.0h5.35v5.01h-5.35zM238.47 414.0h5.35v5.01h-5.35zM179.68 424.0h5.35v5.01h-5.35zM211.75 424.0h5.35v5.01h-5.35zM131.57 429.0h5.35v5.01h-5.35zM195.71 429.0h5.35v5.01h-5.35zM222.44 429.0h5.35v5.01h-5.35zM233.13 429.0h5.35v5.01h-5.35zM104.84 434.1h5.35v5.01h-5.35zM201.06 434.1h5.35v5.01h-5.35zM217.09 434.1h5.35v5.01h-5.35zM46.05 439.1h5.35v5.01h-5.35zM254.51 439.1h5.35v5.01h-5.35zM249.16 444.1h5.35v5.01h-5.35zM136.91 449.1h5.35v5.01h-5.35zM94.15 454.1h5.35v5.01h-5.35zM136.91 454.1h5.35v5.01h-5.35zM67.43 459.1h5.35v5.01h-5.35zM168.99 459.1h5.35v5.01h-5.35zM259.85 459.1h5.35v5.01h-5.35zM195.71 464.1h5.35v5.01h-5.35zM104.84 469.1h5.35v5.01h-5.35zM40.70 474.1h5.35v5.01h-5.35zM131.57 474.1h5.35v5.01h-5.35zM201.06 474.1h5.35v5.01h-5.35zM110.19 484.2h5.35v5.01h-5.35zM120.88 484.2h5.35v5.01h-5.35zM249.16 484.2h5.35v5.01h-5.35zM120.88 489.2h5.35v5.01h-5.35zM174.33 489.2h5.35v5.01h-5.35zM222.44 489.2h5.35v5.01h-5.35zM88.81 494.2h5.35v5.01h-5.35zM136.91 494.2h5.35v5.01h-5.35zM174.33 494.2h5.35v5.01h-5.35z" fill="#b83289" shape-rendering="crispEdges"/>
<path d="M136.91 293.7h5.35v5.01h-5.35zM62.08 298.7h5.35v5.01h-5.35zM211.75 303.7h5.35v5.01h-5.35zM259.85 308.8h5.35v5.01h-5.35zM174.33 313.8h5.35v5.01h-5.35zM46.05 318.8h5.35v5.01h-5.35zM110.19 318.8h5.35v5.01h-5.35zM163.64 318.8h5.35v5.01h-5.35zM238.47 318.8h5.35v5.01h-5.35zM158.30 328.8h5.35v5.01h-5.35zM179.68 328.8h5.35v5.01h-5.35zM185.02 328.8h5.35v5.01h-5.35zM67.43 333.8h5.35v5.01h-5.35zM254.51 343.8h5.35v5.01h-5.35zM40.70 348.8h5.35v5.01h-5.35zM147.60 348.8h5.35v5.01h-5.35zM217.09 353.9h5.35v5.01h-5.35zM243.82 358.9h5.35v5.01h-5.35zM126.22 363.9h5.35v5.01h-5.35zM201.06 363.9h5.35v5.01h-5.35zM110.19 373.9h5.35v5.01h-5.35zM46.05 383.9h5.35v5.01h-5.35zM126.22 383.9h5.35v5.01h-5.35zM233.13 383.9h5.35v5.01h-5.35zM254.51 383.9h5.35v5.01h-5.35zM99.50 388.9h5.35v5.01h-5.35zM163.64 388.9h5.35v5.01h-5.35zM201.06 388.9h5.35v5.01h-5.35zM233.13 393.9h5.35v5.01h-5.35zM174.33 404.0h5.35v5.01h-5.35zM201.06 414.0h5.35v5.01h-5.35zM120.88 419.0h5.35v5.01h-5.35zM136.91 419.0h5.35v5.01h-5.35zM233.13 424.0h5.35v5.01h-5.35zM67.43 429.0h5.35v5.01h-5.35zM185.02 429.0h5.35v5.01h-5.35zM211.75 429.0h5.35v5.01h-5.35zM46.05 434.1h5.35v5.01h-5.35zM211.75 434.1h5.35v5.01h-5.35zM249.16 434.1h5.35v5.01h-5.35zM67.43 439.1h5.35v5.01h-5.35zM201.06 439.1h5.35v5.01h-5.35zM179.68 444.1h5.35v5.01h-5.35zM104.84 449.1h5.35v5.01h-5.35zM233.13 454.1h5.35v5.01h-5.35zM238.47 454.1h5.35v5.01h-5.35zM163.64 459.1h5.35v5.01h-5.35zM249.16 459.1h5.35v5.01h-5.35zM254.51 464.1h5.35v5.01h-5.35zM46.05 469.1h5.35v5.01h-5.35zM136.91 469.1h5.35v5.01h-5.35zM56.74 474.1h5.35v5.01h-5.35zM88.81 474.1h5.35v5.01h-5.35zM104.84 474.1h5.35v5.01h-5.35zM120.88 474.1h5.35v5.01h-5.35zM190.37 489.2h5.35v5.01h-5.35zM206.40 489.2h5.35v5.01h-5.35zM259.85 489.2h5.35v5.01h-5.35zM179.68 494.2h5.35v5.01h-5.35zM233.13 494.2h5.35v5.01h-5.35z" fill="#8b0aa5" shape-rendering="crispEdges"/>
<path d="M227.78 293.7h5.35v5.01h-5.35zM227.78 303.7h5.35v5.01h-5.35zM249.16 303.7h5.35v5.01h-5.35zM67.43 313.8h5.35v5.01h-5.35zM206.40 313.8h5.35v5.01h-5.35zM126.22 323.8h5.35v5.01h-5.35zM83.46 328.8h5.35v5.01h-5.35zM152.95 333.8h5.35v5.01h-5.35zM201.06 333.8h5.35v5.01h-5.35zM217.09 343.8h5.35v5.01h-5.35zM104.84 348.8h5.35v5.01h-5.35zM94.15 363.9h5.35v5.01h-5.35zM243.82 363.9h5.35v5.01h-5.35zM94.15 368.9h5.35v5.01h-5.35zM99.50 368.9h5.35v5.01h-5.35zM211.75 368.9h5.35v5.01h-5.35zM222.44 368.9h5.35v5.01h-5.35zM227.78 368.9h5.35v5.01h-5.35zM46.05 373.9h5.35v5.01h-5.35zM56.74 378.9h5.35v5.01h-5.35zM120.88 378.9h5.35v5.01h-5.35zM99.50 393.9h5.35v5.01h-5.35zM120.88 393.9h5.35v5.01h-5.35zM222.44 393.9h5.35v5.01h-5.35zM179.68 404.0h5.35v5.01h-5.35zM195.71 404.0h5.35v5.01h-5.35zM206.40 404.0h5.35v5.01h-5.35zM147.60 409.0h5.35v5.01h-5.35zM233.13 409.0h5.35v5.01h-5.35zM217.09 414.0h5.35v5.01h-5.35zM88.81 424.0h5.35v5.01h-5.35zM46.05 429.0h5.35v5.01h-5.35zM83.46 429.0h5.35v5.01h-5.35zM104.84 429.0h5.35v5.01h-5.35zM217.09 429.0h5.35v5.01h-5.35zM78.12 444.1h5.35v5.01h-5.35zM238.47 444.1h5.35v5.01h-5.35zM259.85 444.1h5.35v5.01h-5.35zM233.13 449.1h5.35v5.01h-5.35zM72.77 464.1h5.35v5.01h-5.35zM78.12 469.1h5.35v5.01h-5.35zM147.60 474.1h5.35v5.01h-5.35zM46.05 479.1h5.35v5.01h-5.35zM142.26 479.1h5.35v5.01h-5.35zM190.37 484.2h5.35v5.01h-5.35zM94.15 489.2h5.35v5.01h-5.35zM83.46 494.2h5.35v5.01h-5.35z" fill="#8606a6" shape-rendering="crispEdges"/>
<path d="M249.16 293.7h5.35v5.01h-5.35zM190.37 298.7h5.35v5.01h-5.35zM206.40 298.7h5.35v5.01h-5.35zM110.19 303.7h5.35v5.01h-5.35zM94.15 308.8h5.35v5.01h-5.35zM110.19 308.8h5.35v5.01h-5.35zM249.16 308.8h5.35v5.01h-5.35zM99.50 318.8h5.35v5.01h-5.35zM222.44 318.8h5.35v5.01h-5.35zM158.30 323.8h5.35v5.01h-5.35zM179.68 323.8h5.35v5.01h-5.35zM211.75 323.8h5.35v5.01h-5.35zM147.60 328.8h5.35v5.01h-5.35zM168.99 328.8h5.35v5.01h-5.35zM195.71 328.8h5.35v5.01h-5.35zM222.44 328.8h5.35v5.01h-5.35zM72.77 333.8h5.35v5.01h-5.35zM131.57 333.8h5.35v5.01h-5.35zM136.91 333.8h5.35v5.01h-5.35zM222.44 333.8h5.35v5.01h-5.35zM83.46 338.8h5.35v5.01h-5.35zM142.26 338.8h5.35v5.01h-5.35zM147.60 338.8h5.35v5.01h-5.35zM78.12 343.8h5.35v5.01h-5.35zM88.81 343.8h5.35v5.01h-5.35zM136.91 343.8h5.35v5.01h-5.35zM40.70 353.9h5.35v5.01h-5.35zM201.06 353.9h5.35v5.01h-5.35zM152.95 358.9h5.35v5.01h-5.35zM51.39 363.9h5.35v5.01h-5.35zM185.02 363.9h5.35v5.01h-5.35zM56.74 368.9h5.35v5.01h-5.35zM115.53 368.9h5.35v5.01h-5.35zM217.09 368.9h5.35v5.01h-5.35zM190.37 373.9h5.35v5.01h-5.35zM249.16 373.9h5.35v5.01h-5.35zM254.51 373.9h5.35v5.01h-5.35zM195.71 378.9h5.35v5.01h-5.35zM222.44 378.9h5.35v5.01h-5.35zM104.84 383.9h5.35v5.01h-5.35zM179.68 383.9h5.35v5.01h-5.35zM195.71 383.9h5.35v5.01h-5.35zM83.46 388.9h5.35v5.01h-5.35zM147.60 388.9h5.35v5.01h-5.35zM243.82 388.9h5.35v5.01h-5.35zM259.85 388.9h5.35v5.01h-5.35zM201.06 393.9h5.35v5.01h-5.35zM51.39 399.0h5.35v5.01h-5.35zM62.08 399.0h5.35v5.01h-5.35zM174.33 399.0h5.35v5.01h-5.35zM206.40 399.0h5.35v5.01h-5.35zM233.13 399.0h5.35v5.01h-5.35zM78.12 404.0h5.35v5.01h-5.35zM158.30 409.0h5.35v5.01h-5.35zM243.82 409.0h5.35v5.01h-5.35zM46.05 414.0h5.35v5.01h-5.35zM136.91 414.0h5.35v5.01h-5.35zM222.44 414.0h5.35v5.01h-5.35zM211.75 419.0h5.35v5.01h-5.35zM238.47 419.0h5.35v5.01h-5.35zM254.51 419.0h5.35v5.01h-5.35zM40.70 424.0h5.35v5.01h-5.35zM120.88 424.0h5.35v5.01h-5.35zM51.39 429.0h5.35v5.01h-5.35zM99.50 429.0h5.35v5.01h-5.35zM94.15 434.1h5.35v5.01h-5.35zM222.44 434.1h5.35v5.01h-5.35zM227.78 434.1h5.35v5.01h-5.35zM72.77 444.1h5.35v5.01h-5.35zM104.84 444.1h5.35v5.01h-5.35zM126.22 444.1h5.35v5.01h-5.35zM190.37 444.1h5.35v5.01h-5.35zM51.39 449.1h5.35v5.01h-5.35zM142.26 449.1h5.35v5.01h-5.35zM179.68 449.1h5.35v5.01h-5.35zM62.08 454.1h5.35v5.01h-5.35zM99.50 454.1h5.35v5.01h-5.35zM78.12 459.1h5.35v5.01h-5.35zM110.19 459.1h5.35v5.01h-5.35zM227.78 459.1h5.35v5.01h-5.35zM168.99 464.1h5.35v5.01h-5.35zM94.15 469.1h5.35v5.01h-5.35zM147.60 469.1h5.35v5.01h-5.35zM46.05 474.1h5.35v5.01h-5.35zM206.40 474.1h5.35v5.01h-5.35zM233.13 474.1h5.35v5.01h-5.35zM201.06 479.1h5.35v5.01h-5.35zM51.39 484.2h5.35v5.01h-5.35zM83.46 484.2h5.35v5.01h-5.35zM233.13 484.2h5.35v5.01h-5.35zM227.78 489.2h5.35v5.01h-5.35zM40.70 494.2h5.35v5.01h-5.35z" fill="#a62098" shape-rendering="crispEdges"/>
<path d="M99.50 298.7h5.35v5.01h-5.35zM158.30 308.8h5.35v5.01h-5.35zM233.13 348.8h5.35v5.01h-5.35zM72.77 363.9h5.35v5.01h-5.35zM243.82 368.9h5.35v5.01h-5.35zM190.37 378.9h5.35v5.01h-5.35zM211.75 399.0h5.35v5.01h-5.35zM110.19 404.0h5.35v5.01h-5.35zM51.39 409.0h5.35v5.01h-5.35zM152.95 409.0h5.35v5.01h-5.35zM238.47 409.0h5.35v5.01h-5.35zM185.02 434.1h5.35v5.01h-5.35zM227.78 449.1h5.35v5.01h-5.35zM201.06 454.1h5.35v5.01h-5.35zM195.71 474.1h5.35v5.01h-5.35zM227.78 474.1h5.35v5.01h-5.35z" fill="#e26561" shape-rendering="crispEdges"/>
<path d="M120.88 298.7h5.35v5.01h-5.35zM168.99 383.9h5.35v5.01h-5.35z" fill="#f1834c" shape-rendering="crispEdges"/>
<path d="M136.91 298.7h5.35v5.01h-5.35zM227.78 298.7h5.35v5.01h-5.35zM72.77 303.7h5.35v5.01h-5.35zM46.05 313.8h5.35v5.01h-5.35zM88.81 318.8h5.35v5.01h-5.35zM94.15 318.8h5.35v5.01h-5.35zM120.88 328.8h5.35v5.01h-5.35zM51.39 338.8h5.35v5.01h-5.35zM233.13 353.9h5.35v5.01h-5.35zM62.08 368.9h5.35v5.01h-5.35zM217.09 373.9h5.35v5.01h-5.35zM152.95 378.9h5.35v5.01h-5.35zM259.85 378.9h5.35v5.01h-5.35zM238.47 388.9h5.35v5.01h-5.35zM147.60 399.0h5.35v5.01h-5.35zM249.16 404.0h5.35v5.01h-5.35zM249.16 419.0h5.35v5.01h-5.35zM185.02 424.0h5.35v5.01h-5.35zM168.99 444.1h5.35v5.01h-5.35zM72.77 469.1h5.35v5.01h-5.35zM147.60 484.2h5.35v5.01h-5.35zM217.09 489.2h5.35v5.01h-5.35zM131.57 494.2h5.35v5.01h-5.35z" fill="#d5536f" shape-rendering="crispEdges"/>
<path d="M211.75 298.7h5.35v5.01h-5.35zM233.13 298.7h5.35v5.01h-5.35zM120.88 303.7h5.35v5.01h-5.35zM126.22 303.7h5.35v5.01h-5.35zM115.53 313.8h5.35v5.01h-5.35zM163.64 333.8h5.35v5.01h-5.35zM238.47 343.8h5.35v5.01h-5.35zM78.12 358.9h5.35v5.01h-5.35zM46.05 368.9h5.35v5.01h-5.35zM158.30 368.9h5.35v5.01h-5.35zM40.70 373.9h5.35v5.01h-5.35zM206.40 373.9h5.35v5.01h-5.35zM259.85 373.9h5.35v5.01h-5.35zM104.84 378.9h5.35v5.01h-5.35zM249.16 378.9h5.35v5.01h-5.35zM158.30 388.9h5.35v5.01h-5.35zM46.05 393.9h5.35v5.01h-5.35zM78.12 393.9h5.35v5.01h-5.35zM190.37 393.9h5.35v5.01h-5.35zM195.71 409.0h5.35v5.01h-5.35zM99.50 414.0h5.35v5.01h-5.35zM104.84 419.0h5.35v5.01h-5.35zM51.39 424.0h5.35v5.01h-5.35zM120.88 429.0h5.35v5.01h-5.35zM62.08 439.1h5.35v5.01h-5.35zM185.02 439.1h5.35v5.01h-5.35zM174.33 459.1h5.35v5.01h-5.35zM190.37 459.1h5.35v5.01h-5.35zM222.44 469.1h5.35v5.01h-5.35zM238.47 484.2h5.35v5.01h-5.35zM126.22 489.2h5.35v5.01h-5.35zM195.71 489.2h5.35v5.01h-5.35zM211.75 489.2h5.35v5.01h-5.35z" fill="#38049a" shape-rendering="crispEdges"/>
<path d="M243.82 298.7h5.35v5.01h-5.35zM120.88 348.8h5.35v5.01h-5.35zM259.85 368.9h5.35v5.01h-5.35zM152.95 399.0h5.35v5.01h-5.35zM168.99 399.0h5.35v5.01h-5.35zM136.91 444.1h5.35v5.01h-5.35zM110.19 454.1h5.35v5.01h-5.35zM152.95 484.2h5.35v5.01h-5.35z" fill="#e76f5a" shape-rendering="crispEdges"/>
<path d="M152.95 303.7h5.35v5.01h-5.35zM259.85 303.7h5.35v5.01h-5.35zM233.13 318.8h5.35v5.01h-5.35zM72.77 328.8h5.35v5.01h-5.35zM83.46 373.9h5.35v5.01h-5.35zM115.53 373.9h5.35v5.01h-5.35zM233.13 414.0h5.35v5.01h-5.35zM72.77 434.1h5.35v5.01h-5.35zM115.53 434.1h5.35v5.01h-5.35zM72.77 449.1h5.35v5.01h-5.35zM168.99 454.1h5.35v5.01h-5.35zM195.71 459.1h5.35v5.01h-5.35zM249.16 464.1h5.35v5.01h-5.35zM94.15 479.1h5.35v5.01h-5.35zM163.64 484.2h5.35v5.01h-5.35zM185.02 484.2h5.35v5.01h-5.35zM158.30 489.2h5.35v5.01h-5.35zM249.16 489.2h5.35v5.01h-5.35zM110.19 494.2h5.35v5.01h-5.35z" fill="#db5c68" shape-rendering="crispEdges"/>
<path d="M163.64 303.7h5.35v5.01h-5.35zM179.68 308.8h5.35v5.01h-5.35zM142.26 313.8h5.35v5.01h-5.35zM179.68 333.8h5.35v5.01h-5.35zM104.84 338.8h5.35v5.01h-5.35zM104.84 343.8h5.35v5.01h-5.35zM195.71 348.8h5.35v5.01h-5.35zM249.16 348.8h5.35v5.01h-5.35zM67.43 353.9h5.35v5.01h-5.35zM120.88 353.9h5.35v5.01h-5.35zM152.95 353.9h5.35v5.01h-5.35zM222.44 363.9h5.35v5.01h-5.35zM233.13 368.9h5.35v5.01h-5.35zM120.88 383.9h5.35v5.01h-5.35zM227.78 383.9h5.35v5.01h-5.35zM201.06 409.0h5.35v5.01h-5.35zM51.39 419.0h5.35v5.01h-5.35zM174.33 419.0h5.35v5.01h-5.35zM217.09 419.0h5.35v5.01h-5.35zM163.64 424.0h5.35v5.01h-5.35zM163.64 429.0h5.35v5.01h-5.35zM83.46 434.1h5.35v5.01h-5.35zM249.16 449.1h5.35v5.01h-5.35zM94.15 474.1h5.35v5.01h-5.35zM115.53 474.1h5.35v5.01h-5.35zM72.77 479.1h5.35v5.01h-5.35zM201.06 494.2h5.35v5.01h-5.35z" fill="#6c00a8" shape-rendering="crispEdges"/>
<path d="M190.37 303.7h5.35v5.01h-5.35zM131.57 338.8h5.35v5.01h-5.35zM110.19 368.9h5.35v5.01h-5.35zM249.16 409.0h5.35v5.01h-5.35zM56.74 444.1h5.35v5.01h-5.35zM185.02 454.1h5.35v5.01h-5.35zM243.82 464.1h5.35v5.01h-5.35z" fill="#ea7457" shape-rendering="crispEdges"/>
<path d="M195.71 308.8h5.35v5.01h-5.35zM243.82 318.8h5.35v5.01h-5.35zM94.15 343.8h5.35v5.01h-5.35zM126.22 348.8h5.35v5.01h-5.35zM126.22 368.9h5.35v5.01h-5.35zM158.30 373.9h5.35v5.01h-5.35zM243.82 378.9h5.35v5.01h-5.35zM254.51 409.0h5.35v5.01h-5.35zM78.12 414.0h5.35v5.01h-5.35zM110.19 419.0h5.35v5.01h-5.35zM115.53 429.0h5.35v5.01h-5.35zM99.50 434.1h5.35v5.01h-5.35zM168.99 449.1h5.35v5.01h-5.35zM238.47 449.1h5.35v5.01h-5.35zM120.88 454.1h5.35v5.01h-5.35zM67.43 464.1h5.35v5.01h-5.35zM233.13 464.1h5.35v5.01h-5.35zM56.74 469.1h5.35v5.01h-5.35zM99.50 469.1h5.35v5.01h-5.35zM51.39 474.1h5.35v5.01h-5.35zM120.88 479.1h5.35v5.01h-5.35zM136.91 484.2h5.35v5.01h-5.35zM99.50 494.2h5.35v5.01h-5.35z" fill="#310597" shape-rendering="crispEdges"/>
<path d="M222.44 308.8h5.35v5.01h-5.35zM46.05 323.8h5.35v5.01h-5.35zM120.88 333.8h5.35v5.01h-5.35zM206.40 434.1h5.35v5.01h-5.35z" fill="#f48849" shape-rendering="crispEdges"/>
<path d="M56.74 313.8h5.35v5.01h-5.35zM152.95 318.8h5.35v5.01h-5.35zM72.77 343.8h5.35v5.01h-5.35zM72.77 348.8h5.35v5.01h-5.35zM72.77 378.9h5.35v5.01h-5.35zM94.15 393.9h5.35v5.01h-5.35zM163.64 434.1h5.35v5.01h-5.35z" fill="#4c02a1" shape-rendering="crispEdges"/>
<path d="M163.64 313.8h5.35v5.01h-5.35zM254.51 313.8h5.35v5.01h-5.35zM67.43 318.8h5.35v5.01h-5.35zM40.70 358.9h5.35v5.01h-5.35zM110.19 378.9h5.35v5.01h-5.35zM142.26 388.9h5.35v5.01h-5.35zM211.75 393.9h5.35v5.01h-5.35zM56.74 414.0h5.35v5.01h-5.35zM147.60 439.1h5.35v5.01h-5.35zM40.70 444.1h5.35v5.01h-5.35zM40.70 449.1h5.35v5.01h-5.35zM222.44 459.1h5.35v5.01h-5.35zM206.40 469.1h5.35v5.01h-5.35zM136.91 474.1h5.35v5.01h-5.35zM78.12 489.2h5.35v5.01h-5.35zM158.30 494.2h5.35v5.01h-5.35zM243.82 494.2h5.35v5.01h-5.35z" fill="#5901a5" shape-rendering="crispEdges"/>
<path d="M110.19 328.8h5.35v5.01h-5.35zM201.06 378.9h5.35v5.01h-5.35zM56.74 388.9h5.35v5.01h-5.35zM83.46 393.9h5.35v5.01h-5.35zM179.68 414.0h5.35v5.01h-5.35zM147.60 419.0h5.35v5.01h-5.35zM142.26 444.1h5.35v5.01h-5.35zM88.81 454.1h5.35v5.01h-5.35zM243.82 459.1h5.35v5.01h-5.35z" fill="#5302a3" shape-rendering="crispEdges"/>
<path d="M174.33 368.9h5.35v5.01h-5.35z" fill="#ed7953" shape-rendering="crispEdges"/>
<path d="M174.33 439.1h5.35v5.01h-5.35zM163.64 494.2h5.35v5.01h-5.35z" fill="#46039f" shape-rendering="crispEdges"/>
<path d="M206.40 454.1h5.35v5.01h-5.35zM51.39 464.1h5.35v5.01h-5.35zM115.53 464.1h5.35v5.01h-5.35zM78.12 479.1h5.35v5.01h-5.35z" fill="#ef7e50" shape-rendering="crispEdges"/>
<rect x="40.7" y="283.9" width="224.5" height="4.80" fill="#000"/>
<g><circle cx="43.4" cy="286.3" r="1.3" fill="#5a3aa8"/><circle cx="43.4" cy="286.3" r="0.8" fill="#f2a24a"/><circle cx="47.8" cy="286.3" r="0.6" fill="#f2a24a"/><circle cx="49.6" cy="286.3" r="0.6" fill="#f2a24a"/><circle cx="54.1" cy="285.4" r="0.6" fill="#f2a24a"/><circle cx="54.1" cy="287.2" r="0.6" fill="#f2a24a"/><circle cx="59.4" cy="286.3" r="1.1" fill="#5a3aa8"/><circle cx="63.6" cy="286.3" r="0.5" fill="#f2a24a"/><circle cx="65.8" cy="286.3" r="0.5" fill="#f2a24a"/><circle cx="64.8" cy="285.2" r="0.5" fill="#f2a24a"/><circle cx="64.8" cy="287.4" r="0.5" fill="#f2a24a"/><circle cx="69.3" cy="285.5" r="0.5" fill="#f2a24a"/><circle cx="70.9" cy="285.5" r="0.5" fill="#f2a24a"/><circle cx="69.3" cy="287.1" r="0.5" fill="#f2a24a"/><circle cx="70.9" cy="287.1" r="0.5" fill="#f2a24a"/><circle cx="75.4" cy="286.3" r="1.3" fill="#5a3aa8"/><circle cx="75.4" cy="286.3" r="0.8" fill="#f2a24a"/><circle cx="79.9" cy="286.3" r="0.6" fill="#f2a24a"/><circle cx="81.7" cy="286.3" r="0.6" fill="#f2a24a"/><circle cx="86.1" cy="285.4" r="0.6" fill="#f2a24a"/><circle cx="86.1" cy="287.2" r="0.6" fill="#f2a24a"/><circle cx="91.5" cy="286.3" r="1.1" fill="#5a3aa8"/><circle cx="95.7" cy="286.3" r="0.5" fill="#f2a24a"/><circle cx="97.9" cy="286.3" r="0.5" fill="#f2a24a"/><circle cx="96.8" cy="285.2" r="0.5" fill="#f2a24a"/><circle cx="96.8" cy="287.4" r="0.5" fill="#f2a24a"/><circle cx="101.4" cy="285.5" r="0.5" fill="#f2a24a"/><circle cx="103.0" cy="285.5" r="0.5" fill="#f2a24a"/><circle cx="101.4" cy="287.1" r="0.5" fill="#f2a24a"/><circle cx="103.0" cy="287.1" r="0.5" fill="#f2a24a"/><circle cx="107.5" cy="286.3" r="1.3" fill="#5a3aa8"/><circle cx="107.5" cy="286.3" r="0.8" fill="#f2a24a"/><circle cx="112.0" cy="286.3" r="0.6" fill="#f2a24a"/><circle cx="113.8" cy="286.3" r="0.6" fill="#f2a24a"/><circle cx="118.2" cy="285.4" r="0.6" fill="#f2a24a"/><circle cx="118.2" cy="287.2" r="0.6" fill="#f2a24a"/><circle cx="123.5" cy="286.3" r="1.1" fill="#5a3aa8"/><circle cx="127.8" cy="286.3" r="0.5" fill="#f2a24a"/><circle cx="130.0" cy="286.3" r="0.5" fill="#f2a24a"/><circle cx="128.9" cy="285.2" r="0.5" fill="#f2a24a"/><circle cx="128.9" cy="287.4" r="0.5" fill="#f2a24a"/><circle cx="133.4" cy="285.5" r="0.5" fill="#f2a24a"/><circle cx="135.0" cy="285.5" r="0.5" fill="#f2a24a"/><circle cx="133.4" cy="287.1" r="0.5" fill="#f2a24a"/><circle cx="135.0" cy="287.1" r="0.5" fill="#f2a24a"/><circle cx="139.6" cy="286.3" r="1.3" fill="#5a3aa8"/><circle cx="139.6" cy="286.3" r="0.8" fill="#f2a24a"/><circle cx="144.0" cy="286.3" r="0.6" fill="#f2a24a"/><circle cx="145.8" cy="286.3" r="0.6" fill="#f2a24a"/><circle cx="150.3" cy="285.4" r="0.6" fill="#f2a24a"/><circle cx="150.3" cy="287.2" r="0.6" fill="#f2a24a"/><circle cx="155.6" cy="286.3" r="1.1" fill="#5a3aa8"/><circle cx="159.9" cy="286.3" r="0.5" fill="#f2a24a"/><circle cx="162.1" cy="286.3" r="0.5" fill="#f2a24a"/><circle cx="161.0" cy="285.2" r="0.5" fill="#f2a24a"/><circle cx="161.0" cy="287.4" r="0.5" fill="#f2a24a"/><circle cx="165.5" cy="285.5" r="0.5" fill="#f2a24a"/><circle cx="167.1" cy="285.5" r="0.5" fill="#f2a24a"/><circle cx="165.5" cy="287.1" r="0.5" fill="#f2a24a"/><circle cx="167.1" cy="287.1" r="0.5" fill="#f2a24a"/><circle cx="171.7" cy="286.3" r="1.3" fill="#5a3aa8"/><circle cx="171.7" cy="286.3" r="0.8" fill="#f2a24a"/><circle cx="176.1" cy="286.3" r="0.6" fill="#f2a24a"/><circle cx="177.9" cy="286.3" r="0.6" fill="#f2a24a"/><circle cx="182.3" cy="285.4" r="0.6" fill="#f2a24a"/><circle cx="182.3" cy="287.2" r="0.6" fill="#f2a24a"/><circle cx="187.7" cy="286.3" r="1.1" fill="#5a3aa8"/><circle cx="191.9" cy="286.3" r="0.5" fill="#f2a24a"/><circle cx="194.1" cy="286.3" r="0.5" fill="#f2a24a"/><circle cx="193.0" cy="285.2" r="0.5" fill="#f2a24a"/><circle cx="193.0" cy="287.4" r="0.5" fill="#f2a24a"/><circle cx="197.6" cy="285.5" r="0.5" fill="#f2a24a"/><circle cx="199.2" cy="285.5" r="0.5" fill="#f2a24a"/><circle cx="197.6" cy="287.1" r="0.5" fill="#f2a24a"/><circle cx="199.2" cy="287.1" r="0.5" fill="#f2a24a"/><circle cx="203.7" cy="286.3" r="1.3" fill="#5a3aa8"/><circle cx="203.7" cy="286.3" r="0.8" fill="#f2a24a"/><circle cx="208.2" cy="286.3" r="0.6" fill="#f2a24a"/><circle cx="210.0" cy="286.3" r="0.6" fill="#f2a24a"/><circle cx="214.4" cy="285.4" r="0.6" fill="#f2a24a"/><circle cx="214.4" cy="287.2" r="0.6" fill="#f2a24a"/><circle cx="219.8" cy="286.3" r="1.1" fill="#5a3aa8"/><circle cx="224.0" cy="286.3" r="0.5" fill="#f2a24a"/><circle cx="226.2" cy="286.3" r="0.5" fill="#f2a24a"/><circle cx="225.1" cy="285.2" r="0.5" fill="#f2a24a"/><circle cx="225.1" cy="287.4" r="0.5" fill="#f2a24a"/><circle cx="229.7" cy="285.5" r="0.5" fill="#f2a24a"/><circle cx="231.3" cy="285.5" r="0.5" fill="#f2a24a"/><circle cx="229.7" cy="287.1" r="0.5" fill="#f2a24a"/><circle cx="231.3" cy="287.1" r="0.5" fill="#f2a24a"/><circle cx="235.8" cy="286.3" r="1.3" fill="#5a3aa8"/><circle cx="235.8" cy="286.3" r="0.8" fill="#f2a24a"/><circle cx="240.2" cy="286.3" r="0.6" fill="#f2a24a"/><circle cx="242.1" cy="286.3" r="0.6" fill="#f2a24a"/><circle cx="246.5" cy="285.4" r="0.6" fill="#f2a24a"/><circle cx="246.5" cy="287.2" r="0.6" fill="#f2a24a"/><circle cx="251.8" cy="286.3" r="1.1" fill="#5a3aa8"/><circle cx="256.1" cy="286.3" r="0.5" fill="#f2a24a"/><circle cx="258.3" cy="286.3" r="0.5" fill="#f2a24a"/><circle cx="257.2" cy="285.2" r="0.5" fill="#f2a24a"/><circle cx="257.2" cy="287.4" r="0.5" fill="#f2a24a"/><circle cx="261.7" cy="285.5" r="0.5" fill="#f2a24a"/><circle cx="263.3" cy="285.5" r="0.5" fill="#f2a24a"/><circle cx="261.7" cy="287.1" r="0.5" fill="#f2a24a"/><circle cx="263.3" cy="287.1" r="0.5" fill="#f2a24a"/></g>
<rect x="35.3" y="288.7" width="5.40" height="210.5" fill="#000"/>
<g><circle cx="38.0" cy="291.2" r="1.1" fill="none" stroke="#c07060" stroke-width="0.5"/><circle cx="38.0" cy="296.2" r="1.3" fill="#5a3aa8"/><circle cx="38.0" cy="296.2" r="0.8" fill="#f2a24a"/><circle cx="37.1" cy="301.2" r="0.6" fill="#f2a24a"/><circle cx="38.9" cy="301.2" r="0.6" fill="#f2a24a"/><circle cx="37.1" cy="306.2" r="0.6" fill="#f2a24a"/><circle cx="38.9" cy="306.2" r="0.6" fill="#f2a24a"/><circle cx="37.1" cy="311.2" r="0.6" fill="#f2a24a"/><circle cx="38.9" cy="311.2" r="0.6" fill="#f2a24a"/><circle cx="38.0" cy="316.3" r="1.1" fill="none" stroke="#c07060" stroke-width="0.5"/><circle cx="38.0" cy="321.3" r="1.1" fill="none" stroke="#c07060" stroke-width="0.5"/><circle cx="36.9" cy="326.3" r="0.5" fill="#f2a24a"/><circle cx="39.1" cy="326.3" r="0.5" fill="#f2a24a"/><circle cx="38.0" cy="325.2" r="0.5" fill="#f2a24a"/><circle cx="38.0" cy="327.4" r="0.5" fill="#f2a24a"/><circle cx="38.0" cy="331.3" r="1.3" fill="#5a3aa8"/><circle cx="38.0" cy="331.3" r="0.8" fill="#f2a24a"/><circle cx="38.0" cy="336.3" r="1.3" fill="#5a3aa8"/><circle cx="38.0" cy="336.3" r="0.8" fill="#f2a24a"/><circle cx="38.0" cy="340.4" r="0.6" fill="#f2a24a"/><circle cx="38.0" cy="342.2" r="0.6" fill="#f2a24a"/><circle cx="38.0" cy="346.3" r="1.1" fill="#5a3aa8"/><circle cx="36.9" cy="351.4" r="0.5" fill="#f2a24a"/><circle cx="39.1" cy="351.4" r="0.5" fill="#f2a24a"/><circle cx="38.0" cy="350.2" r="0.5" fill="#f2a24a"/><circle cx="38.0" cy="352.4" r="0.5" fill="#f2a24a"/><circle cx="38.0" cy="356.4" r="1.1" fill="#5a3aa8"/><circle cx="38.0" cy="360.5" r="0.6" fill="#f2a24a"/><circle cx="38.0" cy="362.3" r="0.6" fill="#f2a24a"/><circle cx="37.1" cy="366.4" r="0.6" fill="#f2a24a"/><circle cx="38.9" cy="366.4" r="0.6" fill="#f2a24a"/><circle cx="37.2" cy="370.6" r="0.5" fill="#f2a24a"/><circle cx="38.8" cy="370.6" r="0.5" fill="#f2a24a"/><circle cx="37.2" cy="372.2" r="0.5" fill="#f2a24a"/><circle cx="38.8" cy="372.2" r="0.5" fill="#f2a24a"/><circle cx="37.2" cy="375.6" r="0.5" fill="#f2a24a"/><circle cx="38.8" cy="375.6" r="0.5" fill="#f2a24a"/><circle cx="37.2" cy="377.2" r="0.5" fill="#f2a24a"/><circle cx="38.8" cy="377.2" r="0.5" fill="#f2a24a"/><circle cx="38.0" cy="381.4" r="1.3" fill="#5a3aa8"/><circle cx="38.0" cy="381.4" r="0.8" fill="#f2a24a"/><circle cx="38.0" cy="386.4" r="1.3" fill="#5a3aa8"/><circle cx="38.0" cy="386.4" r="0.8" fill="#f2a24a"/><circle cx="38.0" cy="391.4" r="1.1" fill="#5a3aa8"/><circle cx="38.0" cy="396.5" r="1.1" fill="#5a3aa8"/><circle cx="38.0" cy="401.5" r="1.1" fill="none" stroke="#5a3aa8" stroke-width="0.6"/><circle cx="38.0" cy="401.5" r="0.4" fill="#f2a24a"/><circle cx="36.9" cy="406.5" r="0.5" fill="#f2a24a"/><circle cx="39.1" cy="406.5" r="0.5" fill="#f2a24a"/><circle cx="38.0" cy="405.4" r="0.5" fill="#f2a24a"/><circle cx="38.0" cy="407.6" r="0.5" fill="#f2a24a"/><circle cx="38.0" cy="411.5" r="1.1" fill="#5a3aa8"/><circle cx="38.0" cy="416.5" r="1.1" fill="#5a3aa8"/><circle cx="37.2" cy="420.7" r="0.5" fill="#f2a24a"/><circle cx="38.8" cy="420.7" r="0.5" fill="#f2a24a"/><circle cx="37.2" cy="422.3" r="0.5" fill="#f2a24a"/><circle cx="38.8" cy="422.3" r="0.5" fill="#f2a24a"/><circle cx="36.9" cy="426.5" r="0.5" fill="#f2a24a"/><circle cx="39.1" cy="426.5" r="0.5" fill="#f2a24a"/><circle cx="38.0" cy="425.4" r="0.5" fill="#f2a24a"/><circle cx="38.0" cy="427.6" r="0.5" fill="#f2a24a"/><circle cx="37.1" cy="431.5" r="0.6" fill="#f2a24a"/><circle cx="38.9" cy="431.5" r="0.6" fill="#f2a24a"/><circle cx="37.2" cy="435.8" r="0.5" fill="#f2a24a"/><circle cx="38.8" cy="435.8" r="0.5" fill="#f2a24a"/><circle cx="37.2" cy="437.4" r="0.5" fill="#f2a24a"/><circle cx="38.8" cy="437.4" r="0.5" fill="#f2a24a"/><circle cx="38.0" cy="441.6" r="1.1" fill="none" stroke="#c07060" stroke-width="0.5"/><circle cx="38.0" cy="446.6" r="1.1" fill="none" stroke="#5a3aa8" stroke-width="0.6"/><circle cx="38.0" cy="446.6" r="0.4" fill="#f2a24a"/><circle cx="38.0" cy="451.6" r="1.1" fill="none" stroke="#c07060" stroke-width="0.5"/><circle cx="38.0" cy="455.7" r="0.6" fill="#f2a24a"/><circle cx="38.0" cy="457.5" r="0.6" fill="#f2a24a"/><circle cx="38.0" cy="460.7" r="0.6" fill="#f2a24a"/><circle cx="38.0" cy="462.5" r="0.6" fill="#f2a24a"/><circle cx="37.2" cy="465.8" r="0.5" fill="#f2a24a"/><circle cx="38.8" cy="465.8" r="0.5" fill="#f2a24a"/><circle cx="37.2" cy="467.4" r="0.5" fill="#f2a24a"/><circle cx="38.8" cy="467.4" r="0.5" fill="#f2a24a"/><circle cx="37.2" cy="470.8" r="0.5" fill="#f2a24a"/><circle cx="38.8" cy="470.8" r="0.5" fill="#f2a24a"/><circle cx="37.2" cy="472.4" r="0.5" fill="#f2a24a"/><circle cx="38.8" cy="472.4" r="0.5" fill="#f2a24a"/><circle cx="37.2" cy="475.9" r="0.5" fill="#f2a24a"/><circle cx="38.8" cy="475.9" r="0.5" fill="#f2a24a"/><circle cx="37.2" cy="477.4" r="0.5" fill="#f2a24a"/><circle cx="38.8" cy="477.4" r="0.5" fill="#f2a24a"/><circle cx="38.0" cy="481.7" r="1.1" fill="none" stroke="#c07060" stroke-width="0.5"/><circle cx="38.0" cy="485.8" r="0.6" fill="#f2a24a"/><circle cx="38.0" cy="487.6" r="0.6" fill="#f2a24a"/><circle cx="38.0" cy="491.7" r="1.1" fill="none" stroke="#5a3aa8" stroke-width="0.6"/><circle cx="38.0" cy="491.7" r="0.4" fill="#f2a24a"/><circle cx="38.0" cy="496.7" r="1.3" fill="#5a3aa8"/><circle cx="38.0" cy="496.7" r="0.8" fill="#f2a24a"/></g>
<rect x="40.7" y="288.7" width="224.5" height="210.5" fill="none" stroke="#000" stroke-width="0.6"/>
<linearGradient id="gpl" x1="0" x2="0" y1="1" y2="0">
<stop offset="0.0" stop-color="#0d0887"/>
<stop offset="0.05" stop-color="#2a0593"/>
<stop offset="0.1" stop-color="#41049d"/>
<stop offset="0.15" stop-color="#5601a4"/>
<stop offset="0.2" stop-color="#6a00a8"/>
<stop offset="0.25" stop-color="#7e03a8"/>
<stop offset="0.3" stop-color="#8f0da4"/>
<stop offset="0.35" stop-color="#a11b9b"/>
<stop offset="0.4" stop-color="#b12a90"/>
<stop offset="0.45" stop-color="#bf3984"/>
<stop offset="0.5" stop-color="#cc4778"/>
<stop offset="0.55" stop-color="#d6556d"/>
<stop offset="0.6" stop-color="#e16462"/>
<stop offset="0.65" stop-color="#ea7457"/>
<stop offset="0.7" stop-color="#f2844b"/>
<stop offset="0.75" stop-color="#f89540"/>
<stop offset="0.8" stop-color="#fca636"/>
<stop offset="0.85" stop-color="#feba2c"/>
<stop offset="0.9" stop-color="#fcce25"/>
<stop offset="0.95" stop-color="#f7e425"/>
<stop offset="1.0" stop-color="#f0f921"/>
</linearGradient>
<rect x="278.8" y="288.9" width="11.3" height="210.8" fill="url(#gpl)" stroke="#000" stroke-width="0.6"/>
<line x1="290.1" x2="292.8" y1="288.9" y2="288.9" stroke="#000" stroke-width="0.6"/>
<text x="294.2" y="292.3" font-size="9.4" fill="#111" textLength="5.6" lengthAdjust="spacingAndGlyphs">0</text>
<line x1="290.1" x2="292.8" y1="324.0" y2="324.0" stroke="#000" stroke-width="0.6"/>
<text x="294.2" y="327.4" font-size="9.4" fill="#111" textLength="12.8" lengthAdjust="spacingAndGlyphs">−5</text>
<line x1="290.1" x2="292.8" y1="359.2" y2="359.2" stroke="#000" stroke-width="0.6"/>
<text x="294.2" y="362.6" font-size="9.4" fill="#111" textLength="18.3" lengthAdjust="spacingAndGlyphs">−10</text>
<line x1="290.1" x2="292.8" y1="394.3" y2="394.3" stroke="#000" stroke-width="0.6"/>
<text x="294.2" y="397.7" font-size="9.4" fill="#111" textLength="18.3" lengthAdjust="spacingAndGlyphs">−15</text>
<line x1="290.1" x2="292.8" y1="429.4" y2="429.4" stroke="#000" stroke-width="0.6"/>
<text x="294.2" y="432.8" font-size="9.4" fill="#111" textLength="18.3" lengthAdjust="spacingAndGlyphs">−20</text>
<line x1="290.1" x2="292.8" y1="464.6" y2="464.6" stroke="#000" stroke-width="0.6"/>
<text x="294.2" y="468.0" font-size="9.4" fill="#111" textLength="18.3" lengthAdjust="spacingAndGlyphs">−25</text>
<line x1="290.1" x2="292.8" y1="499.7" y2="499.7" stroke="#000" stroke-width="0.6"/>
<text x="294.2" y="503.1" font-size="9.4" fill="#111" textLength="18.3" lengthAdjust="spacingAndGlyphs">−30</text>
<text transform="translate(324.8,394.8) rotate(-90)" font-size="13.2" text-anchor="middle" textLength="125.5" lengthAdjust="spacingAndGlyphs" fill="#111">Power coupling (dB)</text>
<text x="336.3" y="281.2" font-size="16.6">c)</text>
<text x="475.6" y="279.6" font-size="8.3" font-weight="bold" text-anchor="middle" textLength="80.6" lengthAdjust="spacingAndGlyphs">6-mode waveguides</text>
<text transform="translate(347.4,392.3) rotate(-90)" font-size="8.3" font-weight="bold" text-anchor="middle" textLength="86.5" lengthAdjust="spacingAndGlyphs">42-mode waveguide</text>
<path d="M357.20 288.9h5.35v5.00h-5.35zM378.59 298.9h5.35v5.00h-5.35zM442.76 343.9h5.35v5.00h-5.35zM405.33 348.9h5.35v5.00h-5.35zM469.50 348.9h5.35v5.00h-5.35zM480.20 348.9h5.35v5.00h-5.35zM474.85 363.9h5.35v5.00h-5.35zM394.63 368.9h5.35v5.00h-5.35zM560.41 378.9h5.35v5.00h-5.35zM448.11 383.9h5.35v5.00h-5.35zM426.72 393.9h5.35v5.00h-5.35zM576.45 393.9h5.35v5.00h-5.35zM474.85 398.9h5.35v5.00h-5.35zM517.63 414.0h5.35v5.00h-5.35zM485.54 419.0h5.35v5.00h-5.35zM555.06 424.0h5.35v5.00h-5.35zM448.11 429.0h5.35v5.00h-5.35zM555.06 459.0h5.35v5.00h-5.35zM373.24 479.0h5.35v5.00h-5.35z" fill="#7a2050" shape-rendering="crispEdges"/>
<path d="M362.55 288.9h5.35v5.00h-5.35zM357.20 298.9h5.35v5.00h-5.35zM474.85 298.9h5.35v5.00h-5.35zM565.76 308.9h5.35v5.00h-5.35zM501.59 313.9h5.35v5.00h-5.35zM394.63 318.9h5.35v5.00h-5.35zM437.41 318.9h5.35v5.00h-5.35zM490.89 318.9h5.35v5.00h-5.35zM576.45 318.9h5.35v5.00h-5.35zM416.02 348.9h5.35v5.00h-5.35zM522.98 348.9h5.35v5.00h-5.35zM506.93 363.9h5.35v5.00h-5.35zM571.10 363.9h5.35v5.00h-5.35zM405.33 373.9h5.35v5.00h-5.35zM367.90 378.9h5.35v5.00h-5.35zM485.54 378.9h5.35v5.00h-5.35zM517.63 388.9h5.35v5.00h-5.35zM544.37 393.9h5.35v5.00h-5.35zM485.54 414.0h5.35v5.00h-5.35zM496.24 414.0h5.35v5.00h-5.35zM576.45 434.0h5.35v5.00h-5.35zM357.20 444.0h5.35v5.00h-5.35zM410.68 454.0h5.35v5.00h-5.35zM522.98 454.0h5.35v5.00h-5.35zM373.24 464.0h5.35v5.00h-5.35zM405.33 469.0h5.35v5.00h-5.35zM485.54 474.0h5.35v5.00h-5.35z" fill="#5e43a5" shape-rendering="crispEdges"/>
<path d="M367.90 288.9h5.35v5.00h-5.35zM458.80 288.9h5.35v5.00h-5.35zM437.41 293.9h5.35v5.00h-5.35zM490.89 293.9h5.35v5.00h-5.35zM539.02 298.9h5.35v5.00h-5.35zM373.24 308.9h5.35v5.00h-5.35zM399.98 318.9h5.35v5.00h-5.35zM506.93 323.9h5.35v5.00h-5.35zM576.45 323.9h5.35v5.00h-5.35zM512.28 333.9h5.35v5.00h-5.35zM533.67 333.9h5.35v5.00h-5.35zM453.46 348.9h5.35v5.00h-5.35zM389.29 353.9h5.35v5.00h-5.35zM421.37 353.9h5.35v5.00h-5.35zM383.94 358.9h5.35v5.00h-5.35zM362.55 363.9h5.35v5.00h-5.35zM410.68 388.9h5.35v5.00h-5.35zM437.41 398.9h5.35v5.00h-5.35zM458.80 409.0h5.35v5.00h-5.35zM528.32 409.0h5.35v5.00h-5.35zM544.37 409.0h5.35v5.00h-5.35zM362.55 419.0h5.35v5.00h-5.35zM432.07 419.0h5.35v5.00h-5.35zM448.11 419.0h5.35v5.00h-5.35zM528.32 419.0h5.35v5.00h-5.35zM383.94 424.0h5.35v5.00h-5.35zM501.59 424.0h5.35v5.00h-5.35zM549.71 429.0h5.35v5.00h-5.35zM565.76 429.0h5.35v5.00h-5.35zM362.55 439.0h5.35v5.00h-5.35zM367.90 439.0h5.35v5.00h-5.35zM389.29 439.0h5.35v5.00h-5.35zM544.37 444.0h5.35v5.00h-5.35zM555.06 449.0h5.35v5.00h-5.35zM539.02 454.0h5.35v5.00h-5.35zM410.68 464.0h5.35v5.00h-5.35zM501.59 469.0h5.35v5.00h-5.35zM469.50 484.0h5.35v5.00h-5.35zM378.59 489.0h5.35v5.00h-5.35zM426.72 489.0h5.35v5.00h-5.35zM453.46 489.0h5.35v5.00h-5.35zM528.32 489.0h5.35v5.00h-5.35zM448.11 494.0h5.35v5.00h-5.35zM453.46 494.0h5.35v5.00h-5.35zM517.63 494.0h5.35v5.00h-5.35z" fill="#cca287" shape-rendering="crispEdges"/>
<path d="M373.24 288.9h5.35v5.00h-5.35zM506.93 288.9h5.35v5.00h-5.35zM485.54 298.9h5.35v5.00h-5.35zM490.89 308.9h5.35v5.00h-5.35zM378.59 318.9h5.35v5.00h-5.35zM442.76 318.9h5.35v5.00h-5.35zM533.67 323.9h5.35v5.00h-5.35zM517.63 333.9h5.35v5.00h-5.35zM539.02 343.9h5.35v5.00h-5.35zM389.29 348.9h5.35v5.00h-5.35zM571.10 348.9h5.35v5.00h-5.35zM533.67 358.9h5.35v5.00h-5.35zM389.29 363.9h5.35v5.00h-5.35zM357.20 368.9h5.35v5.00h-5.35zM490.89 368.9h5.35v5.00h-5.35zM357.20 403.9h5.35v5.00h-5.35zM496.24 424.0h5.35v5.00h-5.35zM458.80 429.0h5.35v5.00h-5.35zM469.50 434.0h5.35v5.00h-5.35zM453.46 444.0h5.35v5.00h-5.35zM480.20 444.0h5.35v5.00h-5.35zM512.28 454.0h5.35v5.00h-5.35zM512.28 464.0h5.35v5.00h-5.35zM496.24 469.0h5.35v5.00h-5.35zM555.06 469.0h5.35v5.00h-5.35zM512.28 479.0h5.35v5.00h-5.35zM544.37 484.0h5.35v5.00h-5.35z" fill="#93b4c6" shape-rendering="crispEdges"/>
<path d="M378.59 288.9h5.35v5.00h-5.35zM448.11 288.9h5.35v5.00h-5.35zM571.10 298.9h5.35v5.00h-5.35zM367.90 303.9h5.35v5.00h-5.35zM357.20 318.9h5.35v5.00h-5.35zM539.02 318.9h5.35v5.00h-5.35zM560.41 318.9h5.35v5.00h-5.35zM528.32 343.9h5.35v5.00h-5.35zM410.68 348.9h5.35v5.00h-5.35zM432.07 348.9h5.35v5.00h-5.35zM357.20 363.9h5.35v5.00h-5.35zM367.90 368.9h5.35v5.00h-5.35zM555.06 368.9h5.35v5.00h-5.35zM528.32 373.9h5.35v5.00h-5.35zM480.20 383.9h5.35v5.00h-5.35zM506.93 383.9h5.35v5.00h-5.35zM367.90 388.9h5.35v5.00h-5.35zM394.63 388.9h5.35v5.00h-5.35zM378.59 398.9h5.35v5.00h-5.35zM389.29 398.9h5.35v5.00h-5.35zM442.76 398.9h5.35v5.00h-5.35zM522.98 414.0h5.35v5.00h-5.35zM373.24 424.0h5.35v5.00h-5.35zM394.63 424.0h5.35v5.00h-5.35zM464.15 424.0h5.35v5.00h-5.35zM373.24 439.0h5.35v5.00h-5.35zM469.50 444.0h5.35v5.00h-5.35zM362.55 449.0h5.35v5.00h-5.35zM432.07 454.0h5.35v5.00h-5.35zM357.20 474.0h5.35v5.00h-5.35zM410.68 474.0h5.35v5.00h-5.35zM501.59 474.0h5.35v5.00h-5.35zM571.10 474.0h5.35v5.00h-5.35zM367.90 484.0h5.35v5.00h-5.35z" fill="#80a5c3" shape-rendering="crispEdges"/>
<path d="M383.94 288.9h5.35v5.00h-5.35zM437.41 288.9h5.35v5.00h-5.35zM565.76 288.9h5.35v5.00h-5.35zM426.72 293.9h5.35v5.00h-5.35zM565.76 293.9h5.35v5.00h-5.35zM426.72 298.9h5.35v5.00h-5.35zM517.63 303.9h5.35v5.00h-5.35zM378.59 308.9h5.35v5.00h-5.35zM394.63 313.9h5.35v5.00h-5.35zM410.68 313.9h5.35v5.00h-5.35zM378.59 323.9h5.35v5.00h-5.35zM362.55 328.9h5.35v5.00h-5.35zM480.20 328.9h5.35v5.00h-5.35zM528.32 333.9h5.35v5.00h-5.35zM474.85 338.9h5.35v5.00h-5.35zM496.24 348.9h5.35v5.00h-5.35zM357.20 358.9h5.35v5.00h-5.35zM560.41 358.9h5.35v5.00h-5.35zM442.76 363.9h5.35v5.00h-5.35zM496.24 363.9h5.35v5.00h-5.35zM399.98 368.9h5.35v5.00h-5.35zM362.55 373.9h5.35v5.00h-5.35zM421.37 378.9h5.35v5.00h-5.35zM539.02 378.9h5.35v5.00h-5.35zM405.33 383.9h5.35v5.00h-5.35zM357.20 409.0h5.35v5.00h-5.35zM389.29 409.0h5.35v5.00h-5.35zM490.89 424.0h5.35v5.00h-5.35zM539.02 434.0h5.35v5.00h-5.35zM442.76 469.0h5.35v5.00h-5.35zM469.50 469.0h5.35v5.00h-5.35zM399.98 479.0h5.35v5.00h-5.35zM555.06 494.0h5.35v5.00h-5.35zM565.76 494.0h5.35v5.00h-5.35z" fill="#842550" shape-rendering="crispEdges"/>
<path d="M389.29 288.9h5.35v5.00h-5.35zM480.20 298.9h5.35v5.00h-5.35zM512.28 303.9h5.35v5.00h-5.35zM506.93 308.9h5.35v5.00h-5.35zM539.02 308.9h5.35v5.00h-5.35zM432.07 313.9h5.35v5.00h-5.35zM458.80 338.9h5.35v5.00h-5.35zM512.28 348.9h5.35v5.00h-5.35zM469.50 368.9h5.35v5.00h-5.35zM474.85 368.9h5.35v5.00h-5.35zM453.46 383.9h5.35v5.00h-5.35zM453.46 388.9h5.35v5.00h-5.35zM549.71 393.9h5.35v5.00h-5.35zM565.76 393.9h5.35v5.00h-5.35zM373.24 398.9h5.35v5.00h-5.35zM544.37 398.9h5.35v5.00h-5.35zM480.20 403.9h5.35v5.00h-5.35zM496.24 419.0h5.35v5.00h-5.35zM555.06 419.0h5.35v5.00h-5.35zM378.59 454.0h5.35v5.00h-5.35zM485.54 459.0h5.35v5.00h-5.35zM485.54 469.0h5.35v5.00h-5.35zM458.80 479.0h5.35v5.00h-5.35zM399.98 489.0h5.35v5.00h-5.35zM464.15 489.0h5.35v5.00h-5.35zM490.89 494.0h5.35v5.00h-5.35z" fill="#471340" shape-rendering="crispEdges"/>
<path d="M394.63 288.9h5.35v5.00h-5.35zM485.54 288.9h5.35v5.00h-5.35zM362.55 303.9h5.35v5.00h-5.35zM533.67 303.9h5.35v5.00h-5.35zM394.63 308.9h5.35v5.00h-5.35zM571.10 308.9h5.35v5.00h-5.35zM373.24 313.9h5.35v5.00h-5.35zM421.37 328.9h5.35v5.00h-5.35zM522.98 328.9h5.35v5.00h-5.35zM528.32 338.9h5.35v5.00h-5.35zM410.68 343.9h5.35v5.00h-5.35zM416.02 343.9h5.35v5.00h-5.35zM485.54 348.9h5.35v5.00h-5.35zM405.33 358.9h5.35v5.00h-5.35zM458.80 368.9h5.35v5.00h-5.35zM480.20 368.9h5.35v5.00h-5.35zM464.15 373.9h5.35v5.00h-5.35zM357.20 388.9h5.35v5.00h-5.35zM416.02 393.9h5.35v5.00h-5.35zM362.55 398.9h5.35v5.00h-5.35zM555.06 403.9h5.35v5.00h-5.35zM416.02 414.0h5.35v5.00h-5.35zM560.41 414.0h5.35v5.00h-5.35zM453.46 419.0h5.35v5.00h-5.35zM416.02 444.0h5.35v5.00h-5.35zM560.41 444.0h5.35v5.00h-5.35zM458.80 449.0h5.35v5.00h-5.35zM474.85 449.0h5.35v5.00h-5.35zM453.46 454.0h5.35v5.00h-5.35zM469.50 459.0h5.35v5.00h-5.35zM549.71 459.0h5.35v5.00h-5.35zM405.33 464.0h5.35v5.00h-5.35zM357.20 469.0h5.35v5.00h-5.35zM576.45 479.0h5.35v5.00h-5.35zM549.71 484.0h5.35v5.00h-5.35zM416.02 489.0h5.35v5.00h-5.35z" fill="#701c4e" shape-rendering="crispEdges"/>
<path d="M399.98 288.9h5.35v5.00h-5.35zM362.55 293.9h5.35v5.00h-5.35zM576.45 313.9h5.35v5.00h-5.35zM421.37 318.9h5.35v5.00h-5.35zM544.37 348.9h5.35v5.00h-5.35zM399.98 353.9h5.35v5.00h-5.35zM421.37 358.9h5.35v5.00h-5.35zM474.85 358.9h5.35v5.00h-5.35zM565.76 358.9h5.35v5.00h-5.35zM528.32 368.9h5.35v5.00h-5.35zM517.63 373.9h5.35v5.00h-5.35zM367.90 383.9h5.35v5.00h-5.35zM560.41 398.9h5.35v5.00h-5.35zM565.76 398.9h5.35v5.00h-5.35zM416.02 403.9h5.35v5.00h-5.35zM528.32 403.9h5.35v5.00h-5.35zM383.94 414.0h5.35v5.00h-5.35zM565.76 414.0h5.35v5.00h-5.35zM571.10 424.0h5.35v5.00h-5.35zM378.59 439.0h5.35v5.00h-5.35zM405.33 459.0h5.35v5.00h-5.35zM517.63 464.0h5.35v5.00h-5.35zM490.89 474.0h5.35v5.00h-5.35zM528.32 479.0h5.35v5.00h-5.35zM421.37 484.0h5.35v5.00h-5.35z" fill="#5b1648" shape-rendering="crispEdges"/>
<path d="M405.33 288.9h5.35v5.00h-5.35zM533.67 293.9h5.35v5.00h-5.35zM576.45 303.9h5.35v5.00h-5.35zM458.80 308.9h5.35v5.00h-5.35zM501.59 308.9h5.35v5.00h-5.35zM512.28 308.9h5.35v5.00h-5.35zM576.45 338.9h5.35v5.00h-5.35zM549.71 353.9h5.35v5.00h-5.35zM442.76 358.9h5.35v5.00h-5.35zM517.63 358.9h5.35v5.00h-5.35zM490.89 383.9h5.35v5.00h-5.35zM560.41 388.9h5.35v5.00h-5.35zM405.33 403.9h5.35v5.00h-5.35zM480.20 409.0h5.35v5.00h-5.35zM442.76 444.0h5.35v5.00h-5.35zM565.76 444.0h5.35v5.00h-5.35zM506.93 449.0h5.35v5.00h-5.35zM528.32 449.0h5.35v5.00h-5.35zM490.89 454.0h5.35v5.00h-5.35zM544.37 454.0h5.35v5.00h-5.35zM501.59 459.0h5.35v5.00h-5.35zM533.67 459.0h5.35v5.00h-5.35zM528.32 494.0h5.35v5.00h-5.35z" fill="#cdd3d8" shape-rendering="crispEdges"/>
<path d="M410.68 288.9h5.35v5.00h-5.35zM565.76 298.9h5.35v5.00h-5.35zM458.80 323.9h5.35v5.00h-5.35zM555.06 323.9h5.35v5.00h-5.35zM399.98 328.9h5.35v5.00h-5.35zM394.63 338.9h5.35v5.00h-5.35zM501.59 343.9h5.35v5.00h-5.35zM378.59 348.9h5.35v5.00h-5.35zM437.41 353.9h5.35v5.00h-5.35zM437.41 363.9h5.35v5.00h-5.35zM501.59 373.9h5.35v5.00h-5.35zM517.63 398.9h5.35v5.00h-5.35zM555.06 414.0h5.35v5.00h-5.35zM378.59 419.0h5.35v5.00h-5.35zM421.37 424.0h5.35v5.00h-5.35zM378.59 429.0h5.35v5.00h-5.35zM448.11 439.0h5.35v5.00h-5.35zM373.24 444.0h5.35v5.00h-5.35zM426.72 444.0h5.35v5.00h-5.35zM506.93 444.0h5.35v5.00h-5.35zM496.24 449.0h5.35v5.00h-5.35zM448.11 459.0h5.35v5.00h-5.35zM490.89 459.0h5.35v5.00h-5.35zM437.41 469.0h5.35v5.00h-5.35zM533.67 494.0h5.35v5.00h-5.35zM571.10 494.0h5.35v5.00h-5.35z" fill="#65194c" shape-rendering="crispEdges"/>
<path d="M416.02 288.9h5.35v5.00h-5.35zM490.89 288.9h5.35v5.00h-5.35zM367.90 293.9h5.35v5.00h-5.35zM394.63 298.9h5.35v5.00h-5.35zM490.89 298.9h5.35v5.00h-5.35zM405.33 318.9h5.35v5.00h-5.35zM464.15 348.9h5.35v5.00h-5.35zM432.07 358.9h5.35v5.00h-5.35zM458.80 358.9h5.35v5.00h-5.35zM528.32 358.9h5.35v5.00h-5.35zM378.59 363.9h5.35v5.00h-5.35zM357.20 378.9h5.35v5.00h-5.35zM490.89 393.9h5.35v5.00h-5.35zM389.29 403.9h5.35v5.00h-5.35zM367.90 414.0h5.35v5.00h-5.35zM399.98 419.0h5.35v5.00h-5.35zM367.90 429.0h5.35v5.00h-5.35zM480.20 434.0h5.35v5.00h-5.35zM442.76 439.0h5.35v5.00h-5.35zM405.33 444.0h5.35v5.00h-5.35zM539.02 444.0h5.35v5.00h-5.35zM426.72 449.0h5.35v5.00h-5.35zM480.20 449.0h5.35v5.00h-5.35zM496.24 459.0h5.35v5.00h-5.35zM464.15 464.0h5.35v5.00h-5.35zM426.72 469.0h5.35v5.00h-5.35zM490.89 469.0h5.35v5.00h-5.35zM560.41 469.0h5.35v5.00h-5.35zM357.20 479.0h5.35v5.00h-5.35z" fill="#421257" shape-rendering="crispEdges"/>
<path d="M421.37 288.9h5.35v5.00h-5.35zM501.59 288.9h5.35v5.00h-5.35zM517.63 288.9h5.35v5.00h-5.35zM533.67 298.9h5.35v5.00h-5.35zM485.54 308.9h5.35v5.00h-5.35zM539.02 313.9h5.35v5.00h-5.35zM517.63 318.9h5.35v5.00h-5.35zM474.85 323.9h5.35v5.00h-5.35zM426.72 328.9h5.35v5.00h-5.35zM421.37 343.9h5.35v5.00h-5.35zM448.11 353.9h5.35v5.00h-5.35zM544.37 368.9h5.35v5.00h-5.35zM469.50 373.9h5.35v5.00h-5.35zM394.63 378.9h5.35v5.00h-5.35zM528.32 378.9h5.35v5.00h-5.35zM496.24 383.9h5.35v5.00h-5.35zM490.89 388.9h5.35v5.00h-5.35zM405.33 414.0h5.35v5.00h-5.35zM533.67 424.0h5.35v5.00h-5.35zM421.37 434.0h5.35v5.00h-5.35zM458.80 444.0h5.35v5.00h-5.35zM539.02 449.0h5.35v5.00h-5.35zM565.76 454.0h5.35v5.00h-5.35zM512.28 469.0h5.35v5.00h-5.35zM517.63 474.0h5.35v5.00h-5.35zM522.98 489.0h5.35v5.00h-5.35zM367.90 494.0h5.35v5.00h-5.35zM560.41 494.0h5.35v5.00h-5.35z" fill="#7195c0" shape-rendering="crispEdges"/>
<path d="M426.72 288.9h5.35v5.00h-5.35zM496.24 288.9h5.35v5.00h-5.35zM421.37 293.9h5.35v5.00h-5.35zM399.98 308.9h5.35v5.00h-5.35zM426.72 313.9h5.35v5.00h-5.35zM453.46 318.9h5.35v5.00h-5.35zM506.93 318.9h5.35v5.00h-5.35zM539.02 323.9h5.35v5.00h-5.35zM576.45 328.9h5.35v5.00h-5.35zM539.02 333.9h5.35v5.00h-5.35zM448.11 338.9h5.35v5.00h-5.35zM448.11 348.9h5.35v5.00h-5.35zM458.80 348.9h5.35v5.00h-5.35zM432.07 353.9h5.35v5.00h-5.35zM442.76 368.9h5.35v5.00h-5.35zM539.02 368.9h5.35v5.00h-5.35zM571.10 373.9h5.35v5.00h-5.35zM469.50 378.9h5.35v5.00h-5.35zM394.63 383.9h5.35v5.00h-5.35zM421.37 388.9h5.35v5.00h-5.35zM469.50 393.9h5.35v5.00h-5.35zM539.02 398.9h5.35v5.00h-5.35zM474.85 403.9h5.35v5.00h-5.35zM490.89 409.0h5.35v5.00h-5.35zM539.02 409.0h5.35v5.00h-5.35zM464.15 439.0h5.35v5.00h-5.35zM501.59 439.0h5.35v5.00h-5.35zM533.67 449.0h5.35v5.00h-5.35zM373.24 459.0h5.35v5.00h-5.35zM544.37 464.0h5.35v5.00h-5.35zM458.80 469.0h5.35v5.00h-5.35zM506.93 494.0h5.35v5.00h-5.35z" fill="#c58468" shape-rendering="crispEdges"/>
<path d="M432.07 288.9h5.35v5.00h-5.35zM383.94 293.9h5.35v5.00h-5.35zM496.24 308.9h5.35v5.00h-5.35zM362.55 313.9h5.35v5.00h-5.35zM480.20 353.9h5.35v5.00h-5.35zM565.76 368.9h5.35v5.00h-5.35zM485.54 373.9h5.35v5.00h-5.35zM490.89 378.9h5.35v5.00h-5.35zM576.45 398.9h5.35v5.00h-5.35zM383.94 409.0h5.35v5.00h-5.35zM501.59 414.0h5.35v5.00h-5.35zM490.89 419.0h5.35v5.00h-5.35zM560.41 424.0h5.35v5.00h-5.35zM485.54 444.0h5.35v5.00h-5.35zM362.55 454.0h5.35v5.00h-5.35zM442.76 479.0h5.35v5.00h-5.35zM490.89 484.0h5.35v5.00h-5.35zM544.37 494.0h5.35v5.00h-5.35z" fill="#ab4b50" shape-rendering="crispEdges"/>
<path d="M442.76 288.9h5.35v5.00h-5.35zM480.20 288.9h5.35v5.00h-5.35zM517.63 293.9h5.35v5.00h-5.35zM469.50 298.9h5.35v5.00h-5.35zM410.68 308.9h5.35v5.00h-5.35zM437.41 308.9h5.35v5.00h-5.35zM389.29 318.9h5.35v5.00h-5.35zM474.85 318.9h5.35v5.00h-5.35zM522.98 318.9h5.35v5.00h-5.35zM362.55 333.9h5.35v5.00h-5.35zM373.24 333.9h5.35v5.00h-5.35zM544.37 333.9h5.35v5.00h-5.35zM565.76 333.9h5.35v5.00h-5.35zM490.89 338.9h5.35v5.00h-5.35zM357.20 353.9h5.35v5.00h-5.35zM480.20 363.9h5.35v5.00h-5.35zM549.71 363.9h5.35v5.00h-5.35zM378.59 383.9h5.35v5.00h-5.35zM474.85 383.9h5.35v5.00h-5.35zM485.54 383.9h5.35v5.00h-5.35zM426.72 388.9h5.35v5.00h-5.35zM383.94 398.9h5.35v5.00h-5.35zM357.20 414.0h5.35v5.00h-5.35zM480.20 414.0h5.35v5.00h-5.35zM426.72 434.0h5.35v5.00h-5.35zM453.46 434.0h5.35v5.00h-5.35zM496.24 434.0h5.35v5.00h-5.35zM571.10 434.0h5.35v5.00h-5.35zM474.85 439.0h5.35v5.00h-5.35zM528.32 439.0h5.35v5.00h-5.35zM394.63 454.0h5.35v5.00h-5.35zM474.85 454.0h5.35v5.00h-5.35zM367.90 469.0h5.35v5.00h-5.35zM453.46 474.0h5.35v5.00h-5.35zM533.67 474.0h5.35v5.00h-5.35zM544.37 479.0h5.35v5.00h-5.35zM469.50 494.0h5.35v5.00h-5.35z" fill="#4f1972" shape-rendering="crispEdges"/>
<path d="M453.46 288.9h5.35v5.00h-5.35zM496.24 323.9h5.35v5.00h-5.35zM453.46 328.9h5.35v5.00h-5.35zM362.55 343.9h5.35v5.00h-5.35zM549.71 343.9h5.35v5.00h-5.35zM458.80 363.9h5.35v5.00h-5.35zM506.93 368.9h5.35v5.00h-5.35zM533.67 368.9h5.35v5.00h-5.35zM533.67 373.9h5.35v5.00h-5.35zM512.28 378.9h5.35v5.00h-5.35zM383.94 383.9h5.35v5.00h-5.35zM362.55 388.9h5.35v5.00h-5.35zM448.11 398.9h5.35v5.00h-5.35zM442.76 409.0h5.35v5.00h-5.35zM469.50 409.0h5.35v5.00h-5.35zM442.76 419.0h5.35v5.00h-5.35zM490.89 434.0h5.35v5.00h-5.35zM437.41 439.0h5.35v5.00h-5.35zM533.67 444.0h5.35v5.00h-5.35zM405.33 454.0h5.35v5.00h-5.35zM416.02 464.0h5.35v5.00h-5.35zM576.45 464.0h5.35v5.00h-5.35zM416.02 469.0h5.35v5.00h-5.35zM367.90 474.0h5.35v5.00h-5.35zM549.71 474.0h5.35v5.00h-5.35zM442.76 489.0h5.35v5.00h-5.35z" fill="#e2d9e2" shape-rendering="crispEdges"/>
<path d="M464.15 288.9h5.35v5.00h-5.35zM528.32 293.9h5.35v5.00h-5.35zM464.15 303.9h5.35v5.00h-5.35zM528.32 318.9h5.35v5.00h-5.35zM405.33 328.9h5.35v5.00h-5.35zM480.20 338.9h5.35v5.00h-5.35zM517.63 343.9h5.35v5.00h-5.35zM367.90 348.9h5.35v5.00h-5.35zM576.45 348.9h5.35v5.00h-5.35zM464.15 353.9h5.35v5.00h-5.35zM474.85 353.9h5.35v5.00h-5.35zM389.29 358.9h5.35v5.00h-5.35zM571.10 378.9h5.35v5.00h-5.35zM506.93 388.9h5.35v5.00h-5.35zM549.71 388.9h5.35v5.00h-5.35zM426.72 409.0h5.35v5.00h-5.35zM432.07 409.0h5.35v5.00h-5.35zM437.41 409.0h5.35v5.00h-5.35zM378.59 434.0h5.35v5.00h-5.35zM458.80 439.0h5.35v5.00h-5.35zM362.55 444.0h5.35v5.00h-5.35zM448.11 444.0h5.35v5.00h-5.35zM512.28 449.0h5.35v5.00h-5.35zM533.67 454.0h5.35v5.00h-5.35zM416.02 459.0h5.35v5.00h-5.35zM528.32 469.0h5.35v5.00h-5.35zM394.63 474.0h5.35v5.00h-5.35zM469.50 489.0h5.35v5.00h-5.35zM544.37 489.0h5.35v5.00h-5.35zM555.06 489.0h5.35v5.00h-5.35zM576.45 489.0h5.35v5.00h-5.35zM496.24 494.0h5.35v5.00h-5.35z" fill="#361142" shape-rendering="crispEdges"/>
<path d="M469.50 288.9h5.35v5.00h-5.35zM485.54 293.9h5.35v5.00h-5.35zM528.32 313.9h5.35v5.00h-5.35zM544.37 318.9h5.35v5.00h-5.35zM442.76 323.9h5.35v5.00h-5.35zM442.76 338.9h5.35v5.00h-5.35zM539.02 338.9h5.35v5.00h-5.35zM560.41 338.9h5.35v5.00h-5.35zM528.32 353.9h5.35v5.00h-5.35zM437.41 358.9h5.35v5.00h-5.35zM496.24 358.9h5.35v5.00h-5.35zM367.90 363.9h5.35v5.00h-5.35zM549.71 368.9h5.35v5.00h-5.35zM539.02 373.9h5.35v5.00h-5.35zM410.68 429.0h5.35v5.00h-5.35zM517.63 429.0h5.35v5.00h-5.35zM565.76 449.0h5.35v5.00h-5.35zM571.10 459.0h5.35v5.00h-5.35zM576.45 474.0h5.35v5.00h-5.35zM394.63 479.0h5.35v5.00h-5.35zM373.24 484.0h5.35v5.00h-5.35z" fill="#32123a" shape-rendering="crispEdges"/>
<path d="M474.85 288.9h5.35v5.00h-5.35zM522.98 288.9h5.35v5.00h-5.35zM432.07 293.9h5.35v5.00h-5.35zM362.55 298.9h5.35v5.00h-5.35zM389.29 298.9h5.35v5.00h-5.35zM480.20 303.9h5.35v5.00h-5.35zM506.93 328.9h5.35v5.00h-5.35zM555.06 338.9h5.35v5.00h-5.35zM399.98 348.9h5.35v5.00h-5.35zM522.98 353.9h5.35v5.00h-5.35zM464.15 363.9h5.35v5.00h-5.35zM469.50 363.9h5.35v5.00h-5.35zM522.98 363.9h5.35v5.00h-5.35zM421.37 373.9h5.35v5.00h-5.35zM389.29 383.9h5.35v5.00h-5.35zM373.24 388.9h5.35v5.00h-5.35zM501.59 388.9h5.35v5.00h-5.35zM410.68 398.9h5.35v5.00h-5.35zM512.28 398.9h5.35v5.00h-5.35zM357.20 419.0h5.35v5.00h-5.35zM485.54 429.0h5.35v5.00h-5.35zM383.94 449.0h5.35v5.00h-5.35zM442.76 449.0h5.35v5.00h-5.35zM442.76 454.0h5.35v5.00h-5.35zM469.50 454.0h5.35v5.00h-5.35zM383.94 469.0h5.35v5.00h-5.35zM437.41 479.0h5.35v5.00h-5.35zM496.24 489.0h5.35v5.00h-5.35z" fill="#5f58b0" shape-rendering="crispEdges"/>
<path d="M512.28 288.9h5.35v5.00h-5.35zM512.28 293.9h5.35v5.00h-5.35zM544.37 293.9h5.35v5.00h-5.35zM405.33 298.9h5.35v5.00h-5.35zM474.85 303.9h5.35v5.00h-5.35zM490.89 328.9h5.35v5.00h-5.35zM485.54 333.9h5.35v5.00h-5.35zM571.10 333.9h5.35v5.00h-5.35zM410.68 338.9h5.35v5.00h-5.35zM394.63 353.9h5.35v5.00h-5.35zM571.10 353.9h5.35v5.00h-5.35zM490.89 363.9h5.35v5.00h-5.35zM512.28 363.9h5.35v5.00h-5.35zM565.76 363.9h5.35v5.00h-5.35zM464.15 368.9h5.35v5.00h-5.35zM571.10 368.9h5.35v5.00h-5.35zM399.98 373.9h5.35v5.00h-5.35zM458.80 373.9h5.35v5.00h-5.35zM555.06 373.9h5.35v5.00h-5.35zM405.33 378.9h5.35v5.00h-5.35zM383.94 393.9h5.35v5.00h-5.35zM448.11 393.9h5.35v5.00h-5.35zM565.76 403.9h5.35v5.00h-5.35zM533.67 414.0h5.35v5.00h-5.35zM522.98 424.0h5.35v5.00h-5.35zM464.15 434.0h5.35v5.00h-5.35zM421.37 439.0h5.35v5.00h-5.35zM555.06 444.0h5.35v5.00h-5.35zM394.63 449.0h5.35v5.00h-5.35zM571.10 449.0h5.35v5.00h-5.35zM373.24 454.0h5.35v5.00h-5.35zM453.46 469.0h5.35v5.00h-5.35zM533.67 469.0h5.35v5.00h-5.35zM560.41 474.0h5.35v5.00h-5.35zM410.68 479.0h5.35v5.00h-5.35zM501.59 479.0h5.35v5.00h-5.35z" fill="#ca997c" shape-rendering="crispEdges"/>
<path d="M528.32 288.9h5.35v5.00h-5.35zM410.68 293.9h5.35v5.00h-5.35zM549.71 298.9h5.35v5.00h-5.35zM544.37 308.9h5.35v5.00h-5.35zM453.46 313.9h5.35v5.00h-5.35zM533.67 318.9h5.35v5.00h-5.35zM517.63 323.9h5.35v5.00h-5.35zM506.93 343.9h5.35v5.00h-5.35zM533.67 343.9h5.35v5.00h-5.35zM565.76 343.9h5.35v5.00h-5.35zM506.93 348.9h5.35v5.00h-5.35zM378.59 373.9h5.35v5.00h-5.35zM565.76 373.9h5.35v5.00h-5.35zM571.10 383.9h5.35v5.00h-5.35zM405.33 388.9h5.35v5.00h-5.35zM458.80 403.9h5.35v5.00h-5.35zM399.98 409.0h5.35v5.00h-5.35zM405.33 409.0h5.35v5.00h-5.35zM421.37 414.0h5.35v5.00h-5.35zM442.76 429.0h5.35v5.00h-5.35zM506.93 429.0h5.35v5.00h-5.35zM512.28 429.0h5.35v5.00h-5.35zM506.93 434.0h5.35v5.00h-5.35zM357.20 439.0h5.35v5.00h-5.35zM399.98 459.0h5.35v5.00h-5.35zM464.15 474.0h5.35v5.00h-5.35zM416.02 484.0h5.35v5.00h-5.35zM437.41 489.0h5.35v5.00h-5.35zM357.20 494.0h5.35v5.00h-5.35z" fill="#b15452" shape-rendering="crispEdges"/>
<path d="M533.67 288.9h5.35v5.00h-5.35zM357.20 293.9h5.35v5.00h-5.35zM544.37 303.9h5.35v5.00h-5.35zM576.45 308.9h5.35v5.00h-5.35zM448.11 318.9h5.35v5.00h-5.35zM389.29 328.9h5.35v5.00h-5.35zM549.71 328.9h5.35v5.00h-5.35zM421.37 338.9h5.35v5.00h-5.35zM432.07 338.9h5.35v5.00h-5.35zM571.10 343.9h5.35v5.00h-5.35zM501.59 348.9h5.35v5.00h-5.35zM560.41 348.9h5.35v5.00h-5.35zM378.59 358.9h5.35v5.00h-5.35zM383.94 363.9h5.35v5.00h-5.35zM399.98 363.9h5.35v5.00h-5.35zM448.11 363.9h5.35v5.00h-5.35zM448.11 373.9h5.35v5.00h-5.35zM367.90 393.9h5.35v5.00h-5.35zM522.98 403.9h5.35v5.00h-5.35zM496.24 409.0h5.35v5.00h-5.35zM458.80 419.0h5.35v5.00h-5.35zM560.41 439.0h5.35v5.00h-5.35zM389.29 459.0h5.35v5.00h-5.35zM533.67 464.0h5.35v5.00h-5.35zM549.71 464.0h5.35v5.00h-5.35zM571.10 464.0h5.35v5.00h-5.35zM539.02 479.0h5.35v5.00h-5.35zM474.85 484.0h5.35v5.00h-5.35zM512.28 484.0h5.35v5.00h-5.35z" fill="#d6d7dd" shape-rendering="crispEdges"/>
<path d="M539.02 288.9h5.35v5.00h-5.35zM555.06 288.9h5.35v5.00h-5.35zM432.07 303.9h5.35v5.00h-5.35zM458.80 303.9h5.35v5.00h-5.35zM367.90 308.9h5.35v5.00h-5.35zM469.50 308.9h5.35v5.00h-5.35zM373.24 328.9h5.35v5.00h-5.35zM512.28 328.9h5.35v5.00h-5.35zM426.72 343.9h5.35v5.00h-5.35zM437.41 343.9h5.35v5.00h-5.35zM458.80 343.9h5.35v5.00h-5.35zM416.02 353.9h5.35v5.00h-5.35zM490.89 358.9h5.35v5.00h-5.35zM485.54 363.9h5.35v5.00h-5.35zM474.85 378.9h5.35v5.00h-5.35zM373.24 383.9h5.35v5.00h-5.35zM576.45 383.9h5.35v5.00h-5.35zM549.71 403.9h5.35v5.00h-5.35zM474.85 419.0h5.35v5.00h-5.35zM480.20 424.0h5.35v5.00h-5.35zM549.71 444.0h5.35v5.00h-5.35zM501.59 449.0h5.35v5.00h-5.35zM464.15 469.0h5.35v5.00h-5.35zM544.37 474.0h5.35v5.00h-5.35zM405.33 484.0h5.35v5.00h-5.35z" fill="#371139" shape-rendering="crispEdges"/>
<path d="M544.37 288.9h5.35v5.00h-5.35zM432.07 298.9h5.35v5.00h-5.35zM496.24 298.9h5.35v5.00h-5.35zM399.98 303.9h5.35v5.00h-5.35zM410.68 303.9h5.35v5.00h-5.35zM474.85 308.9h5.35v5.00h-5.35zM378.59 313.9h5.35v5.00h-5.35zM565.76 313.9h5.35v5.00h-5.35zM367.90 323.9h5.35v5.00h-5.35zM565.76 338.9h5.35v5.00h-5.35zM539.02 358.9h5.35v5.00h-5.35zM389.29 378.9h5.35v5.00h-5.35zM421.37 383.9h5.35v5.00h-5.35zM458.80 383.9h5.35v5.00h-5.35zM458.80 388.9h5.35v5.00h-5.35zM410.68 403.9h5.35v5.00h-5.35zM490.89 403.9h5.35v5.00h-5.35zM549.71 434.0h5.35v5.00h-5.35zM485.54 439.0h5.35v5.00h-5.35zM496.24 439.0h5.35v5.00h-5.35zM528.32 444.0h5.35v5.00h-5.35zM432.07 449.0h5.35v5.00h-5.35zM501.59 454.0h5.35v5.00h-5.35zM378.59 469.0h5.35v5.00h-5.35zM394.63 469.0h5.35v5.00h-5.35zM571.10 469.0h5.35v5.00h-5.35zM501.59 484.0h5.35v5.00h-5.35zM362.55 494.0h5.35v5.00h-5.35zM539.02 494.0h5.35v5.00h-5.35z" fill="#5e4eab" shape-rendering="crispEdges"/>
<path d="M549.71 288.9h5.35v5.00h-5.35zM437.41 298.9h5.35v5.00h-5.35zM522.98 298.9h5.35v5.00h-5.35zM485.54 303.9h5.35v5.00h-5.35zM517.63 308.9h5.35v5.00h-5.35zM533.67 308.9h5.35v5.00h-5.35zM453.46 323.9h5.35v5.00h-5.35zM512.28 323.9h5.35v5.00h-5.35zM480.20 333.9h5.35v5.00h-5.35zM506.93 333.9h5.35v5.00h-5.35zM485.54 338.9h5.35v5.00h-5.35zM533.67 338.9h5.35v5.00h-5.35zM469.50 353.9h5.35v5.00h-5.35zM517.63 363.9h5.35v5.00h-5.35zM432.07 368.9h5.35v5.00h-5.35zM442.76 373.9h5.35v5.00h-5.35zM437.41 378.9h5.35v5.00h-5.35zM549.71 383.9h5.35v5.00h-5.35zM357.20 398.9h5.35v5.00h-5.35zM512.28 403.9h5.35v5.00h-5.35zM367.90 419.0h5.35v5.00h-5.35zM426.72 419.0h5.35v5.00h-5.35zM474.85 424.0h5.35v5.00h-5.35zM378.59 444.0h5.35v5.00h-5.35zM416.02 449.0h5.35v5.00h-5.35zM357.20 459.0h5.35v5.00h-5.35zM539.02 464.0h5.35v5.00h-5.35zM517.63 469.0h5.35v5.00h-5.35zM378.59 474.0h5.35v5.00h-5.35zM474.85 489.0h5.35v5.00h-5.35zM571.10 489.0h5.35v5.00h-5.35zM421.37 494.0h5.35v5.00h-5.35z" fill="#d8c6bd" shape-rendering="crispEdges"/>
<path d="M560.41 288.9h5.35v5.00h-5.35zM383.94 298.9h5.35v5.00h-5.35zM458.80 298.9h5.35v5.00h-5.35zM539.02 303.9h5.35v5.00h-5.35zM432.07 318.9h5.35v5.00h-5.35zM378.59 328.9h5.35v5.00h-5.35zM496.24 328.9h5.35v5.00h-5.35zM544.37 343.9h5.35v5.00h-5.35zM533.67 348.9h5.35v5.00h-5.35zM383.94 353.9h5.35v5.00h-5.35zM405.33 353.9h5.35v5.00h-5.35zM512.28 358.9h5.35v5.00h-5.35zM448.11 368.9h5.35v5.00h-5.35zM544.37 373.9h5.35v5.00h-5.35zM555.06 383.9h5.35v5.00h-5.35zM437.41 393.9h5.35v5.00h-5.35zM464.15 398.9h5.35v5.00h-5.35zM399.98 403.9h5.35v5.00h-5.35zM432.07 403.9h5.35v5.00h-5.35zM464.15 414.0h5.35v5.00h-5.35zM405.33 419.0h5.35v5.00h-5.35zM480.20 419.0h5.35v5.00h-5.35zM539.02 419.0h5.35v5.00h-5.35zM528.32 424.0h5.35v5.00h-5.35zM522.98 429.0h5.35v5.00h-5.35zM394.63 439.0h5.35v5.00h-5.35zM512.28 439.0h5.35v5.00h-5.35zM367.90 444.0h5.35v5.00h-5.35zM362.55 459.0h5.35v5.00h-5.35zM512.28 459.0h5.35v5.00h-5.35zM565.76 459.0h5.35v5.00h-5.35zM373.24 474.0h5.35v5.00h-5.35zM528.32 474.0h5.35v5.00h-5.35zM555.06 474.0h5.35v5.00h-5.35zM571.10 479.0h5.35v5.00h-5.35zM448.11 484.0h5.35v5.00h-5.35zM383.94 494.0h5.35v5.00h-5.35zM405.33 494.0h5.35v5.00h-5.35zM522.98 494.0h5.35v5.00h-5.35z" fill="#321237" shape-rendering="crispEdges"/>
<path d="M571.10 288.9h5.35v5.00h-5.35zM416.02 298.9h5.35v5.00h-5.35zM426.72 323.9h5.35v5.00h-5.35zM528.32 328.9h5.35v5.00h-5.35zM421.37 348.9h5.35v5.00h-5.35zM517.63 348.9h5.35v5.00h-5.35zM565.76 348.9h5.35v5.00h-5.35zM367.90 353.9h5.35v5.00h-5.35zM549.71 358.9h5.35v5.00h-5.35zM416.02 383.9h5.35v5.00h-5.35zM416.02 388.9h5.35v5.00h-5.35zM421.37 403.9h5.35v5.00h-5.35zM576.45 414.0h5.35v5.00h-5.35zM533.67 419.0h5.35v5.00h-5.35zM501.59 429.0h5.35v5.00h-5.35zM458.80 434.0h5.35v5.00h-5.35zM469.50 439.0h5.35v5.00h-5.35zM490.89 439.0h5.35v5.00h-5.35zM549.71 454.0h5.35v5.00h-5.35zM394.63 464.0h5.35v5.00h-5.35zM389.29 469.0h5.35v5.00h-5.35zM571.10 484.0h5.35v5.00h-5.35zM367.90 489.0h5.35v5.00h-5.35zM410.68 494.0h5.35v5.00h-5.35z" fill="#be705b" shape-rendering="crispEdges"/>
<path d="M576.45 288.9h5.35v5.00h-5.35zM389.29 308.9h5.35v5.00h-5.35zM571.10 313.9h5.35v5.00h-5.35zM410.68 318.9h5.35v5.00h-5.35zM464.15 318.9h5.35v5.00h-5.35zM485.54 318.9h5.35v5.00h-5.35zM383.94 323.9h5.35v5.00h-5.35zM410.68 328.9h5.35v5.00h-5.35zM448.11 328.9h5.35v5.00h-5.35zM367.90 333.9h5.35v5.00h-5.35zM426.72 333.9h5.35v5.00h-5.35zM576.45 333.9h5.35v5.00h-5.35zM437.41 348.9h5.35v5.00h-5.35zM555.06 358.9h5.35v5.00h-5.35zM405.33 368.9h5.35v5.00h-5.35zM383.94 373.9h5.35v5.00h-5.35zM410.68 378.9h5.35v5.00h-5.35zM426.72 378.9h5.35v5.00h-5.35zM432.07 378.9h5.35v5.00h-5.35zM389.29 393.9h5.35v5.00h-5.35zM399.98 393.9h5.35v5.00h-5.35zM469.50 398.9h5.35v5.00h-5.35zM453.46 403.9h5.35v5.00h-5.35zM464.15 403.9h5.35v5.00h-5.35zM571.10 419.0h5.35v5.00h-5.35zM357.20 434.0h5.35v5.00h-5.35zM517.63 434.0h5.35v5.00h-5.35zM517.63 449.0h5.35v5.00h-5.35zM522.98 449.0h5.35v5.00h-5.35zM426.72 454.0h5.35v5.00h-5.35zM383.94 464.0h5.35v5.00h-5.35zM389.29 464.0h5.35v5.00h-5.35zM555.06 464.0h5.35v5.00h-5.35zM453.46 479.0h5.35v5.00h-5.35zM565.76 479.0h5.35v5.00h-5.35zM480.20 489.0h5.35v5.00h-5.35zM549.71 494.0h5.35v5.00h-5.35z" fill="#5f61b4" shape-rendering="crispEdges"/>
<path d="M373.24 293.9h5.35v5.00h-5.35zM437.41 303.9h5.35v5.00h-5.35zM416.02 308.9h5.35v5.00h-5.35zM485.54 313.9h5.35v5.00h-5.35zM490.89 313.9h5.35v5.00h-5.35zM421.37 333.9h5.35v5.00h-5.35zM437.41 338.9h5.35v5.00h-5.35zM501.59 338.9h5.35v5.00h-5.35zM378.59 343.9h5.35v5.00h-5.35zM496.24 343.9h5.35v5.00h-5.35zM442.76 348.9h5.35v5.00h-5.35zM528.32 348.9h5.35v5.00h-5.35zM448.11 358.9h5.35v5.00h-5.35zM399.98 378.9h5.35v5.00h-5.35zM480.20 378.9h5.35v5.00h-5.35zM437.41 383.9h5.35v5.00h-5.35zM362.55 393.9h5.35v5.00h-5.35zM501.59 398.9h5.35v5.00h-5.35zM367.90 409.0h5.35v5.00h-5.35zM555.06 409.0h5.35v5.00h-5.35zM448.11 414.0h5.35v5.00h-5.35zM474.85 414.0h5.35v5.00h-5.35zM416.02 434.0h5.35v5.00h-5.35zM421.37 444.0h5.35v5.00h-5.35zM442.76 459.0h5.35v5.00h-5.35zM485.54 464.0h5.35v5.00h-5.35zM442.76 474.0h5.35v5.00h-5.35zM539.02 474.0h5.35v5.00h-5.35zM383.94 489.0h5.35v5.00h-5.35zM539.02 489.0h5.35v5.00h-5.35zM378.59 494.0h5.35v5.00h-5.35z" fill="#6b8dbf" shape-rendering="crispEdges"/>
<path d="M378.59 293.9h5.35v5.00h-5.35zM560.41 303.9h5.35v5.00h-5.35zM357.20 308.9h5.35v5.00h-5.35zM367.90 328.9h5.35v5.00h-5.35zM490.89 343.9h5.35v5.00h-5.35zM394.63 348.9h5.35v5.00h-5.35zM426.72 353.9h5.35v5.00h-5.35zM373.24 363.9h5.35v5.00h-5.35zM405.33 363.9h5.35v5.00h-5.35zM496.24 368.9h5.35v5.00h-5.35zM501.59 368.9h5.35v5.00h-5.35zM389.29 373.9h5.35v5.00h-5.35zM442.76 383.9h5.35v5.00h-5.35zM421.37 398.9h5.35v5.00h-5.35zM506.93 398.9h5.35v5.00h-5.35zM544.37 429.0h5.35v5.00h-5.35zM555.06 454.0h5.35v5.00h-5.35zM560.41 459.0h5.35v5.00h-5.35zM474.85 464.0h5.35v5.00h-5.35zM506.93 469.0h5.35v5.00h-5.35zM405.33 474.0h5.35v5.00h-5.35zM416.02 474.0h5.35v5.00h-5.35z" fill="#a54350" shape-rendering="crispEdges"/>
<path d="M389.29 293.9h5.35v5.00h-5.35zM496.24 293.9h5.35v5.00h-5.35zM522.98 323.9h5.35v5.00h-5.35zM501.59 333.9h5.35v5.00h-5.35zM544.37 338.9h5.35v5.00h-5.35zM522.98 343.9h5.35v5.00h-5.35zM362.55 353.9h5.35v5.00h-5.35zM506.93 353.9h5.35v5.00h-5.35zM399.98 358.9h5.35v5.00h-5.35zM480.20 358.9h5.35v5.00h-5.35zM496.24 373.9h5.35v5.00h-5.35zM512.28 373.9h5.35v5.00h-5.35zM442.76 378.9h5.35v5.00h-5.35zM533.67 378.9h5.35v5.00h-5.35zM410.68 383.9h5.35v5.00h-5.35zM485.54 388.9h5.35v5.00h-5.35zM453.46 393.9h5.35v5.00h-5.35zM485.54 403.9h5.35v5.00h-5.35zM571.10 409.0h5.35v5.00h-5.35zM399.98 424.0h5.35v5.00h-5.35zM506.93 424.0h5.35v5.00h-5.35zM442.76 434.0h5.35v5.00h-5.35zM383.94 454.0h5.35v5.00h-5.35zM560.41 454.0h5.35v5.00h-5.35zM469.50 464.0h5.35v5.00h-5.35zM565.76 464.0h5.35v5.00h-5.35zM549.71 469.0h5.35v5.00h-5.35zM565.76 469.0h5.35v5.00h-5.35zM480.20 484.0h5.35v5.00h-5.35z" fill="#e1d7dc" shape-rendering="crispEdges"/>
<path d="M394.63 293.9h5.35v5.00h-5.35zM469.50 293.9h5.35v5.00h-5.35zM453.46 303.9h5.35v5.00h-5.35zM469.50 303.9h5.35v5.00h-5.35zM458.80 313.9h5.35v5.00h-5.35zM533.67 313.9h5.35v5.00h-5.35zM410.68 323.9h5.35v5.00h-5.35zM410.68 363.9h5.35v5.00h-5.35zM426.72 368.9h5.35v5.00h-5.35zM453.46 368.9h5.35v5.00h-5.35zM560.41 368.9h5.35v5.00h-5.35zM506.93 373.9h5.35v5.00h-5.35zM362.55 383.9h5.35v5.00h-5.35zM544.37 383.9h5.35v5.00h-5.35zM357.20 393.9h5.35v5.00h-5.35zM416.02 409.0h5.35v5.00h-5.35zM464.15 419.0h5.35v5.00h-5.35zM565.76 419.0h5.35v5.00h-5.35zM383.94 444.0h5.35v5.00h-5.35zM357.20 449.0h5.35v5.00h-5.35zM405.33 449.0h5.35v5.00h-5.35zM453.46 449.0h5.35v5.00h-5.35zM464.15 449.0h5.35v5.00h-5.35zM528.32 454.0h5.35v5.00h-5.35zM426.72 459.0h5.35v5.00h-5.35zM367.90 464.0h5.35v5.00h-5.35zM522.98 479.0h5.35v5.00h-5.35z" fill="#dccdca" shape-rendering="crispEdges"/>
<path d="M399.98 293.9h5.35v5.00h-5.35zM448.11 293.9h5.35v5.00h-5.35zM464.15 298.9h5.35v5.00h-5.35zM576.45 298.9h5.35v5.00h-5.35zM383.94 308.9h5.35v5.00h-5.35zM426.72 318.9h5.35v5.00h-5.35zM474.85 328.9h5.35v5.00h-5.35zM490.89 333.9h5.35v5.00h-5.35zM405.33 338.9h5.35v5.00h-5.35zM517.63 353.9h5.35v5.00h-5.35zM426.72 383.9h5.35v5.00h-5.35zM501.59 383.9h5.35v5.00h-5.35zM426.72 398.9h5.35v5.00h-5.35zM539.02 403.9h5.35v5.00h-5.35zM373.24 414.0h5.35v5.00h-5.35zM512.28 424.0h5.35v5.00h-5.35zM517.63 424.0h5.35v5.00h-5.35zM480.20 429.0h5.35v5.00h-5.35zM512.28 434.0h5.35v5.00h-5.35zM421.37 459.0h5.35v5.00h-5.35zM432.07 474.0h5.35v5.00h-5.35zM480.20 479.0h5.35v5.00h-5.35zM560.41 489.0h5.35v5.00h-5.35z" fill="#647cbc" shape-rendering="crispEdges"/>
<path d="M405.33 293.9h5.35v5.00h-5.35zM544.37 298.9h5.35v5.00h-5.35zM506.93 303.9h5.35v5.00h-5.35zM555.06 303.9h5.35v5.00h-5.35zM389.29 313.9h5.35v5.00h-5.35zM405.33 323.9h5.35v5.00h-5.35zM442.76 328.9h5.35v5.00h-5.35zM469.50 328.9h5.35v5.00h-5.35zM571.10 328.9h5.35v5.00h-5.35zM416.02 333.9h5.35v5.00h-5.35zM458.80 378.9h5.35v5.00h-5.35zM496.24 378.9h5.35v5.00h-5.35zM432.07 388.9h5.35v5.00h-5.35zM565.76 388.9h5.35v5.00h-5.35zM522.98 419.0h5.35v5.00h-5.35zM357.20 424.0h5.35v5.00h-5.35zM576.45 424.0h5.35v5.00h-5.35zM496.24 429.0h5.35v5.00h-5.35zM539.02 429.0h5.35v5.00h-5.35zM560.41 434.0h5.35v5.00h-5.35zM544.37 439.0h5.35v5.00h-5.35zM560.41 464.0h5.35v5.00h-5.35zM448.11 474.0h5.35v5.00h-5.35zM357.20 489.0h5.35v5.00h-5.35zM512.28 489.0h5.35v5.00h-5.35zM565.76 489.0h5.35v5.00h-5.35z" fill="#58278b" shape-rendering="crispEdges"/>
<path d="M416.02 293.9h5.35v5.00h-5.35zM448.11 303.9h5.35v5.00h-5.35zM448.11 308.9h5.35v5.00h-5.35zM464.15 308.9h5.35v5.00h-5.35zM490.89 353.9h5.35v5.00h-5.35zM565.76 353.9h5.35v5.00h-5.35zM464.15 358.9h5.35v5.00h-5.35zM522.98 358.9h5.35v5.00h-5.35zM389.29 368.9h5.35v5.00h-5.35zM565.76 383.9h5.35v5.00h-5.35zM496.24 388.9h5.35v5.00h-5.35zM496.24 403.9h5.35v5.00h-5.35zM362.55 409.0h5.35v5.00h-5.35zM410.68 409.0h5.35v5.00h-5.35zM399.98 439.0h5.35v5.00h-5.35zM399.98 444.0h5.35v5.00h-5.35zM474.85 444.0h5.35v5.00h-5.35zM490.89 449.0h5.35v5.00h-5.35zM432.07 464.0h5.35v5.00h-5.35zM522.98 484.0h5.35v5.00h-5.35zM576.45 484.0h5.35v5.00h-5.35z" fill="#ddd9e0" shape-rendering="crispEdges"/>
<path d="M442.76 293.9h5.35v5.00h-5.35zM506.93 293.9h5.35v5.00h-5.35zM571.10 293.9h5.35v5.00h-5.35zM555.06 308.9h5.35v5.00h-5.35zM560.41 308.9h5.35v5.00h-5.35zM394.63 333.9h5.35v5.00h-5.35zM453.46 333.9h5.35v5.00h-5.35zM453.46 338.9h5.35v5.00h-5.35zM437.41 368.9h5.35v5.00h-5.35zM362.55 424.0h5.35v5.00h-5.35zM565.76 434.0h5.35v5.00h-5.35zM383.94 459.0h5.35v5.00h-5.35zM453.46 459.0h5.35v5.00h-5.35zM464.15 459.0h5.35v5.00h-5.35zM464.15 479.0h5.35v5.00h-5.35zM533.67 489.0h5.35v5.00h-5.35z" fill="#3c114b" shape-rendering="crispEdges"/>
<path d="M453.46 293.9h5.35v5.00h-5.35zM555.06 293.9h5.35v5.00h-5.35zM389.29 303.9h5.35v5.00h-5.35zM373.24 318.9h5.35v5.00h-5.35zM383.94 318.9h5.35v5.00h-5.35zM555.06 318.9h5.35v5.00h-5.35zM485.54 323.9h5.35v5.00h-5.35zM544.37 323.9h5.35v5.00h-5.35zM571.10 338.9h5.35v5.00h-5.35zM512.28 353.9h5.35v5.00h-5.35zM373.24 378.9h5.35v5.00h-5.35zM501.59 378.9h5.35v5.00h-5.35zM555.06 378.9h5.35v5.00h-5.35zM571.10 388.9h5.35v5.00h-5.35zM432.07 393.9h5.35v5.00h-5.35zM506.93 403.9h5.35v5.00h-5.35zM453.46 409.0h5.35v5.00h-5.35zM453.46 424.0h5.35v5.00h-5.35zM389.29 434.0h5.35v5.00h-5.35zM405.33 439.0h5.35v5.00h-5.35zM421.37 454.0h5.35v5.00h-5.35zM362.55 464.0h5.35v5.00h-5.35zM490.89 464.0h5.35v5.00h-5.35zM399.98 469.0h5.35v5.00h-5.35zM421.37 474.0h5.35v5.00h-5.35zM458.80 474.0h5.35v5.00h-5.35zM474.85 474.0h5.35v5.00h-5.35zM362.55 479.0h5.35v5.00h-5.35zM474.85 479.0h5.35v5.00h-5.35zM555.06 484.0h5.35v5.00h-5.35z" fill="#c27a61" shape-rendering="crispEdges"/>
<path d="M458.80 293.9h5.35v5.00h-5.35zM367.90 298.9h5.35v5.00h-5.35zM405.33 303.9h5.35v5.00h-5.35zM416.02 323.9h5.35v5.00h-5.35zM501.59 323.9h5.35v5.00h-5.35zM560.41 328.9h5.35v5.00h-5.35zM496.24 338.9h5.35v5.00h-5.35zM490.89 348.9h5.35v5.00h-5.35zM373.24 353.9h5.35v5.00h-5.35zM432.07 383.9h5.35v5.00h-5.35zM389.29 388.9h5.35v5.00h-5.35zM522.98 388.9h5.35v5.00h-5.35zM442.76 393.9h5.35v5.00h-5.35zM394.63 398.9h5.35v5.00h-5.35zM560.41 403.9h5.35v5.00h-5.35zM373.24 409.0h5.35v5.00h-5.35zM426.72 429.0h5.35v5.00h-5.35zM367.90 449.0h5.35v5.00h-5.35zM506.93 454.0h5.35v5.00h-5.35zM576.45 469.0h5.35v5.00h-5.35zM389.29 484.0h5.35v5.00h-5.35zM373.24 489.0h5.35v5.00h-5.35zM389.29 489.0h5.35v5.00h-5.35z" fill="#d4beaf" shape-rendering="crispEdges"/>
<path d="M464.15 293.9h5.35v5.00h-5.35zM560.41 298.9h5.35v5.00h-5.35zM448.11 313.9h5.35v5.00h-5.35zM464.15 323.9h5.35v5.00h-5.35zM565.76 323.9h5.35v5.00h-5.35zM378.59 333.9h5.35v5.00h-5.35zM389.29 333.9h5.35v5.00h-5.35zM448.11 333.9h5.35v5.00h-5.35zM394.63 358.9h5.35v5.00h-5.35zM544.37 358.9h5.35v5.00h-5.35zM394.63 363.9h5.35v5.00h-5.35zM517.63 378.9h5.35v5.00h-5.35zM549.71 378.9h5.35v5.00h-5.35zM517.63 383.9h5.35v5.00h-5.35zM464.15 388.9h5.35v5.00h-5.35zM464.15 409.0h5.35v5.00h-5.35zM512.28 409.0h5.35v5.00h-5.35zM426.72 424.0h5.35v5.00h-5.35zM432.07 429.0h5.35v5.00h-5.35zM539.02 439.0h5.35v5.00h-5.35zM378.59 449.0h5.35v5.00h-5.35zM448.11 449.0h5.35v5.00h-5.35zM469.50 449.0h5.35v5.00h-5.35zM549.71 449.0h5.35v5.00h-5.35zM357.20 454.0h5.35v5.00h-5.35zM480.20 454.0h5.35v5.00h-5.35zM432.07 489.0h5.35v5.00h-5.35zM517.63 489.0h5.35v5.00h-5.35z" fill="#89adc5" shape-rendering="crispEdges"/>
<path d="M474.85 293.9h5.35v5.00h-5.35zM522.98 293.9h5.35v5.00h-5.35zM539.02 293.9h5.35v5.00h-5.35zM496.24 303.9h5.35v5.00h-5.35zM405.33 308.9h5.35v5.00h-5.35zM416.02 313.9h5.35v5.00h-5.35zM399.98 323.9h5.35v5.00h-5.35zM437.41 323.9h5.35v5.00h-5.35zM357.20 328.9h5.35v5.00h-5.35zM522.98 338.9h5.35v5.00h-5.35zM394.63 343.9h5.35v5.00h-5.35zM383.94 388.9h5.35v5.00h-5.35zM442.76 388.9h5.35v5.00h-5.35zM373.24 393.9h5.35v5.00h-5.35zM517.63 403.9h5.35v5.00h-5.35zM571.10 403.9h5.35v5.00h-5.35zM448.11 409.0h5.35v5.00h-5.35zM512.28 414.0h5.35v5.00h-5.35zM432.07 424.0h5.35v5.00h-5.35zM528.32 429.0h5.35v5.00h-5.35zM383.94 439.0h5.35v5.00h-5.35zM517.63 439.0h5.35v5.00h-5.35zM437.41 444.0h5.35v5.00h-5.35zM448.11 469.0h5.35v5.00h-5.35zM469.50 474.0h5.35v5.00h-5.35zM416.02 479.0h5.35v5.00h-5.35zM549.71 479.0h5.35v5.00h-5.35zM437.41 484.0h5.35v5.00h-5.35z" fill="#779dc2" shape-rendering="crispEdges"/>
<path d="M480.20 293.9h5.35v5.00h-5.35zM373.24 298.9h5.35v5.00h-5.35zM501.59 298.9h5.35v5.00h-5.35zM480.20 308.9h5.35v5.00h-5.35zM357.20 313.9h5.35v5.00h-5.35zM383.94 313.9h5.35v5.00h-5.35zM383.94 328.9h5.35v5.00h-5.35zM501.59 328.9h5.35v5.00h-5.35zM565.76 328.9h5.35v5.00h-5.35zM378.59 338.9h5.35v5.00h-5.35zM506.93 338.9h5.35v5.00h-5.35zM357.20 343.9h5.35v5.00h-5.35zM560.41 363.9h5.35v5.00h-5.35zM517.63 368.9h5.35v5.00h-5.35zM549.71 373.9h5.35v5.00h-5.35zM378.59 388.9h5.35v5.00h-5.35zM480.20 393.9h5.35v5.00h-5.35zM533.67 393.9h5.35v5.00h-5.35zM501.59 403.9h5.35v5.00h-5.35zM458.80 414.0h5.35v5.00h-5.35zM389.29 444.0h5.35v5.00h-5.35zM399.98 449.0h5.35v5.00h-5.35zM394.63 459.0h5.35v5.00h-5.35zM528.32 459.0h5.35v5.00h-5.35zM539.02 459.0h5.35v5.00h-5.35zM410.68 469.0h5.35v5.00h-5.35zM389.29 474.0h5.35v5.00h-5.35zM426.72 474.0h5.35v5.00h-5.35zM533.67 479.0h5.35v5.00h-5.35zM442.76 484.0h5.35v5.00h-5.35zM464.15 484.0h5.35v5.00h-5.35zM426.72 494.0h5.35v5.00h-5.35zM501.59 494.0h5.35v5.00h-5.35z" fill="#963350" shape-rendering="crispEdges"/>
<path d="M501.59 293.9h5.35v5.00h-5.35zM410.68 298.9h5.35v5.00h-5.35zM528.32 298.9h5.35v5.00h-5.35zM522.98 313.9h5.35v5.00h-5.35zM560.41 313.9h5.35v5.00h-5.35zM560.41 323.9h5.35v5.00h-5.35zM442.76 353.9h5.35v5.00h-5.35zM416.02 358.9h5.35v5.00h-5.35zM469.50 358.9h5.35v5.00h-5.35zM421.37 368.9h5.35v5.00h-5.35zM410.68 373.9h5.35v5.00h-5.35zM522.98 383.9h5.35v5.00h-5.35zM469.50 388.9h5.35v5.00h-5.35zM367.90 403.9h5.35v5.00h-5.35zM421.37 409.0h5.35v5.00h-5.35zM421.37 419.0h5.35v5.00h-5.35zM517.63 419.0h5.35v5.00h-5.35zM571.10 429.0h5.35v5.00h-5.35zM399.98 434.0h5.35v5.00h-5.35zM501.59 464.0h5.35v5.00h-5.35zM544.37 469.0h5.35v5.00h-5.35z" fill="#aac2cc" shape-rendering="crispEdges"/>
<path d="M549.71 293.9h5.35v5.00h-5.35zM448.11 298.9h5.35v5.00h-5.35zM442.76 308.9h5.35v5.00h-5.35zM549.71 308.9h5.35v5.00h-5.35zM421.37 313.9h5.35v5.00h-5.35zM421.37 323.9h5.35v5.00h-5.35zM496.24 333.9h5.35v5.00h-5.35zM357.20 338.9h5.35v5.00h-5.35zM432.07 343.9h5.35v5.00h-5.35zM362.55 348.9h5.35v5.00h-5.35zM373.24 348.9h5.35v5.00h-5.35zM485.54 368.9h5.35v5.00h-5.35zM416.02 373.9h5.35v5.00h-5.35zM576.45 378.9h5.35v5.00h-5.35zM576.45 388.9h5.35v5.00h-5.35zM394.63 393.9h5.35v5.00h-5.35zM458.80 393.9h5.35v5.00h-5.35zM480.20 398.9h5.35v5.00h-5.35zM373.24 403.9h5.35v5.00h-5.35zM490.89 414.0h5.35v5.00h-5.35zM544.37 424.0h5.35v5.00h-5.35zM357.20 429.0h5.35v5.00h-5.35zM405.33 434.0h5.35v5.00h-5.35zM533.67 434.0h5.35v5.00h-5.35zM480.20 439.0h5.35v5.00h-5.35zM517.63 444.0h5.35v5.00h-5.35zM389.29 449.0h5.35v5.00h-5.35zM399.98 464.0h5.35v5.00h-5.35zM565.76 474.0h5.35v5.00h-5.35zM469.50 479.0h5.35v5.00h-5.35zM490.89 479.0h5.35v5.00h-5.35zM496.24 479.0h5.35v5.00h-5.35zM539.02 484.0h5.35v5.00h-5.35zM362.55 489.0h5.35v5.00h-5.35z" fill="#c78f72" shape-rendering="crispEdges"/>
<path d="M560.41 293.9h5.35v5.00h-5.35zM373.24 303.9h5.35v5.00h-5.35zM528.32 308.9h5.35v5.00h-5.35zM362.55 338.9h5.35v5.00h-5.35zM367.90 343.9h5.35v5.00h-5.35zM555.06 343.9h5.35v5.00h-5.35zM576.45 353.9h5.35v5.00h-5.35zM373.24 373.9h5.35v5.00h-5.35zM528.32 383.9h5.35v5.00h-5.35zM378.59 393.9h5.35v5.00h-5.35zM490.89 398.9h5.35v5.00h-5.35zM555.06 398.9h5.35v5.00h-5.35zM426.72 403.9h5.35v5.00h-5.35zM576.45 403.9h5.35v5.00h-5.35zM485.54 409.0h5.35v5.00h-5.35zM426.72 414.0h5.35v5.00h-5.35zM469.50 424.0h5.35v5.00h-5.35zM373.24 429.0h5.35v5.00h-5.35zM383.94 429.0h5.35v5.00h-5.35zM426.72 439.0h5.35v5.00h-5.35zM522.98 439.0h5.35v5.00h-5.35zM544.37 459.0h5.35v5.00h-5.35zM453.46 464.0h5.35v5.00h-5.35zM432.07 484.0h5.35v5.00h-5.35zM485.54 484.0h5.35v5.00h-5.35zM432.07 494.0h5.35v5.00h-5.35z" fill="#c2ced4" shape-rendering="crispEdges"/>
<path d="M576.45 293.9h5.35v5.00h-5.35zM421.37 298.9h5.35v5.00h-5.35zM383.94 303.9h5.35v5.00h-5.35zM426.72 303.9h5.35v5.00h-5.35zM528.32 303.9h5.35v5.00h-5.35zM357.20 323.9h5.35v5.00h-5.35zM410.68 333.9h5.35v5.00h-5.35zM437.41 333.9h5.35v5.00h-5.35zM576.45 363.9h5.35v5.00h-5.35zM560.41 393.9h5.35v5.00h-5.35zM544.37 403.9h5.35v5.00h-5.35zM437.41 424.0h5.35v5.00h-5.35zM442.76 424.0h5.35v5.00h-5.35zM410.68 439.0h5.35v5.00h-5.35zM496.24 444.0h5.35v5.00h-5.35zM576.45 444.0h5.35v5.00h-5.35zM373.24 469.0h5.35v5.00h-5.35zM405.33 479.0h5.35v5.00h-5.35zM410.68 489.0h5.35v5.00h-5.35zM389.29 494.0h5.35v5.00h-5.35zM474.85 494.0h5.35v5.00h-5.35zM480.20 494.0h5.35v5.00h-5.35z" fill="#8e2c50" shape-rendering="crispEdges"/>
<path d="M399.98 298.9h5.35v5.00h-5.35zM522.98 308.9h5.35v5.00h-5.35zM464.15 328.9h5.35v5.00h-5.35zM405.33 333.9h5.35v5.00h-5.35zM480.20 343.9h5.35v5.00h-5.35zM458.80 353.9h5.35v5.00h-5.35zM410.68 358.9h5.35v5.00h-5.35zM453.46 363.9h5.35v5.00h-5.35zM362.55 378.9h5.35v5.00h-5.35zM378.59 378.9h5.35v5.00h-5.35zM533.67 383.9h5.35v5.00h-5.35zM560.41 383.9h5.35v5.00h-5.35zM474.85 393.9h5.35v5.00h-5.35zM512.28 393.9h5.35v5.00h-5.35zM539.02 414.0h5.35v5.00h-5.35zM560.41 419.0h5.35v5.00h-5.35zM533.67 429.0h5.35v5.00h-5.35zM373.24 434.0h5.35v5.00h-5.35zM528.32 434.0h5.35v5.00h-5.35zM432.07 439.0h5.35v5.00h-5.35zM522.98 464.0h5.35v5.00h-5.35zM362.55 474.0h5.35v5.00h-5.35zM378.59 479.0h5.35v5.00h-5.35zM394.63 484.0h5.35v5.00h-5.35zM448.11 489.0h5.35v5.00h-5.35z" fill="#ceac94" shape-rendering="crispEdges"/>
<path d="M442.76 298.9h5.35v5.00h-5.35zM394.63 303.9h5.35v5.00h-5.35zM442.76 303.9h5.35v5.00h-5.35zM512.28 313.9h5.35v5.00h-5.35zM367.90 318.9h5.35v5.00h-5.35zM517.63 328.9h5.35v5.00h-5.35zM383.94 333.9h5.35v5.00h-5.35zM474.85 333.9h5.35v5.00h-5.35zM383.94 343.9h5.35v5.00h-5.35zM474.85 348.9h5.35v5.00h-5.35zM501.59 353.9h5.35v5.00h-5.35zM544.37 353.9h5.35v5.00h-5.35zM512.28 388.9h5.35v5.00h-5.35zM539.02 393.9h5.35v5.00h-5.35zM405.33 398.9h5.35v5.00h-5.35zM549.71 398.9h5.35v5.00h-5.35zM389.29 424.0h5.35v5.00h-5.35zM485.54 424.0h5.35v5.00h-5.35zM555.06 429.0h5.35v5.00h-5.35zM512.28 444.0h5.35v5.00h-5.35zM367.90 454.0h5.35v5.00h-5.35zM437.41 454.0h5.35v5.00h-5.35zM378.59 459.0h5.35v5.00h-5.35zM458.80 459.0h5.35v5.00h-5.35zM496.24 464.0h5.35v5.00h-5.35zM522.98 469.0h5.35v5.00h-5.35zM399.98 484.0h5.35v5.00h-5.35zM405.33 489.0h5.35v5.00h-5.35z" fill="#501444" shape-rendering="crispEdges"/>
<path d="M453.46 298.9h5.35v5.00h-5.35zM555.06 298.9h5.35v5.00h-5.35zM469.50 313.9h5.35v5.00h-5.35zM555.06 313.9h5.35v5.00h-5.35zM373.24 323.9h5.35v5.00h-5.35zM389.29 323.9h5.35v5.00h-5.35zM437.41 328.9h5.35v5.00h-5.35zM367.90 338.9h5.35v5.00h-5.35zM399.98 338.9h5.35v5.00h-5.35zM474.85 343.9h5.35v5.00h-5.35zM576.45 343.9h5.35v5.00h-5.35zM426.72 348.9h5.35v5.00h-5.35zM560.41 353.9h5.35v5.00h-5.35zM367.90 358.9h5.35v5.00h-5.35zM373.24 358.9h5.35v5.00h-5.35zM528.32 363.9h5.35v5.00h-5.35zM555.06 363.9h5.35v5.00h-5.35zM367.90 373.9h5.35v5.00h-5.35zM539.02 383.9h5.35v5.00h-5.35zM485.54 393.9h5.35v5.00h-5.35zM367.90 398.9h5.35v5.00h-5.35zM458.80 398.9h5.35v5.00h-5.35zM506.93 409.0h5.35v5.00h-5.35zM506.93 419.0h5.35v5.00h-5.35zM410.68 434.0h5.35v5.00h-5.35zM437.41 434.0h5.35v5.00h-5.35zM485.54 434.0h5.35v5.00h-5.35zM533.67 439.0h5.35v5.00h-5.35zM522.98 444.0h5.35v5.00h-5.35zM571.10 444.0h5.35v5.00h-5.35zM517.63 454.0h5.35v5.00h-5.35zM432.07 459.0h5.35v5.00h-5.35zM555.06 479.0h5.35v5.00h-5.35zM485.54 489.0h5.35v5.00h-5.35z" fill="#b6c8cf" shape-rendering="crispEdges"/>
<path d="M506.93 298.9h5.35v5.00h-5.35zM517.63 298.9h5.35v5.00h-5.35zM571.10 303.9h5.35v5.00h-5.35zM399.98 313.9h5.35v5.00h-5.35zM437.41 313.9h5.35v5.00h-5.35zM426.72 338.9h5.35v5.00h-5.35zM410.68 353.9h5.35v5.00h-5.35zM453.46 358.9h5.35v5.00h-5.35zM485.54 358.9h5.35v5.00h-5.35zM437.41 373.9h5.35v5.00h-5.35zM539.02 388.9h5.35v5.00h-5.35zM474.85 409.0h5.35v5.00h-5.35zM549.71 409.0h5.35v5.00h-5.35zM421.37 429.0h5.35v5.00h-5.35zM576.45 439.0h5.35v5.00h-5.35zM576.45 449.0h5.35v5.00h-5.35zM416.02 454.0h5.35v5.00h-5.35zM357.20 464.0h5.35v5.00h-5.35zM442.76 464.0h5.35v5.00h-5.35zM480.20 464.0h5.35v5.00h-5.35zM394.63 489.0h5.35v5.00h-5.35zM458.80 489.0h5.35v5.00h-5.35z" fill="#6173ba" shape-rendering="crispEdges"/>
<path d="M512.28 298.9h5.35v5.00h-5.35zM442.76 313.9h5.35v5.00h-5.35zM480.20 318.9h5.35v5.00h-5.35zM496.24 318.9h5.35v5.00h-5.35zM469.50 323.9h5.35v5.00h-5.35zM549.71 333.9h5.35v5.00h-5.35zM469.50 338.9h5.35v5.00h-5.35zM464.15 343.9h5.35v5.00h-5.35zM485.54 343.9h5.35v5.00h-5.35zM432.07 363.9h5.35v5.00h-5.35zM512.28 368.9h5.35v5.00h-5.35zM464.15 378.9h5.35v5.00h-5.35zM555.06 388.9h5.35v5.00h-5.35zM555.06 393.9h5.35v5.00h-5.35zM448.11 403.9h5.35v5.00h-5.35zM389.29 414.0h5.35v5.00h-5.35zM544.37 414.0h5.35v5.00h-5.35zM410.68 419.0h5.35v5.00h-5.35zM501.59 419.0h5.35v5.00h-5.35zM389.29 429.0h5.35v5.00h-5.35zM405.33 429.0h5.35v5.00h-5.35zM469.50 429.0h5.35v5.00h-5.35zM394.63 434.0h5.35v5.00h-5.35zM544.37 434.0h5.35v5.00h-5.35zM555.06 434.0h5.35v5.00h-5.35zM522.98 459.0h5.35v5.00h-5.35zM426.72 479.0h5.35v5.00h-5.35zM506.93 484.0h5.35v5.00h-5.35zM373.24 494.0h5.35v5.00h-5.35zM437.41 494.0h5.35v5.00h-5.35z" fill="#5d3a9e" shape-rendering="crispEdges"/>
<path d="M357.20 303.9h5.35v5.00h-5.35zM565.76 303.9h5.35v5.00h-5.35zM362.55 308.9h5.35v5.00h-5.35zM565.76 318.9h5.35v5.00h-5.35zM555.06 328.9h5.35v5.00h-5.35zM373.24 338.9h5.35v5.00h-5.35zM453.46 343.9h5.35v5.00h-5.35zM533.67 353.9h5.35v5.00h-5.35zM539.02 353.9h5.35v5.00h-5.35zM362.55 368.9h5.35v5.00h-5.35zM383.94 368.9h5.35v5.00h-5.35zM522.98 368.9h5.35v5.00h-5.35zM383.94 378.9h5.35v5.00h-5.35zM399.98 383.9h5.35v5.00h-5.35zM474.85 388.9h5.35v5.00h-5.35zM517.63 393.9h5.35v5.00h-5.35zM496.24 398.9h5.35v5.00h-5.35zM560.41 409.0h5.35v5.00h-5.35zM362.55 414.0h5.35v5.00h-5.35zM549.71 414.0h5.35v5.00h-5.35zM549.71 424.0h5.35v5.00h-5.35zM565.76 424.0h5.35v5.00h-5.35zM464.15 429.0h5.35v5.00h-5.35zM560.41 429.0h5.35v5.00h-5.35zM555.06 439.0h5.35v5.00h-5.35zM394.63 444.0h5.35v5.00h-5.35zM480.20 459.0h5.35v5.00h-5.35zM528.32 464.0h5.35v5.00h-5.35zM506.93 479.0h5.35v5.00h-5.35zM362.55 484.0h5.35v5.00h-5.35z" fill="#5b3095" shape-rendering="crispEdges"/>
<path d="M378.59 303.9h5.35v5.00h-5.35zM522.98 303.9h5.35v5.00h-5.35zM432.07 308.9h5.35v5.00h-5.35zM496.24 313.9h5.35v5.00h-5.35zM416.02 318.9h5.35v5.00h-5.35zM490.89 323.9h5.35v5.00h-5.35zM399.98 343.9h5.35v5.00h-5.35zM416.02 363.9h5.35v5.00h-5.35zM426.72 373.9h5.35v5.00h-5.35zM576.45 373.9h5.35v5.00h-5.35zM399.98 388.9h5.35v5.00h-5.35zM506.93 393.9h5.35v5.00h-5.35zM522.98 393.9h5.35v5.00h-5.35zM378.59 403.9h5.35v5.00h-5.35zM533.67 403.9h5.35v5.00h-5.35zM378.59 409.0h5.35v5.00h-5.35zM410.68 414.0h5.35v5.00h-5.35zM453.46 414.0h5.35v5.00h-5.35zM416.02 419.0h5.35v5.00h-5.35zM512.28 419.0h5.35v5.00h-5.35zM367.90 424.0h5.35v5.00h-5.35zM448.11 424.0h5.35v5.00h-5.35zM522.98 434.0h5.35v5.00h-5.35zM453.46 439.0h5.35v5.00h-5.35zM421.37 449.0h5.35v5.00h-5.35zM458.80 454.0h5.35v5.00h-5.35zM362.55 469.0h5.35v5.00h-5.35zM437.41 474.0h5.35v5.00h-5.35zM426.72 484.0h5.35v5.00h-5.35zM560.41 484.0h5.35v5.00h-5.35zM490.89 489.0h5.35v5.00h-5.35zM442.76 494.0h5.35v5.00h-5.35z" fill="#551f7f" shape-rendering="crispEdges"/>
<path d="M416.02 303.9h5.35v5.00h-5.35zM421.37 303.9h5.35v5.00h-5.35zM469.50 318.9h5.35v5.00h-5.35zM549.71 318.9h5.35v5.00h-5.35zM480.20 323.9h5.35v5.00h-5.35zM399.98 333.9h5.35v5.00h-5.35zM442.76 333.9h5.35v5.00h-5.35zM458.80 333.9h5.35v5.00h-5.35zM512.28 338.9h5.35v5.00h-5.35zM383.94 348.9h5.35v5.00h-5.35zM426.72 358.9h5.35v5.00h-5.35zM576.45 368.9h5.35v5.00h-5.35zM453.46 373.9h5.35v5.00h-5.35zM448.11 378.9h5.35v5.00h-5.35zM533.67 398.9h5.35v5.00h-5.35zM442.76 414.0h5.35v5.00h-5.35zM437.41 419.0h5.35v5.00h-5.35zM576.45 419.0h5.35v5.00h-5.35zM410.68 424.0h5.35v5.00h-5.35zM394.63 429.0h5.35v5.00h-5.35zM576.45 429.0h5.35v5.00h-5.35zM549.71 439.0h5.35v5.00h-5.35zM399.98 454.0h5.35v5.00h-5.35zM410.68 459.0h5.35v5.00h-5.35zM517.63 484.0h5.35v5.00h-5.35zM416.02 494.0h5.35v5.00h-5.35z" fill="#b65d54" shape-rendering="crispEdges"/>
<path d="M490.89 303.9h5.35v5.00h-5.35zM362.55 318.9h5.35v5.00h-5.35zM458.80 318.9h5.35v5.00h-5.35zM432.07 323.9h5.35v5.00h-5.35zM549.71 338.9h5.35v5.00h-5.35zM389.29 343.9h5.35v5.00h-5.35zM560.41 343.9h5.35v5.00h-5.35zM357.20 373.9h5.35v5.00h-5.35zM432.07 398.9h5.35v5.00h-5.35zM469.50 403.9h5.35v5.00h-5.35zM522.98 409.0h5.35v5.00h-5.35zM485.54 449.0h5.35v5.00h-5.35zM544.37 449.0h5.35v5.00h-5.35zM367.90 459.0h5.35v5.00h-5.35zM421.37 464.0h5.35v5.00h-5.35zM458.80 464.0h5.35v5.00h-5.35zM378.59 484.0h5.35v5.00h-5.35zM383.94 484.0h5.35v5.00h-5.35zM464.15 494.0h5.35v5.00h-5.35z" fill="#d1b5a1" shape-rendering="crispEdges"/>
<path d="M501.59 303.9h5.35v5.00h-5.35zM474.85 313.9h5.35v5.00h-5.35zM512.28 318.9h5.35v5.00h-5.35zM533.67 328.9h5.35v5.00h-5.35zM539.02 328.9h5.35v5.00h-5.35zM544.37 328.9h5.35v5.00h-5.35zM522.98 333.9h5.35v5.00h-5.35zM453.46 353.9h5.35v5.00h-5.35zM496.24 353.9h5.35v5.00h-5.35zM555.06 353.9h5.35v5.00h-5.35zM410.68 368.9h5.35v5.00h-5.35zM394.63 373.9h5.35v5.00h-5.35zM544.37 378.9h5.35v5.00h-5.35zM506.93 414.0h5.35v5.00h-5.35zM549.71 419.0h5.35v5.00h-5.35zM565.76 439.0h5.35v5.00h-5.35zM571.10 439.0h5.35v5.00h-5.35zM490.89 444.0h5.35v5.00h-5.35zM389.29 454.0h5.35v5.00h-5.35zM496.24 454.0h5.35v5.00h-5.35zM565.76 484.0h5.35v5.00h-5.35zM485.54 494.0h5.35v5.00h-5.35z" fill="#491564" shape-rendering="crispEdges"/>
<path d="M549.71 303.9h5.35v5.00h-5.35zM405.33 313.9h5.35v5.00h-5.35zM506.93 313.9h5.35v5.00h-5.35zM362.55 323.9h5.35v5.00h-5.35zM394.63 323.9h5.35v5.00h-5.35zM528.32 323.9h5.35v5.00h-5.35zM549.71 323.9h5.35v5.00h-5.35zM416.02 328.9h5.35v5.00h-5.35zM357.20 333.9h5.35v5.00h-5.35zM432.07 333.9h5.35v5.00h-5.35zM560.41 333.9h5.35v5.00h-5.35zM469.50 343.9h5.35v5.00h-5.35zM378.59 353.9h5.35v5.00h-5.35zM576.45 358.9h5.35v5.00h-5.35zM378.59 368.9h5.35v5.00h-5.35zM416.02 368.9h5.35v5.00h-5.35zM560.41 373.9h5.35v5.00h-5.35zM416.02 378.9h5.35v5.00h-5.35zM565.76 378.9h5.35v5.00h-5.35zM533.67 388.9h5.35v5.00h-5.35zM410.68 393.9h5.35v5.00h-5.35zM485.54 398.9h5.35v5.00h-5.35zM528.32 398.9h5.35v5.00h-5.35zM501.59 409.0h5.35v5.00h-5.35zM571.10 414.0h5.35v5.00h-5.35zM373.24 419.0h5.35v5.00h-5.35zM448.11 434.0h5.35v5.00h-5.35zM506.93 439.0h5.35v5.00h-5.35zM410.68 444.0h5.35v5.00h-5.35zM432.07 444.0h5.35v5.00h-5.35zM464.15 444.0h5.35v5.00h-5.35zM437.41 459.0h5.35v5.00h-5.35zM506.93 464.0h5.35v5.00h-5.35zM474.85 469.0h5.35v5.00h-5.35zM480.20 469.0h5.35v5.00h-5.35zM506.93 474.0h5.35v5.00h-5.35zM522.98 474.0h5.35v5.00h-5.35zM501.59 489.0h5.35v5.00h-5.35zM394.63 494.0h5.35v5.00h-5.35z" fill="#606ab7" shape-rendering="crispEdges"/>
<path d="M421.37 308.9h5.35v5.00h-5.35zM464.15 313.9h5.35v5.00h-5.35zM517.63 313.9h5.35v5.00h-5.35zM501.59 318.9h5.35v5.00h-5.35zM485.54 328.9h5.35v5.00h-5.35zM469.50 333.9h5.35v5.00h-5.35zM416.02 338.9h5.35v5.00h-5.35zM464.15 338.9h5.35v5.00h-5.35zM357.20 348.9h5.35v5.00h-5.35zM426.72 363.9h5.35v5.00h-5.35zM501.59 363.9h5.35v5.00h-5.35zM373.24 368.9h5.35v5.00h-5.35zM474.85 373.9h5.35v5.00h-5.35zM522.98 378.9h5.35v5.00h-5.35zM405.33 393.9h5.35v5.00h-5.35zM571.10 393.9h5.35v5.00h-5.35zM416.02 398.9h5.35v5.00h-5.35zM522.98 398.9h5.35v5.00h-5.35zM394.63 409.0h5.35v5.00h-5.35zM533.67 409.0h5.35v5.00h-5.35zM432.07 414.0h5.35v5.00h-5.35zM528.32 414.0h5.35v5.00h-5.35zM416.02 429.0h5.35v5.00h-5.35zM383.94 434.0h5.35v5.00h-5.35zM416.02 439.0h5.35v5.00h-5.35zM448.11 454.0h5.35v5.00h-5.35zM464.15 454.0h5.35v5.00h-5.35zM571.10 454.0h5.35v5.00h-5.35zM474.85 459.0h5.35v5.00h-5.35zM576.45 459.0h5.35v5.00h-5.35zM426.72 464.0h5.35v5.00h-5.35zM437.41 464.0h5.35v5.00h-5.35zM539.02 469.0h5.35v5.00h-5.35zM496.24 474.0h5.35v5.00h-5.35zM383.94 479.0h5.35v5.00h-5.35zM389.29 479.0h5.35v5.00h-5.35zM421.37 479.0h5.35v5.00h-5.35zM458.80 484.0h5.35v5.00h-5.35zM549.71 489.0h5.35v5.00h-5.35z" fill="#9ebbc9" shape-rendering="crispEdges"/>
<path d="M426.72 308.9h5.35v5.00h-5.35zM367.90 313.9h5.35v5.00h-5.35zM571.10 318.9h5.35v5.00h-5.35zM432.07 328.9h5.35v5.00h-5.35zM458.80 328.9h5.35v5.00h-5.35zM464.15 333.9h5.35v5.00h-5.35zM555.06 333.9h5.35v5.00h-5.35zM448.11 343.9h5.35v5.00h-5.35zM512.28 343.9h5.35v5.00h-5.35zM555.06 348.9h5.35v5.00h-5.35zM485.54 353.9h5.35v5.00h-5.35zM571.10 358.9h5.35v5.00h-5.35zM464.15 393.9h5.35v5.00h-5.35zM501.59 393.9h5.35v5.00h-5.35zM378.59 414.0h5.35v5.00h-5.35zM394.63 414.0h5.35v5.00h-5.35zM383.94 419.0h5.35v5.00h-5.35zM544.37 419.0h5.35v5.00h-5.35zM362.55 434.0h5.35v5.00h-5.35zM474.85 434.0h5.35v5.00h-5.35zM501.59 434.0h5.35v5.00h-5.35zM501.59 444.0h5.35v5.00h-5.35zM373.24 449.0h5.35v5.00h-5.35zM485.54 454.0h5.35v5.00h-5.35zM506.93 459.0h5.35v5.00h-5.35zM480.20 474.0h5.35v5.00h-5.35zM367.90 479.0h5.35v5.00h-5.35zM432.07 479.0h5.35v5.00h-5.35zM399.98 494.0h5.35v5.00h-5.35zM576.45 494.0h5.35v5.00h-5.35z" fill="#9e3b50" shape-rendering="crispEdges"/>
<path d="M453.46 308.9h5.35v5.00h-5.35zM544.37 313.9h5.35v5.00h-5.35zM549.71 313.9h5.35v5.00h-5.35zM383.94 338.9h5.35v5.00h-5.35zM539.02 348.9h5.35v5.00h-5.35zM539.02 363.9h5.35v5.00h-5.35zM544.37 363.9h5.35v5.00h-5.35zM506.93 378.9h5.35v5.00h-5.35zM528.32 388.9h5.35v5.00h-5.35zM571.10 398.9h5.35v5.00h-5.35zM442.76 403.9h5.35v5.00h-5.35zM389.29 419.0h5.35v5.00h-5.35zM378.59 424.0h5.35v5.00h-5.35zM458.80 424.0h5.35v5.00h-5.35zM362.55 429.0h5.35v5.00h-5.35zM474.85 429.0h5.35v5.00h-5.35zM367.90 434.0h5.35v5.00h-5.35zM437.41 449.0h5.35v5.00h-5.35zM485.54 479.0h5.35v5.00h-5.35zM560.41 479.0h5.35v5.00h-5.35zM410.68 484.0h5.35v5.00h-5.35zM421.37 489.0h5.35v5.00h-5.35zM458.80 494.0h5.35v5.00h-5.35z" fill="#6785be" shape-rendering="crispEdges"/>
<path d="M480.20 313.9h5.35v5.00h-5.35zM571.10 323.9h5.35v5.00h-5.35zM394.63 328.9h5.35v5.00h-5.35zM389.29 338.9h5.35v5.00h-5.35zM517.63 338.9h5.35v5.00h-5.35zM421.37 363.9h5.35v5.00h-5.35zM357.20 383.9h5.35v5.00h-5.35zM464.15 383.9h5.35v5.00h-5.35zM544.37 388.9h5.35v5.00h-5.35zM421.37 393.9h5.35v5.00h-5.35zM496.24 393.9h5.35v5.00h-5.35zM453.46 398.9h5.35v5.00h-5.35zM383.94 403.9h5.35v5.00h-5.35zM394.63 419.0h5.35v5.00h-5.35zM539.02 424.0h5.35v5.00h-5.35zM490.89 429.0h5.35v5.00h-5.35zM432.07 434.0h5.35v5.00h-5.35zM560.41 449.0h5.35v5.00h-5.35zM576.45 454.0h5.35v5.00h-5.35zM517.63 459.0h5.35v5.00h-5.35zM528.32 484.0h5.35v5.00h-5.35zM533.67 484.0h5.35v5.00h-5.35z" fill="#ded3d4" shape-rendering="crispEdges"/>
<path d="M448.11 323.9h5.35v5.00h-5.35zM373.24 343.9h5.35v5.00h-5.35zM405.33 343.9h5.35v5.00h-5.35zM362.55 358.9h5.35v5.00h-5.35zM501.59 358.9h5.35v5.00h-5.35zM533.67 363.9h5.35v5.00h-5.35zM432.07 373.9h5.35v5.00h-5.35zM480.20 373.9h5.35v5.00h-5.35zM490.89 373.9h5.35v5.00h-5.35zM522.98 373.9h5.35v5.00h-5.35zM453.46 378.9h5.35v5.00h-5.35zM469.50 383.9h5.35v5.00h-5.35zM399.98 398.9h5.35v5.00h-5.35zM394.63 403.9h5.35v5.00h-5.35zM437.41 403.9h5.35v5.00h-5.35zM565.76 409.0h5.35v5.00h-5.35zM399.98 414.0h5.35v5.00h-5.35zM437.41 414.0h5.35v5.00h-5.35zM469.50 414.0h5.35v5.00h-5.35zM469.50 419.0h5.35v5.00h-5.35zM405.33 424.0h5.35v5.00h-5.35zM437.41 429.0h5.35v5.00h-5.35zM453.46 429.0h5.35v5.00h-5.35zM410.68 449.0h5.35v5.00h-5.35zM432.07 469.0h5.35v5.00h-5.35zM383.94 474.0h5.35v5.00h-5.35zM399.98 474.0h5.35v5.00h-5.35zM512.28 474.0h5.35v5.00h-5.35zM453.46 484.0h5.35v5.00h-5.35zM506.93 489.0h5.35v5.00h-5.35z" fill="#ba6657" shape-rendering="crispEdges"/>
<path d="M549.71 348.9h5.35v5.00h-5.35zM506.93 358.9h5.35v5.00h-5.35zM512.28 383.9h5.35v5.00h-5.35zM437.41 388.9h5.35v5.00h-5.35zM448.11 388.9h5.35v5.00h-5.35zM480.20 388.9h5.35v5.00h-5.35zM528.32 393.9h5.35v5.00h-5.35zM362.55 403.9h5.35v5.00h-5.35zM517.63 409.0h5.35v5.00h-5.35zM576.45 409.0h5.35v5.00h-5.35zM416.02 424.0h5.35v5.00h-5.35zM399.98 429.0h5.35v5.00h-5.35zM378.59 464.0h5.35v5.00h-5.35zM448.11 464.0h5.35v5.00h-5.35zM421.37 469.0h5.35v5.00h-5.35zM448.11 479.0h5.35v5.00h-5.35zM517.63 479.0h5.35v5.00h-5.35zM357.20 484.0h5.35v5.00h-5.35zM496.24 484.0h5.35v5.00h-5.35zM512.28 494.0h5.35v5.00h-5.35z" fill="#3e113c" shape-rendering="crispEdges"/>
<rect x="357.2" y="283.8" width="224.6" height="5.10" fill="#000"/>
<g><circle cx="359.9" cy="286.4" r="1.3" fill="#5a3aa8"/><circle cx="359.9" cy="286.4" r="0.8" fill="#f2a24a"/><circle cx="364.3" cy="286.4" r="0.6" fill="#f2a24a"/><circle cx="366.1" cy="286.4" r="0.6" fill="#f2a24a"/><circle cx="370.6" cy="285.4" r="0.6" fill="#f2a24a"/><circle cx="370.6" cy="287.2" r="0.6" fill="#f2a24a"/><circle cx="375.9" cy="286.4" r="1.1" fill="#5a3aa8"/><circle cx="380.2" cy="286.4" r="0.5" fill="#f2a24a"/><circle cx="382.4" cy="286.4" r="0.5" fill="#f2a24a"/><circle cx="381.3" cy="285.2" r="0.5" fill="#f2a24a"/><circle cx="381.3" cy="287.4" r="0.5" fill="#f2a24a"/><circle cx="385.8" cy="285.6" r="0.5" fill="#f2a24a"/><circle cx="387.4" cy="285.6" r="0.5" fill="#f2a24a"/><circle cx="385.8" cy="287.1" r="0.5" fill="#f2a24a"/><circle cx="387.4" cy="287.1" r="0.5" fill="#f2a24a"/><circle cx="392.0" cy="286.4" r="1.3" fill="#5a3aa8"/><circle cx="392.0" cy="286.4" r="0.8" fill="#f2a24a"/><circle cx="396.4" cy="286.4" r="0.6" fill="#f2a24a"/><circle cx="398.2" cy="286.4" r="0.6" fill="#f2a24a"/><circle cx="402.6" cy="285.4" r="0.6" fill="#f2a24a"/><circle cx="402.6" cy="287.2" r="0.6" fill="#f2a24a"/><circle cx="408.0" cy="286.4" r="1.1" fill="#5a3aa8"/><circle cx="412.2" cy="286.4" r="0.5" fill="#f2a24a"/><circle cx="414.4" cy="286.4" r="0.5" fill="#f2a24a"/><circle cx="413.4" cy="285.2" r="0.5" fill="#f2a24a"/><circle cx="413.4" cy="287.4" r="0.5" fill="#f2a24a"/><circle cx="417.9" cy="285.6" r="0.5" fill="#f2a24a"/><circle cx="419.5" cy="285.6" r="0.5" fill="#f2a24a"/><circle cx="417.9" cy="287.1" r="0.5" fill="#f2a24a"/><circle cx="419.5" cy="287.1" r="0.5" fill="#f2a24a"/><circle cx="424.1" cy="286.4" r="1.3" fill="#5a3aa8"/><circle cx="424.1" cy="286.4" r="0.8" fill="#f2a24a"/><circle cx="428.5" cy="286.4" r="0.6" fill="#f2a24a"/><circle cx="430.3" cy="286.4" r="0.6" fill="#f2a24a"/><circle cx="434.7" cy="285.4" r="0.6" fill="#f2a24a"/><circle cx="434.7" cy="287.2" r="0.6" fill="#f2a24a"/><circle cx="440.1" cy="286.4" r="1.1" fill="#5a3aa8"/><circle cx="444.3" cy="286.4" r="0.5" fill="#f2a24a"/><circle cx="446.5" cy="286.4" r="0.5" fill="#f2a24a"/><circle cx="445.4" cy="285.2" r="0.5" fill="#f2a24a"/><circle cx="445.4" cy="287.4" r="0.5" fill="#f2a24a"/><circle cx="450.0" cy="285.6" r="0.5" fill="#f2a24a"/><circle cx="451.6" cy="285.6" r="0.5" fill="#f2a24a"/><circle cx="450.0" cy="287.1" r="0.5" fill="#f2a24a"/><circle cx="451.6" cy="287.1" r="0.5" fill="#f2a24a"/><circle cx="456.1" cy="286.4" r="1.3" fill="#5a3aa8"/><circle cx="456.1" cy="286.4" r="0.8" fill="#f2a24a"/><circle cx="460.6" cy="286.4" r="0.6" fill="#f2a24a"/><circle cx="462.4" cy="286.4" r="0.6" fill="#f2a24a"/><circle cx="466.8" cy="285.4" r="0.6" fill="#f2a24a"/><circle cx="466.8" cy="287.2" r="0.6" fill="#f2a24a"/><circle cx="472.2" cy="286.4" r="1.1" fill="#5a3aa8"/><circle cx="476.4" cy="286.4" r="0.5" fill="#f2a24a"/><circle cx="478.6" cy="286.4" r="0.5" fill="#f2a24a"/><circle cx="477.5" cy="285.2" r="0.5" fill="#f2a24a"/><circle cx="477.5" cy="287.4" r="0.5" fill="#f2a24a"/><circle cx="482.1" cy="285.6" r="0.5" fill="#f2a24a"/><circle cx="483.7" cy="285.6" r="0.5" fill="#f2a24a"/><circle cx="482.1" cy="287.1" r="0.5" fill="#f2a24a"/><circle cx="483.7" cy="287.1" r="0.5" fill="#f2a24a"/><circle cx="488.2" cy="286.4" r="1.3" fill="#5a3aa8"/><circle cx="488.2" cy="286.4" r="0.8" fill="#f2a24a"/><circle cx="492.7" cy="286.4" r="0.6" fill="#f2a24a"/><circle cx="494.5" cy="286.4" r="0.6" fill="#f2a24a"/><circle cx="498.9" cy="285.4" r="0.6" fill="#f2a24a"/><circle cx="498.9" cy="287.2" r="0.6" fill="#f2a24a"/><circle cx="504.3" cy="286.4" r="1.1" fill="#5a3aa8"/><circle cx="508.5" cy="286.4" r="0.5" fill="#f2a24a"/><circle cx="510.7" cy="286.4" r="0.5" fill="#f2a24a"/><circle cx="509.6" cy="285.2" r="0.5" fill="#f2a24a"/><circle cx="509.6" cy="287.4" r="0.5" fill="#f2a24a"/><circle cx="514.1" cy="285.6" r="0.5" fill="#f2a24a"/><circle cx="515.8" cy="285.6" r="0.5" fill="#f2a24a"/><circle cx="514.1" cy="287.1" r="0.5" fill="#f2a24a"/><circle cx="515.8" cy="287.1" r="0.5" fill="#f2a24a"/><circle cx="520.3" cy="286.4" r="1.3" fill="#5a3aa8"/><circle cx="520.3" cy="286.4" r="0.8" fill="#f2a24a"/><circle cx="524.8" cy="286.4" r="0.6" fill="#f2a24a"/><circle cx="526.5" cy="286.4" r="0.6" fill="#f2a24a"/><circle cx="531.0" cy="285.4" r="0.6" fill="#f2a24a"/><circle cx="531.0" cy="287.2" r="0.6" fill="#f2a24a"/><circle cx="536.4" cy="286.4" r="1.1" fill="#5a3aa8"/><circle cx="540.6" cy="286.4" r="0.5" fill="#f2a24a"/><circle cx="542.8" cy="286.4" r="0.5" fill="#f2a24a"/><circle cx="541.7" cy="285.2" r="0.5" fill="#f2a24a"/><circle cx="541.7" cy="287.4" r="0.5" fill="#f2a24a"/><circle cx="546.2" cy="285.6" r="0.5" fill="#f2a24a"/><circle cx="547.8" cy="285.6" r="0.5" fill="#f2a24a"/><circle cx="546.2" cy="287.1" r="0.5" fill="#f2a24a"/><circle cx="547.8" cy="287.1" r="0.5" fill="#f2a24a"/><circle cx="552.4" cy="286.4" r="1.3" fill="#5a3aa8"/><circle cx="552.4" cy="286.4" r="0.8" fill="#f2a24a"/><circle cx="556.8" cy="286.4" r="0.6" fill="#f2a24a"/><circle cx="558.6" cy="286.4" r="0.6" fill="#f2a24a"/><circle cx="563.1" cy="285.4" r="0.6" fill="#f2a24a"/><circle cx="563.1" cy="287.2" r="0.6" fill="#f2a24a"/><circle cx="568.4" cy="286.4" r="1.1" fill="#5a3aa8"/><circle cx="572.7" cy="286.4" r="0.5" fill="#f2a24a"/><circle cx="574.9" cy="286.4" r="0.5" fill="#f2a24a"/><circle cx="573.8" cy="285.2" r="0.5" fill="#f2a24a"/><circle cx="573.8" cy="287.4" r="0.5" fill="#f2a24a"/><circle cx="578.3" cy="285.6" r="0.5" fill="#f2a24a"/><circle cx="579.9" cy="285.6" r="0.5" fill="#f2a24a"/><circle cx="578.3" cy="287.1" r="0.5" fill="#f2a24a"/><circle cx="579.9" cy="287.1" r="0.5" fill="#f2a24a"/></g>
<rect x="352.3" y="288.9" width="4.90" height="210.1" fill="#000"/>
<g><circle cx="354.8" cy="291.4" r="1.1" fill="none" stroke="#c07060" stroke-width="0.5"/><circle cx="354.8" cy="296.4" r="1.3" fill="#5a3aa8"/><circle cx="354.8" cy="296.4" r="0.8" fill="#f2a24a"/><circle cx="353.9" cy="301.4" r="0.6" fill="#f2a24a"/><circle cx="355.6" cy="301.4" r="0.6" fill="#f2a24a"/><circle cx="353.9" cy="306.4" r="0.6" fill="#f2a24a"/><circle cx="355.6" cy="306.4" r="0.6" fill="#f2a24a"/><circle cx="353.9" cy="311.4" r="0.6" fill="#f2a24a"/><circle cx="355.6" cy="311.4" r="0.6" fill="#f2a24a"/><circle cx="354.8" cy="316.4" r="1.1" fill="none" stroke="#c07060" stroke-width="0.5"/><circle cx="354.8" cy="321.4" r="1.1" fill="none" stroke="#c07060" stroke-width="0.5"/><circle cx="353.6" cy="326.4" r="0.5" fill="#f2a24a"/><circle cx="355.9" cy="326.4" r="0.5" fill="#f2a24a"/><circle cx="354.8" cy="325.3" r="0.5" fill="#f2a24a"/><circle cx="354.8" cy="327.5" r="0.5" fill="#f2a24a"/><circle cx="354.8" cy="331.4" r="1.3" fill="#5a3aa8"/><circle cx="354.8" cy="331.4" r="0.8" fill="#f2a24a"/><circle cx="354.8" cy="336.4" r="1.3" fill="#5a3aa8"/><circle cx="354.8" cy="336.4" r="0.8" fill="#f2a24a"/><circle cx="354.8" cy="340.5" r="0.6" fill="#f2a24a"/><circle cx="354.8" cy="342.3" r="0.6" fill="#f2a24a"/><circle cx="354.8" cy="346.4" r="1.1" fill="#5a3aa8"/><circle cx="353.6" cy="351.4" r="0.5" fill="#f2a24a"/><circle cx="355.9" cy="351.4" r="0.5" fill="#f2a24a"/><circle cx="354.8" cy="350.3" r="0.5" fill="#f2a24a"/><circle cx="354.8" cy="352.5" r="0.5" fill="#f2a24a"/><circle cx="354.8" cy="356.4" r="1.1" fill="#5a3aa8"/><circle cx="354.8" cy="360.5" r="0.6" fill="#f2a24a"/><circle cx="354.8" cy="362.3" r="0.6" fill="#f2a24a"/><circle cx="353.9" cy="366.4" r="0.6" fill="#f2a24a"/><circle cx="355.6" cy="366.4" r="0.6" fill="#f2a24a"/><circle cx="353.9" cy="370.6" r="0.5" fill="#f2a24a"/><circle cx="355.6" cy="370.6" r="0.5" fill="#f2a24a"/><circle cx="353.9" cy="372.2" r="0.5" fill="#f2a24a"/><circle cx="355.6" cy="372.2" r="0.5" fill="#f2a24a"/><circle cx="353.9" cy="375.6" r="0.5" fill="#f2a24a"/><circle cx="355.6" cy="375.6" r="0.5" fill="#f2a24a"/><circle cx="353.9" cy="377.2" r="0.5" fill="#f2a24a"/><circle cx="355.6" cy="377.2" r="0.5" fill="#f2a24a"/><circle cx="354.8" cy="381.4" r="1.3" fill="#5a3aa8"/><circle cx="354.8" cy="381.4" r="0.8" fill="#f2a24a"/><circle cx="354.8" cy="386.4" r="1.3" fill="#5a3aa8"/><circle cx="354.8" cy="386.4" r="0.8" fill="#f2a24a"/><circle cx="354.8" cy="391.4" r="1.1" fill="#5a3aa8"/><circle cx="354.8" cy="396.4" r="1.1" fill="#5a3aa8"/><circle cx="354.8" cy="401.4" r="1.1" fill="none" stroke="#5a3aa8" stroke-width="0.6"/><circle cx="354.8" cy="401.4" r="0.4" fill="#f2a24a"/><circle cx="353.6" cy="406.5" r="0.5" fill="#f2a24a"/><circle cx="355.9" cy="406.5" r="0.5" fill="#f2a24a"/><circle cx="354.8" cy="405.4" r="0.5" fill="#f2a24a"/><circle cx="354.8" cy="407.6" r="0.5" fill="#f2a24a"/><circle cx="354.8" cy="411.5" r="1.1" fill="#5a3aa8"/><circle cx="354.8" cy="416.5" r="1.1" fill="#5a3aa8"/><circle cx="353.9" cy="420.7" r="0.5" fill="#f2a24a"/><circle cx="355.6" cy="420.7" r="0.5" fill="#f2a24a"/><circle cx="353.9" cy="422.3" r="0.5" fill="#f2a24a"/><circle cx="355.6" cy="422.3" r="0.5" fill="#f2a24a"/><circle cx="353.6" cy="426.5" r="0.5" fill="#f2a24a"/><circle cx="355.9" cy="426.5" r="0.5" fill="#f2a24a"/><circle cx="354.8" cy="425.4" r="0.5" fill="#f2a24a"/><circle cx="354.8" cy="427.6" r="0.5" fill="#f2a24a"/><circle cx="353.9" cy="431.5" r="0.6" fill="#f2a24a"/><circle cx="355.6" cy="431.5" r="0.6" fill="#f2a24a"/><circle cx="353.9" cy="435.7" r="0.5" fill="#f2a24a"/><circle cx="355.6" cy="435.7" r="0.5" fill="#f2a24a"/><circle cx="353.9" cy="437.3" r="0.5" fill="#f2a24a"/><circle cx="355.6" cy="437.3" r="0.5" fill="#f2a24a"/><circle cx="354.8" cy="441.5" r="1.1" fill="none" stroke="#c07060" stroke-width="0.5"/><circle cx="354.8" cy="446.5" r="1.1" fill="none" stroke="#5a3aa8" stroke-width="0.6"/><circle cx="354.8" cy="446.5" r="0.4" fill="#f2a24a"/><circle cx="354.8" cy="451.5" r="1.1" fill="none" stroke="#c07060" stroke-width="0.5"/><circle cx="354.8" cy="455.6" r="0.6" fill="#f2a24a"/><circle cx="354.8" cy="457.4" r="0.6" fill="#f2a24a"/><circle cx="354.8" cy="460.6" r="0.6" fill="#f2a24a"/><circle cx="354.8" cy="462.4" r="0.6" fill="#f2a24a"/><circle cx="353.9" cy="465.7" r="0.5" fill="#f2a24a"/><circle cx="355.6" cy="465.7" r="0.5" fill="#f2a24a"/><circle cx="353.9" cy="467.3" r="0.5" fill="#f2a24a"/><circle cx="355.6" cy="467.3" r="0.5" fill="#f2a24a"/><circle cx="353.9" cy="470.7" r="0.5" fill="#f2a24a"/><circle cx="355.6" cy="470.7" r="0.5" fill="#f2a24a"/><circle cx="353.9" cy="472.3" r="0.5" fill="#f2a24a"/><circle cx="355.6" cy="472.3" r="0.5" fill="#f2a24a"/><circle cx="353.9" cy="475.7" r="0.5" fill="#f2a24a"/><circle cx="355.6" cy="475.7" r="0.5" fill="#f2a24a"/><circle cx="353.9" cy="477.3" r="0.5" fill="#f2a24a"/><circle cx="355.6" cy="477.3" r="0.5" fill="#f2a24a"/><circle cx="354.8" cy="481.5" r="1.1" fill="none" stroke="#c07060" stroke-width="0.5"/><circle cx="354.8" cy="485.6" r="0.6" fill="#f2a24a"/><circle cx="354.8" cy="487.4" r="0.6" fill="#f2a24a"/><circle cx="354.8" cy="491.5" r="1.1" fill="none" stroke="#5a3aa8" stroke-width="0.6"/><circle cx="354.8" cy="491.5" r="0.4" fill="#f2a24a"/><circle cx="354.8" cy="496.5" r="1.3" fill="#5a3aa8"/><circle cx="354.8" cy="496.5" r="0.8" fill="#f2a24a"/></g>
<rect x="357.2" y="288.9" width="224.6" height="210.1" fill="none" stroke="#000" stroke-width="0.6"/>
<linearGradient id="gtw" x1="0" x2="0" y1="1" y2="0">
<stop offset="0.0" stop-color="#e2d9e2"/>
<stop offset="0.025" stop-color="#dad8df"/>
<stop offset="0.05" stop-color="#ccd2d8"/>
<stop offset="0.075" stop-color="#b9c9d0"/>
<stop offset="0.1" stop-color="#a6bfca"/>
<stop offset="0.125" stop-color="#95b5c7"/>
<stop offset="0.15" stop-color="#85a9c4"/>
<stop offset="0.175" stop-color="#779dc2"/>
<stop offset="0.2" stop-color="#6d90c0"/>
<stop offset="0.225" stop-color="#6684bd"/>
<stop offset="0.25" stop-color="#6276ba"/>
<stop offset="0.275" stop-color="#6067b6"/>
<stop offset="0.3" stop-color="#5f58b0"/>
<stop offset="0.325" stop-color="#5e49a9"/>
<stop offset="0.35" stop-color="#5d3a9e"/>
<stop offset="0.375" stop-color="#592a8f"/>
<stop offset="0.4" stop-color="#531e7c"/>
<stop offset="0.425" stop-color="#4b1668"/>
<stop offset="0.45" stop-color="#401253"/>
<stop offset="0.475" stop-color="#361142"/>
<stop offset="0.5" stop-color="#2f1436"/>
<stop offset="0.525" stop-color="#371139"/>
<stop offset="0.55" stop-color="#43123e"/>
<stop offset="0.575" stop-color="#531545"/>
<stop offset="0.6" stop-color="#64194b"/>
<stop offset="0.625" stop-color="#741e4f"/>
<stop offset="0.65" stop-color="#842550"/>
<stop offset="0.675" stop-color="#922f50"/>
<stop offset="0.7" stop-color="#9f3c50"/>
<stop offset="0.725" stop-color="#a94850"/>
<stop offset="0.75" stop-color="#b25652"/>
<stop offset="0.775" stop-color="#ba6557"/>
<stop offset="0.8" stop-color="#c0755e"/>
<stop offset="0.825" stop-color="#c58468"/>
<stop offset="0.85" stop-color="#c89477"/>
<stop offset="0.875" stop-color="#cca389"/>
<stop offset="0.9" stop-color="#d0b39e"/>
<stop offset="0.925" stop-color="#d5c0b3"/>
<stop offset="0.95" stop-color="#dbccc8"/>
<stop offset="0.975" stop-color="#e0d6d9"/>
<stop offset="1.0" stop-color="#e2d9e2"/>
</linearGradient>
<rect x="595.7" y="289.2" width="10.7" height="209.8" fill="url(#gtw)" stroke="#333" stroke-width="0.5"/>
<line x1="606.4" x2="609" y1="293.9" y2="293.9" stroke="#000" stroke-width="0.6"/>
<text x="610.3" y="297.3" font-size="9.4" fill="#111" textLength="5.6" lengthAdjust="spacingAndGlyphs">3</text>
<line x1="606.4" x2="609" y1="327.3" y2="327.3" stroke="#000" stroke-width="0.6"/>
<text x="610.3" y="330.7" font-size="9.4" fill="#111" textLength="5.6" lengthAdjust="spacingAndGlyphs">2</text>
<line x1="606.4" x2="609" y1="360.7" y2="360.7" stroke="#000" stroke-width="0.6"/>
<text x="610.3" y="364.1" font-size="9.4" fill="#111" textLength="5.6" lengthAdjust="spacingAndGlyphs">1</text>
<line x1="606.4" x2="609" y1="394.1" y2="394.1" stroke="#000" stroke-width="0.6"/>
<text x="610.3" y="397.5" font-size="9.4" fill="#111" textLength="5.6" lengthAdjust="spacingAndGlyphs">0</text>
<line x1="606.4" x2="609" y1="427.5" y2="427.5" stroke="#000" stroke-width="0.6"/>
<text x="610.3" y="430.9" font-size="9.4" fill="#111" textLength="12.8" lengthAdjust="spacingAndGlyphs">−1</text>
<line x1="606.4" x2="609" y1="460.9" y2="460.9" stroke="#000" stroke-width="0.6"/>
<text x="610.3" y="464.3" font-size="9.4" fill="#111" textLength="12.8" lengthAdjust="spacingAndGlyphs">−2</text>
<line x1="606.4" x2="609" y1="494.3" y2="494.3" stroke="#000" stroke-width="0.6"/>
<text x="610.3" y="497.7" font-size="9.4" fill="#111" textLength="12.8" lengthAdjust="spacingAndGlyphs">−3</text>
<text transform="translate(635.4,394.5) rotate(-90)" font-size="13.2" text-anchor="middle" textLength="100.5" lengthAdjust="spacingAndGlyphs" fill="#111">Phase (Radians)</text>
<text x="0" y="526.9" font-size="16.6">d)</text>
<line x1="65.0" x2="65.0" y1="512.6" y2="687.3" stroke="#c8c8c8" stroke-width="0.7"/>
<line x1="114.4" x2="114.4" y1="512.6" y2="687.3" stroke="#c8c8c8" stroke-width="0.7"/>
<line x1="163.8" x2="163.8" y1="512.6" y2="687.3" stroke="#c8c8c8" stroke-width="0.7"/>
<line x1="213.2" x2="213.2" y1="512.6" y2="687.3" stroke="#c8c8c8" stroke-width="0.7"/>
<line x1="262.6" x2="262.6" y1="512.6" y2="687.3" stroke="#c8c8c8" stroke-width="0.7"/>
<line x1="54.6" x2="277.1" y1="520.3" y2="520.3" stroke="#c8c8c8" stroke-width="0.7"/>
<line x1="54.6" x2="277.1" y1="540.5" y2="540.5" stroke="#c8c8c8" stroke-width="0.7"/>
<line x1="54.6" x2="277.1" y1="560.6" y2="560.6" stroke="#c8c8c8" stroke-width="0.7"/>
<line x1="54.6" x2="277.1" y1="580.8" y2="580.8" stroke="#c8c8c8" stroke-width="0.7"/>
<line x1="54.6" x2="277.1" y1="600.9" y2="600.9" stroke="#c8c8c8" stroke-width="0.7"/>
<line x1="54.6" x2="277.1" y1="621.0" y2="621.0" stroke="#c8c8c8" stroke-width="0.7"/>
<line x1="54.6" x2="277.1" y1="641.2" y2="641.2" stroke="#c8c8c8" stroke-width="0.7"/>
<line x1="54.6" x2="277.1" y1="661.4" y2="661.4" stroke="#c8c8c8" stroke-width="0.7"/>
<line x1="54.6" x2="277.1" y1="681.5" y2="681.5" stroke="#c8c8c8" stroke-width="0.7"/>
<rect x="54.6" y="512.6" width="222.5" height="174.7" fill="none" stroke="#222" stroke-width="0.8"/>
<line x1="51.4" x2="54.6" y1="520.3" y2="520.3" stroke="#222" stroke-width="0.7"/>
<text x="47.3" y="524.7" font-size="12.2" text-anchor="end" fill="#111" textLength="7.2" lengthAdjust="spacingAndGlyphs">0</text>
<line x1="51.4" x2="54.6" y1="540.5" y2="540.5" stroke="#222" stroke-width="0.7"/>
<text x="47.3" y="544.9" font-size="12.2" text-anchor="end" fill="#111" textLength="18.2" lengthAdjust="spacingAndGlyphs">−5</text>
<line x1="51.4" x2="54.6" y1="560.6" y2="560.6" stroke="#222" stroke-width="0.7"/>
<text x="47.3" y="565.0" font-size="12.2" text-anchor="end" fill="#111" textLength="26.2" lengthAdjust="spacingAndGlyphs">−10</text>
<line x1="51.4" x2="54.6" y1="580.8" y2="580.8" stroke="#222" stroke-width="0.7"/>
<text x="47.3" y="585.1" font-size="12.2" text-anchor="end" fill="#111" textLength="26.2" lengthAdjust="spacingAndGlyphs">−15</text>
<line x1="51.4" x2="54.6" y1="600.9" y2="600.9" stroke="#222" stroke-width="0.7"/>
<text x="47.3" y="605.3" font-size="12.2" text-anchor="end" fill="#111" textLength="26.2" lengthAdjust="spacingAndGlyphs">−20</text>
<line x1="51.4" x2="54.6" y1="621.0" y2="621.0" stroke="#222" stroke-width="0.7"/>
<text x="47.3" y="625.5" font-size="12.2" text-anchor="end" fill="#111" textLength="26.2" lengthAdjust="spacingAndGlyphs">−25</text>
<line x1="51.4" x2="54.6" y1="641.2" y2="641.2" stroke="#222" stroke-width="0.7"/>
<text x="47.3" y="645.6" font-size="12.2" text-anchor="end" fill="#111" textLength="26.2" lengthAdjust="spacingAndGlyphs">−30</text>
<line x1="51.4" x2="54.6" y1="661.4" y2="661.4" stroke="#222" stroke-width="0.7"/>
<text x="47.3" y="665.8" font-size="12.2" text-anchor="end" fill="#111" textLength="26.2" lengthAdjust="spacingAndGlyphs">−35</text>
<line x1="51.4" x2="54.6" y1="681.5" y2="681.5" stroke="#222" stroke-width="0.7"/>
<text x="47.3" y="685.9" font-size="12.2" text-anchor="end" fill="#111" textLength="26.2" lengthAdjust="spacingAndGlyphs">−40</text>
<line x1="65.0" x2="65.0" y1="687.3" y2="690.5" stroke="#222" stroke-width="0.7"/>
<text x="65.0" y="702.9" font-size="12.2" text-anchor="middle" fill="#111" textLength="7.6" lengthAdjust="spacingAndGlyphs">0</text>
<line x1="114.4" x2="114.4" y1="687.3" y2="690.5" stroke="#222" stroke-width="0.7"/>
<text x="114.4" y="702.9" font-size="12.2" text-anchor="middle" fill="#111" textLength="15.4" lengthAdjust="spacingAndGlyphs">10</text>
<line x1="163.8" x2="163.8" y1="687.3" y2="690.5" stroke="#222" stroke-width="0.7"/>
<text x="163.8" y="702.9" font-size="12.2" text-anchor="middle" fill="#111" textLength="15.4" lengthAdjust="spacingAndGlyphs">20</text>
<line x1="213.2" x2="213.2" y1="687.3" y2="690.5" stroke="#222" stroke-width="0.7"/>
<text x="213.2" y="702.9" font-size="12.2" text-anchor="middle" fill="#111" textLength="15.4" lengthAdjust="spacingAndGlyphs">30</text>
<line x1="262.6" x2="262.6" y1="687.3" y2="690.5" stroke="#222" stroke-width="0.7"/>
<text x="262.6" y="702.9" font-size="12.2" text-anchor="middle" fill="#111" textLength="15.4" lengthAdjust="spacingAndGlyphs">40</text>
<text x="163.4" y="720.3" font-size="12.8" text-anchor="middle" fill="#111" textLength="102" lengthAdjust="spacingAndGlyphs">Singular Value (<tspan font-style="italic">i</tspan>)</text>
<text transform="translate(11.6,599.8) rotate(-90)" font-size="12.8" text-anchor="middle" fill="#111" textLength="90.5" lengthAdjust="spacingAndGlyphs">Power |<tspan font-style="italic">λ</tspan><tspan font-size="8.5" font-style="italic" dy="2">i</tspan><tspan dy="-2">|</tspan><tspan font-size="8.5" dy="-5">2</tspan><tspan dy="5"> [dB]</tspan></text>
<polyline points="65.0,520.3 69.9,520.5 74.9,520.7 79.8,520.9 84.8,521.1 89.7,521.3 94.6,521.5 99.6,521.7 104.5,521.9 109.5,522.1 114.4,522.3 119.3,522.5 124.3,522.7 129.2,522.9 134.2,523.1 139.1,523.3 144.0,523.5 149.0,523.7 153.9,523.9 158.9,524.1 163.8,524.3 168.7,524.4 173.7,524.4 178.6,524.4 183.6,524.4 188.5,524.4 193.4,524.5 198.4,524.5 203.3,524.5 208.3,524.5 213.2,526.3 218.1,529.0 223.1,531.0 228.0,531.6 233.0,533.6 237.9,545.3 242.8,559.2 247.8,575.9 252.7,591.8 257.7,615.0 262.6,648.9 267.5,679.1" fill="none" stroke="#62a4da" stroke-width="2.3" stroke-linejoin="round"/>
<circle cx="65.0" cy="520.3" r="1.85" fill="#1c5078" stroke="#111" stroke-width="0.7"/>
<circle cx="69.9" cy="520.5" r="1.85" fill="#1c5078" stroke="#111" stroke-width="0.7"/>
<circle cx="74.9" cy="520.7" r="1.85" fill="#1c5078" stroke="#111" stroke-width="0.7"/>
<circle cx="79.8" cy="520.9" r="1.85" fill="#1c5078" stroke="#111" stroke-width="0.7"/>
<circle cx="84.8" cy="521.1" r="1.85" fill="#1c5078" stroke="#111" stroke-width="0.7"/>
<circle cx="89.7" cy="521.3" r="1.85" fill="#1c5078" stroke="#111" stroke-width="0.7"/>
<circle cx="94.6" cy="521.5" r="1.85" fill="#1c5078" stroke="#111" stroke-width="0.7"/>
<circle cx="99.6" cy="521.7" r="1.85" fill="#1c5078" stroke="#111" stroke-width="0.7"/>
<circle cx="104.5" cy="521.9" r="1.85" fill="#1c5078" stroke="#111" stroke-width="0.7"/>
<circle cx="109.5" cy="522.1" r="1.85" fill="#1c5078" stroke="#111" stroke-width="0.7"/>
<circle cx="114.4" cy="522.3" r="1.85" fill="#1c5078" stroke="#111" stroke-width="0.7"/>
<circle cx="119.3" cy="522.5" r="1.85" fill="#1c5078" stroke="#111" stroke-width="0.7"/>
<circle cx="124.3" cy="522.7" r="1.85" fill="#1c5078" stroke="#111" stroke-width="0.7"/>
<circle cx="129.2" cy="522.9" r="1.85" fill="#1c5078" stroke="#111" stroke-width="0.7"/>
<circle cx="134.2" cy="523.1" r="1.85" fill="#1c5078" stroke="#111" stroke-width="0.7"/>
<circle cx="139.1" cy="523.3" r="1.85" fill="#1c5078" stroke="#111" stroke-width="0.7"/>
<circle cx="144.0" cy="523.5" r="1.85" fill="#1c5078" stroke="#111" stroke-width="0.7"/>
<circle cx="149.0" cy="523.7" r="1.85" fill="#1c5078" stroke="#111" stroke-width="0.7"/>
<circle cx="153.9" cy="523.9" r="1.85" fill="#1c5078" stroke="#111" stroke-width="0.7"/>
<circle cx="158.9" cy="524.1" r="1.85" fill="#1c5078" stroke="#111" stroke-width="0.7"/>
<circle cx="163.8" cy="524.3" r="1.85" fill="#1c5078" stroke="#111" stroke-width="0.7"/>
<circle cx="168.7" cy="524.4" r="1.85" fill="#1c5078" stroke="#111" stroke-width="0.7"/>
<circle cx="173.7" cy="524.4" r="1.85" fill="#1c5078" stroke="#111" stroke-width="0.7"/>
<circle cx="178.6" cy="524.4" r="1.85" fill="#1c5078" stroke="#111" stroke-width="0.7"/>
<circle cx="183.6" cy="524.4" r="1.85" fill="#1c5078" stroke="#111" stroke-width="0.7"/>
<circle cx="188.5" cy="524.4" r="1.85" fill="#1c5078" stroke="#111" stroke-width="0.7"/>
<circle cx="193.4" cy="524.5" r="1.85" fill="#1c5078" stroke="#111" stroke-width="0.7"/>
<circle cx="198.4" cy="524.5" r="1.85" fill="#1c5078" stroke="#111" stroke-width="0.7"/>
<circle cx="203.3" cy="524.5" r="1.85" fill="#1c5078" stroke="#111" stroke-width="0.7"/>
<circle cx="208.3" cy="524.5" r="1.85" fill="#1c5078" stroke="#111" stroke-width="0.7"/>
<circle cx="213.2" cy="526.3" r="1.85" fill="#1c5078" stroke="#111" stroke-width="0.7"/>
<circle cx="218.1" cy="529.0" r="1.85" fill="#1c5078" stroke="#111" stroke-width="0.7"/>
<circle cx="223.1" cy="531.0" r="1.85" fill="#1c5078" stroke="#111" stroke-width="0.7"/>
<circle cx="228.0" cy="531.6" r="1.85" fill="#1c5078" stroke="#111" stroke-width="0.7"/>
<circle cx="233.0" cy="533.6" r="1.85" fill="#1c5078" stroke="#111" stroke-width="0.7"/>
<circle cx="237.9" cy="545.3" r="1.85" fill="#1c5078" stroke="#111" stroke-width="0.7"/>
<circle cx="242.8" cy="559.2" r="1.85" fill="#1c5078" stroke="#111" stroke-width="0.7"/>
<circle cx="247.8" cy="575.9" r="1.85" fill="#1c5078" stroke="#111" stroke-width="0.7"/>
<circle cx="252.7" cy="591.8" r="1.85" fill="#1c5078" stroke="#111" stroke-width="0.7"/>
<circle cx="257.7" cy="615.0" r="1.85" fill="#1c5078" stroke="#111" stroke-width="0.7"/>
<circle cx="262.6" cy="648.9" r="1.85" fill="#1c5078" stroke="#111" stroke-width="0.7"/>
<circle cx="267.5" cy="679.1" r="1.85" fill="#1c5078" stroke="#111" stroke-width="0.7"/>
<text x="287.4" y="526.5" font-size="16.6">e)</text>
<clipPath id="clipE"><rect x="287.9" y="505" width="400" height="191.8"/></clipPath>
<g clip-path="url(#clipE)">
<polygon points="682.4,601.8 541.6,696.8 541.6,699.8 682.4,604.8" fill="#383838"/>
<linearGradient id="gtab" gradientUnits="userSpaceOnUse" x1="560" y1="525" x2="420" y2="700"><stop offset="0" stop-color="#c4c4c4"/><stop offset="0.55" stop-color="#d0d0d0"/><stop offset="1" stop-color="#dadada"/></linearGradient>
<polygon points="288.0,617.3 567.0,524.2 682.4,601.8 541.6,696.8 293.4,696.8 288.0,677.7" fill="url(#gtab)"/>
<line x1="288" y1="677.7" x2="293.4" y2="696.8" stroke="#8a8a8a" stroke-width="0.7" stroke-dasharray="1.2,0.8"/>
<g fill="#2e2e2e"><circle r="1" transform="matrix(-0.859,0.288,0.587,0.383,566.7,529.5)"/><circle r="1" transform="matrix(-0.861,0.304,0.609,0.397,574.5,534.7)"/><circle r="1" transform="matrix(-0.862,0.320,0.634,0.413,582.7,540.0)"/><circle r="1" transform="matrix(-0.862,0.338,0.659,0.430,591.2,545.5)"/><circle r="1" transform="matrix(-0.861,0.356,0.686,0.447,600.0,551.3)"/><circle r="1" transform="matrix(-0.860,0.376,0.715,0.466,609.3,557.3)"/><circle r="1" transform="matrix(-0.861,0.399,0.754,0.492,618.9,563.6)"/><circle r="1" transform="matrix(-0.865,0.426,0.804,0.524,628.9,570.1)"/><circle r="1" transform="matrix(-0.868,0.455,0.858,0.560,639.4,576.9)"/><circle r="1" transform="matrix(-0.870,0.486,0.918,0.598,650.3,584.1)"/><circle r="1" transform="matrix(-0.870,0.520,0.982,0.641,661.8,591.5)"/><circle r="1" transform="matrix(-0.869,0.557,1.054,0.687,673.7,599.4)"/><circle r="1" transform="matrix(-0.888,0.298,0.586,0.393,559.3,532.0)"/><circle r="1" transform="matrix(-0.890,0.314,0.609,0.408,567.1,537.3)"/><circle r="1" transform="matrix(-0.891,0.331,0.633,0.424,575.3,542.8)"/><circle r="1" transform="matrix(-0.892,0.349,0.659,0.442,583.8,548.5)"/><circle r="1" transform="matrix(-0.892,0.369,0.687,0.460,592.6,554.4)"/><circle r="1" transform="matrix(-0.892,0.390,0.717,0.481,601.9,560.6)"/><circle r="1" transform="matrix(-0.897,0.416,0.764,0.512,611.5,567.0)"/><circle r="1" transform="matrix(-0.902,0.444,0.816,0.547,621.5,573.8)"/><circle r="1" transform="matrix(-0.906,0.474,0.872,0.584,632.0,580.8)"/><circle r="1" transform="matrix(-0.909,0.508,0.933,0.626,643.0,588.1)"/><circle r="1" transform="matrix(-0.911,0.544,1.001,0.671,654.5,595.9)"/><circle r="1" transform="matrix(-0.911,0.583,1.075,0.720,666.6,604.0)"/><circle r="1" transform="matrix(-0.917,0.308,0.584,0.403,551.6,534.6)"/><circle r="1" transform="matrix(-0.920,0.325,0.607,0.419,559.4,540.0)"/><circle r="1" transform="matrix(-0.922,0.343,0.632,0.436,567.6,545.6)"/><circle r="1" transform="matrix(-0.923,0.362,0.659,0.454,576.1,551.5)"/><circle r="1" transform="matrix(-0.924,0.382,0.687,0.474,584.9,557.6)"/><circle r="1" transform="matrix(-0.929,0.406,0.726,0.501,594.2,563.9)"/><circle r="1" transform="matrix(-0.935,0.434,0.774,0.534,603.8,570.6)"/><circle r="1" transform="matrix(-0.941,0.463,0.827,0.571,613.9,577.5)"/><circle r="1" transform="matrix(-0.947,0.496,0.885,0.611,624.4,584.8)"/><circle r="1" transform="matrix(-0.951,0.531,0.949,0.655,635.4,592.4)"/><circle r="1" transform="matrix(-0.954,0.569,1.019,0.703,647.0,600.4)"/><circle r="1" transform="matrix(-0.955,0.611,1.096,0.756,659.1,608.7)"/><circle r="1" transform="matrix(-0.949,0.318,0.582,0.414,543.7,537.2)"/><circle r="1" transform="matrix(-0.952,0.336,0.606,0.430,551.5,542.8)"/><circle r="1" transform="matrix(-0.955,0.355,0.631,0.448,559.6,548.6)"/><circle r="1" transform="matrix(-0.957,0.375,0.658,0.467,568.1,554.6)"/><circle r="1" transform="matrix(-0.959,0.397,0.688,0.489,577.0,560.9)"/><circle r="1" transform="matrix(-0.968,0.424,0.734,0.522,586.2,567.4)"/><circle r="1" transform="matrix(-0.976,0.453,0.784,0.557,595.8,574.3)"/><circle r="1" transform="matrix(-0.983,0.484,0.839,0.596,605.9,581.4)"/><circle r="1" transform="matrix(-0.990,0.518,0.899,0.639,616.5,588.9)"/><circle r="1" transform="matrix(-0.995,0.556,0.965,0.686,627.5,596.8)"/><circle r="1" transform="matrix(-1.000,0.597,1.038,0.738,639.1,605.0)"/><circle r="1" transform="matrix(-1.003,0.642,1.118,0.794,651.3,613.7)"/><circle r="1" transform="matrix(-0.981,0.329,0.579,0.425,535.5,540.0)"/><circle r="1" transform="matrix(-0.986,0.348,0.603,0.442,543.3,545.7)"/><circle r="1" transform="matrix(-0.989,0.367,0.629,0.461,551.4,551.6)"/><circle r="1" transform="matrix(-0.992,0.389,0.656,0.481,559.9,557.8)"/><circle r="1" transform="matrix(-1.000,0.414,0.695,0.509,568.7,564.3)"/><circle r="1" transform="matrix(-1.010,0.442,0.742,0.544,577.9,571.0)"/><circle r="1" transform="matrix(-1.019,0.473,0.794,0.582,587.5,578.1)"/><circle r="1" transform="matrix(-1.028,0.506,0.851,0.624,597.6,585.5)"/><circle r="1" transform="matrix(-1.036,0.543,0.913,0.669,608.2,593.3)"/><circle r="1" transform="matrix(-1.043,0.583,0.981,0.719,619.3,601.4)"/><circle r="1" transform="matrix(-1.049,0.626,1.057,0.775,631.0,609.9)"/><circle r="1" transform="matrix(-1.054,0.675,1.140,0.836,643.2,618.9)"/><circle r="1" transform="matrix(-1.016,0.341,0.576,0.437,527.1,542.8)"/><circle r="1" transform="matrix(-1.021,0.360,0.601,0.455,534.8,548.7)"/><circle r="1" transform="matrix(-1.025,0.381,0.627,0.475,542.9,554.8)"/><circle r="1" transform="matrix(-1.031,0.404,0.657,0.498,551.3,561.2)"/><circle r="1" transform="matrix(-1.043,0.431,0.701,0.531,560.1,567.8)"/><circle r="1" transform="matrix(-1.054,0.461,0.750,0.568,569.3,574.8)"/><circle r="1" transform="matrix(-1.065,0.494,0.803,0.609,578.9,582.1)"/><circle r="1" transform="matrix(-1.076,0.530,0.862,0.653,589.0,589.8)"/><circle r="1" transform="matrix(-1.086,0.569,0.926,0.702,599.6,597.8)"/><circle r="1" transform="matrix(-1.095,0.611,0.997,0.756,610.7,606.2)"/><circle r="1" transform="matrix(-1.102,0.658,1.076,0.815,622.4,615.0)"/><circle r="1" transform="matrix(-1.109,0.710,1.163,0.881,634.7,624.4)"/><circle r="1" transform="matrix(-1.052,0.353,0.573,0.449,518.3,545.7)"/><circle r="1" transform="matrix(-1.058,0.373,0.597,0.468,526.0,551.8)"/><circle r="1" transform="matrix(-1.064,0.395,0.624,0.489,534.0,558.1)"/><circle r="1" transform="matrix(-1.075,0.421,0.662,0.519,542.4,564.6)"/><circle r="1" transform="matrix(-1.089,0.450,0.707,0.555,551.2,571.5)"/><circle r="1" transform="matrix(-1.102,0.482,0.758,0.594,560.4,578.7)"/><circle r="1" transform="matrix(-1.115,0.517,0.813,0.637,570.0,586.3)"/><circle r="1" transform="matrix(-1.127,0.555,0.873,0.684,580.0,594.2)"/><circle r="1" transform="matrix(-1.139,0.597,0.940,0.737,590.6,602.5)"/><circle r="1" transform="matrix(-1.150,0.642,1.013,0.794,601.8,611.2)"/><circle r="1" transform="matrix(-1.160,0.692,1.095,0.858,613.5,620.4)"/><circle r="1" transform="matrix(-1.168,0.748,1.185,0.929,625.8,630.0)"/><circle r="1" transform="matrix(-1.091,0.366,0.569,0.462,509.2,548.8)"/><circle r="1" transform="matrix(-1.098,0.387,0.593,0.482,516.9,555.0)"/><circle r="1" transform="matrix(-1.106,0.411,0.623,0.506,524.8,561.5)"/><circle r="1" transform="matrix(-1.122,0.440,0.666,0.541,533.2,568.3)"/><circle r="1" transform="matrix(-1.137,0.471,0.713,0.580,541.9,575.4)"/><circle r="1" transform="matrix(-1.153,0.504,0.765,0.621,551.1,582.8)"/><circle r="1" transform="matrix(-1.168,0.541,0.821,0.668,560.6,590.6)"/><circle r="1" transform="matrix(-1.182,0.582,0.884,0.718,570.7,598.8)"/><circle r="1" transform="matrix(-1.196,0.626,0.953,0.774,581.3,607.4)"/><circle r="1" transform="matrix(-1.209,0.675,1.029,0.836,592.4,616.4)"/><circle r="1" transform="matrix(-1.222,0.729,1.114,0.905,604.1,625.9)"/><circle r="1" transform="matrix(-1.232,0.789,1.208,0.982,616.5,636.0)"/><circle r="1" transform="matrix(-1.131,0.379,0.564,0.476,499.8,551.9)"/><circle r="1" transform="matrix(-1.139,0.402,0.589,0.497,507.4,558.3)"/><circle r="1" transform="matrix(-1.154,0.429,0.626,0.528,515.3,565.0)"/><circle r="1" transform="matrix(-1.172,0.459,0.670,0.565,523.6,572.0)"/><circle r="1" transform="matrix(-1.190,0.492,0.718,0.606,532.3,579.4)"/><circle r="1" transform="matrix(-1.207,0.528,0.771,0.651,541.4,587.0)"/><circle r="1" transform="matrix(-1.224,0.568,0.830,0.700,550.9,595.1)"/><circle r="1" transform="matrix(-1.241,0.611,0.894,0.755,561.0,603.6)"/><circle r="1" transform="matrix(-1.258,0.659,0.965,0.815,571.5,612.5)"/><circle r="1" transform="matrix(-1.274,0.711,1.045,0.882,582.6,621.9)"/><circle r="1" transform="matrix(-1.288,0.769,1.133,0.956,594.4,631.8)"/><circle r="1" transform="matrix(-1.302,0.834,1.231,1.039,606.8,642.2)"/><circle r="1" transform="matrix(-1.174,0.394,0.558,0.490,490.0,555.2)"/><circle r="1" transform="matrix(-1.186,0.418,0.587,0.516,497.5,561.8)"/><circle r="1" transform="matrix(-1.206,0.448,0.628,0.552,505.4,568.7)"/><circle r="1" transform="matrix(-1.226,0.480,0.673,0.591,513.6,575.9)"/><circle r="1" transform="matrix(-1.245,0.515,0.722,0.635,522.2,583.5)"/><circle r="1" transform="matrix(-1.265,0.554,0.777,0.683,531.3,591.5)"/><circle r="1" transform="matrix(-1.285,0.596,0.837,0.736,540.8,599.8)"/><circle r="1" transform="matrix(-1.305,0.642,0.904,0.794,550.8,608.6)"/><circle r="1" transform="matrix(-1.324,0.693,0.977,0.859,561.3,617.8)"/><circle r="1" transform="matrix(-1.343,0.750,1.060,0.931,572.4,627.6)"/><circle r="1" transform="matrix(-1.361,0.812,1.151,1.012,584.1,637.9)"/><circle r="1" transform="matrix(-1.377,0.882,1.254,1.102,596.5,648.8)"/><circle r="1" transform="matrix(-1.219,0.409,0.551,0.505,479.9,558.6)"/><circle r="1" transform="matrix(-1.239,0.437,0.587,0.538,487.3,565.4)"/><circle r="1" transform="matrix(-1.261,0.468,0.629,0.577,495.1,572.5)"/><circle r="1" transform="matrix(-1.283,0.503,0.675,0.619,503.2,580.0)"/><circle r="1" transform="matrix(-1.305,0.540,0.726,0.666,511.8,587.8)"/><circle r="1" transform="matrix(-1.328,0.581,0.782,0.717,520.7,596.1)"/><circle r="1" transform="matrix(-1.350,0.626,0.844,0.774,530.2,604.7)"/><circle r="1" transform="matrix(-1.373,0.676,0.913,0.837,540.1,613.8)"/><circle r="1" transform="matrix(-1.396,0.731,0.989,0.907,550.6,623.4)"/><circle r="1" transform="matrix(-1.418,0.792,1.074,0.985,561.7,633.6)"/><circle r="1" transform="matrix(-1.439,0.859,1.169,1.072,573.4,644.3)"/><circle r="1" transform="matrix(-1.460,0.935,1.276,1.170,585.8,655.7)"/><circle r="1" transform="matrix(-1.271,0.426,0.548,0.525,469.4,562.1)"/><circle r="1" transform="matrix(-1.295,0.457,0.587,0.562,476.7,569.2)"/><circle r="1" transform="matrix(-1.319,0.490,0.629,0.604,484.4,576.5)"/><circle r="1" transform="matrix(-1.344,0.527,0.677,0.649,492.4,584.2)"/><circle r="1" transform="matrix(-1.369,0.567,0.729,0.699,500.9,592.4)"/><circle r="1" transform="matrix(-1.395,0.610,0.786,0.754,509.7,600.9)"/><circle r="1" transform="matrix(-1.421,0.659,0.850,0.815,519.1,609.9)"/><circle r="1" transform="matrix(-1.447,0.712,0.921,0.883,529.0,619.3)"/><circle r="1" transform="matrix(-1.473,0.771,0.999,0.958,539.4,629.3)"/><circle r="1" transform="matrix(-1.499,0.837,1.088,1.043,550.4,639.9)"/><circle r="1" transform="matrix(-1.524,0.910,1.187,1.138,562.1,651.0)"/><circle r="1" transform="matrix(-1.549,0.992,1.298,1.245,574.5,662.9)"/><circle r="1" transform="matrix(-1.328,0.445,0.545,0.549,458.4,565.8)"/><circle r="1" transform="matrix(-1.355,0.478,0.585,0.588,465.6,573.1)"/><circle r="1" transform="matrix(-1.382,0.513,0.629,0.632,473.2,580.7)"/><circle r="1" transform="matrix(-1.410,0.552,0.677,0.681,481.1,588.7)"/><circle r="1" transform="matrix(-1.438,0.595,0.730,0.734,489.5,597.1)"/><circle r="1" transform="matrix(-1.467,0.642,0.789,0.794,498.2,605.9)"/><circle r="1" transform="matrix(-1.497,0.694,0.854,0.859,507.5,615.2)"/><circle r="1" transform="matrix(-1.527,0.752,0.927,0.933,517.3,625.1)"/><circle r="1" transform="matrix(-1.557,0.815,1.009,1.015,527.6,635.5)"/><circle r="1" transform="matrix(-1.587,0.886,1.100,1.107,538.6,646.5)"/><circle r="1" transform="matrix(-1.617,0.966,1.203,1.210,550.2,658.1)"/><circle r="1" transform="matrix(-1.647,1.055,1.319,1.327,562.5,670.6)"/><circle r="1" transform="matrix(-1.389,0.466,0.542,0.574,447.0,569.6)"/><circle r="1" transform="matrix(-1.419,0.500,0.582,0.616,454.1,577.1)"/><circle r="1" transform="matrix(-1.449,0.538,0.627,0.663,461.5,585.0)"/><circle r="1" transform="matrix(-1.480,0.580,0.676,0.715,469.3,593.3)"/><circle r="1" transform="matrix(-1.512,0.626,0.730,0.773,477.6,602.0)"/><circle r="1" transform="matrix(-1.545,0.676,0.790,0.837,486.2,611.2)"/><circle r="1" transform="matrix(-1.579,0.732,0.858,0.908,495.4,620.9)"/><circle r="1" transform="matrix(-1.613,0.794,0.933,0.987,505.1,631.1)"/><circle r="1" transform="matrix(-1.648,0.863,1.017,1.076,515.3,641.9)"/><circle r="1" transform="matrix(-1.684,0.940,1.111,1.176,526.1,653.4)"/><circle r="1" transform="matrix(-1.719,1.026,1.218,1.289,537.7,665.6)"/><circle r="1" transform="matrix(-1.754,1.123,1.339,1.417,550.0,678.6)"/><circle r="1" transform="matrix(-1.455,0.488,0.537,0.601,435.1,573.6)"/><circle r="1" transform="matrix(-1.487,0.525,0.578,0.646,442.1,581.4)"/><circle r="1" transform="matrix(-1.521,0.565,0.623,0.697,449.4,589.5)"/><circle r="1" transform="matrix(-1.556,0.610,0.673,0.752,457.0,598.1)"/><circle r="1" transform="matrix(-1.592,0.659,0.729,0.814,465.1,607.1)"/><circle r="1" transform="matrix(-1.630,0.713,0.790,0.883,473.6,616.7)"/><circle r="1" transform="matrix(-1.668,0.773,0.859,0.960,482.7,626.8)"/><circle r="1" transform="matrix(-1.707,0.840,0.936,1.046,492.2,637.4)"/><circle r="1" transform="matrix(-1.748,0.915,1.023,1.143,502.3,648.7)"/><circle r="1" transform="matrix(-1.789,0.999,1.121,1.252,513.1,660.7)"/><circle r="1" transform="matrix(-1.830,1.093,1.231,1.376,524.5,673.5)"/><circle r="1" transform="matrix(-1.858,1.189,1.335,1.492,536.7,687.1)"/><circle r="1" transform="matrix(-1.525,0.511,0.531,0.630,422.8,577.8)"/><circle r="1" transform="matrix(-1.561,0.551,0.573,0.679,429.5,585.8)"/><circle r="1" transform="matrix(-1.599,0.594,0.618,0.733,436.7,594.2)"/><circle r="1" transform="matrix(-1.638,0.642,0.669,0.793,444.2,603.1)"/><circle r="1" transform="matrix(-1.679,0.695,0.725,0.859,452.1,612.5)"/><circle r="1" transform="matrix(-1.721,0.753,0.788,0.934,460.4,622.5)"/><circle r="1" transform="matrix(-1.764,0.818,0.859,1.018,469.3,632.9)"/><circle r="1" transform="matrix(-1.809,0.891,0.938,1.111,478.7,644.1)"/><circle r="1" transform="matrix(-1.856,0.972,1.027,1.217,488.6,655.9)"/><circle r="1" transform="matrix(-1.904,1.063,1.128,1.336,499.2,668.4)"/><circle r="1" transform="matrix(-1.949,1.163,1.237,1.466,510.6,681.8)"/><circle r="1" transform="matrix(-1.967,1.259,1.323,1.567,522.6,696.1)"/><circle r="1" transform="matrix(-1.600,0.536,0.523,0.661,409.9,582.1)"/><circle r="1" transform="matrix(-1.640,0.579,0.565,0.713,416.4,590.4)"/><circle r="1" transform="matrix(-1.682,0.625,0.611,0.772,423.4,599.2)"/><circle r="1" transform="matrix(-1.726,0.676,0.662,0.836,430.7,608.4)"/><circle r="1" transform="matrix(-1.772,0.733,0.720,0.908,438.4,618.2)"/><circle r="1" transform="matrix(-1.820,0.796,0.784,0.989,446.6,628.5)"/><circle r="1" transform="matrix(-1.869,0.867,0.856,1.080,455.3,639.4)"/><circle r="1" transform="matrix(-1.921,0.946,0.936,1.182,464.5,651.1)"/><circle r="1" transform="matrix(-1.974,1.034,1.028,1.298,474.3,663.4)"/><circle r="1" transform="matrix(-2.030,1.134,1.132,1.429,484.7,676.6)"/><circle r="1" transform="matrix(-2.063,1.232,1.220,1.540,495.8,690.6)"/><circle r="1" transform="matrix(-1.680,0.563,0.514,0.694,396.4,586.6)"/><circle r="1" transform="matrix(-1.725,0.609,0.555,0.751,402.8,595.2)"/><circle r="1" transform="matrix(-1.773,0.659,0.602,0.814,409.5,604.4)"/><circle r="1" transform="matrix(-1.822,0.714,0.654,0.884,416.6,614.0)"/><circle r="1" transform="matrix(-1.874,0.775,0.711,0.962,424.1,624.1)"/><circle r="1" transform="matrix(-1.928,0.844,0.776,1.050,432.1,634.9)"/><circle r="1" transform="matrix(-1.984,0.920,0.849,1.148,440.5,646.3)"/><circle r="1" transform="matrix(-2.043,1.006,0.932,1.260,449.5,658.4)"/><circle r="1" transform="matrix(-2.105,1.102,1.026,1.387,459.1,671.4)"/><circle r="1" transform="matrix(-2.156,1.204,1.119,1.513,469.3,685.2)"/><circle r="1" transform="matrix(-1.767,0.593,0.501,0.731,382.3,591.4)"/><circle r="1" transform="matrix(-1.817,0.641,0.543,0.792,388.4,600.3)"/><circle r="1" transform="matrix(-1.870,0.695,0.590,0.859,394.9,609.8)"/><circle r="1" transform="matrix(-1.926,0.754,0.642,0.935,401.8,619.8)"/><circle r="1" transform="matrix(-1.984,0.821,0.700,1.020,409.1,630.3)"/><circle r="1" transform="matrix(-2.045,0.895,0.766,1.116,416.8,641.6)"/><circle r="1" transform="matrix(-2.109,0.978,0.840,1.224,424.9,653.5)"/><circle r="1" transform="matrix(-2.177,1.072,0.924,1.346,433.7,666.2)"/><circle r="1" transform="matrix(-2.248,1.177,1.019,1.485,443.0,679.8)"/><circle r="1" transform="matrix(-2.286,1.277,1.092,1.591,452.9,694.3)"/><circle r="1" transform="matrix(-1.861,0.624,0.487,0.770,367.6,596.3)"/><circle r="1" transform="matrix(-1.917,0.676,0.528,0.836,373.4,605.6)"/><circle r="1" transform="matrix(-1.976,0.734,0.575,0.909,379.6,615.4)"/><circle r="1" transform="matrix(-2.038,0.799,0.627,0.991,386.2,625.8)"/><circle r="1" transform="matrix(-2.104,0.870,0.685,1.084,393.2,636.9)"/><circle r="1" transform="matrix(-2.173,0.951,0.751,1.188,400.6,648.6)"/><circle r="1" transform="matrix(-2.246,1.042,0.826,1.306,408.5,661.1)"/><circle r="1" transform="matrix(-2.324,1.144,0.911,1.441,417.0,674.5)"/><circle r="1" transform="matrix(-2.383,1.248,0.988,1.563,426.0,688.7)"/><circle r="1" transform="matrix(-1.962,0.658,0.469,0.813,352.1,601.5)"/><circle r="1" transform="matrix(-2.025,0.714,0.510,0.884,357.7,611.1)"/><circle r="1" transform="matrix(-2.091,0.777,0.556,0.963,363.6,621.4)"/><circle r="1" transform="matrix(-2.161,0.847,0.607,1.053,369.9,632.2)"/><circle r="1" transform="matrix(-2.235,0.925,0.666,1.153,376.6,643.8)"/><circle r="1" transform="matrix(-2.313,1.012,0.732,1.268,383.6,656.1)"/><circle r="1" transform="matrix(-2.397,1.111,0.806,1.398,391.2,669.2)"/><circle r="1" transform="matrix(-2.477,1.219,0.885,1.535,399.3,683.2)"/><circle r="1" transform="matrix(-2.529,1.325,0.950,1.646,407.9,698.1)"/><circle r="1" transform="matrix(-2.072,0.695,0.447,0.859,335.9,606.9)"/><circle r="1" transform="matrix(-2.142,0.755,0.488,0.936,341.2,617.0)"/><circle r="1" transform="matrix(-2.216,0.823,0.533,1.022,346.8,627.6)"/><circle r="1" transform="matrix(-2.294,0.899,0.583,1.120,352.7,639.0)"/><circle r="1" transform="matrix(-2.378,0.984,0.641,1.230,359.0,651.1)"/><circle r="1" transform="matrix(-2.468,1.080,0.706,1.356,365.7,663.9)"/><circle r="1" transform="matrix(-2.563,1.188,0.781,1.499,372.8,677.7)"/><circle r="1" transform="matrix(-2.629,1.294,0.842,1.616,380.5,692.4)"/><circle r="1" transform="matrix(-2.191,0.735,0.422,0.909,319.0,612.6)"/><circle r="1" transform="matrix(-2.269,0.800,0.461,0.993,323.8,623.1)"/><circle r="1" transform="matrix(-2.352,0.874,0.505,1.087,329.0,634.2)"/><circle r="1" transform="matrix(-2.441,0.956,0.554,1.194,334.5,646.1)"/><circle r="1" transform="matrix(-2.536,1.049,0.610,1.315,340.4,658.7)"/><circle r="1" transform="matrix(-2.637,1.154,0.674,1.453,346.7,672.2)"/><circle r="1" transform="matrix(-2.726,1.264,0.736,1.586,353.4,686.7)"/><circle r="1" transform="matrix(-2.320,0.778,0.392,0.964,301.1,618.6)"/><circle r="1" transform="matrix(-2.407,0.849,0.429,1.055,305.6,629.5)"/><circle r="1" transform="matrix(-2.501,0.929,0.471,1.158,310.3,641.2)"/><circle r="1" transform="matrix(-2.601,1.019,0.518,1.275,315.4,653.6)"/><circle r="1" transform="matrix(-2.709,1.121,0.572,1.408,320.8,666.9)"/><circle r="1" transform="matrix(-2.821,1.235,0.633,1.557,326.5,681.1)"/><circle r="1" transform="matrix(-2.898,1.344,0.680,1.672,332.7,696.3)"/><circle r="1" transform="matrix(-2.559,0.903,0.391,1.124,286.3,636.3)"/><circle r="1" transform="matrix(-2.664,0.990,0.430,1.236,290.6,648.5)"/><circle r="1" transform="matrix(-2.778,1.088,0.475,1.365,295.1,661.5)"/><circle r="1" transform="matrix(-2.900,1.200,0.526,1.512,299.9,675.5)"/><circle r="1" transform="matrix(-2.998,1.312,0.570,1.641,305.1,690.4)"/></g>
</g>
<polyline points="575.4,570.0 573.5,581.5 543.6,597.7 495.5,618.5 452.5,637.7 391.1,658.2 388.6,652.3 396.2,643.6" fill="none" stroke="#3a5bd8" stroke-width="1.1" stroke-linejoin="round" stroke-linecap="round" />
<polyline points="543.6,597.7 567.4,617.3" fill="none" stroke="#3a5bd8" stroke-width="0.7" stroke-linejoin="round" stroke-linecap="round" />
<polygon points="452.2,635.5 496.1,617.3 496.8,620.3 452.8,638.8" fill="#3a2f38" />
<polygon points="454.2,630.5 460.3,628.0 460.6,635.6 454.5,638.0" fill="#3e343c" />
<polygon points="489.0,615.2 495.0,612.8 495.3,620.4 489.3,622.8" fill="#3e343c" />
<polygon points="460.5,624.2 468.3,621.0 468.7,628.5 460.9,631.7" fill="#3f3540" />
<polygon points="460.5,624.2 468.3,621.0 468.5,622.4 460.7,625.6" fill="#5c5060" />
<polygon points="460.9,630.4 468.7,627.2 468.7,628.5 460.9,631.7" fill="#2a2228" />
<polygon points="470.3,620.1 478.1,616.9 478.5,624.4 470.7,627.6" fill="#3f3540" />
<polygon points="470.3,620.1 478.1,616.9 478.3,618.3 470.5,621.5" fill="#5c5060" />
<polygon points="470.7,626.3 478.5,623.1 478.5,624.4 470.7,627.6" fill="#2a2228" />
<polygon points="480.5,615.8 488.3,612.6 488.7,620.1 480.9,623.3" fill="#3f3540" />
<polygon points="480.5,615.8 488.3,612.6 488.5,614.0 480.7,617.2" fill="#5c5060" />
<polygon points="480.9,622.0 488.7,618.8 488.7,620.1 480.9,623.3" fill="#2a2228" />
<text transform="translate(475.5,640.5) rotate(-20)" font-size="9" fill="#111">P.C</text>
<ellipse cx="311.5" cy="642.5" rx="5.6" ry="3.4" fill="#1e1e1e"/>
<path d="M290.5,629.5 q1,-4 6,-4.5" fill="none" stroke="#222" stroke-width="1.6"/>
<polygon points="297.8,630.9 317.5,625.2 321.5,635.3 301.8,641.9" fill="#5c1a1f" />
<polygon points="294.1,619.1 312.7,613.4 317.5,625.2 297.8,630.9" fill="#d8434b" />
<text transform="translate(296.6,629.2) rotate(-17)" font-size="10.5" fill="#ffb21c">Cam</text>
<polygon points="315.6,618.2 334.6,614.6 334.8,620.6 318.0,625.4" fill="#2b1a2c" />
<polyline points="316.5,620.4 334.6,616.9" fill="none" stroke="#5a4a5e" stroke-width="0.8" stroke-linejoin="round" stroke-linecap="round" />
<polyline points="334.5,616.2 407.5,589.8" fill="none" stroke="#8c8428" stroke-width="5.3" stroke-linejoin="round" stroke-linecap="round" />
<polyline points="334.5,616.2 407.5,589.8" fill="none" stroke="#f5f064" stroke-width="4.3" stroke-linejoin="round" stroke-linecap="round" />
<polyline points="334.5,619.0 429.5,611.5" fill="none" stroke="#8c8428" stroke-width="4.0" stroke-linejoin="round" stroke-linecap="round" />
<polyline points="334.5,619.0 429.5,611.5" fill="none" stroke="#f5f064" stroke-width="3.0" stroke-linejoin="round" stroke-linecap="round" />
<polyline points="430.0,612.0 413.6,627.8" fill="none" stroke="#8c8428" stroke-width="3.6" stroke-linejoin="round" stroke-linecap="round" />
<polyline points="430.0,612.0 413.6,627.8" fill="none" stroke="#f5f064" stroke-width="2.6" stroke-linejoin="round" stroke-linecap="round" />
<polyline points="413.6,627.8 396.5,643.2" fill="none" stroke="#0f6a24" stroke-width="4.4" stroke-linejoin="round" stroke-linecap="round" />
<polyline points="413.6,627.8 396.5,643.2" fill="none" stroke="#27b442" stroke-width="3.2" stroke-linejoin="round" stroke-linecap="round" />
<text transform="translate(381.5,650.5) rotate(-43)" font-size="9.6" fill="#111">Collimator</text>
<polygon points="427.0,606.0 433.0,603.5 440.5,603.0 442.0,606.0 441.5,617.0 436.0,620.5 428.0,618.0" fill="#2a1c16" />
<polygon points="425.5,620.0 432.5,618.5 435.0,627.0 428.5,630.0" fill="#241814" />
<circle cx="444.5" cy="602.8" r="2.3" fill="#2a1c16"/>
<circle cx="438" cy="612" r="1.6" fill="#4a3a30"/>
<ellipse cx="430.5" cy="610.8" rx="2.2" ry="1.8" fill="#d8d0b0"/>
<rect x="435" y="586" width="10" height="8" fill="#262626"/><ellipse cx="440" cy="594" rx="5" ry="2.4" fill="#262626"/><ellipse cx="440" cy="586.5" rx="5" ry="2.2" fill="#4a4a4a"/>
<polygon points="406.4,585.3 441.5,573.6 446.1,583.5 410.0,595.8" fill="#c42a2c" />
<polygon points="406.4,585.3 418.7,581.2 422.3,591.6 410.0,595.8" fill="#1c0c10" />
<polygon points="436.2,575.4 440.3,574.0 444.9,583.9 440.8,585.3" fill="#1c0c10" />
<ellipse cx="443.8" cy="578.5" rx="2.4" ry="5.2" transform="rotate(-20 443.8 578.5)" fill="#b82426"/>
<text transform="translate(421.3,589.8) rotate(-19)" font-size="10.4" fill="#ffc21c">M.O</text>
<line x1="449" y1="570.5" x2="451.5" y2="568.3" stroke="#f2ea5a" stroke-width="1.2"/>
<line x1="450" y1="575.5" x2="453" y2="573" stroke="#f2ea5a" stroke-width="1.2"/>
<line x1="451.5" y1="580" x2="454.5" y2="577.5" stroke="#f2ea5a" stroke-width="1.2"/>
<line x1="456" y1="569.5" x2="458.5" y2="567.2" stroke="#f2ea5a" stroke-width="1.2"/>
<line x1="457" y1="573.5" x2="460" y2="571" stroke="#f2ea5a" stroke-width="1.2"/>
<line x1="458" y1="578" x2="461" y2="575.5" stroke="#f2ea5a" stroke-width="1.2"/>
<polygon points="463.0,552.0 466.0,553.5 480.0,559.5 478.0,584.0 464.0,578.0" fill="#bdbdbd" />
<polygon points="463.0,552.0 466.0,553.5 465.5,578.5 462.5,577.0" fill="#3a3a3a" />
<ellipse cx="471.6" cy="570" rx="7" ry="11.6" transform="rotate(-10 471.6 570)" fill="#19205c" stroke="#3a4cc0" stroke-width="0.9"/>
<ellipse cx="469.8" cy="569.5" rx="2.2" ry="3" fill="#c8b858"/>
<polyline points="472.0,567.5 504.5,557.2" fill="none" stroke="#1f2a7c" stroke-width="1.8" stroke-linejoin="round" stroke-linecap="round" />
<circle cx="506.5" cy="556.2" r="1.5" fill="#f4ee60"/>
<text transform="translate(488,570) rotate(12)" font-size="9.4" fill="#111">PL</text>
<g fill="#f2e456"><circle cx="520" cy="549.7" r="1.7249999999999999"/><circle cx="517.7" cy="552.0" r="1.6099999999999999"/><circle cx="522.3" cy="552.0" r="1.6099999999999999"/><circle cx="520" cy="554.3" r="1.4949999999999999"/><circle cx="520" cy="551.5" r="1.4949999999999999" fill="#e0d040"/></g>
<g fill="#f2e456"><circle cx="526.5" cy="545.6" r="1.35"/><circle cx="524.7" cy="547.4" r="1.26"/><circle cx="528.3" cy="547.4" r="1.26"/><circle cx="526.5" cy="549.2" r="1.1700000000000002"/><circle cx="526.5" cy="547" r="1.1700000000000002" fill="#e0d040"/></g>
<g fill="#f2e456"><circle cx="538.7" cy="542.5" r="1.875"/><circle cx="536.2" cy="545.0" r="1.75"/><circle cx="541.2" cy="545.0" r="1.75"/><circle cx="538.7" cy="547.5" r="1.625"/><circle cx="538.7" cy="544.5" r="1.625" fill="#e0d040"/></g>
<ellipse cx="523" cy="550" rx="3.2" ry="5" fill="#a8a8a8" opacity="0.5"/>
<text transform="translate(519.6,568) rotate(-16)" font-size="9.8" fill="#111">Lens</text>
<polygon points="543.7,519.2 550.3,513.9 596.3,532.0 595.3,535.6 586.6,558.6 583.0,558.1 540.6,541.7 540.1,538.7" fill="#251b25" />
<polygon points="543.7,519.2 550.3,513.9 596.3,532.0 592.7,535.4" fill="#4a3550" />
<polygon points="553.9,525.9 586.1,537.6 583.0,550.9 551.3,540.7" fill="#9e978c" />
<ellipse cx="562" cy="533.5" rx="2.5" ry="2.6" fill="#e8e8e8" opacity="0.8"/><ellipse cx="575" cy="538.5" rx="2.5" ry="2.6" fill="#e0e0e0" opacity="0.7"/>
<text transform="translate(561.8,527.3) rotate(19)" font-size="9.5" font-weight="bold" fill="#f4f4f4">SLM</text>
<polygon points="549.3,544.3 562.6,548.4 561.6,561.6 547.8,556.0" fill="#9e9e9e" />
<polyline points="545.7,541.7 562.0,536.6 558.3,546.3 575.0,541.5 576.0,558.5" fill="none" stroke="#8c8428" stroke-width="2.7" stroke-linejoin="round" stroke-linecap="round" />
<polyline points="545.7,541.7 562.0,536.6 558.3,546.3 575.0,541.5 576.0,558.5" fill="none" stroke="#f5f064" stroke-width="1.7" stroke-linejoin="round" stroke-linecap="round" />
<polyline points="575.8,558.5 575.2,569.5" fill="none" stroke="#0f6a24" stroke-width="3.6" stroke-linejoin="round" stroke-linecap="round" />
<polyline points="575.8,558.5 575.2,569.5" fill="none" stroke="#2bb446" stroke-width="2.6" stroke-linejoin="round" stroke-linecap="round" />
<polygon points="567.4,619.9 573.4,615.3 585.2,612.7 608.8,633.1 607.5,638.3 601.6,650.1 594.4,648.8 572.0,630.4 568.1,622.6" fill="#a81c20" />
<polygon points="573.4,615.3 585.2,612.7 608.8,633.1 598.3,638.3" fill="#d63538" />
<text transform="translate(582.6,619.6) rotate(47)" font-size="10" fill="#ffc21c">ECL</text>
<text transform="translate(549.4,596.9) rotate(42)" font-size="11.4" fill="#111">Fiber</text>
</svg></body></html>
